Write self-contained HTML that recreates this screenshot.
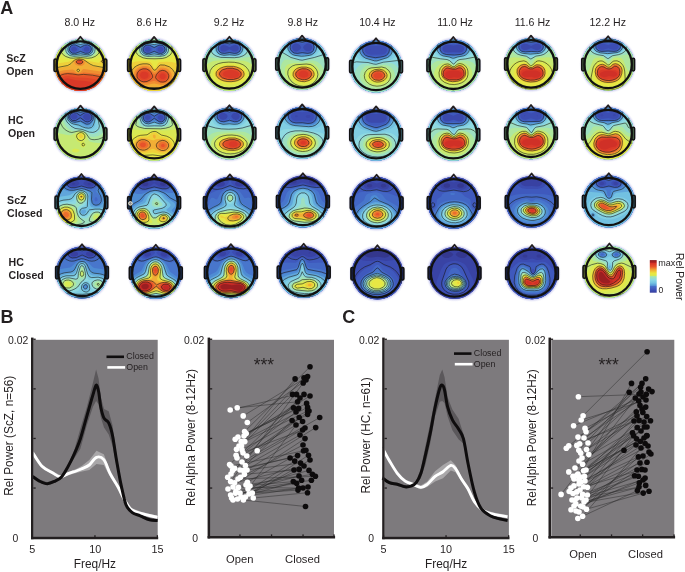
<!DOCTYPE html>
<html><head><meta charset="utf-8"><style>
html,body{margin:0;padding:0;background:#fff;width:685px;height:572px;overflow:hidden}
svg{display:block;will-change:transform}
text{font-family:"Liberation Sans",sans-serif;fill:#231f20}
</style></head><body>
<svg width="685" height="572" viewBox="0 0 685 572">
<text x="0.3" y="13.9" font-size="18" text-anchor="start" font-weight="bold">A</text>
<text x="0.5" y="323" font-size="18" text-anchor="start" font-weight="bold">B</text>
<text x="342.3" y="323" font-size="18" text-anchor="start" font-weight="bold">C</text>
<text x="79.8" y="26.3" font-size="10.6" text-anchor="middle" font-weight="normal">8.0 Hz</text>
<text x="151.9" y="26.3" font-size="10.6" text-anchor="middle" font-weight="normal">8.6 Hz</text>
<text x="229.1" y="26.3" font-size="10.6" text-anchor="middle" font-weight="normal">9.2 Hz</text>
<text x="302.7" y="26.3" font-size="10.6" text-anchor="middle" font-weight="normal">9.8 Hz</text>
<text x="377.4" y="26.3" font-size="10.6" text-anchor="middle" font-weight="normal">10.4 Hz</text>
<text x="455" y="26.3" font-size="10.6" text-anchor="middle" font-weight="normal">11.0 Hz</text>
<text x="532.5" y="26.3" font-size="10.6" text-anchor="middle" font-weight="normal">11.6 Hz</text>
<text x="607.7" y="26.3" font-size="10.6" text-anchor="middle" font-weight="normal">12.2 Hz</text>
<text x="6.3" y="61.9" font-size="10.6" text-anchor="start" font-weight="bold">ScZ</text>
<text x="6.3" y="74.8" font-size="10.6" text-anchor="start" font-weight="bold">Open</text>
<text x="8" y="124" font-size="10.6" text-anchor="start" font-weight="bold">HC</text>
<text x="8" y="136.9" font-size="10.6" text-anchor="start" font-weight="bold">Open</text>
<text x="7.1" y="204.1" font-size="10.6" text-anchor="start" font-weight="bold">ScZ</text>
<text x="7.1" y="217" font-size="10.6" text-anchor="start" font-weight="bold">Closed</text>
<text x="8.5" y="265.9" font-size="10.6" text-anchor="start" font-weight="bold">HC</text>
<text x="8.5" y="278.8" font-size="10.6" text-anchor="start" font-weight="bold">Closed</text>
<defs><radialGradient id="glow"><stop offset="0.86" stop-color="#b0b2e6" stop-opacity="1"/><stop offset="0.93" stop-color="#d4d4f2" stop-opacity="0.6"/><stop offset="1" stop-color="#fff" stop-opacity="0"/></radialGradient></defs>
<clipPath id="c0"><circle cx="80.4" cy="65.1" r="25.9"/></clipPath>
<circle cx="80.4" cy="65.1" r="29.2" fill="url(#glow)"/>
<g clip-path="url(#c0)">
<rect x="54.5" y="39.2" width="51.8" height="51.8" fill="#3b4bae"/>
<path d="M107.7 92.7 52.5 92.7 52.2 92.4 52.5 37 107.9 37.2 108 92.4 107.7 92.7ZM75.1 51.6 76.4 50.8 76.9 50 76.8 48.4 74.9 46.7 72.5 47 71.3 48.4 71.2 49.2 71.7 50.7 73.3 51.7 75.1 51.6ZM87.8 51.6 89.3 50.4 89.5 48.4 88 46.8 85.7 46.8 84 48.4 83.9 50 84.4 50.8 85.7 51.6 87.8 51.6Z" fill="#3f59bd" fill-rule="evenodd"/>
<path d="M107.7 92.7 52.5 92.7 52.2 92.4 52.5 37 107.9 37.2 108 92.4 107.7 92.7ZM76 52.4 78.3 50.8 78.8 50 78.6 48.4 77.2 46.8 75.7 45.9 73.3 45.6 71.7 46.2 70.2 48.4 70.2 50 70.9 51.4 73.3 52.7 76 52.4ZM88.5 52.4 90.1 51.1 90.7 49.2 90.3 47.6 89.3 46.4 87.7 45.7 86.1 45.6 84.5 46.2 82.7 47.6 81.9 49.2 82 50 83.3 51.6 86.1 52.7 88.5 52.4Z" fill="#4367c5" fill-rule="evenodd"/>
<path d="M107.7 92.7 52.5 92.7 52.2 92.4 52.5 37 107.9 37.2 108 92.4 107.7 92.7ZM88 53.2 90.5 51.6 91.3 49.2 90.6 46.8 88.5 45.2 85.3 45.1 80.5 47.6 75.9 45.2 73.3 44.9 70.9 46 69.5 48.4 69.5 50 70.1 51.4 71.1 52.4 72.8 53.2 75.7 53.2 80.5 51.2 85.2 53.2 88 53.2Z" fill="#4876cc" fill-rule="evenodd"/>
<path d="M107.7 92.6 52.3 92.4 52.5 37 107.9 37.2 107.7 92.6ZM89.4 53.2 90.5 52.4 91.6 50.8 91.8 48.4 90.7 46 89.3 44.9 87.7 44.4 85.3 44.5 80.5 46.4 75.7 44.5 73.2 44.4 71.7 44.8 70.1 46 69 48.4 69 50 69.6 51.6 70.9 52.9 72.5 53.6 75.7 53.7 80.5 52.3 86.1 53.8 89.4 53.2Z" fill="#4e8cd4" fill-rule="evenodd"/>
<path d="M107.7 92.6 52.3 92.4 52.5 37 107.9 37.2 107.7 92.6ZM88.7 54 91.3 52.4 92.2 50.8 92.5 49.2 92.2 47.6 91.4 46 90.1 44.8 88.5 44 85.3 43.9 80.5 45.5 75.7 43.9 73.3 43.8 71.7 44.3 70.2 45.2 68.6 47.6 68.4 50 69 51.6 70.4 53.2 72.1 54 74.9 54.3 80.5 53.2 85.3 54.2 88.7 54Z" fill="#60a6db" fill-rule="evenodd"/>
<path d="M107.7 92.6 52.3 92.4 52.5 37.1 107.8 37.2 107.7 92.6ZM74.2 54.8 80.5 53.9 86.1 54.8 89.3 54.3 91.2 53.2 92.5 51.6 93 49.2 92.5 46.8 90.5 44.4 87.7 43.3 85.3 43.3 80.5 44.5 74.9 43.2 71.7 43.6 69.4 45.2 68.3 46.8 67.8 48.4 68 50.8 68.8 52.4 70.1 53.6 71.7 54.4 74.2 54.8Z" fill="#72c1e1" fill-rule="evenodd"/>
<path d="M107.7 92.6 52.3 92.4 52.5 37.1 107.8 37.2 107.7 92.6ZM89.5 54.8 91.1 54 92.7 52.4 93.6 49.2 93.4 47.6 92.5 45.6 90.9 43.9 89.3 43.1 86.1 42.5 80.5 43.6 75.7 42.6 73.3 42.6 70.1 43.8 68.6 45.2 67.7 46.8 67.2 49.2 67.7 51.6 68.7 53.2 70.9 54.6 74.1 55.3 80.5 54.6 86.1 55.3 89.5 54.8Z" fill="#80cee3" fill-rule="evenodd"/>
<path d="M107.7 92.6 52.3 92.4 52.5 37.1 107.8 37.2 107.7 92.6ZM88.6 55.6 90.9 54.8 92.5 53.6 93.9 51.6 94.3 50 94.2 48.4 93.5 46 92.4 44.4 90.1 42.6 86.9 41.8 80.5 42.6 75.7 41.8 73.3 41.9 70.1 43 68.5 44.3 67.3 46 66.5 48.4 66.7 50.8 67.9 53.2 70.1 54.9 74.1 55.8 80.5 55.2 86.1 55.8 88.6 55.6Z" fill="#8ed9e1" fill-rule="evenodd"/>
<path d="M107.7 92.6 52.3 92.4 52.5 37.1 107.8 37.2 107.7 92.6ZM90.6 55.6 92.5 54.6 93.9 53.2 94.7 51.6 95.1 49.2 94.7 46.8 93.5 44.4 91.9 42.8 90.1 41.7 86.1 40.9 80.5 41.4 73.3 41 69.3 42.5 67.7 44 66.4 46 65.7 49.2 66.1 51.6 67.6 54 70.1 55.6 73.3 56.3 80.5 55.9 86.1 56.4 90.6 55.6Z" fill="#9de0c1" fill-rule="evenodd"/>
<path d="M107.7 92.5 52.4 92.4 52.5 37.1 107.8 37.2 107.7 92.5ZM90.4 56.4 92.5 55.5 94.4 54 95.8 51.6 96.1 49.2 95.7 46.8 94.7 44.4 92.5 42 90.1 40.6 86.1 39.7 73.3 39.9 70.9 40.5 68.5 41.8 66.9 43.3 65.7 45.2 64.8 48.4 65 51.6 66.4 54 69.3 56 73.3 56.9 80.5 56.5 86.9 57 90.4 56.4Z" fill="#aee79e" fill-rule="evenodd"/>
<path d="M107.7 92.5 52.4 92.4 52.5 37.2 107.7 37.2 107.7 92.5ZM90.5 57.2 93.3 56.2 95.3 54.8 97 52.4 97.5 50 97.2 46.8 95.9 43.6 93.9 41.2 90.9 39.3 87.7 38.2 84.5 37.8 77.3 37.8 73.3 38.2 70.1 39.2 67.7 40.6 66.1 42 64.5 44.4 63.4 48.4 63.6 51.6 64.8 54 67.7 56.3 72.5 57.5 79.7 57 86.9 57.6 90.5 57.2Z" fill="#c6e972" fill-rule="evenodd"/>
<path d="M107.7 92.5 52.4 92.4 52.5 37.2 67.8 37.2 65.3 38.8 63 41.2 61.7 43.6 61 46 60.6 50 61.1 52.4 62.1 54 64.5 56.1 67.7 57.6 70.9 58.3 79.7 57.5 87.7 58.4 91.7 57.9 95.7 56.4 98.7 54 100 51.6 100.1 47.6 98.8 42.8 96.4 39.6 93.1 37.2 107.7 37.2 107.7 92.5Z" fill="#d9e953" fill-rule="evenodd"/>
<path d="M107.7 92.5 52.5 92.5 52.5 53.6 55.6 55.6 59.7 57.3 65.3 58.8 70.1 59.4 79.7 58 87.7 59.4 93.3 59.2 98.1 58.2 103.4 56.4 107.7 54.1 107.7 92.5Z" fill="#e7e744" fill-rule="evenodd"/>
<path d="M107.7 92.5 52.5 92.5 52.5 64.1 68.5 61.7 75.7 59.1 78.9 58.5 82.1 58.7 88.5 60.9 98.1 62.8 98.9 62.7 99.6 62 100.3 60.4 101.3 59.5 102.9 59.2 103.7 59.5 105 61.2 105.3 63.2 107.7 64 107.7 92.5Z" fill="#eed03a" fill-rule="evenodd"/>
<path d="M107.7 92.5 52.5 92.5 52.5 69.3 68.8 66 71.4 64.4 72.8 62 74.4 60.4 76.5 59.3 79.7 58.8 82.1 59.2 84.8 60.4 89.3 64.6 92.5 66.3 107.7 69.2 107.7 92.5ZM102.1 62 101.7 61.2 102.1 60.7 102.9 60.8 103.2 61.2 102.9 61.9 102.1 62ZM79.2 71.6 79.8 70.8 79.7 69.6 78.9 68.8 77.3 68.9 76.6 70 77.2 71.6 78.1 71.9 79.2 71.6Z" fill="#f1ae35" fill-rule="evenodd"/>
<path d="M80.5 66 77.3 65.6 75.4 64.4 74.7 63.6 74.4 62 75.6 60.4 78.1 59.4 80.5 59.3 82.9 60 84.3 61.2 84.8 62.8 84.1 64.4 82.1 65.8 80.5 66ZM107.7 92.4 52.5 92.4 52.5 73.1 63.7 70.3 72.5 69.5 74.1 69.9 76.5 72.4 78.9 72.9 80.5 72.1 82.9 69.3 83.7 69.1 98.9 71.2 107.7 73 107.7 92.4Z" fill="#ef8e31" fill-rule="evenodd"/>
<path d="M80.5 64.4 78.1 64.3 76.5 63.6 75.7 62.6 75.8 61.2 76.6 60.4 78.9 59.6 80.5 59.7 82.5 60.4 83.3 61.2 83.4 62.8 82.1 64 80.5 64.4ZM107.7 92.4 52.5 92.4 52.5 76.7 62.1 73.1 67.7 72.2 73.3 72.5 78.1 74 83.7 72.6 89.3 72.9 97.3 73.9 104.8 75.6 107.7 76.5 107.7 92.4Z" fill="#eb6e2d" fill-rule="evenodd"/>
<path d="M79.7 63.7 78.1 63.5 76.9 62.8 76.5 62 76.7 61.2 77.7 60.4 79.7 60 81.4 60.4 82.4 61.2 82.6 62 82.1 62.8 79.7 63.7ZM106.9 92.4 53.3 92.4 52.5 91.9 52.5 80.9 61.3 75.6 66.1 74.2 70.1 74.3 78.1 75.4 86.9 75.3 96.5 76.6 102.9 78.4 107.7 80.6 107.7 92.3 106.9 92.4Z" fill="#e7522a" fill-rule="evenodd"/>
<path d="M80.5 62.8 78.1 62.6 77.5 62 77.7 61.2 79.7 60.5 81.3 61.2 81.5 62 80.5 62.8ZM98.1 92.4 62.1 92.4 58.8 90.8 56.8 89.2 55.8 87.6 55.6 85.2 56.8 82.8 59.6 79.6 62.8 77.2 65.3 76.3 68.5 76.1 75.7 77.4 85.3 77.8 90.9 78.5 95.9 79.6 100.2 81.2 102.9 82.8 104.8 85.2 104.8 87.6 103.8 89.2 101.3 91.1 98.1 92.4Z" fill="#e04629" fill-rule="evenodd"/>
<path d="M86.9 91.7 81.3 92.2 76.5 92 71.7 91.4 66.5 90 63.5 88.4 61.9 86.8 61.3 85.2 61.5 82.8 62.2 81.2 63.7 79.5 65.3 78.7 67.7 78.3 75.7 80.3 85.3 81 90.1 81.8 94.5 83.6 96.2 85.2 96.5 86 96.2 87.6 94.6 89.2 90.9 90.8 86.9 91.7Z" fill="#da3928" fill-rule="evenodd"/>
<path d="M88.3 53.2 90.6 51.6 91.4 49.2 91.1 47.6 90.1 46.1 87.7 44.9 84.6 45.2 80.5 47.4 75.7 45 73.3 44.8 70.8 46 69.4 48.4 69.4 50 70.1 51.5 72.5 53.2 75.7 53.3 80.5 51.4 85.3 53.3 88.3 53.2M87.2 54.8 89.3 54.4 91.3 53.2 92.5 51.6 93 50 92.8 47.6 92.1 46 90.9 44.7 89.3 43.7 86.1 43.1 80.5 44.5 75.7 43.3 73.3 43.2 70.1 44.5 68.3 46.8 67.8 48.4 68 50.8 68.8 52.4 70.9 54.1 74.1 54.8 80.5 53.9 87.2 54.8M90.6 55.6 92.5 54.6 93.9 53.2 94.7 51.6 95.1 49.2 94.7 46.8 93.4 44.4 91.8 42.8 90.1 41.8 86.1 40.9 80.5 41.4 73.3 41 69.3 42.5 67.7 44 66.4 46 65.7 49.2 66.1 51.6 67.6 54 70.1 55.6 74.1 56.3 80.5 55.8 86.9 56.3 90.6 55.6M68.7 37.2 66.1 38.7 64.2 40.4 61.9 44.4 61 50 61.5 52.4 62.4 54 65.5 56.4 70.1 58 73.3 58.2 80.5 57.5 87.7 58.3 91.7 57.8 95.3 56.4 98.3 54 99.6 51.6 99.5 46.8 98.3 42.8 95.8 39.6 92.1 37.2M52.5 68.4 67.7 65.5 70.9 63.7 73.1 61.2 74.9 59.9 77.3 59 79.7 58.8 83.6 59.6 90.1 64.1 93.3 65.6 107.7 68.3M102.9 62.4 102.1 62.4 101.6 62 101.3 61.2 102.1 60.3 102.9 60.3 103.5 61.2 102.9 62.4M78.7 71.6 79.5 70.8 79.5 70 78.9 69.3 78.1 69.1 77.3 69.5 77 70.8 77.8 71.6 78.7 71.6M80.5 63.8 78.9 63.9 77.3 63.3 76.2 62 76.4 61.2 77.3 60.4 78.9 60 81.7 60.4 82.6 61.2 82.8 62 82.1 63.1 80.5 63.8M52.5 79.5 61.7 74.8 64.5 74 67.7 73.6 72.5 74 78.1 74.9 83.7 74.4 92.5 75.2 101.3 76.9 107.7 79.3" fill="none" stroke="#1a1a1a" stroke-width="0.7" stroke-opacity="0.85"/>
</g>
<rect x="54" y="58.9" width="2.8" height="12.6" rx="1.3" fill="#6a611b" stroke="#111" stroke-width="1.5"/>
<rect x="104" y="58.9" width="2.8" height="12.6" rx="1.3" fill="#6a611b" stroke="#111" stroke-width="1.5"/>
<path d="M76.2 42 L80.4 36.8 L84.6 42" fill="none" stroke="#231f20" stroke-width="1.8" stroke-linejoin="round"/>
<circle cx="80.4" cy="65.1" r="23.7" fill="none" stroke="#111" stroke-width="2.3"/>
<clipPath id="c1"><circle cx="154.1" cy="65.2" r="25.9"/></clipPath>
<circle cx="154.1" cy="65.2" r="29.2" fill="url(#glow)"/>
<g clip-path="url(#c1)">
<rect x="128.2" y="39.3" width="51.8" height="51.8" fill="#3b4aae"/>
<path d="M181.4 92.7 126 92.5 126.2 37.1 181.6 37.3 181.4 92.7ZM148.8 51.7 150.1 50.9 150.6 50.1 150.6 48.5 150 47.7 148.6 46.8 146.2 47 145 48.5 144.9 49.3 145.4 50.8 147 51.8 148.8 51.7ZM161.5 51.7 163.2 50.1 163 48 161.4 46.8 159 47.1 157.6 48.5 157.6 50.1 158.1 50.9 159.4 51.7 161.5 51.7Z" fill="#3f59bd" fill-rule="evenodd"/>
<path d="M181.4 92.7 126 92.5 126.2 37.1 181.6 37.3 181.4 92.7ZM149.6 52.5 151.9 50.9 152.4 50.1 152.3 48.5 150.9 46.9 149.4 46 147 45.7 145.4 46.3 143.9 48.5 143.9 50.1 144.6 51.4 147 52.7 149.6 52.5ZM162.1 52.5 163.3 51.7 164.3 50.1 164.3 48.5 163 46.5 161.4 45.8 159.8 45.7 158.2 46.3 156.5 47.7 155.7 49.3 155.8 50.1 157.1 51.7 159.8 52.8 162.1 52.5Z" fill="#4367c5" fill-rule="evenodd"/>
<path d="M181.4 92.7 126 92.5 126.2 37.1 181.6 37.3 181.4 92.7ZM161.5 53.3 163 52.7 164.2 51.7 165 49.3 164.2 46.9 162.2 45.3 159 45.2 154.2 47.9 149.5 45.3 147 45.1 144.6 46.2 143.3 48.5 143.3 50.1 144 51.7 145.4 52.8 146.8 53.3 149.4 53.2 154.2 51.1 159 53.3 161.5 53.3Z" fill="#4876cc" fill-rule="evenodd"/>
<path d="M181.4 92.7 126 92.5 126.2 37.1 181.6 37.3 181.4 92.7ZM162.9 53.3 164.8 51.7 165.5 50.1 165.5 48.5 164.3 46.1 163 45.1 161.4 44.6 159 44.7 154.2 46.7 149.4 44.7 147 44.5 145.4 45 143.9 46.1 142.7 48.5 142.7 50.1 143.4 51.7 144.6 52.9 146.2 53.7 149.4 53.7 154.2 52.2 159 53.8 161.4 53.8 162.9 53.3Z" fill="#4e8cd4" fill-rule="evenodd"/>
<path d="M181.4 92.7 126 92.5 126.2 37.1 181.6 37.3 181.4 92.7ZM162.1 54.1 164.8 52.5 165.8 50.9 166.1 49.3 165.8 47.7 164.9 46.1 163.8 45 162.2 44.2 159 44.1 154.2 45.7 149.4 44.1 147 44 144 45.3 142.4 47.7 142.2 50.1 142.8 51.7 144.3 53.3 146.1 54.1 149.4 54.2 154.2 53.1 159 54.3 162.1 54.1Z" fill="#60a6db" fill-rule="evenodd"/>
<path d="M181.4 92.6 126.1 92.5 126.2 37.2 181.5 37.3 181.4 92.6ZM163.5 54.1 164.7 53.3 166 51.7 166.5 50.1 166.5 48.5 166.1 46.9 165 45.3 162.2 43.7 159 43.5 154.2 44.8 149.4 43.5 146.2 43.6 143.2 45.3 141.8 47.7 141.7 50.1 142.2 51.7 143.5 53.3 145.4 54.4 148.6 54.8 154.2 53.8 160.6 54.8 163.5 54.1Z" fill="#72c1e1" fill-rule="evenodd"/>
<path d="M181.4 92.6 126.1 92.5 126.2 37.2 181.5 37.3 181.4 92.6ZM162.8 54.9 164.6 54.1 166.2 52.5 167 50.9 167.2 49.3 166.2 46 164.9 44.5 163 43.3 159.8 42.8 154.2 43.9 149.4 42.9 147 42.9 143.8 44.1 142.5 45.3 141.5 46.9 141 49.3 141.5 51.7 142.7 53.3 144.6 54.6 147.8 55.3 154.2 54.5 159.8 55.3 162.8 54.9Z" fill="#80cee3" fill-rule="evenodd"/>
<path d="M181.4 92.6 126.1 92.5 126.2 37.2 181.5 37.3 181.4 92.6ZM161.6 55.7 163.8 55.1 165.5 54.1 166.9 52.5 167.6 50.9 167.7 48.5 167 46.1 165.9 44.5 163.8 43 160.6 42.1 154.2 43 149.4 42.2 147 42.2 143.8 43.3 142.3 44.5 141.2 46.1 140.4 49.3 140.8 51.7 141.8 53.3 144 54.9 147.8 55.8 154.2 55.2 159 55.8 161.6 55.7Z" fill="#8ed9e1" fill-rule="evenodd"/>
<path d="M181.4 92.6 126.1 92.5 126.2 37.2 181.5 37.3 181.4 92.6ZM163.9 55.7 166.2 54.4 167.8 52.5 168.4 50.9 168.5 48.5 167.8 46.1 166.8 44.5 165.4 43.1 163 41.8 159.8 41.3 154.2 41.9 149.4 41.3 146.2 41.5 143.8 42.5 142.2 43.6 140.1 46.9 139.7 50.1 140.4 52.5 142.2 54.5 144.6 55.8 147.8 56.4 154.2 56 159.8 56.4 163.9 55.7Z" fill="#9de0c1" fill-rule="evenodd"/>
<path d="M181.4 92.6 126.1 92.5 126.2 37.2 181.5 37.3 181.4 92.6ZM163.5 56.5 166.2 55.3 167.8 53.9 169.1 51.7 169.4 49.3 169 46.9 167.9 44.5 166.2 42.6 163.8 41.2 159.8 40.3 154.2 40.6 148.6 40.3 146.2 40.6 142.2 42.4 140.6 44.1 139.5 46.1 138.8 49.3 139.5 52.5 141.4 54.9 143.8 56.2 148.6 57 154.2 56.7 160.6 57 163.5 56.5Z" fill="#aee79e" fill-rule="evenodd"/>
<path d="M181.4 92.6 126.1 92.5 126.2 37.3 181.4 37.3 181.4 92.6ZM163.4 57.3 166.2 56.3 168.6 54.5 170 52.5 170.5 50.1 170.4 47.7 169.3 44.5 167.4 42.1 164.6 40.1 162.2 39.3 159 38.8 147 39.1 142.2 40.9 140 42.9 138.9 44.5 137.8 47.7 137.9 51.7 139.2 54.1 142.2 56.4 144.6 57.3 147.8 57.7 159.8 57.8 163.4 57.3Z" fill="#c6e972" fill-rule="evenodd"/>
<path d="M181.4 92.5 126.2 92.5 126.2 37.3 145.5 37.3 140.6 39.7 137.6 42.9 136 47.7 135.8 50.1 136.2 52.5 137.2 54.1 138.8 55.7 143 57.8 147 58.6 155 58.8 162.2 58.5 166.2 57.5 170.2 55 171.9 52.5 172.4 50.1 172.2 47.7 170.6 42.9 169.4 41.3 167 39.2 162.7 37.3 181.4 37.3 181.4 92.5Z" fill="#d9e953" fill-rule="evenodd"/>
<path d="M181.4 92.5 126.2 92.5 126.2 37.3 136.1 37.3 133.1 40.5 131.9 42.9 131.3 45.3 131.3 51.7 131.9 53.3 133.3 54.9 136.6 57 140.6 58.6 144.6 59.5 151 60 155 61 158.2 60.1 163.8 59.5 167.8 58.6 171.8 56.9 174.9 54.9 176.3 53.3 176.9 51.7 177.2 49.3 176.9 45.3 175.6 41.3 173.8 38.9 172.1 37.3 181.4 37.3 181.4 92.5Z" fill="#e7e744" fill-rule="evenodd"/>
<path d="M167.8 92.5 139.7 92.5 135.8 91.2 131 88.9 126.2 85.1 126.2 66.5 128.6 64.5 131.8 62.7 135 61.7 139 61.3 147 61.5 150.2 62 151.8 63.5 153.4 67.3 154.2 68.1 155 68.2 156.2 66.9 158.1 62.9 159.8 62 167 61.7 171.8 62 175.6 62.9 179 64.5 181.4 66.3 181.4 85.5 178.7 87.7 175 89.9 167.8 92.5Z" fill="#eed03a" fill-rule="evenodd"/>
<path d="M165.4 87 161.4 87.6 154.2 87.2 145.4 87.5 142.2 87.1 138.2 85.8 134.2 83.1 131.7 79.7 130.7 75.7 131.5 71.7 133.4 68.6 135.8 66.5 139 64.8 142.2 64 146.2 63.9 149.4 64.5 151 66.1 153 69.3 154.2 70.3 155.8 69.9 159 65.9 160.6 65.1 163.8 65.1 167.8 66.2 171 68.2 173.4 70.9 174.8 74.1 174.9 77.3 173.9 80.5 171.8 83.4 168.6 85.8 165.4 87Z" fill="#f1ae35" fill-rule="evenodd"/>
<path d="M165.4 84.5 161.4 85 154.2 83.6 146.2 84.9 143 84.7 140.6 84.1 137.4 82.5 134.9 79.7 133.7 76.5 134.1 72.5 135.4 70.1 137.4 68.2 139.8 66.9 143 66 146.2 66 148.6 66.5 150.2 67.6 152.6 70.8 154.2 72 155.8 71.6 159 68.4 160.6 67.6 163 67.5 166.2 68.2 168.6 69.6 170.5 71.7 171.6 74.1 171.9 76.5 171.4 78.9 170.1 81.3 167.8 83.4 165.4 84.5Z" fill="#ef8e31" fill-rule="evenodd"/>
<path d="M164.6 83.1 160.6 83.2 154.2 80.7 146.2 83 143.8 83.1 141.4 82.6 138.7 81.3 136.5 78.9 135.6 76.5 135.8 73.3 136.6 71.5 138.2 69.7 140.6 68.2 143 67.6 146.2 67.6 148.6 68.4 150.2 69.6 153.4 73.6 154.2 74 155.8 73.4 159 70.2 160.6 69.4 163 69.2 165.4 69.7 167.5 70.9 168.9 72.5 169.7 74.1 170.1 76.5 169.5 78.9 168.6 80.5 167 82 164.6 83.1Z" fill="#eb6e2d" fill-rule="evenodd"/>
<path d="M147 81.3 143.8 81.7 141.4 81.1 139.1 79.7 137.8 78.1 137.1 76.5 137.1 74.1 138.2 71.7 140 70.1 143 69 146.2 69.1 148.7 70.1 150.8 72.5 152.3 75.7 152.3 77.3 150.3 79.7 147 81.3ZM165.4 81.3 163 82 160.6 81.7 158.2 80.5 156 78.1 155.9 76.5 156.6 74.9 158.2 72.6 159.8 71.3 161.4 70.7 163.8 70.7 166.2 71.7 167.8 73.4 168.6 75.7 168.3 78.1 167 80.2 165.4 81.3Z" fill="#e7522a" fill-rule="evenodd"/>
<path d="M147 79.8 145.4 80.3 143 80.2 141.4 79.7 139.4 78.1 138.6 76.5 138.4 74.9 138.9 73.3 140.1 71.7 142.2 70.5 144.6 70.2 147 70.7 149.2 72.5 150.3 74.9 150.3 76.5 149.4 78.1 147 79.8ZM163.8 80.6 161.4 80.5 159.8 79.8 158.7 78.9 157.9 77.3 157.9 75.7 158.6 74.1 159.8 72.8 161.4 72 163 71.9 164.6 72.3 166.1 73.3 167.1 74.9 167.3 76.5 166.9 78.1 165.6 79.7 163.8 80.6Z" fill="#e04629" fill-rule="evenodd"/>
<path d="M144.6 79 143 78.8 141.5 78.1 140.6 77.2 140 75.7 140.5 73.3 141.4 72.4 143 71.7 145.4 71.7 147 72.4 147.9 73.3 148.6 74.9 148.3 76.5 147.8 77.4 146.2 78.5 144.6 79ZM163.8 79.1 161.4 79 159.7 77.3 159.8 75.1 161.4 73.6 163.8 73.5 165.5 74.9 165.6 77.3 165.2 78.1 163.8 79.1Z" fill="#da3928" fill-rule="evenodd"/>
<path d="M161.8 53.3 164.3 51.7 165.1 49.3 164.3 46.9 162.2 45.2 159 45.1 154.2 47.6 149.7 45.3 147 45 144.5 46.1 143.2 48.5 143.2 50.1 143.8 51.5 144.7 52.5 146.4 53.3 149.4 53.3 154.2 51.3 158.8 53.3 161.8 53.3M163.6 54.1 164.8 53.3 166.1 51.7 166.6 50.1 166.6 48.5 166.1 46.9 165 45.3 162.2 43.6 159 43.4 154.2 44.7 149.4 43.5 146.2 43.5 144.6 44.2 143.2 45.3 141.8 47.7 141.6 50.1 142.1 51.7 143.4 53.3 145.4 54.4 148.6 54.9 154.2 53.9 160.6 54.9 163.6 54.1M164 55.7 165.5 54.9 167.3 53.3 168.4 50.9 168.5 48.5 167.8 46.1 166.9 44.5 165.4 43.1 163 41.8 159.8 41.3 154.2 41.8 149.4 41.3 146.2 41.5 143.8 42.4 142.2 43.6 140.8 45.3 140 46.9 139.7 50.1 140.4 52.5 142.2 54.6 144.6 55.8 147.8 56.4 154.2 56 159.8 56.4 164 55.7M145.5 37.3 140.6 39.7 137.6 42.9 136 47.7 135.8 50.1 136.2 52.5 137.2 54.1 138.8 55.7 143 57.8 147 58.6 155 58.8 162.2 58.5 166.2 57.5 170.2 55 171.9 52.5 172.4 50.1 172.2 47.7 170.6 42.9 169.4 41.3 167 39.2 162.7 37.3M162.2 87.7 144.6 87.6 139.8 86.6 136.6 85.1 133 82.1 130.9 78.1 130.6 74.1 132.1 70.1 134 67.7 136.6 65.8 139.8 64.4 143 63.8 147 63.8 149.4 64.4 151 65.9 153.1 69.3 154.2 70.2 155.8 69.8 159 65.8 160.6 64.9 164.6 65.1 169.4 66.8 172.5 69.3 174.5 72.5 175.3 75.7 174.8 78.9 173.2 82.1 170.2 85 167 86.7 162.2 87.7M147 81.5 143.8 81.8 141.4 81.3 139 79.8 137.6 78.1 137 76.5 137 74.1 138.1 71.7 139.8 70.1 143 68.8 146.2 68.9 148.9 70.1 151 72.5 152.6 75.7 152.7 77.3 150.6 79.7 147 81.5M163 82.1 160.6 81.9 158.2 80.7 156.2 78.9 155.5 77.3 156.3 74.9 158.2 72.4 159.8 71.1 162.2 70.4 164.6 70.7 166.5 71.7 167.9 73.3 168.8 75.7 168.5 78.1 167 80.4 165.4 81.5 163 82.1" fill="none" stroke="#1a1a1a" stroke-width="0.7" stroke-opacity="0.85"/>
</g>
<rect x="127.6" y="59" width="2.8" height="12.6" rx="1.3" fill="#6a631b" stroke="#111" stroke-width="1.5"/>
<rect x="177.8" y="59" width="2.8" height="12.6" rx="1.3" fill="#6a641b" stroke="#111" stroke-width="1.5"/>
<path d="M149.9 42.1 L154.1 36.9 L158.3 42.1" fill="none" stroke="#231f20" stroke-width="1.8" stroke-linejoin="round"/>
<circle cx="154.1" cy="65.2" r="23.7" fill="none" stroke="#111" stroke-width="2.3"/>
<clipPath id="c2"><circle cx="229.4" cy="65" r="25.9"/></clipPath>
<circle cx="229.4" cy="65" r="29.2" fill="url(#glow)"/>
<g clip-path="url(#c2)">
<rect x="203.5" y="39.1" width="51.8" height="51.8" fill="#3a49ac"/>
<path d="M256.7 92.5 201.3 92.3 201.5 36.9 256.9 37.1 256.7 92.5ZM236.1 51.5 237.5 50.8 238.3 49.9 238.7 48.3 238.3 46.7 237.6 45.9 235.9 45 233.5 45.2 229.5 47.3 225.5 45.3 223.1 45 221.2 45.9 220.2 47.5 220.5 49.9 221.5 50.9 222.7 51.5 224.9 51.5 229.5 49.3 233.5 51.4 236.1 51.5Z" fill="#3f59bd" fill-rule="evenodd"/>
<path d="M256.7 92.5 201.3 92.3 201.5 36.9 256.9 37.1 256.7 92.5ZM237.1 52.3 239.1 50.7 239.9 48.3 239.1 45.8 236.7 44.1 234.3 43.9 229.5 45 225.5 44 223.1 43.9 220.7 44.8 219.1 47.2 219 49.1 219.7 50.7 220.7 51.7 222.3 52.5 224.7 52.6 229.5 51.5 234.3 52.6 237.1 52.3Z" fill="#4367c5" fill-rule="evenodd"/>
<path d="M256.7 92.5 201.3 92.3 201.5 37 256.8 37.1 256.7 92.5ZM236.9 53.1 239.4 51.5 240.3 49.9 240.6 48.3 240.4 46.7 239.5 45.1 238.3 44 236.7 43.3 234.3 43.1 229.5 43.9 224.7 43.1 222.3 43.2 219.9 44.5 218.4 46.7 218.2 49.1 218.8 50.7 220.3 52.3 221.9 53.1 224.7 53.3 229.5 52.5 234.3 53.4 236.9 53.1Z" fill="#4876cc" fill-rule="evenodd"/>
<path d="M256.7 92.4 201.4 92.3 201.5 37 256.8 37.1 256.7 92.4ZM236.1 53.9 238.3 53.2 239.5 52.3 240.7 50.7 241.2 49.1 241.1 46.7 240.3 45.1 239.1 43.8 237.5 42.8 235.1 42.3 229.5 43 223.1 42.4 219.9 43.6 218 45.9 217.6 47.5 217.8 49.9 219.1 52.1 220.7 53.3 223.9 54 229.5 53.3 236.1 53.9Z" fill="#4e8cd4" fill-rule="evenodd"/>
<path d="M256.7 92.4 201.4 92.3 201.5 37 256.8 37.1 256.7 92.4ZM238.3 53.9 239.9 52.9 241.1 51.5 241.8 49.9 242 47.5 240.7 44.3 239.1 42.9 237.5 42 234.3 41.5 229.5 42.1 224.7 41.5 222.3 41.8 219.1 43.3 217.2 45.9 216.8 48.3 217.3 50.7 218.3 52.3 220.7 54 223.9 54.6 229.5 54 235.1 54.6 238.3 53.9Z" fill="#60a6db" fill-rule="evenodd"/>
<path d="M256.7 92.4 201.4 92.3 201.5 37 256.8 37.1 256.7 92.4ZM238.1 54.7 239.9 53.8 241.5 52.3 242.3 50.7 242.8 48.3 242.5 45.9 241.7 44.3 240.3 42.7 238.3 41.4 235.1 40.6 229.5 40.9 223.1 40.7 220.7 41.3 219.1 42.2 216.7 45.1 216 47.5 216.4 50.7 218 53.1 219.9 54.4 223.9 55.2 229.5 54.8 235.1 55.2 238.1 54.7Z" fill="#72c1e1" fill-rule="evenodd"/>
<path d="M256.7 92.4 201.4 92.3 201.5 37 256.8 37.1 256.7 92.4ZM238 55.5 240 54.7 242 53.1 243.4 50.7 243.8 48.3 243.6 45.9 242.5 43.5 241.1 41.9 239.1 40.6 236.7 39.7 234.3 39.4 223.1 39.5 219.1 40.9 216.9 42.7 215.9 44.3 215 47.5 215.4 50.7 216.8 53.1 219.1 54.9 221.5 55.7 223.9 56 229.5 55.6 235.1 55.9 238 55.5Z" fill="#80cee3" fill-rule="evenodd"/>
<path d="M256.7 92.3 201.5 92.3 201.5 37.1 256.7 37.1 256.7 92.3ZM238.4 56.3 240.7 55.5 242.9 53.9 244.5 51.5 245.2 49.1 245.1 45.9 244.3 43.5 242.6 41.1 239.9 39.1 237.5 38.2 233.5 37.5 227.1 37.4 223.1 37.8 220.7 38.4 217.5 40 215.5 41.9 214.5 43.5 213.6 46.7 214 50.7 215.2 53.1 217.5 55.1 219.9 56.2 223.1 56.7 235.1 56.7 238.4 56.3Z" fill="#8ed9e1" fill-rule="evenodd"/>
<path d="M256.7 92.3 201.5 92.3 201.5 37.1 216.1 37.1 213.1 39.5 211.2 42.7 210.7 46.7 211.5 51.5 213 53.9 215.9 55.9 219.9 57.2 223.9 57.7 236.7 57.6 240.7 56.8 243.6 55.5 245.8 53.9 247.3 51.5 248 48.3 248.1 45.1 246.9 41.1 244.9 38.7 242.7 37.1 256.7 37.1 256.7 92.3Z" fill="#9de0c1" fill-rule="evenodd"/>
<path d="M256.7 92.3 201.5 92.3 201.5 55.7 218.3 58.4 223.9 58.8 238.3 58.6 256.7 55.8 256.7 92.3Z" fill="#aee79e" fill-rule="evenodd"/>
<path d="M235.9 92.3 222.2 92.3 220.7 92 213.5 89.3 207.9 85.5 204.4 81.1 203.4 78.7 202.7 75.5 202.9 72.3 203.5 69.9 204.7 67.5 206.5 65.1 209.4 62.7 213.5 61.1 217.5 60.5 227.9 60.1 243.9 60.8 247.9 61.9 251.5 64.3 254.6 68.3 255.9 72.3 255.9 77.1 254.3 81.1 251.3 85.1 247.1 88.3 241.5 91 235.9 92.3Z" fill="#c6e972" fill-rule="evenodd"/>
<path d="M235.1 87.6 228.7 88.2 223.1 87.5 217.5 85.5 213.5 82.7 210.5 78.7 209.4 74.7 210.2 70.7 212.3 67.5 215.1 65.1 218.5 63.5 223.1 62.5 228.7 62.1 234.3 62.3 239.1 63.1 243.1 64.7 245.8 66.7 248 69.1 249.4 72.3 249.6 75.5 248.5 78.7 246.3 81.7 243.3 84.3 239.1 86.5 235.1 87.6Z" fill="#d9e953" fill-rule="evenodd"/>
<path d="M231.9 84.4 227.9 84.5 223.9 83.8 219.9 82.4 215.9 79.7 213.7 77.1 212.9 74.7 213.1 72.3 214.4 69.9 216.7 67.8 220.7 65.7 224.7 64.6 228.7 64.2 233.5 64.4 237.5 65.2 240.7 66.5 243.9 68.5 245.9 70.7 246.8 73.1 246.6 75.5 245.4 77.9 243.1 80.2 239.9 82.2 235.9 83.6 231.9 84.4Z" fill="#e7e744" fill-rule="evenodd"/>
<path d="M235.9 81.9 231.9 82.5 227.1 82.5 223.1 81.7 219.9 80.4 217.3 78.7 215.3 76.3 214.7 73.9 215.3 71.5 216.7 69.7 219.1 67.9 222.3 66.5 226.3 65.6 233.5 65.6 237.5 66.5 240.7 67.8 243.1 69.6 244.6 71.5 245.2 73.1 245 75.5 243.6 77.9 241.5 79.7 239.1 80.9 235.9 81.9Z" fill="#eed03a" fill-rule="evenodd"/>
<path d="M235.1 81.2 231.1 81.7 227.1 81.5 223.9 80.9 220.7 79.7 218 77.9 216.3 75.5 216.1 73.1 216.7 71.5 218.3 69.7 220.7 68.1 223.9 66.9 227.1 66.3 233.5 66.4 236.7 67.1 239.9 68.4 242 69.9 243.4 71.5 244.1 73.9 243.8 75.5 242.9 77.1 240.7 79.1 237.5 80.6 235.1 81.2Z" fill="#f1ae35" fill-rule="evenodd"/>
<path d="M235.1 80.5 231.9 80.9 227.9 80.8 224.7 80.3 221.5 79.1 219.5 77.9 218 76.3 217.3 74.7 217.5 72.3 218.6 70.7 220.6 69.1 225.5 67.3 231.9 66.9 235.1 67.4 238.3 68.5 240.7 69.9 242.2 71.5 243 73.1 243 74.7 242.4 76.3 240.7 78.1 238.3 79.5 235.1 80.5Z" fill="#ef8e31" fill-rule="evenodd"/>
<path d="M230.3 80.3 224.7 79.6 220.7 77.7 219.2 76.3 218.4 74.7 218.4 73.1 219.1 71.5 220.8 69.9 223.9 68.4 227.1 67.7 230.3 67.5 233.5 67.8 236.7 68.6 239.4 69.9 241.2 71.5 242 73.1 242 74.7 241.4 76.3 239.9 77.9 235.9 79.7 230.3 80.3Z" fill="#eb6e2d" fill-rule="evenodd"/>
<path d="M232.7 79.6 227.1 79.4 222.5 77.9 220 75.5 219.5 73.9 219.9 72.3 222.4 69.9 227.5 68.3 232.7 68.3 238 69.9 240.7 72.3 241.2 73.9 240.9 75.5 239.7 77.1 238.3 78.1 235.9 79 232.7 79.6Z" fill="#e7522a" fill-rule="evenodd"/>
<path d="M234.3 78.7 228.7 78.8 223.9 77.5 221.4 75.5 221 73.9 221.4 72.3 223.9 70.2 227.9 69 233 69.1 237.5 70.5 239.1 71.8 240 73.1 239.9 75.5 239.1 76.6 237.5 77.7 234.3 78.7Z" fill="#e04629" fill-rule="evenodd"/>
<path d="M234.3 77.9 229.5 78 225.9 77.1 223.6 75.5 223.1 74.5 223.2 73.1 224.7 71.4 228.7 70.1 231.9 70 235.9 70.9 238.3 72.4 239.1 73.9 239.1 74.7 238.3 76.2 237.5 76.8 234.3 77.9Z" fill="#da3928" fill-rule="evenodd"/>
<path d="M237 53.1 239.5 51.5 240.4 49.9 240.7 48.3 240.4 46.7 239.5 45.1 238.3 44 236.7 43.3 234.3 43 229.5 43.9 224.7 43 222.3 43.2 219.9 44.4 218.4 46.7 218.2 49.1 218.8 50.7 220.2 52.3 221.8 53.1 224.7 53.4 229.5 52.5 234.3 53.4 237 53.1M238.2 54.7 239.9 53.8 241.5 52.3 242.4 50.7 242.9 48.3 242.5 45.9 241.8 44.3 240.4 42.7 238.3 41.4 235.1 40.6 229.5 40.9 223.1 40.7 219.1 42.2 217.6 43.5 216.6 45.1 216 47.5 216.4 50.7 218 53.1 219.9 54.4 223.9 55.3 229.5 54.8 235.1 55.3 238.2 54.7M215.9 37.1 212.3 40.3 211.4 41.9 210.6 44.3 211 49.9 211.8 52.3 212.9 53.9 215.9 55.9 220.7 57.4 234.3 57.7 239.1 57.2 243.1 55.8 245.9 53.9 247.4 51.5 248.3 46.7 247.8 42.7 245.8 39.5 242.9 37.1M235.1 87.6 228.7 88.2 223.1 87.5 217.5 85.4 213.6 82.7 210.5 78.7 209.5 74.7 210.2 70.7 212.3 67.5 215.2 65.1 218.6 63.5 223.1 62.5 228.7 62.1 234.3 62.3 239.1 63.2 243.1 64.8 245.8 66.7 248.4 69.9 249.4 72.3 249.5 75.5 248.4 78.7 246.1 81.9 243.2 84.3 239.1 86.4 235.1 87.6M235.1 81.2 231.1 81.7 227.1 81.5 223.9 80.9 220.7 79.7 218 77.9 216.3 75.5 216.1 73.1 216.7 71.5 218.3 69.6 220.7 68.1 223.9 66.9 227.1 66.3 233.5 66.4 236.7 67.1 239.9 68.4 242 69.9 243.4 71.5 244.1 73.9 243.8 75.5 242.9 77.1 240.7 79.1 237.5 80.6 235.1 81.2M233.5 79.5 227.7 79.5 222.5 77.9 219.9 75.5 219.5 73.9 219.9 72.3 222.4 69.9 227.4 68.3 232.8 68.3 238 69.9 240.7 72.3 241.2 73.9 240.9 75.5 239.7 77.1 238.3 78.1 233.5 79.5" fill="none" stroke="#1a1a1a" stroke-width="0.7" stroke-opacity="0.85"/>
</g>
<rect x="202.9" y="58.8" width="2.8" height="12.6" rx="1.3" fill="#516740" stroke="#111" stroke-width="1.5"/>
<rect x="253.1" y="58.8" width="2.8" height="12.6" rx="1.3" fill="#516740" stroke="#111" stroke-width="1.5"/>
<path d="M225.2 41.9 L229.4 36.7 L233.6 41.9" fill="none" stroke="#231f20" stroke-width="1.8" stroke-linejoin="round"/>
<circle cx="229.4" cy="65" r="23.7" fill="none" stroke="#111" stroke-width="2.3"/>
<clipPath id="c3"><circle cx="302.1" cy="63.9" r="25.9"/></clipPath>
<circle cx="302.1" cy="63.9" r="29.2" fill="url(#glow)"/>
<g clip-path="url(#c3)">
<rect x="276.2" y="38" width="51.8" height="51.8" fill="#3a49ab"/>
<path d="M329.4 91.4 274 91.2 274.2 35.8 329.6 36 329.4 91.4ZM297.4 51.2 299.9 49.6 301.1 48 301.1 47.2 300.2 45.6 298.2 44 296.6 43.4 295 43.5 293.4 44.4 292.5 45.6 292.1 47.2 292.4 48.8 293.4 50.4 294.2 50.9 295.8 51.4 297.4 51.2ZM309.4 51.2 310.8 50.4 311.8 49 312.1 47.2 311.8 45.7 310.2 43.9 308.6 43.4 307 43.6 304 45.6 303.1 47.2 303.2 48 304.3 49.6 306.2 50.9 307.8 51.3 309.4 51.2Z" fill="#3f59bd" fill-rule="evenodd"/>
<path d="M329.4 91.4 274 91.2 274.2 35.9 329.5 36 329.4 91.4ZM310.5 52 312.6 50 313.3 47.2 312.6 44.6 310.2 42.4 307 42.1 302.2 43.9 297.4 42.2 295 42.1 292.6 43.3 291.2 45.6 291 48 291.5 49.6 292.6 51.2 294.2 52.2 297.4 52.5 302.2 51.1 307 52.5 308.6 52.5 310.5 52Z" fill="#4367c5" fill-rule="evenodd"/>
<path d="M329.4 91.3 274.1 91.2 274.2 35.9 329.5 36 329.4 91.3ZM310.6 52.8 311.9 52 313.3 50.4 314.2 47.2 313.3 44 311.9 42.4 310.2 41.4 307 41.1 302.2 42.4 297.4 41.2 295 41.1 292.3 42.4 290.6 44.8 290.1 47.2 290.6 49.6 291.8 51.5 294.2 53 297.4 53.4 302.2 52.7 307.8 53.4 310.6 52.8Z" fill="#4876cc" fill-rule="evenodd"/>
<path d="M329.4 91.3 274.1 91.2 274.2 35.9 329.5 36 329.4 91.3ZM310.5 53.6 312 52.8 313.6 51.2 314.5 49.6 314.9 47.2 314.5 44.8 313.7 43.2 311 40.8 307.8 40.2 302.2 41.2 297.4 40.2 295 40.3 292 41.6 290.1 44 289.4 46.4 289.8 49.6 291.4 52 293.4 53.4 297.4 54.2 302.2 53.9 307.8 54.1 310.5 53.6Z" fill="#4e8cd4" fill-rule="evenodd"/>
<path d="M329.4 91.3 274.1 91.2 274.2 35.9 329.5 36 329.4 91.3ZM310.3 54.4 312.6 53.3 313.9 52 315 50.4 315.7 48 315.6 45.6 314.8 43.2 313.4 41.4 311.8 40.2 310.2 39.5 307.8 39.2 302.2 39.9 297.4 39.2 295 39.3 291.8 40.6 289.5 43.2 288.7 45.6 288.8 48.8 290.2 51.7 292.6 53.8 295 54.7 298.2 55 307 54.9 310.3 54.4Z" fill="#60a6db" fill-rule="evenodd"/>
<path d="M329.4 91.3 274.1 91.2 274.2 35.9 329.5 36 329.4 91.3ZM305.4 56 309.4 55.4 311.8 54.7 314.2 53 315.6 51.2 316.5 48.8 316.7 45.6 316 43.2 314.2 40.6 311 38.6 307.8 37.9 302.2 38.4 295 38.1 292.6 38.8 290.2 40.4 288.3 43.2 287.6 46.4 288.1 49.6 290.2 52.9 292.6 54.7 295 55.5 301.4 56.4 305.4 56Z" fill="#72c1e1" fill-rule="evenodd"/>
<path d="M329.4 91.2 274.2 91.2 274.2 36 329.4 36 329.4 91.2ZM303.2 57.6 311.8 55.7 314.1 54.4 315.8 52.8 317.3 50.4 318.1 47.2 317.9 44 317 41.6 315 39.2 313.4 38 311 36.9 308.6 36.3 295.8 36.3 293.4 36.8 291 37.9 287.8 40.8 286.4 44 286.4 48 288.2 52 290.2 54.2 292.6 55.7 300.6 57.6 303.2 57.6Z" fill="#80cee3" fill-rule="evenodd"/>
<path d="M329.4 91.2 274.2 91.2 274.2 36 288.7 36 285.2 39.2 284.3 40.8 283.6 43.2 283.9 47.2 285.9 51.2 288.6 54.4 291.8 56.5 299.8 58.7 302.2 59 313.4 56.3 316.4 54.4 319.2 51.2 320.9 47.2 321 43.2 320.1 40.8 319.1 39.2 315.6 36 329.4 36 329.4 91.2Z" fill="#8ed9e1" fill-rule="evenodd"/>
<path d="M329.4 91.2 276.2 91.2 274.2 88.7 274.2 59 275.9 56.8 278.2 54.7 280.6 53.6 282.2 53.5 284.6 54.2 291.8 58 301.4 60.4 303.8 60.2 307.8 59 320.6 56.5 324.8 56.8 329.2 58.4 329.4 91.2Z" fill="#9de0c1" fill-rule="evenodd"/>
<path d="M310.2 91.2 295.8 91.2 292.6 90 289.4 88.2 284.7 84 283 81.6 281.5 78.4 280.6 75.2 280.3 72 280.6 68 281.3 64.8 282.3 62.4 283.8 60.4 285.4 59.5 287 59.4 301.4 61.8 309.4 60.4 313.4 60.4 317.4 61.7 321 64.8 323.1 68 324.4 72 324.5 76 323.6 80 321.3 84 318.3 87.2 314.2 89.8 310.2 91.2Z" fill="#aee79e" fill-rule="evenodd"/>
<path d="M307.8 88.1 302.2 88.6 297.4 87.7 292.7 85.6 288.9 82.4 286.1 78.4 284.7 73.6 284.9 68.8 285.9 66.4 287 65.1 289.4 63.9 294.2 63 302.2 63.2 309.4 62.4 313.4 63.6 317 66.4 319.1 69.6 320 72.8 320.1 76 319.2 79.2 317.3 82.4 314.8 84.8 311.8 86.7 307.8 88.1Z" fill="#c6e972" fill-rule="evenodd"/>
<path d="M305.4 85.7 300.6 85.6 296.6 84.4 293.4 82.4 290.4 79.2 288.9 76 288.5 72.8 289.5 69.6 291.8 67.2 294.2 65.9 296.6 65.1 307 64.4 309.4 64.7 311.8 65.8 315.4 68.8 316.8 71.2 317.4 73.6 317 76.8 315.9 79.2 314.2 81.4 311.8 83.3 308.6 84.9 305.4 85.7Z" fill="#d9e953" fill-rule="evenodd"/>
<path d="M306.2 83.3 303 83.6 299 82.9 295.8 81.5 293.1 79.2 291.5 76.8 290.9 73.6 291.6 71.2 293.5 68.8 295.8 67.2 298.2 66.3 305.4 65.6 307.8 65.9 310.2 66.7 312.6 68.2 314.1 69.6 315.1 71.2 315.8 73.6 315.6 76 315 77.6 313.8 79.2 311.8 81 308.6 82.7 306.2 83.3Z" fill="#e7e744" fill-rule="evenodd"/>
<path d="M307.8 81.7 304.6 82.3 300.6 82 297.4 80.9 295 79.4 293.4 77.6 292.3 75.2 292.4 72.8 293.6 70.4 295.3 68.8 297.4 67.6 302.2 66.5 307.8 66.9 311.8 68.8 313.4 70.4 314.4 72 314.8 73.6 314.5 76 313.7 77.6 311.8 79.6 307.8 81.7Z" fill="#eed03a" fill-rule="evenodd"/>
<path d="M307.8 80.8 305.4 81.4 302.2 81.4 299 80.7 296.6 79.5 294.5 77.6 293.6 76 293.3 73.6 294.2 71.2 295.6 69.6 297.4 68.4 302.2 67.1 307 67.4 311 69.2 313.4 72 313.9 73.6 313.8 75.2 313.2 76.8 311.8 78.6 310.2 79.8 307.8 80.8Z" fill="#f1ae35" fill-rule="evenodd"/>
<path d="M303.8 80.8 300.6 80.5 298.2 79.6 295.8 77.9 294.5 76 294.2 73.6 294.7 72 295.9 70.4 298.2 68.8 302.2 67.7 306.8 68 310.2 69.5 312.5 72 313 73.6 312.9 75.2 311.7 77.6 308.6 79.8 303.8 80.8Z" fill="#ef8e31" fill-rule="evenodd"/>
<path d="M305.4 80.1 300.6 79.8 298.2 78.8 296.6 77.6 295.4 76 295.1 73.6 295.6 72 297 70.4 300.6 68.6 304.6 68.3 308.6 69.3 311.1 71.2 312.1 73.6 312.1 75.2 311.3 76.8 308.6 79.1 305.4 80.1Z" fill="#eb6e2d" fill-rule="evenodd"/>
<path d="M306.2 79.3 303.8 79.6 301.4 79.3 297.7 77.6 296.4 76 296 74.4 296.2 72.8 297.3 71.2 299.8 69.6 303.8 68.9 307.5 69.6 309.9 71.2 311.2 73.6 310.8 76 309.4 77.7 306.2 79.3Z" fill="#e7522a" fill-rule="evenodd"/>
<path d="M306.2 78.4 302.2 78.7 299 77.5 297.2 75.2 297.1 73.6 297.9 72 299.9 70.4 303 69.6 306.2 70 308.5 71.2 309.8 72.8 309.9 75.2 308.6 77.1 306.2 78.4Z" fill="#e04629" fill-rule="evenodd"/>
<path d="M304.6 77.7 302 77.6 299.3 76 298.8 75.2 298.8 73.6 299.8 72 301.4 71.1 303.8 70.8 306 71.2 307.8 72.6 308.4 74.4 307.8 76 307 76.8 304.6 77.7Z" fill="#da3928" fill-rule="evenodd"/>
<path d="M310.6 52.8 311.9 52 313.3 50.4 314.1 47.2 313.3 44 311.9 42.4 310.2 41.4 307 41.1 302.2 42.4 297.4 41.2 295 41.2 292.3 42.4 290.6 44.8 290.1 47.2 290.6 49.6 291.8 51.4 294.2 53 297.4 53.4 302.2 52.6 307.8 53.4 310.6 52.8M304.7 56 309.4 55.4 311.8 54.6 314.2 52.9 315.5 51.2 316.4 48.8 316.6 45.6 315.9 43.2 314.2 40.8 311 38.7 307.8 38 302.2 38.5 295 38.2 292.6 38.9 290.2 40.6 288.4 43.2 287.7 46.4 288.2 49.6 290.2 52.8 292.6 54.6 295 55.4 301.4 56.2 304.7 56M274.2 51.9 282.2 52.3 291 57.5 299.8 59.9 302.2 60.2 314.2 57.5 329.4 52.8M307.8 85.8 303.8 86.4 299 85.8 295 84.2 291.8 81.8 289.2 78.4 287.8 74.4 287.9 71.2 288.5 69.6 289.6 68 292.6 65.9 295.7 64.8 306.2 64 310.2 64.5 312.6 65.7 314.5 67.2 316.5 69.6 317.5 72 317.9 74.4 317.3 77.6 315.8 80.3 313.4 82.9 311 84.5 307.8 85.8M304.6 81.7 301.4 81.5 298.2 80.6 295.8 79.2 293.7 76.8 293.1 75.2 293.2 72.8 294.5 70.4 296.6 68.6 299 67.6 301.4 67.1 306.2 67.1 310.2 68.4 311.9 69.6 313.2 71.2 313.9 72.8 314.1 74.4 313.8 76 312.6 78 309.4 80.4 304.6 81.7M307 79.3 304.6 79.7 302.2 79.7 298.2 78.3 296.6 76.8 295.8 75.2 295.7 73.6 296.3 72 299 69.7 302.2 68.7 306.2 68.9 309.4 70.3 311.3 72.8 311.4 75.2 309.9 77.6 307 79.3" fill="none" stroke="#1a1a1a" stroke-width="0.7" stroke-opacity="0.85"/>
</g>
<rect x="275.7" y="57.7" width="2.8" height="12.6" rx="1.3" fill="#456459" stroke="#111" stroke-width="1.5"/>
<rect x="325.8" y="57.7" width="2.8" height="12.6" rx="1.3" fill="#456459" stroke="#111" stroke-width="1.5"/>
<path d="M297.9 40.8 L302.1 35.6 L306.3 40.8" fill="none" stroke="#231f20" stroke-width="1.8" stroke-linejoin="round"/>
<circle cx="302.1" cy="63.9" r="23.7" fill="none" stroke="#111" stroke-width="2.3"/>
<clipPath id="c4"><circle cx="376" cy="66.5" r="25.9"/></clipPath>
<circle cx="376" cy="66.5" r="29.2" fill="url(#glow)"/>
<g clip-path="url(#c4)">
<rect x="350.1" y="40.6" width="51.8" height="51.8" fill="#3a48ab"/>
<path d="M403.3 94 347.9 93.8 348.1 38.4 403.5 38.6 403.3 94ZM370.8 49.8 369.6 49.8 370.5 50.6 370.8 49.8ZM382.2 49.8 381.3 49.8 381.7 50.6 382.2 49.8Z" fill="#3c4db2" fill-rule="evenodd"/>
<path d="M403.3 94 347.9 93.8 348.1 38.4 403.5 38.6 403.3 94ZM382.3 54.6 384.1 54.1 385.7 53 387 50.6 386.5 47.9 385.4 46.6 384.1 45.8 381.7 45.3 376.1 46.1 369.7 45.4 367.3 46.1 365.4 48.2 365 49.8 365.2 51.4 366.3 53 368.1 54.2 371.3 54.8 382.3 54.6Z" fill="#3f59bd" fill-rule="evenodd"/>
<path d="M403.3 93.9 348 93.8 348.1 38.5 403.4 38.6 403.3 93.9ZM380.6 56.2 384.1 55.5 385.7 54.8 388 52.2 388.4 50.6 388.3 48.2 387.3 46.4 385.7 44.9 382.5 43.9 376.1 44.3 369.7 43.9 366.5 44.8 364.1 47.3 363.6 49 363.7 51.4 364.9 53.6 366.5 54.9 368.9 55.8 374.5 56.6 380.6 56.2Z" fill="#4367c5" fill-rule="evenodd"/>
<path d="M403.3 93.9 348 93.8 348.1 38.5 403.4 38.6 403.3 93.9ZM377.6 57.8 384.9 56.2 386.5 55.4 388.2 53.8 389.3 51.4 389.5 49 388.9 47 387.5 45 385 43.4 382.5 42.8 376.1 43.1 370.5 42.7 367.3 43.3 364.5 45 362.9 47.4 362.4 49.8 362.9 52.2 364.5 54.6 366.5 56 368.9 56.8 374.5 57.8 377.6 57.8Z" fill="#4876cc" fill-rule="evenodd"/>
<path d="M403.3 93.9 348 93.8 348.1 38.5 403.4 38.6 403.3 93.9ZM378.6 58.6 385.7 56.7 387.8 55.4 389.3 53.8 390.3 51.4 390.5 49 389.8 46.6 388 44.2 385.7 42.7 383.3 41.9 370.5 41.8 366.5 42.6 363.3 44.9 361.9 47.4 361.5 50.6 362.2 53 364.1 55.4 367.3 57.2 374.5 58.9 376.1 59.1 378.6 58.6Z" fill="#4e8cd4" fill-rule="evenodd"/>
<path d="M403.3 93.9 348 93.8 348.1 38.5 403.4 38.6 403.3 93.9ZM379.3 59.4 386.5 57.3 388.9 55.7 390.4 53.8 391.4 51.4 391.4 48.2 390.6 45.8 388.8 43.4 386.5 41.8 383.3 40.8 370.5 40.6 365.7 41.7 362.5 44.1 361 46.6 360.4 49.8 361.1 53 363.3 55.9 366.5 57.8 374.5 60 376.9 60.1 379.3 59.4Z" fill="#60a6db" fill-rule="evenodd"/>
<path d="M403.3 93.9 348 93.8 348.1 38.5 403.4 38.6 403.3 93.9ZM377.9 61 387.3 58 389.7 56.4 391.3 54.6 392.5 52.2 392.9 49 392.2 45.8 390.7 43.4 388.9 41.7 386.5 40.3 381.7 39.2 368.9 39.4 365.7 40.2 363 41.8 360.2 45 359.2 48.2 359.5 52.2 361.2 55.4 363.3 57.3 365.7 58.5 374.5 61.2 376.1 61.3 377.9 61Z" fill="#72c1e1" fill-rule="evenodd"/>
<path d="M403.3 93.8 348.1 93.8 348.1 38.6 364.6 38.6 360.8 41 359.3 42.6 357.9 45 357.1 49 357.4 51.4 358.3 53.8 360.6 57 363.3 58.9 374.5 62.4 376.1 62.5 388.9 58.6 392 56.2 394.1 53 394.9 49 394.1 45 392.7 42.6 391.3 41.1 387.4 38.6 403.3 38.6 403.3 93.8Z" fill="#80cee3" fill-rule="evenodd"/>
<path d="M403.3 93.8 348.1 93.8 348.1 38.6 356.3 38.6 353.2 42.6 352.3 45 352.1 47.4 352.5 50.6 353.5 53 355 55.4 357.2 57.8 359.5 59.4 362.5 60.7 368.9 61.8 373.7 63.4 376.1 63.7 382.5 61.7 390.5 59.9 393.2 58.6 395.3 57 397.4 54.6 398.8 52.2 399.7 49.8 399.9 47.4 399.7 45 398.8 42.6 395.7 38.6 403.3 38.6 403.3 93.8Z" fill="#8ed9e1" fill-rule="evenodd"/>
<path d="M380.1 93.8 372.9 93.6 366.5 91.8 361.5 89 357.5 85 355 80.2 354.4 77 354.4 74.6 355.8 69.8 357.3 67.4 359.3 65.5 361.7 64.2 365.7 63.4 368.9 63.5 376.1 64.9 383.3 63 388.1 62.8 391.3 63.2 393.7 64 396.1 65.7 397.6 67.4 399.7 71.4 400.5 75.4 399.9 80.2 398 84.2 394.5 88.1 390.5 90.8 385.7 92.8 380.1 93.8Z" fill="#9de0c1" fill-rule="evenodd"/>
<path d="M382.5 89.1 376.9 89.7 372.1 89 367.3 87.2 363.3 84.1 360.7 80.2 359.8 76.2 360.5 72.2 361.8 69.8 363.3 68 365.7 66.3 368.1 65.5 376.1 66 384.1 64.7 388.5 65.8 391.8 68.2 393.6 70.6 394.8 73.8 395 77 394.2 80.2 392.2 83.4 389.7 85.8 386.5 87.7 382.5 89.1Z" fill="#aee79e" fill-rule="evenodd"/>
<path d="M380.9 86.6 376.1 86.9 372.1 86.1 368.1 84.2 365.5 81.8 363.7 78.6 363.3 75.4 364.2 72.2 366.7 69 368.9 67.8 370.5 67.4 382.5 66.6 386.5 67.7 389.7 70.5 391.1 73 391.6 75.4 391.4 77.8 390.5 80.2 388.7 82.6 386.5 84.4 384.1 85.7 380.9 86.6Z" fill="#c6e972" fill-rule="evenodd"/>
<path d="M380.9 84.3 376.9 84.7 373.7 84.2 370.5 82.9 368.2 81 366.7 78.6 366.1 75.4 366.7 73 368.4 70.6 372.1 68.7 380.1 67.7 384.1 68.5 387.3 70.7 388.4 72.2 389.3 74.6 389.2 77 388.7 78.6 387.3 80.6 385.7 82.1 383.3 83.5 380.9 84.3Z" fill="#d9e953" fill-rule="evenodd"/>
<path d="M380.9 82.8 378.5 83.1 375.3 82.9 372.9 82.2 369.9 80.2 368.3 77.8 367.8 75.4 368.5 73 369.6 71.4 372.9 69.4 379.3 68.5 383.3 69.2 386.4 71.4 387.5 73 388 74.6 387.6 77.8 386.6 79.4 384.9 81 380.9 82.8Z" fill="#e7e744" fill-rule="evenodd"/>
<path d="M380.9 81.9 378.5 82.2 375.3 81.9 372.9 81 370.6 79.4 369.5 77.8 369 75.4 369.6 73 370.9 71.4 374.5 69.6 378.5 69.1 382.5 69.7 385.3 71.4 386.6 73 387.1 74.6 387.1 76.2 386.6 77.8 384.1 80.5 380.9 81.9Z" fill="#eed03a" fill-rule="evenodd"/>
<path d="M380.9 81.2 378.5 81.5 376.1 81.4 373.7 80.6 371.8 79.4 370.5 77.8 369.9 76.2 370.2 73.8 371.2 72.2 373.7 70.5 377.7 69.6 381.7 70 384.3 71.4 386.1 73.8 386.4 75.4 386.1 77 384.1 79.6 380.9 81.2Z" fill="#f1ae35" fill-rule="evenodd"/>
<path d="M381.7 80.3 379.3 80.9 376.9 80.9 374.5 80.2 372.9 79.4 371.4 77.8 370.7 76.2 370.7 74.6 371.5 73 373.7 71.2 376.9 70.2 380.1 70.3 383.3 71.5 385.3 73.8 385.5 76.2 384.2 78.6 381.7 80.3Z" fill="#ef8e31" fill-rule="evenodd"/>
<path d="M379.3 80.2 375.3 79.8 373.7 79.1 372.3 77.8 371.6 76.2 371.6 74.6 373.3 72.2 376.1 71 379.3 70.8 381.8 71.4 383.9 73 384.8 75.4 384.1 77.5 382 79.4 379.3 80.2Z" fill="#eb6e2d" fill-rule="evenodd"/>
<path d="M379.3 79.5 376.1 79.4 373.4 77.8 372.5 75.4 372.9 73.9 373.6 73 375.3 72 378.5 71.5 380.9 71.9 382.6 73 383.6 74.6 383.4 77 381.8 78.6 379.3 79.5Z" fill="#e7522a" fill-rule="evenodd"/>
<path d="M378.5 78.6 376.9 78.6 375.3 77.9 373.9 76.2 374 74.6 375.9 73 377.7 72.6 380.1 72.9 382 74.6 382.1 76.2 381.7 77 380.9 77.8 378.5 78.6Z" fill="#e04629" fill-rule="evenodd"/>
<path d="M380.8 57 384.1 56.3 386.2 55.4 388 53.8 388.9 52.2 389.4 49.8 388.9 47.4 388 45.8 386.2 44.2 382.5 43 376.1 43.3 369.7 43 367.5 43.4 365.8 44.2 363.5 46.6 362.7 49 362.8 51.4 364 53.8 365.7 55.4 368.1 56.4 375.3 57.7 380.8 57M379 60.2 387.3 57.6 389.4 56.2 390.8 54.6 392 52.2 392.4 49 391.6 45.8 390 43.4 388.1 41.8 385.7 40.6 380.9 39.7 368.9 39.9 365.7 40.8 362.5 42.9 360.4 45.8 359.6 49.8 360.3 53 362.5 56.2 365.7 58.2 374.5 60.8 376.9 60.9 379 60.2M348.1 68 350.1 65 351.9 63.4 353.7 62.4 356.6 61.8 368.1 62.5 373.7 64 376.1 64.3 383.3 62.2 396.9 60.6 400.1 61.3 403.3 63.2M356.3 93.8 351.8 89.8 348.1 84.2M403.3 89.5 398.6 93.8M380.9 85.8 376.9 86.2 372.9 85.6 369.6 84.2 366.5 81.7 364.7 78.6 364.3 75.4 365.2 72.2 367.3 69.6 368.9 68.6 371.3 67.9 381.7 67 385.7 68.1 388.8 70.6 390.2 73 390.6 74.6 390.6 77 389.9 79.4 388.3 81.8 386.5 83.4 384.1 84.8 380.9 85.8M380.1 81.9 376.9 82.1 374.5 81.6 372.1 80.4 370.5 79 369.3 77 369.1 75.4 369.8 73 371.1 71.4 374.5 69.7 379.3 69.1 383.3 70.1 385.9 72.2 387 74.6 387 76.2 386.5 77.8 384.1 80.4 380.1 81.9M379.3 80.3 375.3 79.9 373.7 79.1 372.3 77.8 371.5 76.2 371.6 74.6 373.3 72.2 376.1 71 379.3 70.8 381.8 71.4 383.9 73 384.8 75.4 384.1 77.6 382 79.4 379.3 80.3" fill="none" stroke="#1a1a1a" stroke-width="0.7" stroke-opacity="0.85"/>
</g>
<rect x="349.6" y="60.3" width="2.8" height="12.6" rx="1.3" fill="#3f6164" stroke="#111" stroke-width="1.5"/>
<rect x="399.7" y="60.3" width="2.8" height="12.6" rx="1.3" fill="#406262" stroke="#111" stroke-width="1.5"/>
<path d="M371.8 43.4 L376 38.2 L380.2 43.4" fill="none" stroke="#231f20" stroke-width="1.8" stroke-linejoin="round"/>
<circle cx="376" cy="66.5" r="23.7" fill="none" stroke="#111" stroke-width="2.3"/>
<clipPath id="c5"><circle cx="453.3" cy="65.3" r="25.9"/></clipPath>
<circle cx="453.3" cy="65.3" r="29.2" fill="url(#glow)"/>
<g clip-path="url(#c5)">
<rect x="427.4" y="39.4" width="51.8" height="51.8" fill="#3a48ab"/>
<path d="M480.6 92.8 425.2 92.6 425.4 37.2 480.8 37.4 480.6 92.8ZM459.7 52.6 462.3 51.8 463.2 51 464 49.4 464 47.8 463.1 46.2 460.6 44.9 458.2 44.7 453.4 45.4 448.6 44.7 446.2 44.8 443.8 46 442.6 47.8 442.6 49.4 443 50.5 444.3 51.8 445.4 52.3 447.8 52.6 453.4 52.3 459.7 52.6Z" fill="#3f59bd" fill-rule="evenodd"/>
<path d="M480.6 92.8 425.2 92.6 425.4 37.3 480.7 37.4 480.6 92.8ZM461.6 53.4 463.3 52.6 464.6 51.4 465.5 48.6 465.2 47 464.2 45.4 461.4 43.7 459 43.3 453.4 43.8 446.2 43.5 443.3 44.6 441.4 47 441.1 49.4 441.7 51 443.3 52.6 445 53.4 453.4 53.9 461.6 53.4Z" fill="#4367c5" fill-rule="evenodd"/>
<path d="M480.6 92.7 425.3 92.6 425.4 37.3 480.7 37.4 480.6 92.7ZM454.1 55 461.4 54.2 464.7 52.6 465.9 51 466.5 48.6 466.2 46.7 464.8 44.6 462.3 43 459.8 42.4 453.4 42.7 447.8 42.4 443.8 43.2 441.1 45.4 440.3 47 440.1 49.4 440.7 51 442.2 52.8 445.4 54.3 454.1 55Z" fill="#4876cc" fill-rule="evenodd"/>
<path d="M480.6 92.7 425.3 92.6 425.4 37.3 480.7 37.4 480.6 92.7ZM454.8 55.8 462.2 54.7 463.8 54.1 465.7 52.6 467.1 50.2 467.4 47.8 466.5 45.4 465.2 43.8 463 42.4 460.6 41.7 447.8 41.5 443.8 42.3 440.6 44.6 439.4 47 439.3 49.4 440.2 51.8 441.7 53.4 445.4 54.9 452.6 55.9 454.8 55.8Z" fill="#4e8cd4" fill-rule="evenodd"/>
<path d="M480.6 92.7 425.3 92.6 425.4 37.3 480.7 37.4 480.6 92.7ZM455.3 56.6 463 55.2 465 54.2 466.8 52.6 468.1 50.2 468.3 47.8 467.6 45.4 465.8 43 463.8 41.7 460.6 40.7 447.8 40.5 443 41.6 440 43.8 438.6 46.2 438.2 48.6 438.8 51 440.6 53.5 442.2 54.6 444.6 55.5 452.6 56.9 455.3 56.6Z" fill="#60a6db" fill-rule="evenodd"/>
<path d="M480.6 92.7 425.3 92.6 425.4 37.3 480.7 37.4 480.6 92.7ZM455.8 57.4 463.8 55.7 466.2 54.4 468 52.6 469.2 50.2 469.4 47 468.6 44.6 466.6 42.2 463.8 40.4 460.6 39.5 448.6 39.2 445.4 39.6 443 40.3 440.6 41.7 439.2 43 437.7 45.4 437.1 48.6 438.1 51.8 439.8 53.9 443 55.8 449.4 56.9 452.6 58.1 454.2 58 455.8 57.4Z" fill="#72c1e1" fill-rule="evenodd"/>
<path d="M480.6 92.6 425.4 92.6 425.4 37.4 480.6 37.4 480.6 92.6ZM454.8 59 458.2 57.5 464.6 56.3 467 55.1 468.9 53.4 470.4 51 471 47.8 470.3 44.6 468.9 42.2 467 40.5 463.8 38.7 460.6 37.8 457.4 37.5 446.2 37.8 442.2 39 439 40.9 436.6 43.8 435.6 47 435.9 50.2 437.7 53.4 439.8 55.2 442.2 56.4 448.6 57.6 452.6 59.4 454.8 59Z" fill="#80cee3" fill-rule="evenodd"/>
<path d="M480.6 92.6 425.4 92.6 425.4 37.4 439.3 37.4 435.8 40.1 433.5 43.8 433 47.8 434.3 51.8 436.2 54.2 439.8 56.6 443 57.7 448.6 58.6 453.4 61.1 458.2 58.5 463.8 57.6 467 56.5 470.4 54.2 472.3 51.8 473.6 47.8 473.1 43.8 471 40.3 467.3 37.4 480.6 37.4 480.6 92.6Z" fill="#8ed9e1" fill-rule="evenodd"/>
<path d="M480.6 92.6 425.4 92.6 425.4 55.3 430.2 55.4 440.6 58.5 447.8 59.5 449.9 60.6 453.4 63.7 454.2 63.3 456.7 60.6 459 59.5 466.2 58.5 475.8 55.5 480.6 55.2 480.6 92.6Z" fill="#9de0c1" fill-rule="evenodd"/>
<path d="M459 92.6 446.9 92.6 444.6 92.1 438.1 89.4 435 87.3 432.6 85.1 430.4 82.2 429.2 79.8 428.3 76.6 428.1 74.2 428.5 71 429.3 68.6 430.6 66.2 432.6 63.8 435 62 437.4 61.1 446.2 60.6 448.8 61.4 453.4 65.3 454.7 64.6 458.2 61.2 459.8 60.7 463 60.6 467.8 60.8 470.2 61.4 472.6 62.6 474.8 64.6 477.3 68.6 478.4 72.6 478.2 77.4 476.7 81.4 473.7 85.4 469.4 88.9 463.8 91.5 459 92.6Z" fill="#aee79e" fill-rule="evenodd"/>
<path d="M455.8 88.6 449.4 88.4 444.1 87 439.8 84.6 436 80.6 434.3 76.6 434 74.2 434.3 71.8 436.2 67.8 439.5 64.6 443 63 447 62.4 449.4 63.2 452 65.4 453.4 66.1 455 65.4 458.2 62.7 461.4 62.3 466.2 64 468.3 65.4 470.4 67.8 472 71 472.5 74.2 472.1 77.4 470.2 81.2 467.8 83.8 464.2 86.2 460.6 87.7 455.8 88.6Z" fill="#c6e972" fill-rule="evenodd"/>
<path d="M458.2 84.6 452.6 85.2 447.8 84.5 443.8 82.7 440.4 79.8 438.8 76.6 438.4 72.6 439.7 68.6 442.2 65.6 444.6 64.2 447.8 63.7 449.4 64.2 452.2 66.2 453.4 66.7 454.8 66.2 457.4 64 459.8 63.3 463 64.1 465.9 66.2 467.5 68.6 468.4 71.8 468.3 75.8 467.5 78.2 465.7 80.6 463.8 82.1 461.4 83.5 458.2 84.6Z" fill="#d9e953" fill-rule="evenodd"/>
<path d="M456.6 83 452.6 83.3 448.6 82.7 444.6 81 442.1 79 440.3 75.8 440 71.8 441 68.6 443 66.2 445.4 64.8 447.8 64.5 449.4 64.9 452.6 67 454.2 67.1 457.4 64.7 459.8 64.1 463 65 465.3 67 466.7 69.4 467.2 71.8 466.9 75 466.1 77.4 464.6 79.4 462.2 81.2 459 82.5 456.6 83Z" fill="#e7e744" fill-rule="evenodd"/>
<path d="M455.8 82.3 452.6 82.4 448.6 81.8 444.6 80.1 442.5 78.2 441 75 440.8 71.8 441.9 68.6 443.8 66.4 445.4 65.6 447.8 65.1 449.4 65.5 452.6 67.5 454.2 67.6 457.4 65.4 459.8 64.7 463 65.8 465.1 67.8 466.1 70.2 466.4 72.6 465.9 75.8 465.2 77.4 463.8 79 461.4 80.7 459 81.7 455.8 82.3Z" fill="#eed03a" fill-rule="evenodd"/>
<path d="M457.4 81.4 454.2 81.8 450.2 81.5 446.2 80.3 443.8 78.7 441.8 75.8 441.4 73.4 441.8 70.2 443.2 67.8 445.4 66.2 447.8 65.7 449.4 66.1 451.8 67.6 453.4 68 455 67.8 457.4 66 459 65.4 461.4 65.7 463.6 67 464.8 68.6 465.7 71 465.8 73.4 465.3 75.8 463.8 78.2 462.2 79.6 457.4 81.4Z" fill="#f1ae35" fill-rule="evenodd"/>
<path d="M458.2 80.7 455 81.3 451 81.1 447 80.1 444.6 78.8 442.7 76.6 442 74.2 442.2 71 443.4 68.6 445.2 67 447 66.3 448.6 66.4 451.8 68.1 453.4 68.4 455 68.2 459 66 461.1 66.2 463 67.3 464.1 68.6 465.1 71 465.3 73.4 464.8 75.8 463.8 77.4 462.2 78.9 458.2 80.7Z" fill="#ef8e31" fill-rule="evenodd"/>
<path d="M455.8 80.7 452.6 80.8 448.6 80.2 446.2 79.3 443.8 77.4 442.6 75 442.5 72.6 443.1 70.2 444.6 68.2 446.2 67.2 447.8 66.9 451.8 68.6 454.2 68.8 455.8 68.4 458.2 66.9 459.8 66.6 461.4 67 463 68.2 464.2 70.2 464.7 72.6 464.6 75 463.9 76.6 462.4 78.2 460.6 79.4 455.8 80.7Z" fill="#eb6e2d" fill-rule="evenodd"/>
<path d="M457.4 79.9 450.2 80 447.8 79.5 445.2 78.2 443.7 76.6 442.9 74.2 443.2 71.8 444.5 69.4 446.2 68.1 447.8 67.7 452.6 69.1 455.8 68.9 458.2 67.8 459.8 67.5 462.2 68.6 464 71.8 464.2 74.2 463.8 75.8 462.7 77.4 461.4 78.5 457.4 79.9Z" fill="#e7522a" fill-rule="evenodd"/>
<path d="M459 79.1 451 79.6 447 78.8 444.9 77.4 443.8 75.8 443.4 74.2 443.9 71.8 445.4 69.8 447.8 68.7 453.4 69.5 459 68.6 460.6 68.9 463 71.1 463.6 72.6 463.8 74.2 463.3 75.8 462.2 77.3 459 79.1Z" fill="#e04629" fill-rule="evenodd"/>
<path d="M451.8 79 449.4 79 447 78.3 444.8 76.6 444.1 75 444.1 73.4 444.6 72 445.5 71 447 70.1 448.6 69.7 459 69.7 461.4 70.7 463 72.6 463.1 75 461.4 77.5 458.2 78.7 451.8 79Z" fill="#da3928" fill-rule="evenodd"/>
<path d="M459 77.6 457.4 77.7 454.2 77.2 450.2 78.1 448.6 78 446.9 77.4 445.4 75.9 445.3 73.4 446.9 71.8 448.8 71 453.4 70.5 458.6 71 461.4 72.5 462.2 74.2 461.4 76.2 459.8 77.4 459 77.6Z" fill="#d03027" fill-rule="evenodd"/>
<path d="M454.7 55 461.4 54.3 464.8 52.6 466 51 466.6 48.6 466.2 46.6 464.9 44.6 462.5 43 459.8 42.4 453.4 42.6 447.8 42.3 443.8 43.1 441 45.4 440.2 47 440.1 49.4 441.1 51.8 442.9 53.4 446.2 54.5 454.7 55M453.9 58.2 457.4 57 463.8 55.8 465.5 55 467.5 53.4 469.1 51 469.6 48.6 469.1 45.4 467.7 43 466.2 41.6 463.8 40.2 461.4 39.5 458.2 39.1 446.2 39.3 443 40.1 439.8 42.1 437.8 44.6 436.9 47.8 437.5 51 439.1 53.4 440.6 54.7 443 55.9 449.4 57 452.6 58.2 453.9 58.2M425.4 59.4 428.6 57.7 431.8 57.2 440.6 58.8 447 59.5 449.6 60.6 453.4 64.1 454.2 63.8 457.1 60.6 459.8 59.5 465.4 58.9 474.2 57.2 477.4 57.5 480.6 59M428.4 92.6 425.4 90M480.6 90.6 478.2 92.6M458.2 84 454.2 84.6 449.4 84.2 444.6 82.4 441.2 79.8 439.4 76.6 439 72.6 440.1 68.6 441.9 66.2 444.6 64.4 447.8 63.9 449.4 64.4 452.6 66.6 454.2 66.7 457.4 64.2 459.8 63.5 463 64.3 465.6 66.2 467.2 68.6 467.9 71 468 74.2 467.3 77.4 465.8 79.8 463.8 81.5 461.4 82.9 458.2 84M456.6 81.4 452.6 81.7 448.6 81 445.4 79.7 443.5 78.2 442 75.8 441.5 72.6 442.2 69.7 443.8 67.5 445.9 66.2 447.8 65.9 449.4 66.3 451.9 67.8 454.2 68.1 458.2 65.8 459.8 65.5 462.2 66.2 463.8 67.5 465 69.4 465.6 71.8 465.6 74.2 464.8 76.6 462.2 79.4 459 80.9 456.6 81.4M456.6 79.8 449.4 79.8 447 79.1 445.4 78.2 443.9 76.6 443.1 74.2 443.4 71.8 444.6 69.7 446.2 68.4 447.8 68 452.6 69.2 455.8 69.1 459 67.8 460.6 68 461.7 68.6 463 70 463.8 71.8 464.1 74.2 463.6 75.8 461.4 78.3 459 79.4 456.6 79.8" fill="none" stroke="#1a1a1a" stroke-width="0.7" stroke-opacity="0.85"/>
</g>
<rect x="426.9" y="59.1" width="2.8" height="12.6" rx="1.3" fill="#486553" stroke="#111" stroke-width="1.5"/>
<rect x="477" y="59.1" width="2.8" height="12.6" rx="1.3" fill="#486553" stroke="#111" stroke-width="1.5"/>
<path d="M449.1 42.2 L453.3 37 L457.5 42.2" fill="none" stroke="#231f20" stroke-width="1.8" stroke-linejoin="round"/>
<circle cx="453.3" cy="65.3" r="23.7" fill="none" stroke="#111" stroke-width="2.3"/>
<clipPath id="c6"><circle cx="531" cy="63.9" r="25.9"/></clipPath>
<circle cx="531" cy="63.9" r="29.2" fill="url(#glow)"/>
<g clip-path="url(#c6)">
<rect x="505.1" y="38" width="51.8" height="51.8" fill="#3b49ac"/>
<path d="M558.3 91.4 502.9 91.2 503.1 35.8 558.5 36 558.3 91.4ZM539.5 49.6 541 48 541.1 46.4 540.3 44.8 538.3 43.8 535.1 44 531.1 46 526.9 44 523.9 43.7 521.7 44.8 520.9 46.4 521.5 48.8 523.9 50 527.1 49.7 531.1 48 535.9 50 537.5 50.1 539.5 49.6Z" fill="#3f59bd" fill-rule="evenodd"/>
<path d="M558.3 91.4 502.9 91.2 503.1 35.8 558.5 36 558.3 91.4ZM540.2 50.4 541.9 48.8 542.4 47.2 542.3 46 541.1 44 538.3 42.6 535.9 42.6 531.1 43.7 526.3 42.6 523.9 42.5 522.3 43 520.8 44 519.6 46.4 519.8 48 520.7 49.6 521.8 50.4 523.9 51.1 531.1 50.2 537.5 51.1 540.2 50.4Z" fill="#4367c5" fill-rule="evenodd"/>
<path d="M558.3 91.4 502.9 91.2 503.1 35.9 558.4 36 558.3 91.4ZM540.1 51.2 542.3 49.5 543.1 48 543.2 46.4 542.2 44 540.7 42.7 539.1 42 536.7 41.7 531.1 42.6 526.3 41.8 523.9 41.7 520.7 43.1 519 45.6 518.9 48 519.8 49.6 521.5 51 523.1 51.6 525.5 51.8 531.1 51.3 537.5 51.8 540.1 51.2Z" fill="#4876cc" fill-rule="evenodd"/>
<path d="M558.3 91.3 503 91.2 503.1 35.9 558.4 36 558.3 91.3ZM539.5 52 541.5 51.1 543 49.6 543.7 48 543.9 46.4 543.5 44.8 542.5 43.2 540.7 41.9 539.1 41.2 535.9 41 531.1 41.7 525.5 41 523.1 41.2 519.9 42.8 518.2 45.6 518.3 48 519 49.6 520.7 51.2 522.3 51.9 525.5 52.3 537.5 52.3 539.5 52Z" fill="#4e8cd4" fill-rule="evenodd"/>
<path d="M558.3 91.3 503 91.2 503.1 35.9 558.4 36 558.3 91.3ZM538.1 52.8 540.7 52.2 542.3 51.2 543.8 49.6 544.6 47.2 544.3 44.8 543.4 43.2 541.7 41.6 539.9 40.7 536.7 40.2 531.1 40.7 525.5 40.2 523.1 40.4 519.9 41.9 518.6 43.2 517.7 44.8 517.4 47.2 517.8 48.8 519.1 50.7 521.5 52.3 524.7 52.9 538.1 52.8Z" fill="#60a6db" fill-rule="evenodd"/>
<path d="M558.3 91.3 503 91.2 503.1 35.9 558.4 36 558.3 91.3ZM534.3 53.6 538.3 53.4 540.7 52.8 543.1 51.4 544.6 49.6 545.4 47.2 545.2 44.8 543.9 42.4 542.3 41 539.9 39.8 537.5 39.3 531.1 39.6 524.7 39.3 520.7 40.4 518.9 41.6 517.5 43.2 516.6 45.6 516.7 48 517.9 50.4 519.9 52.1 523.9 53.4 531.1 54 534.3 53.6Z" fill="#72c1e1" fill-rule="evenodd"/>
<path d="M558.3 91.3 503 91.2 503.1 35.9 558.4 36 558.3 91.3ZM534.3 54.4 539.1 53.9 541.5 53.2 543.6 52 545.1 50.4 546.2 48 546.2 44.8 545.2 42.4 543.1 40.3 540.7 39 537.5 38.3 524.7 38.2 522.3 38.7 519.9 39.7 516.9 42.4 515.8 44.8 515.8 48 516.9 50.4 519.1 52.5 522.3 53.8 527.1 54.3 530.3 55.1 534.3 54.4Z" fill="#80cee3" fill-rule="evenodd"/>
<path d="M558.3 91.3 503 91.2 503.1 36 558.3 36 558.3 91.3ZM532.9 56 535.1 55.1 541.5 54 543.9 52.8 545.7 51.2 547.1 48.8 547.7 45.6 546.8 42.4 544.9 40 542.3 38.2 539.1 37 535.1 36.5 527.9 36.5 521.5 37.4 519.1 38.5 516.7 40.4 514.9 43.2 514.3 46.4 515.2 49.6 517.1 52 520.7 54.1 527.1 55.2 530.3 56.5 531.1 56.7 532.9 56Z" fill="#8ed9e1" fill-rule="evenodd"/>
<path d="M558.3 91.2 503.1 91.2 503.1 36 518.8 36 515.3 38.4 513 41.6 512.3 45.6 513.5 49.6 515.3 52 518.3 54.1 520.7 55 526.5 56 530.3 58.4 531.1 58.5 535.5 56 540.7 55.1 543.9 54 546.7 52 548.5 49.6 549.7 45.6 549 41.6 546.7 38.4 543.2 36 558.3 36 558.3 91.2Z" fill="#9de0c1" fill-rule="evenodd"/>
<path d="M558.3 91.2 503.1 91.2 503.1 36 506.9 36 504.9 39.2 504.4 41.6 504.4 43.2 505.7 46.4 508.8 49.6 515.6 54.4 519.1 55.8 526.3 57.2 530.3 60.6 531.1 60.8 535.9 57.1 542.3 55.9 546.4 54.4 550.2 52 554.1 48.8 556.8 45.6 557.6 42.4 557.1 39.2 555.1 36 558.3 36 558.3 91.2Z" fill="#aee79e" fill-rule="evenodd"/>
<path d="M550.3 91.2 511.1 91.2 506.6 88 503.1 84.2 503.1 63.6 505.5 61 507.9 59.2 510.3 58 513.5 57.3 523.1 57.9 525.5 58.4 527.1 59.6 530.3 64 531.1 64.4 531.9 64 535.1 59.4 537.5 58.1 548.7 57.3 551.1 57.8 554.1 59.2 558.3 62.9 558.3 84.9 554.3 88.9 550.9 91.2 550.3 91.2Z" fill="#c6e972" fill-rule="evenodd"/>
<path d="M537.5 89.7 530.3 90.3 523.9 89.5 517.5 87.2 512.7 83.9 510.6 81.6 509.2 79.2 508.3 76.8 507.9 74.4 508.1 72 508.7 69.6 509.9 67.2 511.8 64.8 514.3 62.7 516.7 61.4 519.9 60.5 523.1 60.1 524.7 60.3 526.3 61.2 529.7 64.8 531.1 65.7 532.7 64.8 535.9 61.1 538.3 60.2 541.5 60.4 544.7 61.2 547.9 62.9 550.2 64.8 552.6 68 553.9 72 553.9 76 552.8 79.2 550.7 82.4 547.1 85.7 542.3 88.2 537.5 89.7Z" fill="#d9e953" fill-rule="evenodd"/>
<path d="M534.3 85.7 528.7 85.8 523.9 84.8 519.1 82.5 515.9 79.4 514.8 77.6 514 75.2 514 71.2 515.5 67.2 518.3 64.3 521.5 62.7 524.7 62.3 527.1 63.3 529.5 65.6 531.1 66.4 532.7 65.7 535.9 63 538.3 62.6 542.3 63.7 545.7 66.4 547.6 69.6 548.2 72 548.1 75.2 546.9 78.4 545 80.8 542.3 82.9 538.3 84.8 534.3 85.7Z" fill="#e7e744" fill-rule="evenodd"/>
<path d="M536.7 82.5 531.9 83.1 527.1 82.8 523.9 81.9 519.9 79.7 517.3 76.8 516 73.6 516.1 69.6 517.8 66.4 520.7 64.2 523.9 63.4 526.3 63.7 529.6 66.4 531.1 67 532.7 66.4 535.1 64.4 537.5 63.7 540.7 64.3 543.1 65.7 545.1 68 546.1 70.4 546.2 73.6 545.5 76 544.1 78.4 542.3 80 539.9 81.4 536.7 82.5Z" fill="#eed03a" fill-rule="evenodd"/>
<path d="M535.9 81.7 531.9 82.2 527.9 81.9 524.7 81.1 520.7 79 518.5 76.8 517 73.6 516.8 70.4 518.2 67.2 520.7 65.1 523.9 64.1 526.3 64.5 529.5 67 531.1 67.5 532.7 67 535.9 64.8 537.5 64.5 539.9 64.9 542.6 66.4 544.1 68 545.1 70.4 545.2 73.6 544.5 76 543.6 77.6 541.5 79.5 538.3 81.1 535.9 81.7Z" fill="#f1ae35" fill-rule="evenodd"/>
<path d="M536.7 80.9 532.7 81.5 528.7 81.4 524.7 80.4 521.5 78.8 519.4 76.8 517.8 73.6 517.6 70.4 518.6 68 520.7 65.9 523.9 64.8 526.3 65.2 529.5 67.6 531.1 68 532.7 67.6 535.1 65.9 536.7 65.3 539.1 65.4 541.5 66.4 543.2 68 544.3 70.4 544.6 72.8 544.1 75.2 543.3 76.8 541.5 78.7 539.9 79.7 536.7 80.9Z" fill="#ef8e31" fill-rule="evenodd"/>
<path d="M533.5 80.8 530.3 80.9 526.3 80.2 523.1 79.1 520.7 77.4 519 75.2 518.3 72 518.6 69.6 520.2 67.2 522.3 65.9 524.7 65.5 526.3 65.9 529.2 68 531.1 68.4 532.7 68.1 535.9 66.2 537.5 65.9 539.9 66.3 542.2 68 543.3 69.6 543.9 72.3 543.7 74.4 542.6 76.8 541 78.4 539.1 79.5 533.5 80.8Z" fill="#eb6e2d" fill-rule="evenodd"/>
<path d="M535.1 80.1 531.1 80.3 527.9 80 523.9 78.9 521.7 77.6 520.1 76 519.1 73.6 519.1 71.2 519.9 68.8 521.5 67.1 523.9 66.3 525.6 66.4 528.7 68.3 530.3 68.8 532.7 68.6 535.9 67 537.5 66.6 539.1 66.9 540.7 67.7 542.3 69.4 543 71.2 543.3 73.6 542.9 75.2 542 76.8 539.9 78.5 535.1 80.1Z" fill="#e7522a" fill-rule="evenodd"/>
<path d="M536.7 79.3 533.5 79.6 528.7 79.5 525.5 78.9 522.5 77.6 520.7 76 519.9 74.4 519.8 72 520.7 69.5 522.3 67.9 524.7 67.3 528.3 68.8 530.3 69.1 532.7 69 537.5 67.6 539.9 68.4 541.5 69.9 542.3 71.4 542.7 73.6 542.4 75.2 540.5 77.6 536.7 79.3Z" fill="#e04629" fill-rule="evenodd"/>
<path d="M537.5 78.6 534.3 78.9 527.9 78.6 523.9 77.8 522.2 76.8 520.9 75.2 520.5 73.6 520.7 72.1 522.3 70 524.7 69 530.3 69.5 536.7 68.9 538.3 69.2 539.9 70 541.5 71.7 542 74.4 540.7 76.8 537.5 78.6Z" fill="#da3928" fill-rule="evenodd"/>
<path d="M537.5 77.6 534.3 77.7 531.1 76.8 527.1 77.3 524.7 77 522.3 75.3 522 73.6 523.1 72 526.3 70.6 535.9 70.4 539.1 71.7 540.7 73.6 540.7 74.8 540.1 76 537.5 77.6Z" fill="#d03027" fill-rule="evenodd"/>
<path d="M540.3 51.2 542.3 49.6 543.1 48 543.3 46.4 542.3 43.9 540.7 42.6 539.1 41.9 536.3 41.6 531.1 42.4 526.3 41.7 523.9 41.7 520.7 43 519.7 44 518.9 45.6 518.9 48 519.7 49.6 521.5 51.1 523.1 51.6 525.5 51.8 531.1 51.4 537.5 51.8 540.3 51.2M536.2 53.6 539.1 53.4 541.5 52.6 543.5 51.2 545.2 48.8 545.6 46.4 545.1 44 543.9 42.2 541.5 40.3 539.1 39.4 536.7 39.1 523.9 39.3 519.9 40.7 517.9 42.4 516.9 44 516.4 46.4 516.8 48.8 518.5 51.2 520.7 52.7 523.1 53.4 530.3 54.1 536.2 53.6M517.2 36 514.2 38.4 512.2 41.6 511.6 45.6 513 49.6 514.8 52 517.5 54 520.7 55.2 526.3 56.2 530.3 58.8 531.1 58.9 535.9 56.1 540.7 55.4 543.9 54.3 547.1 52 549 49.6 550.2 46.4 550.1 42.4 548.5 39.2 544.8 36M535.1 88.9 528.7 89.1 522.3 87.9 516.7 85.3 512.5 81.6 510.2 77.6 509.6 75.2 509.6 72.8 510.1 70.4 511.2 68 514.3 64.3 516.7 62.7 519.1 61.6 523.9 60.8 526.3 61.7 530.3 65.6 531.1 65.8 532.7 65 535.9 61.7 537.5 61 539.1 60.8 542.3 61.4 544.7 62.4 547.3 64 549.7 66.4 551.6 69.6 552.4 72.8 552.1 76.8 550.7 80 548 83.2 544.7 85.7 539.9 87.8 535.1 88.9M535.1 81.7 530.3 82 526.3 81.4 523.1 80.2 520.3 78.4 518.3 76 517.1 72.8 517.2 69.6 518.5 67.2 520.7 65.3 523.9 64.3 526.3 64.7 529.5 67.2 531.1 67.6 532.7 67.2 535.1 65.4 536.7 64.8 539.9 65.1 542.3 66.4 543.8 68 544.9 70.4 545 73.6 544.3 76 543.1 77.8 540.7 79.7 537.5 81.1 535.1 81.7M534.3 80 530.3 80.1 527.1 79.6 523.9 78.7 521.5 77.3 519.8 75.2 519.2 72.8 519.5 70.4 520.7 68.3 522.3 67 524.7 66.5 526.3 67 528.7 68.5 530.3 68.9 532.7 68.8 535.9 67.2 537.5 66.9 539.1 67.2 540.7 68 542.3 70 543 72 543 74.4 542.4 76 541 77.6 539.1 78.8 534.3 80" fill="none" stroke="#1a1a1a" stroke-width="0.7" stroke-opacity="0.85"/>
</g>
<rect x="504.6" y="57.7" width="2.8" height="12.6" rx="1.3" fill="#566836" stroke="#111" stroke-width="1.5"/>
<rect x="554.6" y="57.7" width="2.8" height="12.6" rx="1.3" fill="#566837" stroke="#111" stroke-width="1.5"/>
<path d="M526.8 40.8 L531 35.6 L535.2 40.8" fill="none" stroke="#231f20" stroke-width="1.8" stroke-linejoin="round"/>
<circle cx="531" cy="63.9" r="23.7" fill="none" stroke="#111" stroke-width="2.3"/>
<clipPath id="c7"><circle cx="608.1" cy="64.5" r="25.9"/></clipPath>
<circle cx="608.1" cy="64.5" r="29.2" fill="url(#glow)"/>
<g clip-path="url(#c7)">
<rect x="582.2" y="38.6" width="51.8" height="51.8" fill="#3a48ab"/>
<path d="M635.4 92 580 91.8 580.2 36.4 635.6 36.6 635.4 92Z" fill="#3c4db2" fill-rule="evenodd"/>
<path d="M635.4 92 580 91.8 580.2 36.4 635.6 36.6 635.4 92ZM616.6 49.4 618.2 47.8 618.5 46.2 617.6 44.6 615.4 43.4 612.2 43.6 608.2 45.2 603.4 43.5 601 43.4 598.6 44.5 597.7 46.2 597.8 47.4 598.5 48.6 601 49.8 603.4 49.7 608.2 48.2 613 49.7 614.6 49.8 616.6 49.4Z" fill="#3f59bd" fill-rule="evenodd"/>
<path d="M635.4 92 580 91.8 580.2 36.4 635.6 36.6 635.4 92ZM617.1 50.2 618.3 49.4 619.4 47.9 619.5 45.4 617.8 43.3 615.4 42.4 613 42.4 608.2 43.4 603.4 42.4 601 42.3 599.4 42.8 597.8 43.8 596.6 46.2 597.2 48.6 598.6 49.9 600.2 50.5 602.6 50.7 608.2 50 614.6 50.7 617.1 50.2Z" fill="#4367c5" fill-rule="evenodd"/>
<path d="M635.4 92 580 91.8 580.2 36.4 635.6 36.6 635.4 92ZM616.7 51 619.4 49.3 620.3 47.8 620.4 46.2 619.4 43.8 617.8 42.5 616.2 41.8 613 41.6 608.2 42.4 603.4 41.6 601 41.6 597.8 42.9 596.8 43.8 595.9 45.4 595.8 47 596.3 48.6 597.8 50.2 599.4 51 601.8 51.4 608.2 50.9 613.8 51.4 616.7 51Z" fill="#4876cc" fill-rule="evenodd"/>
<path d="M635.4 91.9 580.1 91.8 580.2 36.5 635.5 36.6 635.4 91.9ZM615.4 51.8 617.8 51.2 619.3 50.2 620.6 48.6 621.1 47 621 45.4 620.2 43.8 618.6 42.2 617 41.4 613.8 40.9 608.2 41.5 602.6 40.9 600.2 41.1 597 42.7 596 43.8 595.2 45.4 595.3 47.8 596.1 49.4 597.8 50.8 599.4 51.5 601.8 51.9 615.4 51.8Z" fill="#4e8cd4" fill-rule="evenodd"/>
<path d="M635.4 91.9 580.1 91.8 580.2 36.5 635.5 36.6 635.4 91.9ZM617.6 51.8 619.4 50.9 620.9 49.4 621.6 47.8 621.8 46.2 621.5 44.6 620.2 42.7 618.6 41.4 616.2 40.5 613.8 40.2 608.2 40.7 602.6 40.2 600.2 40.4 596.5 42.2 595.1 43.8 594.5 45.4 594.6 47.8 595.3 49.4 597 51 599.4 52.1 608.2 52.6 614.6 52.4 617.6 51.8Z" fill="#60a6db" fill-rule="evenodd"/>
<path d="M635.4 91.9 580.1 91.8 580.2 36.5 635.5 36.6 635.4 91.9ZM609.4 53.4 617 52.6 619.4 51.6 621 50.3 622.2 48.6 622.6 46.2 622 43.8 620.8 42.2 618.6 40.5 615.4 39.5 602.6 39.3 600.2 39.6 597.8 40.4 594.7 43 593.9 44.6 593.6 47 594.5 49.4 596.2 51.2 597.8 52.1 600.2 52.8 609.4 53.4Z" fill="#72c1e1" fill-rule="evenodd"/>
<path d="M635.4 91.9 580.1 91.8 580.2 36.5 635.5 36.6 635.4 91.9ZM610.3 54.2 617.8 53 620.2 51.9 622.2 50.2 623.4 47.8 623.5 45.4 622.6 43 620.2 40.4 617.8 39.1 614.6 38.4 602.6 38.3 597.8 39.4 595.7 40.6 594.1 42.2 592.9 44.6 592.7 47 593.5 49.4 595.4 51.5 599.4 53.3 604.2 53.8 607.4 54.6 610.3 54.2Z" fill="#80cee3" fill-rule="evenodd"/>
<path d="M635.4 91.9 580.1 91.8 580.2 36.6 635.4 36.6 635.4 91.9ZM609.5 55.8 612.2 54.6 619.4 53.2 622.8 51 624.3 48.6 624.8 46.2 624.1 43 622.4 40.6 619.4 38.4 616.2 37.3 613 36.8 607.4 36.7 602.6 36.8 599.4 37.5 596.2 38.8 593.8 40.6 592.1 43 591.4 46.2 591.9 48.6 593.4 51 595.4 52.6 597.8 53.6 604.2 54.7 607.4 56.2 608.2 56.3 609.5 55.8Z" fill="#8ed9e1" fill-rule="evenodd"/>
<path d="M635.4 91.8 580.2 91.8 580.2 36.6 595.9 36.6 592.5 39 590.3 42.2 589.5 46.2 590.4 49.4 592.2 51.8 594.6 53.4 597.8 54.5 603.4 55.4 607.4 58.1 608.2 58.3 612.2 55.7 621 53.7 623.4 52.3 625.4 50.2 626.6 47 626.2 43 624.2 39.6 620.3 36.6 635.4 36.6 635.4 91.8Z" fill="#9de0c1" fill-rule="evenodd"/>
<path d="M635.4 91.8 580.2 91.8 580.2 36.6 587.5 36.6 585.3 39.8 584.3 43.8 584.5 46.2 585.3 49.4 587.4 53.7 589 54.5 602.6 56.4 604.2 57.3 606.6 59.8 608.2 60.6 609 60.4 613.1 56.6 627.4 54.5 629 53.5 631.2 48.6 631.9 43.8 630.9 39.8 628.7 36.6 635.4 36.6 635.4 91.8Z" fill="#aee79e" fill-rule="evenodd"/>
<path d="M630.6 91.8 585.5 91.8 580.2 87.3 580.2 69.2 583.8 72.6 585 73 586.6 72.5 589 69.7 593.2 59.8 594.6 58.4 596.2 57.8 600.2 57.6 602.6 58.1 608.2 63.5 609 63.4 612.2 59.3 613.8 58.1 617 57.5 621 58.1 622.4 59 623.4 60.4 626.6 68.4 629 72.1 630.6 72.9 632.2 72.7 635.4 69.8 635.4 87.9 630.6 91.8Z" fill="#c6e972" fill-rule="evenodd"/>
<path d="M612.2 91 605 91.1 598.6 89.8 593.8 87.3 592.2 85.8 590.9 83.8 590.2 81.4 590.1 78.2 592.4 68.6 594.6 64.1 596.2 62.1 597.8 61 600.2 60.3 601.8 60.4 604.2 61.7 607.6 64.6 609 64.9 613 61 614.6 60.3 617 60.3 618.6 60.8 621 62.5 623.6 66.2 624.7 69.4 626.1 78.2 626 81.4 625.3 83.8 623.4 86.4 620.4 88.6 617 90 612.2 91Z" fill="#d9e953" fill-rule="evenodd"/>
<path d="M609.8 86.3 605 86.1 600.2 84.9 597 83 594.6 79.9 594 78.2 593.3 74.2 593.6 69.4 595.4 65.7 597 64.1 598.6 63.2 601 62.5 603.4 62.7 605 63.5 607.4 65.4 609 65.8 613 62.5 614.6 62 616.2 62 618.6 62.7 620.2 63.7 622.9 67 623.7 69.4 623.7 72.6 623 77.4 621.6 80.6 619.4 82.9 617 84.4 613.8 85.6 609.8 86.3Z" fill="#e7e744" fill-rule="evenodd"/>
<path d="M613 83.2 608.2 83.6 604.2 83.2 600.2 81.9 597 79.6 595.2 76.6 594.2 71.8 594.8 68.6 597 65.4 599.4 63.9 602.6 63.4 605 64.3 607.4 66.1 609 66.5 609.8 66.2 613 63.4 615.4 62.8 618.6 63.7 620.9 65.4 622.4 67.8 623 70.2 622.7 73.4 621.5 77.4 620.2 79.5 618.6 80.9 615.4 82.5 613 83.2Z" fill="#eed03a" fill-rule="evenodd"/>
<path d="M613 82.2 609 82.7 605 82.4 601 81.1 597.8 78.9 595.8 75.8 595 71.8 595.6 68.6 597.2 66.2 599.4 64.7 602.6 64.2 605 65 607.4 66.8 609 67.1 610.6 66.4 613 64.1 615.4 63.6 617.8 64.1 620.2 65.7 621.7 67.8 622.3 70.2 622.1 72.6 621.2 75.8 619.9 78.2 618.4 79.8 616.2 81.2 613 82.2Z" fill="#f1ae35" fill-rule="evenodd"/>
<path d="M613 81.5 609 82 605 81.7 601 80.3 598.6 78.7 596.5 75.8 595.7 72.6 596 69.4 597.4 67 599.4 65.5 601.8 64.8 604.2 65.2 607.4 67.4 609 67.7 610.6 67.1 613 64.9 614.6 64.3 617 64.5 619.4 65.8 620.9 67.8 621.6 70.2 621.4 72.6 620.5 75.8 619.4 77.7 617.8 79.3 615.4 80.7 613 81.5Z" fill="#ef8e31" fill-rule="evenodd"/>
<path d="M609.8 81.4 605.8 81.2 602.6 80.3 599.4 78.5 597.8 76.9 596.6 74.2 596.4 71 597.1 68.6 598.6 66.8 600.2 65.9 602.6 65.5 604.2 66 607.4 68 609 68.3 610.8 67.8 613.8 65.2 615.4 65 617.8 65.6 619.5 67 620.5 68.6 620.9 71 620.5 74.2 619.4 76.6 617.8 78.4 615.4 80 613 80.9 609.8 81.4Z" fill="#eb6e2d" fill-rule="evenodd"/>
<path d="M610.6 80.7 607.4 80.8 604.2 80.2 601 78.9 598.9 77.4 597.4 75 597.1 72.6 597.7 69.4 598.7 67.8 600.2 66.8 602.6 66.3 604.2 66.8 606.6 68.4 609.8 68.8 611.4 68.3 613.8 66.2 615.4 65.9 617 66.2 618.6 67.3 619.5 68.6 620.1 71 620 73.4 619.2 75.8 617.8 77.6 616.2 78.8 613.8 79.9 610.6 80.7Z" fill="#e7522a" fill-rule="evenodd"/>
<path d="M610.6 79.9 607.4 80 604.2 79.5 601.8 78.7 599.4 77.1 598.4 75.8 597.8 73.4 598.2 71 599.4 68.9 601 67.8 602.6 67.5 606.6 69.1 610.6 69.3 615.4 67.3 616.9 67.8 617.8 68.6 618.6 70 619.4 72.6 619.3 74.2 618.6 75.8 617 77.5 615.4 78.4 610.6 79.9Z" fill="#e04629" fill-rule="evenodd"/>
<path d="M613.8 78.2 605.8 78.9 602.1 78.2 600.6 77.4 599.1 75.8 598.5 74.2 598.7 72.6 600.2 70.6 602.6 69.6 615.4 69.9 617.8 71.4 618.5 72.6 618.6 74.2 617.9 75.8 617 76.7 613.8 78.2Z" fill="#da3928" fill-rule="evenodd"/>
<path d="M613.8 76.7 609 75.9 605 77.3 603.4 77.3 601 76.3 600.2 75.4 599.9 74.2 600.2 73.3 601 72.5 604.2 71.2 608.2 70.8 612.2 71 615.2 71.8 617 73.4 617 74.9 616.3 75.8 613.8 76.7Z" fill="#d03027" fill-rule="evenodd"/>
<path d="M616.8 51 619.4 49.4 620.3 47.8 620.5 46.2 619.4 43.7 617.8 42.4 616.2 41.8 613 41.6 608.2 42.3 601 41.6 597.8 42.8 596.8 43.8 595.9 45.4 595.8 47 596.3 48.6 597.7 50.2 599.4 51 601.8 51.4 608.2 51 613.8 51.4 616.8 51M610 53.4 617 52.6 619.4 51.7 621.2 50.2 622.5 47.8 622.6 45.4 621.6 43 620.2 41.5 617.8 40.1 614.6 39.3 601.8 39.3 597.8 40.3 596.1 41.4 594.6 43 593.6 45.4 593.7 47.8 594.4 49.4 596.2 51.3 600.2 52.8 607.4 53.6 610 53.4M595 36.6 591.4 39.6 589.5 43 589.2 47 590.4 50.2 592.2 52.2 594.6 53.6 597.8 54.7 603.4 55.6 607.4 58.4 608.2 58.6 612.3 55.8 618.6 54.6 621.8 53.5 624.4 51.8 625.8 50.2 627 47 626.7 43 625 39.8 621.2 36.6M609 90.2 602.6 89.7 597 88 593.4 85.4 591.5 82.2 591 79.8 591.1 77.4 593.1 67.8 594.3 65.4 596.2 63 597.8 61.7 599.4 61.1 601 60.9 602.6 61.2 605 62.6 607.4 64.7 609 65.1 612.2 62 613.8 61 617 60.8 619.4 61.8 621 63 622.9 65.4 624 67.8 624.7 71 625.2 79 624.7 82.2 623.5 84.6 621 86.9 617.8 88.6 613.8 89.7 609 90.2M612.2 82.2 608.2 82.5 604.2 82 601 80.9 597.8 78.6 596 75.8 595.2 71.8 595.7 68.6 597.4 66.2 600.2 64.6 602.6 64.3 605 65.2 607.4 66.9 609 67.3 610.6 66.5 613 64.3 615.4 63.7 617.8 64.3 620.2 65.9 621.5 67.8 622.1 70.2 621.8 73.4 620.7 76.6 619.4 78.6 617.8 80 615.4 81.3 612.2 82.2M609 80.6 605.8 80.3 602.6 79.5 600.2 78.3 598.6 76.8 597.6 75 597.3 73.4 597.7 70.2 598.5 68.6 600.2 67.1 601.8 66.6 603.9 67 606.6 68.6 609 69 611.4 68.5 614.6 66.2 616.2 66.3 617.7 67 619.1 68.6 619.8 71 619.8 73.4 619.1 75.8 617.8 77.4 615.4 79 612.2 80.2 609 80.6" fill="none" stroke="#1a1a1a" stroke-width="0.7" stroke-opacity="0.85"/>
</g>
<rect x="581.7" y="58.3" width="2.8" height="12.6" rx="1.3" fill="#4e6747" stroke="#111" stroke-width="1.5"/>
<rect x="631.8" y="58.3" width="2.8" height="12.6" rx="1.3" fill="#4e6746" stroke="#111" stroke-width="1.5"/>
<path d="M603.9 41.4 L608.1 36.2 L612.3 41.4" fill="none" stroke="#231f20" stroke-width="1.8" stroke-linejoin="round"/>
<circle cx="608.1" cy="64.5" r="23.7" fill="none" stroke="#111" stroke-width="2.3"/>
<clipPath id="c8"><circle cx="80.5" cy="133.9" r="25.9"/></clipPath>
<circle cx="80.5" cy="133.9" r="29.2" fill="url(#glow)"/>
<g clip-path="url(#c8)">
<rect x="54.6" y="108" width="51.8" height="51.8" fill="#3a48ab"/>
<path d="M107.8 161.4 52.4 161.2 52.6 105.8 108 106 107.8 161.4ZM76.2 118.8 77.5 117.2 77.4 116 76.7 114.8 74.2 113.8 72.8 114 71.6 114.8 71 115.9 71 117.2 72 118.8 74.2 119.5 76.2 118.8ZM88.1 120.4 89.4 119.8 90.3 118.8 90.8 117.2 90.5 115.6 88.6 113.8 87 113.5 85.1 114 83.4 115.6 83.1 116.4 83.4 118 85.4 120 87 120.5 88.1 120.4Z" fill="#3f59bd" fill-rule="evenodd"/>
<path d="M107.8 161.4 52.4 161.2 52.6 105.8 108 106 107.8 161.4ZM89.5 121.2 91 119.9 91.6 118.8 91.8 116.4 90.6 114 88.6 112.8 87 112.5 84.6 113 80.6 116 76.5 113.2 73.4 112.7 71 113.9 69.9 115.6 70.2 118.3 71.2 119.6 72.6 120.4 75.8 120.4 77.4 119.6 79.8 117.5 80.6 117.3 83.8 120.4 85.4 121.4 87.8 121.7 89.5 121.2Z" fill="#4367c5" fill-rule="evenodd"/>
<path d="M107.8 161.4 52.4 161.2 52.6 105.8 108 106 107.8 161.4ZM90 122 91.8 120.2 92.6 117.2 91.8 114.4 89.4 112.3 87.8 111.9 85.4 112 80.6 113.8 75.8 112.1 73.4 112 71 112.9 69.4 114.9 69.1 117.2 69.7 118.8 71 120.3 72.6 121.2 75.8 121.2 79 119.8 80.6 119.5 86.2 122.7 87.8 122.8 90 122Z" fill="#4876cc" fill-rule="evenodd"/>
<path d="M107.8 161.3 52.5 161.2 52.6 105.9 107.9 106 107.8 161.3ZM88.9 123.6 90.2 123 91.8 121.5 92.9 119.6 93.3 118 93 115.6 92.3 114 91 112.6 89.4 111.7 86.2 111.2 80.6 112.8 75.8 111.4 73.4 111.3 70.7 112.4 68.8 114.8 68.4 116.4 69 118.8 70.2 120.4 71.8 121.5 75 122.1 80.6 120.8 85.4 123.5 87 123.9 88.9 123.6Z" fill="#4e8cd4" fill-rule="evenodd"/>
<path d="M107.8 161.3 52.5 161.2 52.6 105.9 107.9 106 107.8 161.3ZM88.9 125.2 90.2 124.6 92.1 122.8 93.4 120.4 94 118 93.7 115.6 93.1 114 91.8 112.5 90.2 111.3 88.6 110.7 86.2 110.5 80.6 111.7 75.8 110.7 73.4 110.7 70.2 111.9 68.4 114 67.9 115.6 68 118 69.4 120.4 71 121.8 72.6 122.5 75 122.9 80.6 122.2 85.4 125.2 87 125.5 88.9 125.2Z" fill="#60a6db" fill-rule="evenodd"/>
<path d="M107.8 161.3 52.5 161.2 52.6 105.9 107.9 106 107.8 161.3ZM90.8 126.8 92.4 125.2 93.4 123.3 94.5 120.4 94.8 118 94.5 115.6 93.9 114 92.8 112.4 91 111 89.4 110.2 87 109.8 80.6 110.7 75.8 109.9 73.4 109.9 70.2 111.1 68.1 113.2 67.2 115.6 67.3 118 68.6 120.5 71 122.6 74.2 123.9 79.8 124.3 83 126.3 86.2 127.4 88.6 127.5 90.8 126.8Z" fill="#72c1e1" fill-rule="evenodd"/>
<path d="M107.8 161.3 52.5 161.2 52.6 105.9 107.9 106 107.8 161.3ZM91.5 129.2 93.4 128.3 94.6 126.8 95.1 125.2 95.8 118.8 95.6 116.4 94.9 114 93.4 111.9 91.8 110.5 89.4 109.3 87 108.9 80.6 109.4 74.2 109 70.2 110.1 67.6 112.4 66.5 114.8 66.5 118 67.8 120.7 70.2 123.1 73.4 124.9 81.4 127.6 87.8 129.3 91.5 129.2Z" fill="#80cee3" fill-rule="evenodd"/>
<path d="M107.8 161.3 52.5 161.2 52.6 105.9 107.9 106 107.8 161.3ZM94.3 130.8 95.8 130 97.2 128.4 97.9 126.8 97.9 124.4 96.4 114.8 94.6 111.6 92.6 109.7 90.2 108.5 87 107.7 74.2 107.8 70.2 108.9 66.9 111.6 65.5 114.8 65.8 118.8 67.8 122.2 71.8 125.7 75.8 127.8 82.2 129 89.4 131.3 91.8 131.4 94.3 130.8Z" fill="#8ed9e1" fill-rule="evenodd"/>
<path d="M107.8 161.2 52.6 161.2 52.6 106 74.5 106 71.8 106.6 68.6 108 66.2 110 65.1 111.6 64.2 114 64 116.4 64.8 119.6 66.1 122 69.4 126.1 72.6 128.6 75 129.4 80.6 129.6 83 130.1 90.2 133.5 92.6 133.9 96.6 132.9 99.4 130.8 101.1 127.6 101 123.6 98.3 114.8 96 110.8 94.2 109 91.8 107.5 87 106 107.8 106 107.8 161.2Z" fill="#9de0c1" fill-rule="evenodd"/>
<path d="M107.8 161.2 52.6 161.2 52.6 106 66.2 106 64.2 107.6 62.4 110 61.5 112.4 61.3 115.6 62.1 118.8 64 122.8 66.3 126.8 68.6 129.1 71 130.5 73.4 131.1 79.8 130.4 83 130.9 85.9 132.4 90.2 136.4 93.4 137.1 98.2 136.1 101.7 134 104.2 130.8 105.4 126.8 104.9 122 101.8 114 98.8 109.2 95.2 106 107.8 106 107.8 161.2Z" fill="#aee79e" fill-rule="evenodd"/>
<path d="M107.8 161.2 52.6 161.2 52.6 132 67 135 70.2 135.3 71.8 134.8 77.4 131.7 81.4 131.3 83.8 132.1 86 134 87.3 136.4 88.5 140.4 90.2 141.8 93.4 142.6 98.2 143.1 107.8 142.7 107.8 161.2Z" fill="#c6e972" fill-rule="evenodd"/>
<path d="M84.6 147 83 147.5 81.4 147 80.7 146 80.2 142.8 77.4 141.2 75.8 138.8 75.3 136.4 75.7 134.8 77 133.2 78.2 132.5 79.8 132.1 82.2 132.3 84 133.2 85.3 134.8 85.8 136.4 85.7 138 84.2 141.2 84.2 142 85.3 143.6 85.6 145.2 84.6 147ZM76.6 152.4 74.8 152.4 72.6 151.7 71.9 150.8 71.9 150 72.8 149.2 75 148.6 78.5 149.2 79.4 150 79.5 150.8 78.9 151.6 76.6 152.4Z" fill="#d9e953" fill-rule="evenodd"/>
<path d="M82.2 139.7 79.8 139.8 77.6 138 77.1 135.6 78 134 79 133.2 80.6 132.9 82.2 133.1 84.1 134.8 84.5 136.4 84.1 138 82.2 139.7ZM83.8 145.2 82.8 145.2 82.5 144.4 83 143.8 84 144.4 83.8 145.2Z" fill="#e7e744" fill-rule="evenodd"/>
<path d="M81.4 138.2 79.8 137.9 78.7 136.4 79 134.8 80.3 134 82.2 134.4 83.1 135.6 82.9 137.2 81.4 138.2Z" fill="#eed03a" fill-rule="evenodd"/>
<path d="M89.8 121.2 91 120.1 91.7 118.8 91.9 116.4 90.7 114 88.6 112.7 87 112.4 85.4 112.6 83.9 113.2 80.6 115.4 79.8 115.3 76.6 113.1 73.4 112.6 71 113.7 69.8 115.6 69.7 117.2 70.2 118.5 71.1 119.6 72.6 120.5 75.8 120.5 79.8 118 80.6 117.9 85.4 121.5 87.8 121.9 89.8 121.2M89.7 123.6 92.3 121.2 93.1 119.6 93.4 117.2 92.5 114 91 112.4 89.4 111.5 86.2 111 80.6 112.5 75.8 111.3 73.4 111.2 70.4 112.4 68.6 114.8 68.3 116.4 68.8 118.8 70 120.4 71.8 121.7 75 122.3 80.6 121.1 86.2 124.1 87.8 124.2 89.7 123.6M91.2 127.6 92.6 126.4 93.4 125 94.7 121.2 95.1 118 94.2 114 93.1 112.4 91 110.7 87 109.5 80.6 110.3 73.4 109.6 70.2 110.8 67.7 113.2 66.9 115.6 67.3 118.8 68.8 121.2 71 123 73.4 124 79 125.1 82.4 126.8 85.4 127.8 88.6 128.2 91.2 127.6M92.8 132.4 95 131.8 97.4 130.3 98.8 128.4 99.4 126 97.1 114.8 95.4 111.6 93.4 109.6 91 108.1 87.8 107.2 75.8 107 71 107.9 68.6 109.1 66.7 110.8 65.1 114 65 118 67 122 71 126.1 75 128.4 82.2 129.4 89.4 132.1 92.8 132.4M60.1 106 58.2 108.4 57.1 110.8 56.7 113.2 57 115.6 57.9 118 62.5 126.8 64.5 129.2 67 130.9 69.4 132 71.8 132.5 79 130.9 83 131.4 85.9 133.2 89.4 138.3 90.2 138.9 91.8 139.5 94.2 139.7 98.2 139.3 102.2 137.7 105.4 135.2 107.8 131.8M107.8 118 105 110.8 103.5 108.4 101.3 106M81.4 140.6 79.8 140.4 78.2 139.6 76.7 137.2 76.6 135.6 77.4 134 79.8 132.7 81.4 132.6 83 133.2 83.9 134 84.8 135.6 84.9 137.2 84.2 138.8 83 140 81.4 140.6M83.8 145.9 83 146 82 145.2 82.2 143.6 83 143.1 83.8 143.3 84.6 144.4 84.5 145.2 83.8 145.9" fill="none" stroke="#1a1a1a" stroke-width="0.7" stroke-opacity="0.85"/>
</g>
<rect x="54.1" y="127.7" width="2.8" height="12.6" rx="1.3" fill="#53683c" stroke="#111" stroke-width="1.5"/>
<rect x="104.1" y="127.7" width="2.8" height="12.6" rx="1.3" fill="#4d6748" stroke="#111" stroke-width="1.5"/>
<path d="M76.3 110.8 L80.5 105.6 L84.7 110.8" fill="none" stroke="#231f20" stroke-width="1.8" stroke-linejoin="round"/>
<circle cx="80.5" cy="133.9" r="23.7" fill="none" stroke="#111" stroke-width="2.3"/>
<clipPath id="c9"><circle cx="154.2" cy="134.7" r="25.9"/></clipPath>
<circle cx="154.2" cy="134.7" r="29.2" fill="url(#glow)"/>
<g clip-path="url(#c9)">
<rect x="128.3" y="108.8" width="51.8" height="51.8" fill="#3b4baf"/>
<path d="M181.5 162.2 126.1 162 126.3 106.6 181.7 106.8 181.5 162.2ZM149.2 119.6 150.5 118 150.3 116.3 149.5 115.5 147.9 114.9 145.8 115.6 145 117.2 145.5 119 147.1 120 149.2 119.6ZM162.3 119.6 163.4 118 163.2 116.4 162.6 115.6 160.7 114.9 158.8 115.6 157.8 117.2 158.3 118.8 159.9 119.9 162.3 119.6Z" fill="#3f59bd" fill-rule="evenodd"/>
<path d="M181.5 162.2 126.1 162 126.3 106.6 181.7 106.8 181.5 162.2ZM148.2 121.2 149.5 120.8 151.1 119.6 152.3 117.2 151.5 115.6 150.6 114.8 149 114 147.1 113.9 144.7 115.2 144 116.4 143.9 118 144.6 119.6 145.5 120.5 147.1 121.2 148.2 121.2ZM161.2 121.2 163.1 120.4 163.9 119.5 164.5 118 164.4 116.4 163.3 114.8 162.3 114.2 159.4 114 156.9 115.6 156.3 116.4 156.3 118 158.3 120.5 159.9 121.2 161.2 121.2Z" fill="#4367c5" fill-rule="evenodd"/>
<path d="M181.5 162.2 126.1 162 126.3 106.6 181.7 106.8 181.5 162.2ZM161.1 122 162.3 121.7 163.9 120.6 165.2 118 164.7 115.4 163.9 114.4 162.3 113.5 160.7 113.1 159.1 113.4 154.3 116.1 150.3 113.7 147.1 113.2 144.7 114.2 143.3 116.4 143.2 118 143.7 119.6 144.7 120.8 146.3 121.8 147.9 122 149.5 121.7 154.3 118.4 158.3 121.4 161.1 122Z" fill="#4876cc" fill-rule="evenodd"/>
<path d="M181.5 162.2 126.1 162 126.3 106.6 181.7 106.8 181.5 162.2ZM163.2 122 165.3 119.6 165.8 117.2 164.7 114.4 162.3 112.8 159.1 112.7 154.3 114.6 149.5 112.8 147.1 112.6 145.5 113.1 144.1 114 142.7 116.4 142.8 118.8 143.6 120.4 144.7 121.6 146.3 122.5 149.5 122.5 154.3 120 159.1 122.5 161.5 122.6 163.2 122Z" fill="#4e8cd4" fill-rule="evenodd"/>
<path d="M181.5 162.1 126.2 162 126.3 106.7 181.6 106.8 181.5 162.1ZM163.1 122.8 165.5 120.4 166.4 117.2 166.1 115.6 165.1 114 162.3 112.2 159.1 112.1 154.3 113.5 149.5 112.1 147.1 112 144.2 113.2 142.3 115.6 142.1 118 142.9 120.4 144.7 122.5 146.3 123.2 149.5 123.3 154.3 121.3 159.1 123.3 161.5 123.4 163.1 122.8Z" fill="#60a6db" fill-rule="evenodd"/>
<path d="M181.5 162.1 126.2 162 126.3 106.7 181.6 106.8 181.5 162.1ZM163.2 123.6 164.7 122.6 165.8 121.2 166.6 119.6 167 117.2 166.7 115.6 165.9 114 163.1 111.9 159.9 111.3 154.3 112.5 149.5 111.5 147.1 111.4 143.9 112.6 142.5 114 141.7 115.6 141.5 118 142.2 120.4 143.9 122.7 145.5 123.8 148.7 124.3 154.3 122.7 159.1 124.2 161.5 124.2 163.2 123.6Z" fill="#72c1e1" fill-rule="evenodd"/>
<path d="M181.5 162.1 126.2 162 126.3 106.7 181.6 106.8 181.5 162.1ZM163.5 124.4 164.8 123.6 166.3 121.7 167.3 119.6 167.6 117.2 167.4 115.6 166.3 113.5 164.7 112 163.1 111.1 159.9 110.6 154.3 111.5 149.5 110.7 147.1 110.7 143.9 111.8 142.3 113.2 141.3 114.8 140.8 117.2 141.4 120.4 143.1 123.1 144.9 124.4 148.7 125.1 154.3 124.3 159.9 125.1 163.5 124.4Z" fill="#80cee3" fill-rule="evenodd"/>
<path d="M181.5 162.1 126.2 162 126.3 106.7 181.6 106.8 181.5 162.1ZM160.3 126 163.1 125.6 165.4 124.4 166.7 122.8 168 119.6 168.4 117.2 167.9 114.8 166.4 112.4 164.7 111 160.7 109.8 154.3 110.3 147.9 109.8 143.9 110.9 141.3 113.2 140.2 115.6 140.2 118.8 141.5 122.5 143.1 124.5 144.7 125.4 147.1 125.9 154.3 125.6 160.3 126Z" fill="#8ed9e1" fill-rule="evenodd"/>
<path d="M181.5 162.1 126.2 162 126.3 106.7 181.6 106.8 181.5 162.1ZM161.7 126.8 164.9 126 167.1 124.5 168.1 122.8 169 119.6 169.3 117.2 168.9 114.8 167.7 112.4 165.5 110.4 163.1 109.2 160.7 108.7 147.9 108.7 145.5 109.2 143.1 110.2 140.2 113.2 139.3 115.6 139.3 118.8 140.7 123.6 142.3 125.4 144.7 126.4 147.9 126.9 161.7 126.8Z" fill="#9de0c1" fill-rule="evenodd"/>
<path d="M181.5 162 126.3 162 126.3 106.8 181.5 106.8 181.5 162ZM163.2 127.6 168 126 169 125.2 169.7 123.6 170.5 117.2 170.3 114.8 168.8 111.6 166.3 109.3 163.9 108 159.9 107.1 148.7 107.1 145.5 107.7 143.1 108.7 139.6 111.6 138.4 114 137.9 117.2 138.9 124.4 140.4 126 143.1 127.1 147.1 127.8 163.2 127.6Z" fill="#aee79e" fill-rule="evenodd"/>
<path d="M181.5 162 126.3 162 126.3 106.8 141.5 106.8 137.8 110 136.1 113.2 135.8 115.6 136.1 120.4 134.7 124.4 135.5 126 139.1 127.6 144.7 128.8 154.3 128.6 160.7 129 164.7 128.7 168.7 127.8 171.5 126.8 173.6 125.2 173.7 124.4 172.3 120.4 172.6 115.6 172 112.4 169.9 109.2 166.9 106.8 181.5 106.8 181.5 162Z" fill="#c6e972" fill-rule="evenodd"/>
<path d="M126.3 121.8 126.3 106.8 130.9 106.8 129.2 109.2 128.1 112.4 128.2 119.6 126.3 121.8ZM181.5 121.2 180 118.8 180.5 114 180.2 111.6 179.2 109.2 177.5 106.8 181.5 106.8 181.5 121.2ZM181.5 162 126.3 162 126.3 127.3 133.5 129.4 145.5 130.6 154.3 129.7 161.5 130.6 166.3 130.5 175.1 129.4 181.5 127.6 181.5 162Z" fill="#d9e953" fill-rule="evenodd"/>
<path d="M165.5 157.4 160.7 157.9 144.7 157.4 140.7 156.9 136.7 155.6 132.6 153.2 129.7 150 128.5 146 129.1 142 130.5 139.6 131.9 138 135.9 135.3 139.9 134.1 146.3 133.6 152.7 131 156.7 131.2 161.5 133.6 169.5 135.7 172.7 137.6 175.4 140.4 177 143.6 177.3 147.6 176 150.8 173.5 153.6 169.5 156.1 165.5 157.4Z" fill="#e7e744" fill-rule="evenodd"/>
<path d="M164.7 154 160.7 154.2 152.7 152.4 144.7 153.7 141.5 153.6 139.1 153 135.9 151.3 133.5 148.7 132.5 146 132.8 142.8 134.8 139.6 137.5 137.7 141.5 136.5 147.9 136.4 149.3 135.6 151.4 133.2 152.7 132.5 154.3 132.2 155.9 132.6 157 133.2 159.9 136.3 165.5 137.4 168.7 138.8 170.7 140.4 172.2 142.8 172.8 145.2 172.7 146.8 171.3 150 168.7 152.5 164.7 154Z" fill="#eed03a" fill-rule="evenodd"/>
<path d="M155.1 138.4 154.3 138.5 153 137.2 152.9 135.6 153.5 134.8 154.9 134.8 155.5 135.6 155.7 137.2 155.1 138.4ZM165.5 151.8 163.1 152.3 159.9 151.9 153.5 148.8 151.9 149 146.3 151.4 143.1 151.8 140.7 151.5 138.3 150.5 135.8 148.4 134.7 146 134.7 143.6 135.4 142 136.7 140.4 139.1 138.8 141.5 138.2 146.3 138.4 153.5 140.6 155.9 139.2 161.5 138.8 164.7 139 167.1 140 168.7 141.2 169.9 142.8 170.5 145.2 170.2 147.6 169.3 149.2 167.6 150.8 165.5 151.8Z" fill="#f1ae35" fill-rule="evenodd"/>
<path d="M144.7 150.1 142.3 150.2 139.9 149.6 138 148.4 136.8 146.8 136.4 145.2 136.5 143.6 137.3 142 139.1 140.5 141.5 139.6 144.7 139.6 147.9 140.9 149.8 142.8 150.6 145.2 150 146.8 147.9 148.9 144.7 150.1ZM165.5 150.1 163.9 150.6 161.5 150.6 159.1 149.7 157.5 148.4 156.4 146.8 156.1 145.2 156.6 143.6 157.9 142 159.9 140.8 162.3 140.3 164.7 140.6 167.2 142 168.6 144.4 168.6 146.8 167.7 148.4 165.5 150.1Z" fill="#ef8e31" fill-rule="evenodd"/>
<path d="M144.7 148.6 141.5 148.7 139.9 148 138.7 146.8 138 144.4 139.4 142 141.5 141 143.9 140.9 145.5 141.3 147.4 142.8 148.2 144.4 148 146 146.8 147.6 144.7 148.6ZM164.7 148.8 163.1 149.1 161.5 148.9 159.3 147.6 158.5 145.2 159.1 143.6 159.9 142.8 161.5 142 163.1 141.8 164.7 142.2 166.3 143.4 166.9 144.4 167 146 166.3 147.6 164.7 148.8Z" fill="#eb6e2d" fill-rule="evenodd"/>
<path d="M144.7 146.8 143.1 147.2 141.2 146.8 139.9 145.2 140.3 143.6 142.3 142.4 144.7 142.8 145.6 143.6 146 145.2 144.7 146.8ZM163.9 146.9 162.3 147.1 161.5 146.7 161 145.2 161.4 144.4 163.1 143.8 164.4 144.4 164.8 146 163.9 146.9Z" fill="#e7522a" fill-rule="evenodd"/>
<path d="M163.2 121.2 165 118.8 165 116.4 163.9 114.5 161.5 113.3 158.3 113.7 154.3 116.3 150.3 113.8 147.1 113.3 144.7 114.3 143.4 116.4 143.3 118 143.9 119.8 145.5 121.4 147.1 121.9 148.7 121.9 150.3 121.2 154.3 118.2 159.1 121.7 161.5 121.9 163.2 121.2M162.3 123.6 163.9 122.8 165.4 121.2 166.7 118 166.6 116.4 166 114.8 164.7 113.2 163.1 112.2 159.9 111.7 154.3 113 149.5 111.8 147.1 111.7 143.9 113 142 115.6 141.7 118 142.3 120 143.6 122 145.5 123.4 148.7 123.9 154.3 122.1 159.1 123.8 162.3 123.6M161.8 126 164.5 125.2 166.3 123.7 167.3 122 168.4 118.8 168.5 116.4 167.7 114 166.6 112.4 164.7 110.9 160.7 109.6 154.3 110.1 147.9 109.6 143.9 110.8 141.1 113.2 140.1 115.6 140 118.8 141.5 122.8 143.1 124.7 145.5 125.8 147.9 126.1 154.3 125.8 161.8 126M142.9 106.8 139.4 109.2 137.1 112.4 136.4 115.6 136.7 120.4 135.8 124.4 136.1 125.2 136.8 126 139.1 127.1 144.7 128.5 160.7 128.8 165.5 128.2 169.5 127.1 171.6 126 172.6 124.4 171.7 121.2 172 115.6 171.3 112.4 169 109.2 165.5 106.8M164.7 155.7 160.7 155.9 152.7 154.9 143.9 155.4 138.3 154.3 134.3 152.1 131.7 149.2 130.6 146 130.7 143.6 131.2 142 133.5 138.7 137.5 136.2 140.7 135.3 147.1 134.8 150.7 132.4 152.7 131.6 155.1 131.4 156.7 131.9 161.5 135.1 166.3 136.1 169.5 137.5 172.2 139.6 174.2 142.8 174.7 146.8 174 149.2 173.1 150.8 169.5 153.9 164.7 155.7M144.7 150.1 142.3 150.1 139.9 149.5 138.1 148.4 136.9 146.8 136.4 145.2 136.6 143.6 137.4 142 139.1 140.6 141.5 139.7 144.7 139.7 147.9 141 149.7 142.8 150.4 145.2 149.9 146.8 147.9 148.8 144.7 150.1M165.5 150 163.9 150.5 161.5 150.5 158.3 149 157 147.6 156.3 146 156.4 144.4 157.3 142.8 159.3 141.2 162.3 140.4 164.7 140.7 167.1 142 168.3 143.6 168.7 146 167.6 148.4 165.5 150" fill="none" stroke="#1a1a1a" stroke-width="0.7" stroke-opacity="0.85"/>
</g>
<rect x="127.7" y="128.5" width="2.8" height="12.6" rx="1.3" fill="#616825" stroke="#111" stroke-width="1.5"/>
<rect x="177.8" y="128.5" width="2.8" height="12.6" rx="1.3" fill="#616825" stroke="#111" stroke-width="1.5"/>
<path d="M150 111.6 L154.2 106.4 L158.4 111.6" fill="none" stroke="#231f20" stroke-width="1.8" stroke-linejoin="round"/>
<circle cx="154.2" cy="134.7" r="23.7" fill="none" stroke="#111" stroke-width="2.3"/>
<clipPath id="c10"><circle cx="229.4" cy="133.5" r="25.9"/></clipPath>
<circle cx="229.4" cy="133.5" r="29.2" fill="url(#glow)"/>
<g clip-path="url(#c10)">
<rect x="203.5" y="107.6" width="51.8" height="51.8" fill="#3a48ab"/>
<path d="M256.7 161 201.3 160.8 201.5 105.4 256.9 105.6 256.7 161ZM225.4 119.2 226.4 118.4 227.5 116.8 227.6 116 226.8 114.4 223.9 112.8 221.9 112.8 220.3 113.6 219.6 114.4 219 116 219.9 118.5 222.3 119.8 223.9 119.8 225.4 119.2ZM238.1 119.2 239.5 117.6 239.7 116 239.2 114.4 238.3 113.5 236.7 112.7 234.7 112.8 233 113.6 231.5 115.2 231.3 116.8 233.4 119.2 235.9 119.9 238.1 119.2Z" fill="#3f59bd" fill-rule="evenodd"/>
<path d="M256.7 161 201.3 160.8 201.5 105.5 256.8 105.6 256.7 161ZM237.3 120.8 239.9 119.1 240.7 117.6 240.9 116 239.9 113.4 237.5 111.8 234.3 111.6 229.5 113.5 224.7 111.7 222.3 111.5 219.5 112.8 218 115.2 217.9 116.8 218.4 118.4 219.8 120 221.5 120.8 224.7 120.8 229.5 118.8 234.3 120.9 237.3 120.8Z" fill="#4367c5" fill-rule="evenodd"/>
<path d="M256.7 160.9 201.4 160.8 201.5 105.5 256.8 105.6 256.7 160.9ZM237.4 121.6 240.2 120 241.3 118.4 241.7 116.8 241.7 115.2 241.1 113.6 239.9 112.2 238.3 111.2 235.1 110.6 229.5 112 224.7 110.8 222.3 110.7 219.1 112 217.4 114.4 217.1 116.8 217.5 118.4 218.6 120 220.7 121.4 223.9 121.8 229.5 120.2 234.3 121.7 237.4 121.6Z" fill="#4876cc" fill-rule="evenodd"/>
<path d="M256.7 160.9 201.4 160.8 201.5 105.5 256.8 105.6 256.7 160.9ZM237.1 122.4 239.1 121.7 240.7 120.4 242.1 118.4 242.5 116.8 242.2 114.4 241.5 112.8 239.9 111.2 238.3 110.3 235.1 109.8 229.5 110.8 224.7 109.9 222.3 109.9 219.1 111.1 216.9 113.6 216.3 116 216.7 118.4 218.3 120.7 220.7 122.1 223.9 122.6 229.5 121.4 234.3 122.5 237.1 122.4Z" fill="#4e8cd4" fill-rule="evenodd"/>
<path d="M256.7 160.9 201.4 160.8 201.5 105.5 256.8 105.6 256.7 160.9ZM237.1 123.2 239.1 122.5 241.4 120.8 242.6 119.2 243.3 116.8 243.3 115.2 242.5 112.8 241.2 111.2 239.1 109.7 235.9 108.9 229.5 109.6 222.3 109 219.1 110 217.5 111.3 216.3 112.8 215.5 115.2 215.9 118.4 217.4 120.8 219.9 122.7 223.1 123.4 229.5 122.6 234.3 123.4 237.1 123.2Z" fill="#60a6db" fill-rule="evenodd"/>
<path d="M256.7 160.9 201.4 160.8 201.5 105.5 256.8 105.6 256.7 160.9ZM237.8 124 240.7 122.7 242.3 121.2 243.6 119.2 244.3 116.8 244.2 114.4 243.2 112 242 110.4 239.9 108.9 237.5 108 235.1 107.6 229.5 107.9 223.1 107.7 220.7 108.2 218.3 109.2 215.6 112 214.5 115.2 214.9 118.4 216.7 121.5 219.1 123.3 221.5 124.2 223.9 124.4 229.5 124 235.1 124.4 237.8 124Z" fill="#72c1e1" fill-rule="evenodd"/>
<path d="M256.7 160.8 201.5 160.8 201.5 105.6 256.7 105.6 256.7 160.8ZM235.9 125.6 239.1 124.8 241.5 123.6 243.6 121.6 245.3 118.4 245.7 115.2 245.3 112.8 243.9 110.2 241.5 108 239.1 106.8 235.1 105.8 223.9 105.8 220.7 106.4 218.3 107.4 216.3 108.8 214.8 110.4 213.3 113.6 213.3 117.6 214.6 120.8 217.5 123.8 219.9 125 223.1 125.7 235.9 125.6Z" fill="#80cee3" fill-rule="evenodd"/>
<path d="M256.7 160.8 201.5 160.8 201.5 105.6 215.2 105.6 211.9 108.8 210.4 112 210.2 114.4 210.5 116.8 212 120.8 214.6 124 218.3 126.2 222.3 127.2 227.9 127.5 235.1 127.3 239.9 126.3 243.9 124.1 246.2 121.6 247.6 119.2 248.3 116.8 248.5 112.8 246.9 108.8 243.6 105.6 256.7 105.6 256.7 160.8Z" fill="#8ed9e1" fill-rule="evenodd"/>
<path d="M256.7 160.8 201.5 160.8 201.5 127.4 206.3 127.1 220.7 129.1 230.3 129.4 239.1 128.9 251.9 126.7 256.7 126.6 256.7 160.8Z" fill="#9de0c1" fill-rule="evenodd"/>
<path d="M232.7 160.1 225.5 159.9 219.1 158.5 213.5 156.2 208.9 152.8 206 148.8 205.1 146.4 204.9 144 205.8 140 208.6 136 211.9 133.6 216.7 132.1 222.3 131.5 233.5 131.3 239.9 131.4 244.7 132.1 248.5 133.6 251.7 136 254.1 139.2 255.3 143.2 254.9 147.2 252.7 151.2 249.5 154.4 244.7 157.2 239.1 159.1 232.7 160.1Z" fill="#aee79e" fill-rule="evenodd"/>
<path d="M234.3 156.1 228.7 156.3 223.1 155.5 218.3 153.8 214.4 151.2 211.8 148 210.9 144.8 211.3 141.6 213.2 138.4 215.9 136.2 219.1 134.7 223.1 133.8 227.9 133.3 233.5 133.3 238.3 133.8 242.3 135 245.5 136.9 247.9 139.4 249.4 142.4 249.6 144.8 248.5 148 246.3 150.8 243.1 153.2 239.1 155 234.3 156.1Z" fill="#c6e972" fill-rule="evenodd"/>
<path d="M235.9 153 231.9 153.5 227.1 153.3 223.1 152.3 219.9 150.9 217.1 148.8 215.4 146.4 215 144 215.6 141.6 216.7 140 219.1 138 222.3 136.5 226.3 135.6 231.1 135.2 235.1 135.5 239.1 136.4 242.3 137.9 245 140 246.6 142.4 246.9 144.8 246.4 146.4 245.3 148 243.1 149.9 239.9 151.7 235.9 153Z" fill="#d9e953" fill-rule="evenodd"/>
<path d="M236.7 151.3 233.5 151.8 228.7 151.7 222.3 150.1 219.9 148.7 217.7 146.4 217.1 144 217.5 142.4 218.6 140.8 220.7 139.1 223.1 137.9 226.3 137 233.5 136.6 236.7 137 239.9 138.1 243.9 140.8 245 142.4 245.3 144.8 244.2 147.2 242.5 148.8 239.9 150.3 236.7 151.3Z" fill="#e7e744" fill-rule="evenodd"/>
<path d="M236.7 150.5 233.5 151 229.5 150.9 225.5 150.2 223.1 149.4 220.8 148 219.2 146.4 218.6 144.8 219 142.4 220.2 140.8 222.3 139.4 227.1 137.8 231.1 137.3 234.3 137.4 237.5 138 239.9 139 243.3 141.6 244.1 143.2 244.2 144.8 243.5 146.4 242.1 148 239.9 149.4 236.7 150.5Z" fill="#eed03a" fill-rule="evenodd"/>
<path d="M232.7 150.4 227.1 149.9 222.3 148 220 145.6 219.7 144 220.2 142.4 221.6 140.8 223.9 139.5 227.1 138.5 230.3 138 233.5 138 236.7 138.5 239.1 139.3 241.4 140.8 242.7 142.4 243.2 144 242.9 145.6 241.8 147.2 238.3 149.4 235.9 150.1 232.7 150.4Z" fill="#f1ae35" fill-rule="evenodd"/>
<path d="M235.1 149.6 229.5 149.7 226.3 149 223.9 148.1 222.3 147 221.2 145.6 220.8 144 221.3 142.4 223 140.8 224.4 140 229.5 138.7 235.1 138.7 239.1 140 241.8 142.4 242.2 144 241.9 145.6 239.6 148 235.1 149.6Z" fill="#ef8e31" fill-rule="evenodd"/>
<path d="M235.9 148.9 231.1 149.3 225.5 148.1 223.9 147.2 222.3 145.6 222.1 143.2 223.1 141.8 224.4 140.8 227.9 139.5 233.5 139.1 237.5 139.9 239.2 140.8 240.7 142.3 241.2 144.8 239.6 147.2 235.9 148.9Z" fill="#eb6e2d" fill-rule="evenodd"/>
<path d="M236.7 148.1 231.9 148.7 227.1 147.8 225.5 147.1 223.7 145.6 223.2 144 223.5 143.2 224.8 141.6 228.8 140 233.5 139.6 236.7 140.3 239 141.6 240.3 144 239.3 146.4 236.7 148.1Z" fill="#e7522a" fill-rule="evenodd"/>
<path d="M233.5 148.1 229.5 147.6 226.5 146.4 225.1 144.8 225.3 143.2 227.1 141.6 231.1 140.4 234.3 140.4 237.5 141.5 239 143.2 239.1 144.8 238.7 145.6 236.7 147.3 233.5 148.1Z" fill="#e04629" fill-rule="evenodd"/>
<path d="M235.9 146.6 233.5 147.1 230.2 146.4 228.6 144.8 228.7 143.2 231.1 141.6 233.5 141.3 235.6 141.6 236.9 142.4 237.8 144 237.2 145.6 235.9 146.6Z" fill="#da3928" fill-rule="evenodd"/>
<path d="M237.3 121.6 240.1 120 241.2 118.4 241.7 116.8 241.6 115.2 241 113.6 239.9 112.2 238.3 111.2 235.1 110.7 229.5 112.1 224.7 110.8 222.3 110.7 219.1 112 217.4 114.4 217.1 116.8 217.5 118.4 218.7 120 220.7 121.3 223.9 121.8 229.5 120.2 234.3 121.7 237.3 121.6M237.5 124 239.9 123.1 241.9 121.6 243.5 119.2 244.2 116.8 244.1 114.4 243.6 112.8 242.3 110.9 239.9 109 237.5 108.1 235.1 107.8 229.5 108.1 222.3 107.9 218.3 109.4 216.7 110.7 215.2 112.8 214.6 115.2 215 118.4 216.7 121.4 219.1 123.2 223.1 124.3 229.5 123.8 234.3 124.3 237.5 124M201.5 123.2 207.2 125.6 215.6 128 221.5 128.9 228.7 129.2 235.9 128.9 242.2 128 250.4 125.6 256.7 123.1M234.3 153.6 230.3 153.9 226.3 153.6 222.3 152.5 219.1 151 216.5 148.8 214.9 146.4 214.5 143.2 215.5 140.8 217.5 138.6 219.9 137.1 223.1 135.9 227.1 135.2 231.9 135 236.7 135.5 239.9 136.4 243.1 138.1 245.4 140 246.9 142.4 247.2 144 246.7 146.4 244.9 148.8 242.3 150.8 238.3 152.7 234.3 153.6M234.3 150.4 227.9 150.2 223.1 148.7 221 147.2 219.8 145.6 219.5 144 220 142.4 221.3 140.8 223.1 139.7 228.7 138 235.1 138 239.9 139.6 241.7 140.8 243 142.4 243.4 144 243.1 145.6 242 147.2 239.8 148.8 237.5 149.8 234.3 150.4M233.5 148.9 228.7 148.5 225.1 147.2 223.3 145.6 223 144.8 223.1 143.2 223.9 142.1 225.5 140.9 229.5 139.7 234.3 139.6 238.2 140.8 239.3 141.6 240.4 143.2 240.2 145.6 239.1 146.9 237.5 147.9 233.5 148.9" fill="none" stroke="#1a1a1a" stroke-width="0.7" stroke-opacity="0.85"/>
</g>
<rect x="202.9" y="127.3" width="2.8" height="12.6" rx="1.3" fill="#466457" stroke="#111" stroke-width="1.5"/>
<rect x="253.1" y="127.3" width="2.8" height="12.6" rx="1.3" fill="#466556" stroke="#111" stroke-width="1.5"/>
<path d="M225.2 110.4 L229.4 105.2 L233.6 110.4" fill="none" stroke="#231f20" stroke-width="1.8" stroke-linejoin="round"/>
<circle cx="229.4" cy="133.5" r="23.7" fill="none" stroke="#111" stroke-width="2.3"/>
<clipPath id="c11"><circle cx="302.2" cy="132.7" r="25.9"/></clipPath>
<circle cx="302.2" cy="132.7" r="29.2" fill="url(#glow)"/>
<g clip-path="url(#c11)">
<rect x="276.3" y="106.8" width="51.8" height="51.8" fill="#3a47aa"/>
<path d="M329.5 160.2 274.1 160 274.3 104.6 329.7 104.8 329.5 160.2ZM309.7 117.6 310.3 116.8 310.2 116 309.5 115.1 307.1 115 305.8 116 305.8 116.8 307.1 117.9 308.7 118 309.7 117.6ZM297.8 116.8 297.9 116 296.7 115.2 295.9 115.3 295 116 295.1 116.8 295.9 117.3 297.8 116.8Z" fill="#3c4db2" fill-rule="evenodd"/>
<path d="M329.5 160.1 274.2 160 274.3 104.7 329.6 104.8 329.5 160.1ZM310.8 120.8 312.2 120 313.5 118.4 313.9 116 312.8 113.6 310.3 111.9 307.1 111.6 302.3 112.3 297.5 111.7 295.1 111.8 292.7 112.8 291 115.2 290.9 116.8 291.5 118.4 292.7 119.7 294.3 120.4 296.7 120.8 302.3 120.2 307.9 121.2 310.8 120.8Z" fill="#3f59bd" fill-rule="evenodd"/>
<path d="M329.5 160.1 274.2 160 274.3 104.7 329.6 104.8 329.5 160.1ZM310.5 122.4 312.7 121.4 314.3 120 315.1 118.4 315.4 116.8 315.1 114.5 314.3 113.1 312.7 111.5 311.1 110.7 307.9 110.1 302.3 110.5 295.1 110.3 291.9 111.5 290.5 112.8 289.6 114.4 289.3 116.8 289.8 118.4 291.1 120.2 293.5 121.6 295.9 122.1 301.5 121.8 307.9 122.6 310.5 122.4Z" fill="#4367c5" fill-rule="evenodd"/>
<path d="M329.5 160.1 274.2 160 274.3 104.7 329.6 104.8 329.5 160.1ZM311.5 123.2 313.5 122.2 315.1 120.8 316 119.2 316.6 116.8 316.3 114.4 315.5 112.8 314.1 111.2 311.9 109.9 307.9 109 295.1 109.2 291.1 110.7 288.7 113.6 288.2 116 288.6 118.4 290.3 120.8 292.7 122.3 295.9 123 302.3 122.9 307.9 123.6 311.5 123.2Z" fill="#4876cc" fill-rule="evenodd"/>
<path d="M329.5 160.1 274.2 160 274.3 104.7 329.6 104.8 329.5 160.1ZM312.2 124 314.3 122.9 315.9 121.4 317.2 119.2 317.7 116.8 317.4 114.4 316.2 112 314.7 110.4 312.7 109.1 310.3 108.3 307.9 107.9 294.3 108.3 290.3 110 288.7 111.6 287.5 113.6 287.1 116.8 287.9 119.2 289.5 121.3 291.9 122.9 295.1 123.8 302.3 123.9 307.9 124.6 312.2 124Z" fill="#4e8cd4" fill-rule="evenodd"/>
<path d="M329.5 160.1 274.2 160 274.3 104.7 329.6 104.8 329.5 160.1ZM310.3 125.6 313.5 124.8 315.9 123.3 317.9 120.8 318.8 118.4 318.9 115.2 318.2 112.8 316.6 110.4 314.3 108.5 311.9 107.4 308.7 106.7 295.9 106.7 292.7 107.4 290.3 108.5 288 110.4 286.8 112 285.9 115.2 286.3 118.4 287.6 120.8 290.3 123.2 292.7 124.2 295.1 124.7 310.3 125.6Z" fill="#60a6db" fill-rule="evenodd"/>
<path d="M329.5 160 274.3 160 274.3 104.8 296.3 104.8 292.7 105.5 289.5 106.9 287.1 108.7 285.7 110.4 284.5 112.8 284.1 115.2 284.3 117.6 285.3 120 288 123.2 291.9 125.2 295.1 125.8 309.5 127 314.3 126.2 317.8 124 319.1 122.4 320.3 120 320.9 116 319.9 112 317.5 108.7 313.5 106.1 308.3 104.8 329.5 104.8 329.5 160Z" fill="#72c1e1" fill-rule="evenodd"/>
<path d="M329.5 160 274.3 160 274.3 104.8 286 104.8 283.9 106.6 282.1 108.8 281 111.2 280.5 114.4 281 117.6 282 120 283.8 122.4 286.3 124.5 289.5 126.1 292.7 126.9 311.1 128.8 315.9 128.3 319.9 126.6 322.6 124 324.1 120.8 324.8 116 324.1 112 322 108 318.5 104.8 329.5 104.8 329.5 160Z" fill="#80cee3" fill-rule="evenodd"/>
<path d="M314.3 160 289.5 160 283.1 156.9 279.9 154.5 277.5 152 275.5 148.8 274.6 146.4 274.3 140.2 275 137.6 276.3 135.2 278.3 132.6 281.2 130.4 283.9 129.3 287.1 129 299.1 129.3 304.7 129.9 319.9 132.4 325.5 134.4 327.9 136.4 329.5 139 329.3 148 326.9 152 323.7 155.2 319.1 158.2 314.3 160Z" fill="#8ed9e1" fill-rule="evenodd"/>
<path d="M306.3 156.1 300.7 156.3 295.1 155.3 290.3 153.3 286.4 150.4 283.6 146.4 282.9 142.4 283.9 138.4 286.3 135.2 288.7 133.4 292.4 132 296.7 131.3 301.5 131.2 307.1 131.8 312.7 133.2 316.7 135 319.2 136.8 321.1 139.2 322 142.4 321.7 145.6 320.1 148.8 317.5 151.5 314.3 153.6 311.1 155 306.3 156.1Z" fill="#9de0c1" fill-rule="evenodd"/>
<path d="M305.5 153.7 300.7 153.7 295.9 152.7 291.9 150.8 288.8 148 287.2 144.8 287 141.6 288.2 138.4 290.3 136 292.7 134.4 295.9 133.2 299.1 132.7 303.1 132.6 307.1 133.1 311.1 134.3 314.3 135.9 316.4 137.6 318 140 318.6 142.4 318.4 144.8 317.4 147.2 315.3 149.6 312.7 151.4 308.7 153.1 305.5 153.7Z" fill="#aee79e" fill-rule="evenodd"/>
<path d="M306.3 152 302.3 152.3 298.3 151.7 294.9 150.4 291.9 148.3 290 145.6 289.3 143.2 289.9 140 291.5 137.6 293.4 136 295.9 134.8 299.1 133.9 302.3 133.7 308.7 134.7 311.8 136 314.1 137.6 315.4 139.2 316.4 141.6 316.5 144 315.6 146.4 314.3 148 311.9 150 309.5 151.1 306.3 152Z" fill="#c6e972" fill-rule="evenodd"/>
<path d="M307.9 150.4 304.7 151.1 300.7 151 297.5 150.2 294.3 148.4 292.3 146.4 291.2 144 291.2 141.6 292.2 139.2 293.6 137.6 295.9 136.1 300.7 134.7 306.3 135 309.5 136 311.9 137.4 313.8 139.2 314.6 140.8 315 142.4 314.7 144.8 313.8 146.4 312.4 148 310.3 149.4 307.9 150.4Z" fill="#d9e953" fill-rule="evenodd"/>
<path d="M307.1 149.6 303.9 150.2 300.7 150 297.5 149.1 295.1 147.6 293.3 145.6 292.5 143.2 292.8 140.8 293.7 139.2 296.8 136.8 301.5 135.5 304.7 135.6 307.1 136.1 311.1 138 313.3 140.8 313.7 142.4 313.3 144.8 311.1 147.6 307.1 149.6Z" fill="#e7e744" fill-rule="evenodd"/>
<path d="M306.3 149 303.9 149.3 300.7 149.1 298.3 148.4 295.9 146.9 294.3 145 293.7 143.2 294.1 140.8 295.1 139.2 298.3 137.1 302.3 136.2 306.3 136.6 310.3 138.5 311.7 140 312.4 141.6 312.5 143.2 312.1 144.8 310.1 147.2 306.3 149Z" fill="#eed03a" fill-rule="evenodd"/>
<path d="M306.3 148.2 303.9 148.6 300.7 148.3 298.3 147.5 296.7 146.4 295.4 144.8 294.9 143.2 295 141.6 295.8 140 298.3 138 302.3 136.9 306.3 137.4 309.5 139 311.3 141.6 311.3 144 309.7 146.4 306.3 148.2Z" fill="#f1ae35" fill-rule="evenodd"/>
<path d="M306.3 147.4 302.3 147.8 299.9 147.3 298.1 146.4 296.5 144.8 295.9 143.2 296 141.6 297 140 299.2 138.4 302.3 137.6 305.5 137.9 308.7 139.4 310.3 141.6 310.3 144 308.7 146.1 306.3 147.4Z" fill="#ef8e31" fill-rule="evenodd"/>
<path d="M306.3 146.6 302.3 147.1 299.1 146.1 297.2 144 296.9 142.4 297.5 140.8 299.1 139.4 301.5 138.5 304.7 138.4 307.1 139.3 308.9 140.8 309.5 143.2 308.7 144.9 306.3 146.6Z" fill="#eb6e2d" fill-rule="evenodd"/>
<path d="M303.1 146.4 300.7 145.9 299.1 145 298.3 144 298 142.4 298.7 140.8 299.9 139.8 302.3 139.1 304.7 139.2 306.3 139.7 307.7 140.8 308.2 141.6 308.4 143.2 307.6 144.8 306.5 145.6 303.1 146.4Z" fill="#e7522a" fill-rule="evenodd"/>
<path d="M305.5 145.1 303.1 145.6 300.7 145 299.2 143.2 299.5 141.6 300.7 140.5 302.3 139.9 305.5 140.3 307 141.6 307.3 142.4 306.9 144 305.5 145.1Z" fill="#e04629" fill-rule="evenodd"/>
<path d="M304.7 144.2 303.1 144.5 301.5 144.1 300.7 143.2 300.7 142.3 302.3 141 304.7 141.2 305.8 142.4 305.8 143.2 304.7 144.2Z" fill="#da3928" fill-rule="evenodd"/>
<path d="M311 123.2 312.9 122.4 314.9 120.8 315.9 119.1 316.4 116.8 316.1 114.4 315.3 112.8 313.8 111.2 311.9 110 307.9 109.2 295.1 109.3 292.7 110 291.1 110.9 288.9 113.6 288.3 116 288.8 118.4 290.3 120.6 292.7 122.2 295.9 122.9 302.3 122.7 307.9 123.5 311 123.2M312.4 126.4 315.1 125.4 317.9 123.2 319.5 120.8 320.4 117.6 320.2 114.4 319.4 112 317.8 109.6 315.1 107.4 311.9 106 307.9 105.2 295.9 105.3 292.7 105.9 289.5 107.4 287.1 109.3 285.7 111.2 284.6 114.4 284.9 118.4 286.8 121.6 289.5 123.8 291.9 124.9 295.1 125.6 308.7 126.7 312.4 126.4M307.1 156.9 300.7 157.2 295.1 156.3 289.5 154.1 285.4 151.2 282.5 147.2 281.4 143.2 282 139.2 284.6 135.2 287.1 133.2 290.3 131.8 295.1 130.9 300.7 130.8 307.1 131.5 313.5 133 317.5 134.6 320.6 136.8 322.4 139.2 323.3 142.4 323 145.6 321.5 148.8 319.1 151.5 315.9 153.9 311.9 155.7 307.1 156.9M305.5 151.3 302.3 151.5 298.3 150.8 295.1 149.4 292.4 147.2 291 144.8 290.6 142.4 291.2 140 293 137.6 295.1 136.1 297.5 135.1 303.1 134.4 306.3 134.7 309.5 135.7 311.6 136.8 313.6 138.4 314.7 140 315.4 142.4 315.3 144 314.3 146.4 312.9 148 310.7 149.6 307.9 150.8 305.5 151.3M303.9 148.8 300.7 148.6 298.3 147.8 296.2 146.4 295 144.8 294.5 143.2 294.9 140.8 296 139.2 297.5 138.1 301.5 136.8 305.5 136.9 309.2 138.4 311.4 140.8 311.9 142.4 311.7 144 310.3 146.2 307.6 148 303.9 148.8M304.7 146.6 301.1 146.4 298.4 144.8 297.6 142.4 298.2 140.8 299 140 301.5 138.9 303.9 138.8 306.3 139.4 308.2 140.8 308.9 142.4 308.6 144 307.1 145.6 304.7 146.6" fill="none" stroke="#1a1a1a" stroke-width="0.7" stroke-opacity="0.85"/>
</g>
<rect x="275.8" y="126.5" width="2.8" height="12.6" rx="1.3" fill="#3c5e66" stroke="#111" stroke-width="1.5"/>
<rect x="325.9" y="126.5" width="2.8" height="12.6" rx="1.3" fill="#3b5e66" stroke="#111" stroke-width="1.5"/>
<path d="M298 109.6 L302.2 104.4 L306.4 109.6" fill="none" stroke="#231f20" stroke-width="1.8" stroke-linejoin="round"/>
<circle cx="302.2" cy="132.7" r="23.7" fill="none" stroke="#111" stroke-width="2.3"/>
<clipPath id="c12"><circle cx="376.1" cy="134.7" r="25.9"/></clipPath>
<circle cx="376.1" cy="134.7" r="29.2" fill="url(#glow)"/>
<g clip-path="url(#c12)">
<rect x="350.2" y="108.8" width="51.8" height="51.8" fill="#3b4aad"/>
<path d="M403.4 162.1 348.1 162 348.2 106.7 403.5 106.8 403.4 162.1ZM380.9 122.8 384.2 121.9 385.8 120.5 386.6 118.9 386.7 117.2 386.3 115.6 384.2 113.5 381 113.1 376.2 114 369.8 113 367.4 113.9 365.9 115.6 365.5 117.2 365.8 119.5 366.6 120.8 368.2 122 371.4 122.8 380.9 122.8Z" fill="#3f59bd" fill-rule="evenodd"/>
<path d="M403.4 162.1 348.1 162 348.2 106.7 403.5 106.8 403.4 162.1ZM379.4 125.2 385 123.5 386.9 122 387.9 120.4 388.5 118 388.3 115.6 387.4 113.9 386 112.4 382.6 111.1 376.2 111.7 369.8 111.1 367.4 111.7 365 113.6 363.7 116.4 363.8 118.8 364.7 121.2 366.2 122.8 369 124.2 373.8 125.4 376.2 125.7 379.4 125.2Z" fill="#4367c5" fill-rule="evenodd"/>
<path d="M403.4 162.1 348.1 162 348.2 106.7 403.5 106.8 403.4 162.1ZM379.4 126.8 385.8 124.4 387.8 122.8 388.9 121.2 389.7 118.8 389.8 116.4 389 114 387.4 111.9 385 110.4 382.6 109.8 376.2 110.1 370.6 109.7 367.4 110.3 364.3 112.4 362.9 114.8 362.4 118 363.3 121.2 365 123.4 368.2 125.3 374.6 127.3 377 127.4 379.4 126.8Z" fill="#4876cc" fill-rule="evenodd"/>
<path d="M403.4 162.1 348.1 162 348.2 106.7 403.5 106.8 403.4 162.1ZM378.6 128.4 386.5 125.2 388.2 123.9 389.7 122 390.7 119.6 390.9 116.4 390.3 114 389 111.8 385.8 109.4 381.8 108.5 369 108.6 366.6 109.3 364.2 110.8 362.2 113.2 361.3 116.4 361.7 120.4 363.4 123.3 366.6 125.7 373.8 128.5 376.2 128.9 378.6 128.4Z" fill="#4e8cd4" fill-rule="evenodd"/>
<path d="M403.4 162.1 348.1 162 348.2 106.7 403.5 106.8 403.4 162.1ZM377.6 130 386.6 126.5 388.6 125.2 390.2 123.6 391.9 120.4 392.4 117.2 391.9 114 390.7 111.6 389.3 110 387.4 108.5 385 107.5 382.6 107 369.8 107 366.6 107.7 364.2 108.9 361.5 111.6 359.9 115.6 360.1 119.6 361.4 122.8 363.5 125.2 366.6 127.1 373.8 129.8 377.6 130Z" fill="#60a6db" fill-rule="evenodd"/>
<path d="M403.4 162 348.2 162 348.2 106.8 363.7 106.8 360.7 109.2 358.3 113.2 357.8 115.6 357.9 118 359 122 361.1 125.2 364.2 127.6 373 130.9 376.2 131.4 379.4 130.8 388.2 127.4 391.1 125.2 393.2 122 394.4 117.2 393.8 113.2 391.5 109.2 388.5 106.8 403.4 106.8 403.4 162Z" fill="#72c1e1" fill-rule="evenodd"/>
<path d="M403.4 162 348.2 162 348.2 106.8 356.2 106.8 354.2 109.2 353.1 111.6 352.5 114 352.5 116.4 353.3 119.6 354.4 122 355.9 124.4 358 126.8 360.2 128.4 363.4 129.8 373 132.3 376.2 132.6 379.4 132.1 389 129.5 392.2 128 394.8 126 398.2 121.2 399.1 118.8 399.7 115.6 399.5 113.2 398.8 110.8 396.1 106.8 403.4 106.8 403.4 162Z" fill="#80cee3" fill-rule="evenodd"/>
<path d="M381 159.6 374.6 159.7 368.2 158.6 362.6 156.3 358.5 153.2 355.6 149.2 354.7 146.8 354.5 144.4 355.4 140.4 358.3 136.4 361 134.5 365 133.2 368.2 133 376.2 133.8 385.8 132.5 391.4 133.3 393.8 134.4 396.3 136.4 398.8 139.6 400 143.6 399.6 147.6 398.1 150.8 395.2 154 391.4 156.6 386.6 158.5 381 159.6Z" fill="#8ed9e1" fill-rule="evenodd"/>
<path d="M382.6 155.8 377.8 156.3 373 156 368.2 154.6 364.2 152.4 361.2 149.2 359.9 146 360 142.8 361.5 139.6 362.9 138 365.2 136.4 367.4 135.5 369.8 135 384.2 134.6 387.4 135.3 390.8 137.2 393.2 139.6 394.5 142 395 144.4 394.4 147.6 392.3 150.8 389.8 152.9 386.6 154.6 382.6 155.8Z" fill="#9de0c1" fill-rule="evenodd"/>
<path d="M379.4 154.1 375.4 154.1 371.4 153.3 368.2 152 365.4 150 363.6 147.6 362.9 145.2 363.4 142 365 139.6 367.4 137.7 370.6 136.5 380.2 135.9 383.4 136.2 385.8 136.9 388.2 138.1 390 139.6 391.2 141.2 392.1 143.6 392.1 146 391 148.4 389 150.6 386.6 152.1 383.4 153.4 379.4 154.1Z" fill="#aee79e" fill-rule="evenodd"/>
<path d="M380.2 152.5 377 152.6 373 152.1 369.8 150.9 367.3 149.2 365.9 147.6 365 145.2 365.3 142.8 366.7 140.4 368.7 138.8 371.4 137.7 377.8 137 383.4 137.5 385.8 138.5 388.2 140.1 389.7 142 390.3 143.6 390.2 146 389.5 147.6 388.1 149.2 385.8 150.8 383.4 151.8 380.2 152.5Z" fill="#c6e972" fill-rule="evenodd"/>
<path d="M382.6 150.8 379.4 151.4 376.2 151.4 373 150.8 370.6 149.8 368.2 148.1 366.9 146 366.7 143.6 367.3 142 369.8 139.6 372.2 138.5 374.6 138 381 138.1 385.5 139.6 387.5 141.2 388.5 142.8 388.9 144.4 388.7 146 387.9 147.6 386.6 148.9 382.6 150.8Z" fill="#d9e953" fill-rule="evenodd"/>
<path d="M381.8 150.1 378.6 150.6 375.4 150.4 373 149.8 370.6 148.6 368.7 146.8 368 145.2 368 143.6 368.7 142 371.4 139.8 375.4 138.7 381 138.9 384.9 140.4 387.3 142.8 387.7 144.4 387.5 146 385.6 148.4 381.8 150.1Z" fill="#e7e744" fill-rule="evenodd"/>
<path d="M381.8 149.3 377 149.7 372.2 148.5 370.6 147.4 369.5 146 369.1 144.4 369.5 142.8 371.4 140.8 375.4 139.4 379.4 139.4 383.4 140.5 385 141.5 386.2 142.8 386.6 145.2 385.2 147.6 381.8 149.3Z" fill="#eed03a" fill-rule="evenodd"/>
<path d="M381.8 148.6 377 149 373 148 370.6 145.9 370.2 144.4 370.6 142.8 373 140.8 376.2 140 380.2 140.2 383.2 141.2 385.1 142.8 385.6 145.2 384.2 147.3 381.8 148.6Z" fill="#f1ae35" fill-rule="evenodd"/>
<path d="M378.6 148.4 375.4 148.1 372.6 146.8 371.3 145.2 371.3 143.6 371.7 142.8 373.8 141.3 377 140.6 381 141 383.4 142.2 384.7 144.4 384.3 146 381.8 147.8 378.6 148.4Z" fill="#ef8e31" fill-rule="evenodd"/>
<path d="M379.4 147.7 376.2 147.6 373.8 146.7 372.4 145.2 372.4 143.6 372.9 142.8 374.6 141.7 377.8 141.2 380.2 141.5 382.6 142.6 383.7 144.4 383.2 146 381.8 147 379.4 147.7Z" fill="#eb6e2d" fill-rule="evenodd"/>
<path d="M380.2 146.9 377.8 147.1 375.4 146.6 373.5 145.2 373.5 143.6 374.6 142.5 376.2 141.9 378.6 141.8 381 142.5 382.4 143.6 382.6 145.2 381.8 146.1 380.2 146.9Z" fill="#e7522a" fill-rule="evenodd"/>
<path d="M380.2 146 378.6 146.4 376.2 146.1 374.9 145.2 374.5 144.4 374.8 143.6 376.1 142.8 379.4 142.7 381 143.6 381.4 144.4 381.2 145.2 380.2 146Z" fill="#e04629" fill-rule="evenodd"/>
<path d="M378.6 145.3 377.3 145.2 376.5 144.4 377.7 143.6 378.6 143.7 379.5 144.4 378.6 145.3Z" fill="#da3928" fill-rule="evenodd"/>
<path d="M379.5 126.8 385.8 124.4 387.8 122.8 388.9 121.2 389.8 118.8 389.8 116.4 389.1 114 387.4 111.8 385 110.3 382.6 109.7 376.2 110.1 370.6 109.7 366.6 110.6 364.2 112.4 362.8 114.8 362.3 118 363.3 121.2 365 123.4 368.2 125.3 374.6 127.4 377 127.5 379.5 126.8M364.2 106.8 361 109.3 358.6 113.2 358 117.2 359.2 122 361.4 125.2 364.2 127.4 373 130.8 376.2 131.3 379.4 130.6 388.2 127.2 390.8 125.2 393 122 394.2 117.2 393.6 113.2 391.4 109.5 388 106.8M382.6 156.4 377.8 156.9 372.2 156.5 367.4 155 363 152.4 360.1 149.2 358.9 146 359.3 142 361.1 138.8 362.7 137.2 365 135.7 367.4 134.9 369.8 134.6 385 134.2 389 135.3 392 137.2 394.2 139.6 395.7 142.8 395.8 146 395 148.4 393 151.2 389.8 153.7 386.6 155.3 382.6 156.4M380.2 151.7 377 151.9 373.8 151.4 370.6 150.3 368.7 149.2 367.2 147.6 366.1 145.2 366.3 142.8 367.2 141.2 369 139.6 371.4 138.4 377 137.5 380.2 137.6 383.4 138.3 387.3 140.4 388.7 142 389.3 143.6 389.2 146 388.4 147.6 386.9 149.2 385 150.4 380.2 151.7M380.2 149.3 376.2 149.3 372.2 148 370.1 146 369.6 144.4 370.1 142.8 372.2 140.8 376.2 139.7 380.2 139.8 383.9 141.2 385 142.1 386 143.6 385.9 146 385 147.2 383.4 148.3 380.2 149.3M381 147.1 377.8 147.6 374.6 146.8 372.8 145.2 372.8 143.6 373.8 142.4 376.2 141.5 378.6 141.4 381.1 142 382.6 143 383.4 144.4 382.8 146 381 147.1" fill="none" stroke="#1a1a1a" stroke-width="0.7" stroke-opacity="0.85"/>
</g>
<rect x="349.7" y="128.5" width="2.8" height="12.6" rx="1.3" fill="#395c66" stroke="#111" stroke-width="1.5"/>
<rect x="399.8" y="128.5" width="2.8" height="12.6" rx="1.3" fill="#395c66" stroke="#111" stroke-width="1.5"/>
<path d="M371.9 111.6 L376.1 106.4 L380.3 111.6" fill="none" stroke="#231f20" stroke-width="1.8" stroke-linejoin="round"/>
<circle cx="376.1" cy="134.7" r="23.7" fill="none" stroke="#111" stroke-width="2.3"/>
<clipPath id="c13"><circle cx="453.3" cy="134.7" r="25.9"/></clipPath>
<circle cx="453.3" cy="134.7" r="29.2" fill="url(#glow)"/>
<g clip-path="url(#c13)">
<rect x="427.4" y="108.8" width="51.8" height="51.8" fill="#3b49ac"/>
<path d="M480.6 162.2 425.2 162 425.4 106.6 480.8 106.8 480.6 162.2ZM461.2 121.2 463.2 119.6 463.8 117.2 462.5 114.8 460.6 113.8 457.5 114 453.4 115.7 448.6 113.9 446.2 113.8 444.1 114.8 443 116.4 443 118.9 444.1 120.4 445.4 121.2 448.6 121.3 453.4 119.8 458.2 121.3 461.2 121.2Z" fill="#3f59bd" fill-rule="evenodd"/>
<path d="M480.6 162.1 425.3 162 425.4 106.7 480.7 106.8 480.6 162.1ZM462.5 122 463.8 121 464.8 119.6 465.2 118 465.1 116.4 463.8 114 460.9 112.4 458.2 112.3 453.4 113.3 448.6 112.3 445.7 112.4 443 113.8 441.5 116.4 441.4 118 442.2 120.3 443.8 121.8 445.4 122.5 447.8 122.7 453.4 122.1 459.8 122.7 462.5 122Z" fill="#4367c5" fill-rule="evenodd"/>
<path d="M480.6 162.1 425.3 162 425.4 106.7 480.7 106.8 480.6 162.1ZM462.7 122.8 464 122 465.4 120.4 466.2 117.2 465.5 114.8 464.6 113.4 463 112.2 461.4 111.5 458.2 111.2 453.4 112 447.8 111.2 445.4 111.4 442.2 113.2 440.7 115.6 440.4 118 441.2 120.4 442.6 122 444.6 123.1 447 123.5 459 123.5 462.7 122.8Z" fill="#4876cc" fill-rule="evenodd"/>
<path d="M480.6 162.1 425.3 162 425.4 106.7 480.7 106.8 480.6 162.1ZM455.7 124.4 462.2 123.8 464.2 122.8 465.8 121.2 466.9 118.8 467 116.4 466.1 114 464.6 112.2 462.2 110.8 459.8 110.3 453.4 110.8 447 110.2 443.8 111 441 113.2 439.8 115.6 439.6 118 440.3 120.4 442.2 122.6 443.8 123.5 446.2 124.1 453.4 124.7 455.7 124.4Z" fill="#4e8cd4" fill-rule="evenodd"/>
<path d="M480.6 162.1 425.3 162 425.4 106.7 480.7 106.8 480.6 162.1ZM456.7 125.2 461.4 124.7 463.8 123.9 465.5 122.8 467.3 120.4 468 118 467.6 114.8 466.3 112.4 464.6 110.9 462.2 109.7 459.8 109.2 453.4 109.5 447 109.2 443 110.2 440.3 112.4 439 114.8 438.6 118 439.3 120.4 441.4 123 444.6 124.6 452.6 125.9 456.7 125.2Z" fill="#60a6db" fill-rule="evenodd"/>
<path d="M480.6 162.1 425.3 162 425.4 106.7 480.7 106.8 480.6 162.1ZM455.3 126.8 457.4 126 463.8 124.8 465.9 123.6 467.5 122 468.8 119.6 469.3 116.4 468.7 114 467 111.2 465.4 109.8 463 108.5 458.2 107.7 446.2 107.8 443 108.8 440 110.8 438.2 113.2 437.4 116.4 437.8 119.6 439.8 122.8 442.2 124.6 444.6 125.4 449.4 126.1 452.6 127.4 454.2 127.3 455.3 126.8Z" fill="#72c1e1" fill-rule="evenodd"/>
<path d="M480.6 162 425.4 162 425.4 106.8 442.5 106.8 438.7 109.2 436.3 112.4 435.5 116.4 436.4 120.4 438.2 123 441.2 125.2 443.8 126.1 448.6 126.9 453.4 129.3 457.4 127.1 463 126.1 465.4 125.2 468.6 122.8 470.2 120.4 471.1 116.4 470.3 112.4 467.8 109.1 464.1 106.8 480.6 106.8 480.6 162Z" fill="#80cee3" fill-rule="evenodd"/>
<path d="M480.6 162 425.4 162 425.4 106.8 433.6 106.8 431.1 110 430.1 113.2 430.4 116.4 432.7 120.4 434.9 122.8 438.1 125.2 442.2 126.9 448.6 128.1 450.4 129.2 453.4 132.4 454.2 132.1 455.6 130 457.4 128.4 466.2 126.4 469.4 124.6 471.7 122.8 475 118.8 476.5 114.8 476.4 112.4 475.8 110.8 473 106.8 480.6 106.8 480.6 162Z" fill="#8ed9e1" fill-rule="evenodd"/>
<path d="M469.4 162 436.6 162 433.9 160.4 429.1 156.4 427.1 154 425.4 151 425.4 136.4 426.8 134 428.8 131.6 431 129.8 433.4 128.6 435.8 128.1 447.8 129.2 449.4 130.1 453.4 134.3 454.2 134.3 455 133.7 457.4 130.1 459.8 129 471 128.1 473.4 128.7 475.8 129.9 478.6 132.4 480.6 135.3 480.6 152.2 478.2 155.6 475.8 158.1 471.8 161 469.4 162Z" fill="#9de0c1" fill-rule="evenodd"/>
<path d="M458.2 159.7 451.8 160 445.4 159 439.5 156.4 435 152.6 433.1 150 432.1 147.6 431.5 142.8 432.8 138 435.9 134 439.8 131.6 443 130.8 446.2 130.6 448.6 131.2 452.6 134.8 454.2 135.2 455 134.8 458.2 131.3 459.8 130.7 461.4 130.6 467 131.7 469.7 133.2 471.8 135.1 473.8 138 475 142 474.9 146 473.5 150 471 153.3 467.1 156.4 463 158.4 458.2 159.7Z" fill="#aee79e" fill-rule="evenodd"/>
<path d="M458.2 155.7 452.6 156.3 447 155.3 442.2 153.1 438.8 150 436.8 146 436.6 142 437.8 138 440.6 134.4 443.8 132.5 447 132 449.4 132.7 452.6 135.4 454.2 135.8 458.2 132.6 460.6 132 464.6 133 467.8 135.6 469 137.2 470.1 140.4 470.2 144.4 469.4 147.6 467.2 150.8 464.6 153 461.4 154.7 458.2 155.7Z" fill="#c6e972" fill-rule="evenodd"/>
<path d="M455.8 153.2 450.2 153.1 446.2 152.1 443 150.4 440.3 147.6 438.8 143.6 438.7 140.4 439.8 137.2 442.2 134.5 445.4 133.1 447.8 133 449.4 133.5 452.6 136 454.2 136.4 458.2 133.4 460.6 132.9 463.8 133.7 465.5 134.8 467.1 136.4 468.3 138.8 468.7 141.2 468.3 144.4 466.9 147.6 465.4 149.4 462.2 151.5 459 152.6 455.8 153.2Z" fill="#d9e953" fill-rule="evenodd"/>
<path d="M458.2 151.7 454.2 152.2 449.4 151.8 445.4 150.5 442.4 148.4 440.2 145.2 439.6 142 439.9 138.8 441.4 136.3 443.8 134.4 447 133.5 449.4 134.1 453.4 136.8 455 136.6 458.2 134.1 459.8 133.6 463 134.1 465.4 135.6 467.2 138 467.8 140.4 467.6 143.6 466.8 146 465.8 147.6 463.8 149.4 461.4 150.7 458.2 151.7Z" fill="#e7e744" fill-rule="evenodd"/>
<path d="M459 150.8 455 151.5 450.2 151.3 446.2 150.1 443 148.1 440.9 145.2 440.2 142 440.6 138.8 442.1 136.4 444.6 134.7 447 134.1 449.4 134.7 451.8 136.5 453.4 137.3 455 137.1 458.2 134.7 459.8 134.2 462.2 134.5 464.6 135.7 466 137.2 467 139.6 467.2 142 466.5 145.2 465.4 147 463.8 148.5 459 150.8Z" fill="#eed03a" fill-rule="evenodd"/>
<path d="M455.8 150.9 452.6 151 448.6 150.3 445.4 149.1 442.5 146.8 441.2 144.4 440.8 141.2 441.3 138.8 443 136.4 445.4 135 447.8 134.7 449.4 135.3 452.6 137.5 454.2 137.7 455.8 137.1 458.2 135.3 460.6 134.7 463 135.4 465.2 137.2 466.1 138.8 466.6 141.2 466.4 143.6 465.5 146 464.1 147.6 462.2 149 459 150.3 455.8 150.9Z" fill="#f1ae35" fill-rule="evenodd"/>
<path d="M457.4 150.1 454.2 150.5 450.2 150.2 446.2 148.9 443.8 147.4 442.1 145.2 441.4 142.8 441.7 139.6 443 137.2 444.6 136 447 135.3 448.8 135.6 451.8 137.6 453.4 138.1 455.8 137.6 458.2 135.9 459.8 135.4 461.9 135.6 463.8 136.7 465.4 138.7 465.9 140.4 466 142.8 465.4 145.2 464.3 146.8 462.2 148.4 457.4 150.1Z" fill="#ef8e31" fill-rule="evenodd"/>
<path d="M459 149.2 455 149.9 451.8 149.9 447.8 149.1 444.7 147.6 443.1 146 442 143.6 442.2 140.4 443 138.4 444.6 136.8 447 136 448.6 136.2 451.6 138 453.4 138.4 455.8 138.1 459.8 136.1 461.4 136.2 463 137 464.6 138.7 465.2 140.4 465.5 142.8 465.2 144.4 464.4 146 463 147.4 459 149.2Z" fill="#eb6e2d" fill-rule="evenodd"/>
<path d="M455.8 149.3 451.8 149.3 448.6 148.8 446.2 148 443.8 146.2 442.7 144.4 442.5 142 443 140.2 444.5 138 446.2 137.1 447.8 136.9 451.8 138.5 454.2 138.8 455.8 138.6 459.8 137 461.4 137.2 463 138.2 464.4 140.4 464.9 142 464.9 143.6 464.4 145.2 463.1 146.8 461.4 147.9 459 148.7 455.8 149.3Z" fill="#e7522a" fill-rule="evenodd"/>
<path d="M457.4 148.5 449.4 148.5 445.4 147.1 444.2 146 443.2 144.4 443 142.8 443.8 140.5 445.4 139 447.8 138.1 454.2 139.1 459.8 138.3 462.2 139.2 463.8 140.9 464.3 142 464.4 143.6 463.9 145.2 461.4 147.4 457.4 148.5Z" fill="#e04629" fill-rule="evenodd"/>
<path d="M459 147.7 453.4 147.5 450.2 147.9 447.6 147.6 445.8 146.8 444.2 145.2 443.6 143.6 443.8 142.2 445.4 140.3 447.8 139.3 458.2 139.2 460.4 139.6 463 141.2 463.9 143.6 462.6 146 461.4 146.9 459 147.7Z" fill="#da3928" fill-rule="evenodd"/>
<path d="M458.2 146.8 454.2 145.6 450.2 146.8 448.3 146.8 446.2 146 445.3 145.2 444.8 143.6 445.6 142 448.8 140.4 458.5 140.4 461.8 142 462.6 143.6 462.2 145.1 461.2 146 458.2 146.8Z" fill="#d03027" fill-rule="evenodd"/>
<path d="M459.6 123.6 462.2 123.1 463.8 122.3 465.4 120.6 466.1 118.8 466.2 116.4 465.7 114.8 464.5 113.2 462.2 111.6 459.8 111.1 453.4 111.8 446.2 111.2 443 112.4 440.9 114.8 440.3 117.2 440.7 119.6 441.7 121.2 443.8 122.9 447 123.6 459.6 123.6M454 127.6 457.4 126.2 463.8 125 467.1 122.8 468.7 120.4 469.5 117.2 469 114 467.7 111.6 466.1 110 463.8 108.6 459 107.4 447 107.5 443.8 108.1 440.6 109.9 438.3 112.4 437.2 115.6 437.3 118.8 438.8 122 440.6 123.8 443 125.1 449.4 126.2 452.6 127.6 454 127.6M440.7 162 435 159.1 430.9 155.6 427.9 151.6 426.1 146.8 425.9 142 427.2 137.2 429.8 133.2 433.7 130 435.8 129.2 438.2 128.9 447 129.3 449.4 130.4 452.6 134 454.2 134.6 455 134 457.4 130.5 459 129.5 467 128.9 470.8 129.2 474.2 130.8 477.4 134 479.4 137.2 480.6 141.5M480.6 146 479.1 150.8 475.8 155.5 471 159.5 465.9 162M458.2 152.5 454.2 153 449.4 152.6 445.4 151.3 441.4 148.5 439.5 145.2 438.9 141.2 439.6 138 441.2 135.6 443.8 133.8 447 133.1 449.4 133.6 453.4 136.5 455 136.2 458.2 133.6 459.8 133.1 463 133.6 466.1 135.6 467.8 138 468.4 140.4 468.3 143.6 467.5 146 466 148.4 463.8 150.2 461.4 151.5 458.2 152.5M455 150.8 451 150.7 447.8 149.9 444.6 148.4 442.7 146.8 441.4 144.4 441 141.2 441.5 138.8 443.2 136.4 445.4 135.2 447.8 134.9 449.4 135.4 452.6 137.6 454.2 137.8 455.8 137.3 458.2 135.4 460.6 134.9 463 135.6 465 137.2 465.9 138.8 466.4 141.2 466.3 143.6 465.3 146 463.8 147.7 461.4 149.2 458.2 150.3 455 150.8M459 148.6 455 149.1 451.8 149.1 447.8 148.4 445.4 147.4 443.8 146 442.7 143.6 442.9 141.2 443.8 139.4 445.4 137.8 447 137.3 453.4 138.9 455.8 138.7 459.8 137.4 462.2 138.1 463.8 139.8 464.5 141.2 464.8 142.8 464.6 144.4 462.9 146.8 459 148.6" fill="none" stroke="#1a1a1a" stroke-width="0.7" stroke-opacity="0.85"/>
</g>
<rect x="426.9" y="128.5" width="2.8" height="12.6" rx="1.3" fill="#44635a" stroke="#111" stroke-width="1.5"/>
<rect x="477" y="128.5" width="2.8" height="12.6" rx="1.3" fill="#44635b" stroke="#111" stroke-width="1.5"/>
<path d="M449.1 111.6 L453.3 106.4 L457.5 111.6" fill="none" stroke="#231f20" stroke-width="1.8" stroke-linejoin="round"/>
<circle cx="453.3" cy="134.7" r="23.7" fill="none" stroke="#111" stroke-width="2.3"/>
<clipPath id="c14"><circle cx="531" cy="133.3" r="25.9"/></clipPath>
<circle cx="531" cy="133.3" r="29.2" fill="url(#glow)"/>
<g clip-path="url(#c14)">
<rect x="505.1" y="107.4" width="51.8" height="51.8" fill="#3a48ab"/>
<path d="M558.3 160.8 502.9 160.6 503.1 105.2 558.5 105.4 558.3 160.8ZM525.5 115.8 524.7 115.2 523.9 115.8 524.7 116.5 525.5 115.8ZM538 115.8 537.5 115.3 536.6 115.8 537.5 116.4 538 115.8Z" fill="#3c4db2" fill-rule="evenodd"/>
<path d="M558.3 160.8 502.9 160.6 503.1 105.2 558.5 105.4 558.3 160.8ZM537.6 119.8 540 119 540.8 118.2 541.6 116.6 541.6 115 540.9 113.4 538.4 111.8 535.8 111.8 531.1 113.5 526.3 111.8 523.9 111.7 521.9 112.6 520.6 114.2 520.3 115.8 520.7 117.4 521.5 118.5 523.1 119.5 525.5 119.8 531.1 118.2 535.9 119.7 537.6 119.8Z" fill="#3f59bd" fill-rule="evenodd"/>
<path d="M558.3 160.8 502.9 160.6 503.1 105.2 558.5 105.4 558.3 160.8ZM539.2 120.6 541.7 119 542.6 117.4 542.9 115.8 542.7 114.2 541.8 112.6 540.7 111.5 539.1 110.7 535.9 110.5 531.1 111.5 526.3 110.5 523.9 110.5 520.9 111.8 519.3 114.2 519.1 116.2 519.7 118.2 521.2 119.8 522.8 120.6 525.5 120.9 531.1 120.2 536.7 120.9 539.2 120.6Z" fill="#4367c5" fill-rule="evenodd"/>
<path d="M558.3 160.7 503 160.6 503.1 105.3 558.4 105.4 558.3 160.7ZM539.2 121.4 541 120.6 542.3 119.5 543.2 118.2 543.8 115.8 542.9 112.6 541.5 111 539.9 110 536.7 109.4 531.1 110.3 526.3 109.5 523.9 109.5 520.7 110.8 518.7 113.4 518.2 115.8 518.8 118.2 520 119.8 522.3 121.2 524.7 121.7 539.2 121.4Z" fill="#4876cc" fill-rule="evenodd"/>
<path d="M558.3 160.7 503 160.6 503.1 105.3 558.4 105.4 558.3 160.7ZM538.4 122.2 540.7 121.5 542.3 120.5 543.6 119 544.5 116.6 544.4 114.2 543.8 112.6 542.7 111 540.7 109.5 537.5 108.6 531.1 109.2 523.9 108.7 520.7 109.8 519.3 111 518.2 112.6 517.5 115 518 118.2 519.1 119.9 521.5 121.6 524.7 122.3 538.4 122.2Z" fill="#4e8cd4" fill-rule="evenodd"/>
<path d="M558.3 160.7 503 160.6 503.1 105.3 558.4 105.4 558.3 160.7ZM536.5 123 539.9 122.5 542.3 121.4 543.9 119.8 545.1 117.4 545.4 115 544.8 112.6 543.2 110.2 541.5 108.9 537.5 107.7 531.1 108.1 523.9 107.8 521.5 108.4 519.9 109.3 517.6 111.8 516.7 114.2 516.9 117.4 518.1 119.8 519.9 121.5 523.1 122.8 530.3 123.6 536.5 123Z" fill="#60a6db" fill-rule="evenodd"/>
<path d="M558.3 160.7 503 160.6 503.1 105.3 558.4 105.4 558.3 160.7ZM532.6 124.6 540.7 123 543.1 121.8 545 119.8 546.1 117.4 546.3 114.2 545.6 111.8 543.9 109.4 540.7 107.3 535.9 106.5 523.9 106.6 520.7 107.6 518.3 109.2 516.4 111.8 515.6 115 516.2 118.2 517.6 120.6 519.9 122.4 522.3 123.3 527.1 123.9 530.3 124.9 532.6 124.6Z" fill="#72c1e1" fill-rule="evenodd"/>
<path d="M558.3 160.7 503 160.6 503.1 105.4 522.8 105.4 518.3 107.4 515.6 110.2 514.8 111.8 514.3 114.2 514.9 118.2 516.3 120.6 519.1 123 522.3 124.2 527.1 124.9 531.1 126.7 535.1 124.9 539.9 124.1 542.3 123.3 545 121.4 547.1 118.2 547.7 114.2 546.3 110.2 545.1 108.6 543.1 107 539.2 105.4 558.3 105.4 558.3 160.7Z" fill="#80cee3" fill-rule="evenodd"/>
<path d="M558.3 160.6 503.1 160.6 503.1 105.4 517.1 105.4 513.8 108.6 512.4 111.8 512.3 115.8 513.9 119.8 516 122.2 518.3 123.8 520.7 124.8 527.1 126.1 531.1 129 535.1 126 540.7 124.9 543.9 123.7 546 122.2 548.1 119.8 549.7 115.8 549.6 111.8 548.2 108.6 544.9 105.4 558.3 105.4 558.3 160.6Z" fill="#8ed9e1" fill-rule="evenodd"/>
<path d="M503.1 111.2 503.1 105.4 505.5 105.4 503.7 108.6 503.1 111.2ZM558.3 108.5 556.5 105.4 558.3 105.4 558.3 108.5ZM558.3 160.6 503.1 160.6 503.1 112.3 504.2 115.8 505.5 117.4 508.4 119.8 516.7 124.8 519.9 125.9 526.3 127.1 528.1 128.6 530.3 131.8 531.1 132.4 532.2 131.8 534 128.6 535.1 127.5 536.7 126.7 543.1 125.6 547.4 123.8 555.7 118.2 557.2 116.6 558.3 114.8 558.3 160.6Z" fill="#9de0c1" fill-rule="evenodd"/>
<path d="M546.3 160.6 515.2 160.6 511.9 158.9 506.7 155 503.1 150.1 503.1 136.4 503.4 135.8 505.8 132.6 508.5 130.2 511.3 128.6 514.3 127.8 523.1 127.9 525.5 128.4 527.1 129.5 529.8 132.6 531.1 133.6 531.9 133.5 532.7 132.8 535.9 128.8 537.5 128.1 547.1 127.7 549.5 128.2 552.3 129.4 555.4 131.8 558.3 135.3 558.3 151.2 556 154.2 553.5 156.6 549.5 159.3 546.3 160.6Z" fill="#aee79e" fill-rule="evenodd"/>
<path d="M535.9 158.3 529.5 158.7 523.1 157.7 516.7 155.1 512.4 151.8 509.7 147.8 508.9 145.4 508.7 143 509 140.6 509.9 138.2 513 134.2 515.1 132.5 518 131 521.5 130 523.9 129.8 526.3 130.4 530.3 133.9 531.9 134.2 535.9 130.5 537.5 129.9 539.1 129.8 542.3 130.3 544.7 131.2 547.1 132.6 549.8 135 552.1 138.2 553.3 142.2 552.9 146.2 551.5 149.4 548.8 152.6 545.5 155 540.7 157.2 535.9 158.3Z" fill="#c6e972" fill-rule="evenodd"/>
<path d="M531.9 155 526.3 154.6 521.5 153.1 517.5 150.5 514.7 147 513.8 143 514.5 138.2 516.3 135 517.8 133.4 519.9 132.1 522.3 131.2 525.5 131.2 527.1 131.9 529.8 134.2 531.1 134.8 532.7 134.4 535.1 132.1 536.7 131.2 539.9 131.2 543.9 132.8 545.6 134.2 547.3 136.6 548.3 139.8 548.4 143.8 547.6 147 546.3 148.9 543.9 151.1 539.9 153.4 535.9 154.6 531.9 155Z" fill="#d9e953" fill-rule="evenodd"/>
<path d="M532.7 152.6 527.9 152.4 523.9 151.5 520.7 149.9 517.7 147 516.3 143.8 515.8 139.8 516.6 136.6 519.1 133.6 522.3 132.1 525.5 131.9 527.1 132.6 530.3 135.1 531.9 135.3 535.9 132.3 539.1 131.9 543.1 133.3 545.6 135.8 546.6 138.2 546.8 141.4 546 145.4 544.7 147.6 542.3 149.8 539.1 151.4 535.9 152.3 532.7 152.6Z" fill="#e7e744" fill-rule="evenodd"/>
<path d="M536.7 151.1 531.9 151.7 527.1 151.3 523.1 150 519.9 147.8 517.7 144.6 516.7 140.6 517.1 137.4 518.6 135 520.7 133.4 523.9 132.5 526.3 132.8 529.5 135.1 531.1 135.8 532.7 135.5 535.9 133 537.5 132.5 540.7 132.9 543.1 134.2 544.7 135.8 545.8 138.2 545.9 141.4 545.2 144.6 543.9 146.9 542.3 148.5 539.9 150 536.7 151.1Z" fill="#eed03a" fill-rule="evenodd"/>
<path d="M531.9 151 527.9 150.7 523.9 149.5 521.1 147.8 519 145.4 517.6 142.2 517.4 139 518.3 136.5 520.6 134.2 523.1 133.2 525.5 133.1 527.1 133.8 529.8 135.8 531.9 136.2 533.5 135.5 535.9 133.6 538.3 133 541.5 133.9 543.9 135.9 545 138.2 545.3 140.6 544.7 143.8 543.5 146.2 541.5 148.2 539.1 149.5 535.9 150.6 531.9 151Z" fill="#f1ae35" fill-rule="evenodd"/>
<path d="M534.3 150.3 530.3 150.4 526.3 149.7 523.1 148.4 520.7 146.6 518.8 143.8 518 140.6 518.3 138.1 519.9 135.5 522.3 134 524.7 133.6 526.7 134.2 529.5 136.2 531.9 136.6 533.5 136.1 535.9 134.2 538.3 133.7 540.7 134.2 543 135.8 544.3 138.2 544.7 140.6 544.4 143 543.3 145.4 541.9 147 539.9 148.4 537.5 149.5 534.3 150.3Z" fill="#ef8e31" fill-rule="evenodd"/>
<path d="M535.1 149.6 531.1 149.9 527.9 149.5 524.7 148.5 521.5 146.6 519.8 144.6 518.8 142.2 518.8 139 519.9 136.6 521.8 135 524.7 134.3 526.3 134.7 529.5 136.7 531.1 137 533.5 136.6 535.9 134.9 537.5 134.4 539.9 134.6 542 135.8 543.2 137.4 544 139.8 544 142.2 543.2 144.6 541.9 146.2 539.9 147.8 535.1 149.6Z" fill="#eb6e2d" fill-rule="evenodd"/>
<path d="M535.9 148.7 531.9 149.3 528.7 149 525.5 148.2 522.3 146.5 520.4 144.6 519.4 142.2 519.6 139 520.7 137 522.3 135.7 524.7 135.1 526.3 135.5 529.5 137.2 531.1 137.4 533.5 137.1 537.5 135.2 539.9 135.5 541.5 136.6 542.3 137.5 543.3 139.8 543.4 142.2 543 143.8 540.7 146.6 535.9 148.7Z" fill="#e7522a" fill-rule="evenodd"/>
<path d="M536.7 147.8 533.5 148.4 530.3 148.5 526.3 147.8 523.1 146.5 521 144.6 520.2 143 520 141.4 520.7 139 522.3 137.2 524.7 136.3 531.1 137.8 533.5 137.6 537.5 136.4 539.9 137 542.3 139.5 542.9 141.4 542.8 143 542 144.6 540.7 146 536.7 147.8Z" fill="#e04629" fill-rule="evenodd"/>
<path d="M536.7 147.1 527.9 147.3 523.9 146.3 521.5 144.5 520.8 143 520.7 141.3 522.3 139 525.5 137.8 531.1 138.2 536.7 137.7 538.3 138 539.9 138.6 541.5 139.9 542.3 142.4 541.5 144.5 540.6 145.4 539.1 146.4 536.7 147.1Z" fill="#da3928" fill-rule="evenodd"/>
<path d="M538.3 145.5 535.1 145.7 531.1 144.6 527.9 145.7 525.5 145.7 523 144.6 522.3 143.8 522.1 142.2 523.1 140.6 526.3 139.2 536 139 538.6 139.8 540.7 141.4 540.7 143.8 538.3 145.5Z" fill="#d03027" fill-rule="evenodd"/>
<path d="M539.3 121.4 541.1 120.6 542.3 119.5 543.2 118.2 543.8 115.8 543 112.6 541.6 111 539.9 110 536.7 109.4 531.1 110.2 526.3 109.5 523.9 109.5 520.7 110.8 518.6 113.4 518.2 115.8 518.8 118.2 519.9 119.8 522.3 121.3 524.7 121.7 539.3 121.4M532.9 124.6 541 123 543.1 121.9 545.1 119.8 546.2 117.4 546.4 114.2 545.7 111.8 544 109.4 540.7 107.2 535.9 106.4 523.9 106.5 520.7 107.5 518 109.4 516.3 111.8 515.5 115 516.1 118.2 517.5 120.6 519.9 122.5 522.3 123.4 527.1 124 530.3 125 532.9 124.6M503.1 119.5 517.5 125.5 526.3 127.3 527.9 128.6 531.1 132.7 531.9 132.5 534.2 128.6 535.9 127.2 543.9 125.7 558.3 119.8M533.5 154.3 527.9 154.2 523.1 153 519.1 150.9 516 147.8 514.6 143.8 514.7 139 516 135.8 519.1 132.7 522.3 131.4 525.5 131.3 527.1 132 530.3 134.6 531.9 134.9 535.9 131.8 537.5 131.2 539.1 131.2 543.1 132.5 545.3 134.2 546.5 135.8 547.6 138.2 547.9 141.4 547.6 145.4 546.5 147.8 543.9 150.4 540.7 152.3 536.7 153.7 533.5 154.3M536.7 150.2 532.7 150.9 528.7 150.7 524.7 149.6 521.4 147.8 519.2 145.4 517.8 142.2 517.6 139 519 135.8 520.9 134.2 523.9 133.2 526.3 133.5 529.5 135.8 531.1 136.3 532.7 136.1 535.9 133.8 537.5 133.2 539.9 133.4 542.9 135 544.2 136.6 545 139 545 142.2 544.3 144.6 543.1 146.4 541.5 147.9 539.1 149.4 536.7 150.2M535.1 148.7 531.9 149.1 528.7 148.8 524.7 147.7 522.3 146.4 520.5 144.6 519.6 142.2 519.7 139.8 520.7 137.5 522.8 135.8 524.7 135.4 526.3 135.8 529.5 137.3 531.1 137.6 533.5 137.3 537.5 135.5 539.1 135.6 541 136.6 542.3 138.1 543.1 140 543.3 142.2 542.9 143.8 541.8 145.4 539.9 146.9 535.1 148.7" fill="none" stroke="#1a1a1a" stroke-width="0.7" stroke-opacity="0.85"/>
</g>
<rect x="504.6" y="127.1" width="2.8" height="12.6" rx="1.3" fill="#4a674d" stroke="#111" stroke-width="1.5"/>
<rect x="554.6" y="127.1" width="2.8" height="12.6" rx="1.3" fill="#4a674e" stroke="#111" stroke-width="1.5"/>
<path d="M526.8 110.2 L531 105 L535.2 110.2" fill="none" stroke="#231f20" stroke-width="1.8" stroke-linejoin="round"/>
<circle cx="531" cy="133.3" r="23.7" fill="none" stroke="#111" stroke-width="2.3"/>
<clipPath id="c15"><circle cx="608.1" cy="133.5" r="25.9"/></clipPath>
<circle cx="608.1" cy="133.5" r="29.2" fill="url(#glow)"/>
<g clip-path="url(#c15)">
<rect x="582.2" y="107.6" width="51.8" height="51.8" fill="#3a47aa"/>
<path d="M635.4 161 580 160.8 580.2 105.4 635.6 105.6 635.4 161ZM603.1 116 603.5 115.2 602.6 114.2 601 114.2 600.3 115.2 601 116.2 601.8 116.4 603.1 116ZM615.6 116 615.9 115.2 615.5 114.4 614.6 114 613.1 114.4 612.7 115.2 613 116 613.8 116.3 615.6 116Z" fill="#3c4db2" fill-rule="evenodd"/>
<path d="M635.4 161 580 160.8 580.2 105.4 635.6 105.6 635.4 161ZM616.6 118.4 618.4 116.8 618.7 114.4 617.8 112.8 615.4 111.5 613 111.5 608.2 112.9 603.4 111.6 601 111.5 598.6 112.6 597.5 114.4 597.8 116.8 599.4 118.3 601 118.8 603.4 118.8 608.2 117.9 613.8 118.9 616.6 118.4Z" fill="#3f59bd" fill-rule="evenodd"/>
<path d="M635.4 161 580 160.8 580.2 105.4 635.6 105.6 635.4 161ZM617.2 119.2 619.4 117.2 619.8 114.4 618.6 112 615.4 110.4 613 110.4 608.2 111.3 603.4 110.4 600.9 110.4 597.8 111.9 596.3 114.4 596.4 116 597.1 117.6 598.6 119 600.2 119.6 613.8 119.9 617.2 119.2Z" fill="#4367c5" fill-rule="evenodd"/>
<path d="M635.4 161 580 160.8 580.2 105.5 635.5 105.6 635.4 161ZM617 120 618.6 119.1 620 117.6 620.6 116 620.7 114.4 619.4 111.8 617.8 110.5 616.2 109.9 613 109.6 608.2 110.3 601 109.6 597.8 110.9 596.6 112 595.7 113.6 595.5 115.2 596.2 117.6 597.7 119.2 599.4 120.1 601.8 120.5 608.2 120.6 614.6 120.5 617 120Z" fill="#4876cc" fill-rule="evenodd"/>
<path d="M635.4 160.9 580.1 160.8 580.2 105.5 635.5 105.6 635.4 160.9ZM608.5 121.6 616.2 120.8 619.5 119.2 620.8 117.6 621.4 115.2 620.9 112.8 619.8 111.2 617.8 109.7 615.4 109 608.2 109.5 602.6 108.9 599.4 109.3 597.8 110.1 596.2 111.4 595 113.6 594.9 116 595.4 117.6 597 119.4 600.2 120.9 608.5 121.6Z" fill="#4e8cd4" fill-rule="evenodd"/>
<path d="M635.4 160.9 580.1 160.8 580.2 105.5 635.5 105.6 635.4 160.9ZM609.9 122.4 617.8 120.9 619.5 120 621.1 118.4 622.1 116 622 113.6 621 111.5 619.4 109.9 617 108.6 614.6 108.2 608.2 108.5 601.8 108.1 597.8 109.2 595.4 111.2 594.2 113.6 594.1 116 595.1 118.4 596.7 120 600.2 121.5 604.2 121.9 607.4 122.7 609.9 122.4Z" fill="#60a6db" fill-rule="evenodd"/>
<path d="M635.4 160.9 580.1 160.8 580.2 105.5 635.5 105.6 635.4 160.9ZM609.1 124 612.2 122.6 617.8 121.6 619.6 120.8 621.4 119.2 622.7 116.8 623 114.4 622.3 112 621 110.2 617.8 108.1 615.4 107.4 613 107.2 601 107.4 597.8 108.3 595.4 110 593.6 112.8 593.2 115.2 593.8 117.6 595.4 119.8 598.6 121.7 604.2 122.7 607.4 124.2 609.1 124Z" fill="#72c1e1" fill-rule="evenodd"/>
<path d="M635.4 160.9 580.1 160.8 580.2 105.5 635.5 105.6 635.4 160.9ZM608.2 126.4 612.2 123.6 618.6 122.1 621.9 120 623.5 117.6 624 115.2 623.7 112.8 622.6 110.6 619.4 107.7 617 106.7 613.8 106.1 601.8 106.2 598.6 106.9 596.2 108.1 593.8 110.3 592.5 112.8 592.3 116 593.6 119.2 595.2 120.8 597 121.9 604.2 123.7 607.4 126.2 608.2 126.4Z" fill="#80cee3" fill-rule="evenodd"/>
<path d="M635.4 160.9 580.1 160.8 580.2 105.6 598 105.6 594 108 591.6 111.2 590.8 115.2 591.6 118.4 592.7 120 594.6 121.6 597.8 123.1 603.4 124.5 604.9 125.6 606.6 127.8 608.2 128.7 609.4 128 612.2 124.8 613.8 124.1 618.6 123.1 621 122.1 622.9 120.8 624.7 118.4 625.4 115.2 624.6 111.2 621.8 107.6 618.2 105.6 635.4 105.6 635.4 160.9Z" fill="#8ed9e1" fill-rule="evenodd"/>
<path d="M635.4 160.8 580.2 160.8 580.2 105.6 593.1 105.6 590 108.8 588.6 112 588.3 116.8 589.5 120 591.1 121.6 594.1 123.2 602.9 125.6 606.6 130 608.2 130.6 609.8 129.8 612.2 126.6 613.3 125.6 625.2 122.4 626.6 121.9 627.4 121 628.1 116.8 627.5 112 626.1 108.8 623.1 105.6 635.4 105.6 635.4 160.8Z" fill="#9de0c1" fill-rule="evenodd"/>
<path d="M580.2 109.3 580.2 105.6 582.1 105.6 580.2 109.3ZM635.4 108.2 633.9 105.6 635.4 105.6 635.4 108.2ZM635.4 160.8 580.2 160.8 580.2 127.1 581.1 130.4 582.3 132.8 584.2 134.8 585.8 135.3 587.4 134.7 589 133.2 592.7 127.2 593.8 126.5 595.4 126.2 599.4 126.4 601.8 127 605.8 131.1 608.2 132 610.2 131.2 614.1 127.2 617.8 126.3 621.8 126.7 623.4 127.9 626.6 131.7 628.2 132.8 629.8 133.3 631.4 133.3 633 132.6 635.4 130.1 635.4 160.8Z" fill="#aee79e" fill-rule="evenodd"/>
<path d="M635.4 160.8 580.2 160.8 580.2 139 584.2 140.3 585.8 140.2 587.4 139.5 589.8 137.4 594.6 131.7 597.8 129.8 601 129.7 606.6 132.7 608.2 133 609.8 132.6 614.6 129.6 617 129.4 619.4 129.9 621.8 131.4 625.8 135 628.2 136.4 631.4 137.3 635.4 137.1 635.4 160.8Z" fill="#c6e972" fill-rule="evenodd"/>
<path d="M621 160.8 594.6 160.7 589.2 158.4 584.9 155.2 582.6 152 582.1 150.4 582.3 148.8 583.4 147.2 589 142.6 593.6 136 597 133.1 599.4 132.2 601.8 132 608.2 133.8 609.8 133.4 613.8 131.3 615.4 131.1 617.8 131.4 621 133 625.8 138.4 633 142.7 634.5 144 635.4 145.4 635.4 150.9 633.1 154.4 628.2 158 624.2 159.9 621 160.8Z" fill="#d9e953" fill-rule="evenodd"/>
<path d="M612.2 158.4 605.8 158.6 599.4 157.6 594.6 155.8 592.5 154.4 591 152.8 590.2 151.2 590 148.8 591.9 141.6 593.8 137.6 597 134.5 599.4 133.4 601.8 133 607.4 134.4 609 134.3 613.8 132.3 616.2 132.1 617.8 132.4 620.2 133.7 623 136.8 625.8 143 628 146.4 628.4 148 627.9 150.4 626.3 152.8 622.6 155.4 617.8 157.3 612.2 158.4Z" fill="#e7e744" fill-rule="evenodd"/>
<path d="M609.8 156 605 155.8 600.2 154.6 596.2 152.3 593.9 149.6 592.7 145.6 593 141.6 594.9 137.6 597.8 135 601.8 133.8 607.4 135 609 134.9 613.8 133 616.2 132.9 619.4 134.1 622 136.8 623.1 139.2 623.6 143.2 623.5 148 622.5 150.4 620.2 152.7 617.8 154.2 613.8 155.5 609.8 156Z" fill="#eed03a" fill-rule="evenodd"/>
<path d="M612.2 154.6 607.4 154.8 602.6 154 598.6 152.2 595.6 149.6 594 146.4 593.6 143.2 594.8 139.2 597 136.5 598.6 135.4 601 134.6 603.4 134.6 608.2 135.5 615.4 133.6 618.4 134.4 620.4 136 621.9 138.4 622.6 141.6 622.3 145.6 621.3 148.8 619.5 151.2 617.8 152.5 615.4 153.7 612.2 154.6Z" fill="#f1ae35" fill-rule="evenodd"/>
<path d="M612.2 153.6 608.2 154 603.4 153.3 599.4 151.7 596.7 149.6 594.8 146.4 594.4 143.2 595.2 140 597 137.5 598.6 136.3 601 135.3 603.4 135.3 608.2 136.1 615.4 134.4 617.8 135 620.1 136.8 621.4 139.2 621.8 141.6 621.6 144.8 620.8 147.2 619.4 149.6 617.8 151.2 615.4 152.6 612.2 153.6Z" fill="#ef8e31" fill-rule="evenodd"/>
<path d="M612.2 152.8 608.2 153.2 604.2 152.8 600.2 151.4 597.7 149.6 595.9 147.2 595.1 144 595.6 140.8 597.1 138.4 599.4 136.7 601.8 136 607.4 136.6 615.4 135.5 617 135.8 618.7 136.8 620.2 138.6 621 141 621 144 620.3 146.4 618.8 148.8 617 150.6 614.7 152 612.2 152.8Z" fill="#eb6e2d" fill-rule="evenodd"/>
<path d="M611.4 152.1 607.4 152.4 603.4 151.9 600.2 150.7 597.8 148.9 596.2 146.4 595.7 144 596.2 141.4 597.8 138.9 600.2 137.3 602.6 136.7 606.6 137.1 614.6 136.9 617 137.5 618.6 138.5 619.7 140 620.4 142.4 620.2 144.8 619.5 146.4 617.8 148.7 616.2 150 613.8 151.4 611.4 152.1Z" fill="#e7522a" fill-rule="evenodd"/>
<path d="M610.6 151.3 607.4 151.6 604.2 151.5 601 150.5 598.6 149 597.2 147.2 596.4 144.8 596.6 142.4 597.8 140.2 599.4 138.8 601.8 137.8 609.8 137.4 613.8 138 618.3 140 619.4 141.5 619.7 143.2 619.5 144.8 618.6 146.7 615.4 149.4 610.6 151.3Z" fill="#e04629" fill-rule="evenodd"/>
<path d="M609 150.5 605.8 150.9 603.4 150.7 601 149.9 599.2 148.8 597.8 147.1 597.1 144.8 597.5 142.4 598.6 140.7 601.8 138.9 609.8 138 612.4 138.4 617.8 141.1 618.8 142.4 618.9 144 617.8 146.6 615.4 148.3 609 150.5Z" fill="#da3928" fill-rule="evenodd"/>
<path d="M605.8 149.6 603.4 149.6 601.1 148.8 599.3 147.2 598.5 145.6 598.6 144 599.4 142.4 600.3 141.6 604.1 140 609.8 138.9 611.4 139.2 612.9 140 615.5 141.6 617 143.1 617.1 144.8 615.6 146.4 610.6 147.5 605.8 149.6Z" fill="#d03027" fill-rule="evenodd"/>
<path d="M617 120 618.6 119.1 620 117.6 620.6 116 620.6 114.4 619.4 111.8 617.8 110.5 616.2 109.9 613.1 109.6 608.2 110.3 601 109.7 597.8 110.9 596.6 112 595.8 113.6 595.5 115.2 596.2 117.6 597.7 119.2 599.4 120.1 601.8 120.5 608.2 120.6 614.6 120.5 617 120M609.3 124 612.2 122.7 618.6 121.4 621.5 119.2 622.8 116.8 623 114.4 622.3 112 621 110.2 619.4 108.8 617 107.7 613 107.2 601 107.3 597.8 108.3 595.4 109.9 593.5 112.8 593.2 115.2 593.7 117.6 595.4 119.9 598.6 121.7 604.2 122.7 607.4 124.2 609.3 124M592.4 105.6 589.5 108.8 588.1 112 587.7 116 588.8 120 590.3 121.6 593.5 123.2 602.6 125.6 603.6 126.4 606.6 130.2 608.2 130.8 609.8 130 612.2 126.8 613.8 125.5 624.2 123.2 625.8 123.3 626.6 123.9 628.2 127.2 629 128 630.2 128 631 127.2 631.2 124.8 628.9 120 628.5 114.4 627.8 111.2 626.1 108 623.8 105.6M598.3 160.8 591.4 158.5 586.6 155.2 584.8 152.8 584.2 151.2 584.2 149.6 584.8 148 589.8 142.4 593.9 136 597 133.4 599.4 132.4 601.8 132.2 608.2 133.9 609.8 133.6 613.8 131.5 615.4 131.3 618.6 131.9 621.3 133.6 625.8 139.1 632.8 144 633.9 145.6 634.5 148 634.4 149.6 633.4 152 629.8 155.8 624.2 158.9 617.9 160.8M611.4 154.4 607.4 154.6 602.6 153.7 598.6 151.9 595.9 149.6 594.2 146.4 593.8 143.2 595 139.2 597 136.7 598.6 135.6 601 134.8 603.4 134.7 608.2 135.7 615.4 133.8 617.8 134.3 620.2 136 621.7 138.4 622.4 140.8 622.2 144.8 621.3 148 619.9 150.4 617.8 152.2 614.6 153.7 611.4 154.4M609.8 152.1 605.8 152.1 602.6 151.5 599.4 150 597.2 148 596.1 145.6 596 143.2 597 140.3 598.6 138.5 601.8 137.1 606.6 137.3 611.4 137 616.2 137.7 618.7 139.2 619.8 140.8 620.2 143.2 619.7 145.6 618.8 147.2 617 149.1 614.6 150.6 609.8 152.1" fill="none" stroke="#1a1a1a" stroke-width="0.7" stroke-opacity="0.85"/>
</g>
<rect x="581.7" y="127.3" width="2.8" height="12.6" rx="1.3" fill="#496650" stroke="#111" stroke-width="1.5"/>
<rect x="631.8" y="127.3" width="2.8" height="12.6" rx="1.3" fill="#4b674c" stroke="#111" stroke-width="1.5"/>
<path d="M603.9 110.4 L608.1 105.2 L612.3 110.4" fill="none" stroke="#231f20" stroke-width="1.8" stroke-linejoin="round"/>
<circle cx="608.1" cy="133.5" r="23.7" fill="none" stroke="#111" stroke-width="2.3"/>
<clipPath id="c16"><circle cx="81.4" cy="202.3" r="25.9"/></clipPath>
<circle cx="81.4" cy="202.3" r="29.2" fill="url(#glow)"/>
<g clip-path="url(#c16)">
<rect x="55.5" y="176.4" width="51.8" height="51.8" fill="#363c98"/>
<path d="M108.7 229.8 53.3 229.6 53.5 174.2 108.9 174.4 108.7 229.8ZM74 184.8 75.2 184 74.9 183.2 73.5 182.9 72.4 183.2 71.9 184 72.7 184.8 74 184.8ZM90.4 184.8 91 184 90.5 183.2 89.5 182.9 87.8 183.2 87.6 184 88.5 184.8 90.4 184.8Z" fill="#3943a4" fill-rule="evenodd"/>
<path d="M108.7 229.7 53.4 229.6 53.5 174.3 108.8 174.4 108.7 229.7ZM75.3 186.4 77.2 185.6 79.1 184 79.4 183.2 78.1 181.6 75.9 180.8 73.5 180.7 71.1 181.4 69.5 182.7 69.1 184 69.3 184.8 70.3 185.8 72.7 186.6 75.3 186.4ZM91.8 186.4 93.1 185.6 93.8 184 93.1 182.4 91.9 181.5 89.5 180.7 87.1 180.7 84.7 181.6 83.7 182.4 83.4 183.2 83.7 184 85.5 185.6 88.7 186.7 91.8 186.4Z" fill="#3c4db2" fill-rule="evenodd"/>
<path d="M108.7 229.7 53.4 229.6 53.5 174.3 108.8 174.4 108.7 229.7ZM92.4 187.2 94.6 185.6 95 184.8 95 183.2 94.3 181.9 93 180.8 89.5 179.5 86.3 179.4 81.5 180 76.7 179.4 73.5 179.5 69.9 180.8 68.7 181.7 67.8 183.2 67.9 184.8 68.4 185.6 69.5 186.5 71.9 187.4 75.1 187.3 81.5 185.3 87.9 187.4 90.3 187.6 92.4 187.2Z" fill="#3f59bd" fill-rule="evenodd"/>
<path d="M108.7 229.7 53.4 229.6 53.5 174.3 108.8 174.4 108.7 229.7ZM93 188 94.5 187.2 96 185.6 96.4 184 96 182.4 95.1 181.1 93.5 179.8 91.1 178.7 87.9 177.8 80.7 177.3 73.5 178.1 71.1 178.9 68.7 180.2 67.3 181.6 66.6 183.2 66.7 184.8 67.7 186.4 71.1 188 74.3 188.2 81.5 186.5 88.7 188.3 91.1 188.4 93 188Z" fill="#4367c5" fill-rule="evenodd"/>
<path d="M108.7 229.7 53.4 229.6 53.5 174.3 108.8 174.4 108.7 229.7ZM94.3 188.8 95.9 187.7 97.5 185.6 97.8 184 97.2 181.6 95.9 179.9 93.5 178 89.5 176.1 85.5 174.9 82.3 174.4 79.1 174.6 72.7 176.3 69.5 177.9 67.1 179.7 65.6 181.6 65.1 183.2 65.2 184.8 66.3 186.6 68.7 188.2 71.1 188.9 74.3 189 81.5 187.5 89.5 189.3 91.9 189.4 94.3 188.8ZM95.9 201.6 97.3 200.8 97.6 199.2 96.8 197.6 95.9 197.3 95.1 197.6 94.5 199.2 94.8 200.8 95.9 201.6Z" fill="#4876cc" fill-rule="evenodd"/>
<path d="M108.7 229.6 53.5 229.6 53.5 174.4 70.1 174.4 66.3 177.3 63.7 180.8 63.2 184 63.7 185.6 64.8 187.2 67.1 188.9 70.3 189.9 73.5 190 79.9 188.5 82.3 188.4 92.7 191.6 93.4 192 93.5 192.8 92.2 197.6 92.4 201.6 93.5 203.6 95.9 204.6 97.5 204.4 99.1 203.4 100.5 200.8 100.5 198.4 99.8 196 98.3 193.8 96.4 192 96.2 191.2 99.1 186.4 99.7 183.2 99.1 180.8 97.5 178.4 95.1 176.1 92.7 174.4 108.7 174.4 108.7 229.6Z" fill="#4e8cd4" fill-rule="evenodd"/>
<path d="M108.7 229.6 53.5 229.6 53.5 174.4 62.6 174.4 60 178.4 59.4 180.8 59.5 183.2 60.2 185.6 61.2 187.2 64.7 190.1 67.9 191.3 71.1 191.6 74.3 191 79.1 189.4 82.3 189.2 85.5 190 89.1 192 89.8 192.8 90.4 194.4 90.6 200.8 91.4 204 92.7 205.6 95.9 206.4 99.1 205.9 101.3 204.8 102.7 203.2 103.4 200.8 103.3 196.8 101.6 190.4 103.3 184 103.4 180.8 102.4 177.6 100.2 174.4 108.7 174.4 108.7 229.6Z" fill="#60a6db" fill-rule="evenodd"/>
<path d="M103.9 229.6 53.5 229.6 53.5 199.2 58.3 197 69.5 195.3 76.6 191.2 79.1 190.2 82.3 189.9 86 191.2 87.8 192.8 88.7 194.4 89.5 204 90 205.6 91.1 207 94.3 207.8 104.7 207.5 107.1 208.3 108.7 209.8 108.7 226.8 105.5 229.1 103.9 229.6ZM84.9 213.6 86 212 86.1 211.2 85.5 210.1 84.7 209.6 83.1 209.5 81.5 210.2 80.8 212 81.5 213.4 83.1 214.1 84.9 213.6Z" fill="#72c1e1" fill-rule="evenodd"/>
<path d="M83.1 229.6 63.9 229.5 58.3 227.5 55.5 225.6 53.5 223.5 53.7 205.6 56.7 202.8 59.9 201.1 63.1 200.2 68.7 199.6 71.1 198.9 72.7 197.5 75.9 192.8 78.3 191.2 80.7 190.5 83.9 191 86.3 192.6 87.5 194.4 88 197.6 87.5 205.6 87.1 207.1 86.3 207.6 82.3 208.3 80.7 209.3 80 210.4 79.7 212 80.7 214.2 82.3 215.2 84.7 215.2 87 213.6 88.7 210.6 89.5 209.8 94.3 209.2 99.1 209 102.3 209.6 104.6 211.2 106.1 213.6 106.6 216 106.4 219.2 105.4 221.6 103.9 223.6 101.5 225.5 98.3 226.9 95.1 227.8 83.1 229.6Z" fill="#80cee3" fill-rule="evenodd"/>
<path d="M73.5 228 67.9 228 63.9 227.5 59.9 226.1 56.9 224 54.8 221.6 53.5 219 53.5 210.1 55.9 206.2 59.9 203.3 63.9 202.1 71.1 201.7 73.5 200.9 74.3 199.6 75.5 195.2 77.2 192.8 79.9 191.3 83.1 191.4 85.4 192.8 86.5 194.4 87.1 196.8 87 199.2 85.3 204.8 83.9 206.1 80.7 207.6 79.1 209.6 78.7 212 79.9 214.8 82.3 216.4 85.5 216.5 87.1 215.7 90.3 212.1 91.9 211.1 95.1 210.3 99.1 210.2 101.5 211 103.5 212.8 104.5 215.2 104.4 218.4 103.3 220.8 102 222.4 99.9 223.8 97.5 224.8 84.7 227.2 73.5 228Z" fill="#8ed9e1" fill-rule="evenodd"/>
<path d="M73.5 226.5 68.7 226.7 64.7 226.2 61.5 225.2 59.1 223.8 56.7 221.5 54.9 218.4 54.2 215.2 54.5 212 55.4 209.6 57.1 207.2 59.1 205.5 61.5 204.2 65.5 203.4 74.3 204 75.9 203.4 76.2 202.4 76 196.8 76.8 194.4 79.1 192.2 80.7 191.7 82.3 191.8 84.5 192.8 85.8 194.4 86.3 196 86.2 198.4 85.5 200.8 83.9 203.3 82.3 204.6 79.1 206.2 78.3 207.3 77.7 209.6 77.7 212 79.1 215.6 80.7 217.2 82.3 218 84.7 218.5 86.3 218.4 87.9 217.5 91 213.6 92.7 212.3 95.1 211.4 97.5 211.2 99.9 211.7 101.5 212.8 102.9 215.2 103 217.6 102.4 219.2 101.3 220.8 99.9 221.9 97.5 223.1 73.5 226.5Z" fill="#9de0c1" fill-rule="evenodd"/>
<path d="M82.3 202.5 80.7 202.8 79.1 202.3 77.7 200.8 76.9 198.4 76.9 196 77.6 194.4 79.1 192.9 80.7 192.3 82.3 192.3 83.9 193.1 85.1 194.4 85.6 196 85.7 197.6 84.9 200 83.9 201.4 82.3 202.5ZM74.3 224.9 68.7 225.5 64.7 225 61.5 223.9 58.3 221.5 56.3 218.4 55.5 214.4 56.4 210.4 58.8 207.2 62.3 205.2 66.3 204.5 71.1 205.3 73.5 206.2 75.1 207.3 76 208.8 77 213.6 77.9 216 82.1 221.6 81.8 222.4 80.7 223.2 74.3 224.9ZM96.7 221.7 94.3 221.9 91.9 221.4 91 220.8 90.3 219.2 91.2 216 92.7 214 95.1 212.6 97.5 212.3 99.1 212.7 100.4 213.6 101.4 215.2 101.6 216.8 101.2 218.4 100 220 98.3 221.2 96.7 221.7Z" fill="#aee79e" fill-rule="evenodd"/>
<path d="M83.1 200.8 81.5 201.5 79.9 201.2 78 199.2 77.5 197.6 77.6 196 78.3 194.4 79.9 193.1 81.5 192.8 83.1 193.2 84.8 195.2 85.1 196.8 84.8 198.4 83.1 200.8ZM71.1 224.1 67.1 224.3 63.1 223.4 60 221.6 57.9 219.2 56.7 216 56.8 212.8 58.1 209.6 60.7 207.1 64.7 205.7 68.7 205.9 72.2 207.2 74.6 209.6 77.2 218.4 77.5 220.8 77.2 221.6 75.9 222.6 71.1 224.1ZM96.7 220.1 95.1 220.1 93.5 219.4 92.9 218.4 92.8 216.8 94.4 214.4 95.9 213.7 97.5 213.6 99.2 214.4 99.9 215.5 100.1 216.8 99.1 218.8 96.7 220.1Z" fill="#c6e972" fill-rule="evenodd"/>
<path d="M82.3 200.3 80.7 200.4 79.9 200.1 78.9 199.2 78.2 197.6 78.5 195.2 79.1 194.4 80.7 193.4 83.1 193.9 84.4 196 84.1 198.4 82.3 200.3ZM69.5 223.2 65.5 223.1 62.3 221.9 59.8 220 58.3 217.6 57.6 214.4 58 212 59.9 209 62.3 207.4 65.5 206.6 69.5 207.2 72.3 208.8 74 211.2 75.3 216.8 75.2 220 73.5 221.9 69.5 223.2ZM96.7 217.7 95.9 217.6 95.5 216.8 95.8 216 96.7 215.7 97.5 216 97.7 216.8 96.7 217.7Z" fill="#d9e953" fill-rule="evenodd"/>
<path d="M82.3 199.4 81.5 199.6 80 199.2 78.9 197.6 79.2 195.2 80.7 194 82.8 194.4 83.8 196 83.8 197.6 82.3 199.4ZM70.3 221.9 67.9 222.3 64.7 221.9 62.3 220.8 59.8 218.4 58.8 216 58.8 212.8 60 210.4 61.7 208.8 64.7 207.6 67.9 207.7 70.5 208.8 72.7 211.1 73.8 214.4 73.9 218.4 72.7 220.5 70.3 221.9Z" fill="#e7e744" fill-rule="evenodd"/>
<path d="M82.3 198.5 80.7 198.6 79.7 197.6 79.6 196 80.7 194.8 82.3 194.9 83.1 195.9 83.1 197.3 82.3 198.5ZM69.5 220.9 67.1 221.2 64.5 220.8 62.3 219.7 60.5 217.6 59.7 215.2 59.8 212.8 60.7 211.1 62.3 209.5 64.7 208.6 67.1 208.6 69.5 209.4 71.5 211.2 72.7 214.4 72.6 217.6 71.1 220 69.5 220.9Z" fill="#eed03a" fill-rule="evenodd"/>
<path d="M81.5 197.6 80.5 196.8 80.7 195.9 81.5 195.7 82.3 196.8 81.5 197.6ZM67.9 220.1 65.5 220 63.4 219.2 61.7 217.6 60.9 216 60.7 213.6 61.3 212 62.3 210.8 63.9 209.8 65.5 209.5 67.9 209.8 70.1 211.2 71.1 212.8 71.6 215.2 71.2 217.6 70 219.2 67.9 220.1Z" fill="#f1ae35" fill-rule="evenodd"/>
<path d="M68.7 218.4 67.1 218.9 65.5 218.9 63.1 217.6 62.1 216 61.8 214.4 62.2 212.8 63.1 211.6 64.7 210.7 66.3 210.6 67.9 211 69.2 212 70.2 213.6 70.4 215.2 70.1 216.8 68.7 218.4Z" fill="#ef8e31" fill-rule="evenodd"/>
<path d="M67.9 217 67.1 217.4 65.5 217.4 63.9 216.4 63.2 214.4 63.9 212.7 65.1 212 66.3 211.9 68.1 212.8 68.7 213.8 68.9 215.2 67.9 217Z" fill="#eb6e2d" fill-rule="evenodd"/>
<path d="M91.2 188 93.5 187.3 94.8 186.4 95.8 184.8 95.8 183.2 94.9 181.6 93.5 180.4 89.5 178.8 84.7 178.4 73.5 178.7 69.5 180.3 67.9 181.6 67.1 183.2 67.2 184.8 67.9 185.9 69.5 187.1 71.1 187.7 75.1 187.7 81.5 186 87.9 187.9 91.2 188M68 174.4 64.7 177.5 62.8 180.8 62.4 184 62.9 185.6 64 187.2 66.3 189 69.5 190.2 73.5 190.3 81.5 188.6 84.7 189.2 90.2 191.2 91.5 192 92 192.8 91.5 199.2 92.1 202.4 93.5 204.5 95.9 205.2 98.2 204.8 99.9 203.7 101.1 201.6 101.4 199.2 100.7 196 98.5 192 98.1 190.4 100.4 184.8 100.3 181.6 98.3 177.7 94.8 174.4M53.5 205.9 56.7 202.8 59.9 201.1 63.1 200.2 68.7 199.6 71.1 198.9 72.7 197.6 75.2 193.6 78.4 191.2 80.7 190.5 82.3 190.6 85.6 192 87 193.6 87.9 196 87.3 206.4 86.3 207.6 82.3 208.3 80.4 209.6 79.7 212 80.7 214.2 82.3 215.2 84.7 215.2 87 213.6 88.7 210.7 89.5 209.9 95.1 209.1 99.9 209.1 103.1 210.1 105.2 212 106.3 214.4 106.6 217.6 106.1 220 104.9 222.4 103.1 224.3 100.7 225.9 97.5 227.1 92.7 228.3 82.5 229.6M65 229.6 61.5 228.8 58.3 227.5 55.6 225.6 53.5 223.4M81.5 203.2 79.9 203.3 78.3 202.3 77 200 76.6 197.6 77 195.2 78 193.6 79.9 192.3 81.5 192.1 83.1 192.4 84.7 193.6 85.6 195.2 85.9 196.8 85.5 199.2 84.7 200.8 83.1 202.5 81.5 203.2M71.9 225.6 67.1 225.7 63.1 224.9 59.1 222.7 56.8 220 55.3 216 55.5 212 56.9 208.8 59.9 206 63.1 204.6 67.1 204.2 71.9 205.1 75.1 206.4 76.3 208 77.1 212.8 78.3 216 79.9 218.1 84.5 221.6 84.2 222.4 83 223.2 80.9 224 71.9 225.6M97.5 221.9 95.1 222.3 92.7 222.3 90.2 221.6 89.2 220.8 89.6 218.4 91.8 214.4 93.5 212.9 95.9 212.1 98.3 212.1 100 212.8 101.5 214.4 102 216 101.6 218.4 100.7 219.8 99.1 221.2 97.5 221.9M81.5 200.1 79.3 199.2 78.4 196.8 78.8 195.2 79.4 194.4 81.5 193.6 83.3 194.4 83.9 195.2 84.2 196.8 83.3 199.2 81.5 200.1M70.3 222.5 67.1 222.8 63.9 222.2 61.3 220.8 59.2 218.4 58.2 216 58.3 212.8 59.3 210.4 61.5 208.3 64.7 207.1 67.9 207.2 71.1 208.5 73 210.4 74.4 214.4 74.6 219.2 73.5 221 70.3 222.5M81.5 197.2 80.7 196.8 81.5 195.9 81.9 196.8 81.5 197.2M69.5 219.3 67.9 219.9 65.5 219.9 63.9 219.3 62.3 218.1 61 216 60.8 214.4 61.1 212.8 62.3 211 63.9 210 66.3 209.6 67.9 210 69.8 211.2 70.9 212.8 71.4 215.2 71 217.6 69.5 219.3" fill="none" stroke="#1a1a1a" stroke-width="0.7" stroke-opacity="0.85"/>
</g>
<rect x="55" y="196.1" width="2.8" height="12.6" rx="1.3" fill="#355965" stroke="#111" stroke-width="1.5"/>
<rect x="105" y="196.1" width="2.8" height="12.6" rx="1.3" fill="#2b4c62" stroke="#111" stroke-width="1.5"/>
<path d="M77.2 179.2 L81.4 174 L85.6 179.2" fill="none" stroke="#231f20" stroke-width="1.8" stroke-linejoin="round"/>
<circle cx="81.4" cy="202.3" r="23.7" fill="none" stroke="#111" stroke-width="2.3"/>
<clipPath id="c17"><circle cx="154.1" cy="202.7" r="25.9"/></clipPath>
<circle cx="154.1" cy="202.7" r="29.2" fill="url(#glow)"/>
<g clip-path="url(#c17)">
<rect x="128.2" y="176.8" width="51.8" height="51.8" fill="#353992"/>
<path d="M181.4 230.1 126.1 230 126.2 174.7 181.5 174.8 181.4 230.1ZM146.3 186 147.9 185.2 148.4 184.4 148.4 183.6 147.8 182.8 146.2 182.3 144.6 182.4 142.5 183.6 142.3 184.4 143 185.5 144.6 186.1 146.3 186ZM165.4 185.2 165.8 184.4 165.6 183.6 163.8 182.5 161.4 182.5 160 183.6 160.1 184.4 160.7 185.2 162.2 185.8 163.8 185.9 165.4 185.2Z" fill="#3943a4" fill-rule="evenodd"/>
<path d="M181.4 230.1 126.1 230 126.2 174.7 181.5 174.8 181.4 230.1ZM146.7 187.6 150.4 186 154.2 183.3 159.7 186.8 162.2 187.5 164.6 187.5 166.8 186.8 167.8 186 168.2 185.2 168.3 183.6 167.8 182.6 166.2 181.2 163.8 180.3 161.4 180 158 180.4 154.2 181.9 150.2 180.3 146.2 180 143 180.7 140.6 182.3 139.7 184.4 140.6 186.2 143.2 187.6 146.7 187.6Z" fill="#3c4db2" fill-rule="evenodd"/>
<path d="M181.4 230.1 126.1 230 126.2 174.7 181.5 174.8 181.4 230.1ZM164.9 188.4 167 187.9 168.7 186.8 169.8 185.2 169.6 182.8 168.4 181.2 166.2 179.7 159.8 177.8 153.4 177.2 145.4 178.4 140.6 180.5 139 182 138.3 183.6 138.4 185.2 139.4 186.8 140.6 187.7 143 188.6 147 188.4 154.2 186.1 161.4 188.2 164.9 188.4Z" fill="#3f59bd" fill-rule="evenodd"/>
<path d="M181.4 230.1 126.1 230 126.2 174.7 148.2 174.8 144.6 176.2 140.6 178.4 138.2 180.5 136.8 182.8 136.7 185.2 138.3 187.6 141.4 189.2 144.6 189.7 147 189.4 154.2 187.4 162.2 189.2 165.4 189.3 167.8 188.7 170.2 187.2 171.1 186 171.6 184.4 171.4 182.8 170.2 180.7 166.2 177.6 159.9 174.8 181.5 174.8 181.4 230.1Z" fill="#4367c5" fill-rule="evenodd"/>
<path d="M181.4 230 126.2 230 126.2 174.8 139.9 174.8 137.2 177.2 135 180.4 134.2 182.8 134.4 185.2 135.7 187.6 137.4 189.1 139.8 190.3 143 190.9 146.2 190.6 154.2 188.5 164.6 190.5 167 190.4 169.4 189.8 171.7 188.4 173.1 186.8 173.8 185.2 174 182.8 172.2 178.8 168.3 174.8 181.4 174.8 181.4 230Z" fill="#4876cc" fill-rule="evenodd"/>
<path d="M181.4 230 126.2 230 126.2 174.8 128.4 174.8 127.1 177.2 126.3 180.4 126.5 183.6 127.8 186.8 129.5 189.2 131.8 191.3 134.2 192.9 137.4 194.1 141.4 193.9 151 190.4 154.2 189.7 157.5 190 168.6 193.1 172.6 193.1 175 192.2 177.9 190 179.9 187.6 181.4 184.5 181.4 230ZM181.4 178 179.8 174.8 181.4 174.8 181.4 178Z" fill="#4e8cd4" fill-rule="evenodd"/>
<path d="M179 230 129.1 230 126.2 228.7 126.2 216.4 127.8 214.6 132.3 207.6 135.8 204.7 142.5 201.2 145.7 195.6 147.2 194 149.6 192.4 152.6 191.2 155 190.9 158.2 191.3 163 193.5 167.8 198.6 173.1 202 174.8 203.6 175.3 205.2 175.1 206 174.1 207.6 171.7 210 171.6 210.8 174.2 213.2 181.4 216.7 181.4 229 179 230Z" fill="#60a6db" fill-rule="evenodd"/>
<path d="M168.6 230 138.6 230 133.4 228.3 129.7 226 128 223.6 128 221.2 131.5 212.4 134.2 208.4 137.4 206 143.8 203.6 144.9 202.8 146 201.2 148 196.4 150.2 193.9 153.4 192.4 157.4 192.5 159.3 193.2 161.4 194.7 164.6 198.9 169.3 202.8 170.5 204.4 170.6 205.2 169.8 206.8 166.8 209.2 166.4 210 166.8 210.8 171 213.5 178.3 219.6 179.9 222 179.7 224.4 177.3 226.8 173.4 228.7 168.6 230Z" fill="#72c1e1" fill-rule="evenodd"/>
<path d="M157.4 230 147 229.8 139 228.3 135.8 227.1 133.4 225.6 131.7 223.6 131.1 222 131.2 219.6 132.1 214.8 132.9 212.4 134.3 210 135.9 208.4 138.2 206.9 146.5 204.4 147.6 202.8 150.3 196.4 152.6 194.1 154.2 193.5 157.4 194.2 159.7 195.6 162.8 199.6 167 203.6 167.4 205.2 166.4 206.8 163 208.8 160.6 209.8 155.4 210.8 154.7 211.6 155 212.2 156.6 212.6 162.2 211.4 165.4 211.8 167.8 212.8 170.2 214.3 172.2 216.4 174.9 220.4 175.7 222.8 174.5 225.2 170.4 227.6 164.6 229.2 157.4 230Z" fill="#80cee3" fill-rule="evenodd"/>
<path d="M160.6 228.4 151 228.8 141.4 227.5 138.2 226.5 135.8 225.1 134.2 223.6 133.1 221.2 132.8 218.8 133 215.6 133.6 213.2 135 210.7 137.4 208.4 139.8 207.2 148.6 206.1 150.5 200.4 152.6 195.6 153.3 194.8 154.2 194.5 155.4 194.8 159 197.6 164.5 203.6 164.8 205.2 163.3 206.8 160.6 208 151.8 209 151.6 210.8 152.7 213.2 153.4 214.1 155 214.8 161.4 212.7 163.8 212.5 166.2 213 168.6 214.1 170.3 215.6 171.4 217.2 172.5 220.4 172.5 222.8 170.7 225.2 167 227 160.6 228.4Z" fill="#8ed9e1" fill-rule="evenodd"/>
<path d="M154.2 196.6 154.2 196.2 154.2 196.6ZM159 206.9 156.6 207.2 154.2 206.9 152.6 206.1 151.9 205.2 151.6 203.6 151.9 202 152.6 200.4 154.2 198.5 155.8 198.2 157.4 199 162.2 203.6 162.2 205.2 161.4 206 159 206.9ZM155.8 227.6 149.4 227.5 143.8 226.9 139.8 225.8 136.6 223.9 134.6 221.2 133.9 218 134.3 214 135.9 210.8 137.6 209.2 139.8 208 142.2 207.5 144.6 207.5 147 208 148.6 209 152.2 214.8 154.2 216.2 155.8 216.1 160.6 213.7 163 213.2 166.2 213.6 169.3 215.6 170.4 217.2 171 219.6 170.6 222 169.4 223.8 167.4 225.2 164.6 226.3 160.6 227.2 155.8 227.6Z" fill="#9de0c1" fill-rule="evenodd"/>
<path d="M158.2 205.4 155.8 205.4 154.3 204.4 154.2 202.8 154.7 202 156.6 201.5 158.9 202.8 159.5 204.4 158.2 205.4ZM159.8 226 154.2 226.5 147 226.2 142.2 225.4 139 224.1 136.6 222.2 135.2 219.6 134.7 215.6 135.7 212.4 136.8 210.8 139 209.1 141.4 208.3 143.8 208.2 146.2 208.8 148 210 151.8 216.2 153.4 217.4 155.8 217.4 159.7 214.8 162.2 213.9 165.4 214 167.8 215.1 169.1 216.4 169.8 218 169.8 220.4 169 222 167.8 223.3 165.4 224.6 159.8 226Z" fill="#aee79e" fill-rule="evenodd"/>
<path d="M160.6 224.5 154.2 225 147.8 225 143.8 224.7 140.6 223.8 137.8 222 136.1 219.6 135.4 216.4 136 213.2 137.4 211.1 139 209.8 140.6 209.1 143 208.8 145.4 209.3 147.6 210.8 148.8 212.4 151.2 217.2 153.4 219.1 155.8 219 159.6 215.6 162.2 214.4 165.4 214.5 167.6 215.6 169 218 169 219.6 168.3 221.2 165.4 223.4 160.6 224.5Z" fill="#c6e972" fill-rule="evenodd"/>
<path d="M148.6 223.6 145.4 223.8 142.2 223.3 139.8 222.3 137.6 220.4 136.4 218 136.1 215.6 136.7 213.2 138.6 210.8 140.6 209.8 143 209.5 145.4 210.1 147.4 211.6 148.8 214 151 219.6 152.5 222 151.9 222.8 148.6 223.6ZM163 222.9 158.9 222.8 157.1 222 156.9 221.2 158.3 218 160.6 215.7 163 214.8 165.4 215 167 215.9 168.1 217.2 168.2 219.6 166.2 221.9 163 222.9Z" fill="#d9e953" fill-rule="evenodd"/>
<path d="M147.8 222 145.4 222.6 142.2 222.3 139.8 221.3 138.2 219.9 137.1 218 136.8 215.6 137.3 213.2 138.5 211.6 140.6 210.4 143 210.1 145.4 210.8 147 212.2 148.4 214.8 149.2 218.8 148.8 221.2 147.8 222ZM165.4 221.4 162.2 222 159.9 221.2 159 219.6 159.8 217.2 161.4 215.9 163 215.3 164.6 215.3 166.2 216 167.3 217.2 167.6 218.8 166.8 220.4 165.4 221.4Z" fill="#e7e744" fill-rule="evenodd"/>
<path d="M145.4 221.4 143.8 221.6 141.4 221.2 139.8 220.3 138.2 218.6 137.4 216.4 137.5 214.8 138.2 212.9 139.8 211.4 141.4 210.7 143.8 210.8 145.5 211.6 147 213.3 147.9 215.6 148 218.8 147.3 220.4 145.4 221.4ZM165.4 220.5 163 221.1 160.9 220.4 160.1 218.8 160.7 217.2 163 215.9 164.6 215.9 165.8 216.4 166.6 217.2 166.8 218.8 165.4 220.5Z" fill="#eed03a" fill-rule="evenodd"/>
<path d="M144.6 220.5 142.2 220.5 140.6 219.9 139.3 218.8 138.3 217.2 138 215.6 138.3 214 139.4 212.4 140.6 211.6 142.2 211.2 143.8 211.4 145.5 212.4 146.7 214 147.2 215.6 147.1 218 146.2 219.7 144.6 220.5ZM164.6 220 163 220.2 161.7 219.6 161.2 218.8 161.8 217.2 163.8 216.4 165.6 217.2 165.9 218.8 164.6 220Z" fill="#f1ae35" fill-rule="evenodd"/>
<path d="M143.8 219.7 142.2 219.7 140.6 219 139.6 218 138.8 216.4 139 214 139.8 212.9 141.4 212 143 211.9 144.4 212.4 145.4 213.3 146.2 214.8 146.5 216.4 146.1 218 145.4 218.9 143.8 219.7ZM163.8 219.1 162.8 218.8 162.6 218 163.8 217.4 164.8 218 164.5 218.8 163.8 219.1Z" fill="#ef8e31" fill-rule="evenodd"/>
<path d="M143 218.8 140.6 217.9 139.8 216.9 139.5 215.6 139.8 214.1 140.5 213.2 142.2 212.6 143.8 212.9 144.6 213.5 145.6 215.6 145.4 217.2 144.9 218 143 218.8Z" fill="#eb6e2d" fill-rule="evenodd"/>
<path d="M143.8 217.4 142.2 217.7 140.6 216.4 140.5 214.8 141.4 213.7 143 213.5 144.5 214.8 144.6 216.4 143.8 217.4Z" fill="#e7522a" fill-rule="evenodd"/>
<path d="M145.5 189.2 154.2 186.9 162.2 188.8 166.2 188.8 168.6 187.8 169.8 186.8 170.8 185.2 170.9 183.6 170.3 182 168.6 180.1 163.8 177.5 156.6 175.4 153.4 175.2 150.2 175.6 146.2 176.8 141.4 178.9 139 180.6 137.5 182.8 137.4 185.2 139.2 187.6 142.2 189 145.5 189.2M126.2 212 131.8 205.2 134.2 203.4 139.8 200.2 145.3 194 150.2 191.3 155 190.3 159 190.9 163.8 192.8 165.8 194 170.2 197.9 177.9 202 179.3 203.6 179.7 205.2 179.4 206.8 177.5 210 177.5 210.8 178.3 211.6 181.4 213M160.6 229.2 150.2 229.5 140.6 228.1 137.4 227.1 135 225.8 133.4 224.4 132.1 222 131.9 219.6 132.4 215.6 133.4 212.4 134.8 210 136.6 208.3 139 207 147 205.2 148.2 203.6 149.9 198.8 151.2 196.4 152.4 194.8 154.2 193.9 156.6 194.6 159 196 165.9 203.6 166.3 205.2 165.1 206.8 162.2 208.3 153.9 210 153.2 210.8 153.5 212.4 154.2 213.3 155.8 213.7 162.2 212 164.6 212.1 167 212.8 169.4 214.1 171.6 216.4 173 218.8 174.2 222 173.6 224.4 171 226.4 166.2 228.2 160.6 229.2M157.4 204.6 155.8 204.3 155.4 203.6 155.8 202.8 157.1 202.8 158 203.6 157.4 204.6M155.8 226 150.2 226 144.6 225.5 140.6 224.5 138.2 223.2 136.3 221.2 135.1 218 135.1 214.8 136.4 211.6 137.9 210 139.8 209 143.8 208.4 146.2 209.1 147.8 210.2 149 211.6 151.8 216.7 153.4 217.9 155.8 217.8 160.1 214.8 163 214 166.2 214.4 168.8 216.4 169.6 218 169.5 220.4 168.6 222 167 223.4 163 225 155.8 226M146.2 222.2 143.8 222.4 141.4 221.9 139 220.5 137.7 218.8 136.9 216.4 137.2 214 138.2 212.1 139.8 210.8 141.4 210.3 143.8 210.3 146.2 211.5 147.6 213.2 148.7 216.4 148.9 219.6 148.3 221.2 146.2 222.2M165.4 221.2 163 221.8 160.4 221.2 159.3 219.6 160 217.2 161.4 216 163 215.4 164.6 215.4 166.2 216.1 167.2 217.2 167.4 218.8 166.5 220.4 165.4 221.2M143 219.7 141.4 219.3 139.8 218.2 138.8 215.6 139.6 213.2 140.6 212.4 142.2 211.9 143.8 212.2 145.2 213.2 146.3 215.6 146.3 217.2 145.4 218.8 143 219.7M163.8 218.9 163 218.7 163 217.8 163.8 217.6 164.6 218 163.8 218.9" fill="none" stroke="#1a1a1a" stroke-width="0.7" stroke-opacity="0.85"/>
</g>
<rect x="127.6" y="196.5" width="2.8" height="12.6" rx="1.3" fill="#223c5e" stroke="#111" stroke-width="1.5"/>
<rect x="177.8" y="196.5" width="2.8" height="12.6" rx="1.3" fill="#233f5f" stroke="#111" stroke-width="1.5"/>
<path d="M149.9 179.6 L154.1 174.4 L158.3 179.6" fill="none" stroke="#231f20" stroke-width="1.8" stroke-linejoin="round"/>
<circle cx="154.1" cy="202.7" r="23.7" fill="none" stroke="#111" stroke-width="2.3"/>
<clipPath id="c18"><circle cx="229.9" cy="202.7" r="25.9"/></clipPath>
<circle cx="229.9" cy="202.7" r="29.2" fill="url(#glow)"/>
<g clip-path="url(#c18)">
<rect x="204" y="176.8" width="51.8" height="51.8" fill="#373f9f"/>
<path d="M257.2 230.1 201.9 230 202 174.8 257.2 174.8 257.2 230.1ZM220.4 186.8 222.8 186.2 224.4 185.2 225 183.6 224.6 182.8 222.8 181.7 220.4 181.5 218 181.9 216.6 182.8 215.9 184.4 216.4 185.5 218 186.5 220.4 186.8ZM242.5 186 243.5 185.2 243.7 183.6 242.8 182.6 241.2 181.8 238.8 181.5 237.2 181.8 235.6 182.6 235 183.6 235.6 185.2 237.2 186.1 239.6 186.6 242.5 186Z" fill="#3c4db2" fill-rule="evenodd"/>
<path d="M257.2 230 202 230 202 174.8 257.2 174.8 257.2 230ZM222.5 187.6 225.9 186 228.3 183.6 228.9 182 228.7 181.2 227.6 180.1 224.4 179.1 219.6 179.3 215.6 180.8 213.6 182.8 213.4 185.2 215.6 187.3 218.8 188.1 222.5 187.6ZM242.4 187.6 244.7 186.8 246.3 185.2 246.5 184.4 246.2 182.8 244.4 181 242 179.9 237.2 179.1 233.2 179.8 231.4 181.2 231.1 182 231.7 183.6 234.2 186 238 187.5 242.4 187.6Z" fill="#3f59bd" fill-rule="evenodd"/>
<path d="M257.2 230 202 230 202 200.1 205.2 198.4 208.4 194.9 210.8 193.3 216.2 190.8 222.8 188.8 229.2 186.3 231.6 186.5 238 188.7 245.2 190 247.3 190.8 252.4 194.3 255.6 198.2 257.2 199.6 257.2 230Z" fill="#4367c5" fill-rule="evenodd"/>
<path d="M254.8 230 204.2 230 202 228.4 202 209.8 208.8 205.2 209.5 203.6 209.7 200.4 210.8 198.4 211.6 197.8 213.2 197.7 216.4 199.5 217.2 199.2 220.4 193.2 221.8 191.6 224 190 227.6 188.4 230 188 232.4 188.3 235.2 189.2 238.6 190.8 240.6 192.4 244.4 198.1 245.2 198.2 248.4 197.4 250 198 251.3 200.4 251.3 203.6 251.7 205.2 257.2 209.3 257.2 228.9 255.6 230 254.8 230Z" fill="#4876cc" fill-rule="evenodd"/>
<path d="M249.2 230 210.2 230 206.3 227.6 203.6 224.4 202.3 220.4 202.5 216.4 204 213.2 206.8 210.4 213.2 206.4 217.7 204.4 219.6 202.8 220.5 201.2 222.1 194.8 224.4 191.6 226 190.5 228.4 189.6 232.4 189.6 235.6 191 238 193.2 239.4 195.6 241.2 201.7 242.6 203.6 253.2 210.5 255.2 212.4 256.7 214.8 257.2 216 257.2 221.9 256.6 223.6 255.1 226 253.5 227.6 251.2 229.2 249.2 230Z" fill="#4e8cd4" fill-rule="evenodd"/>
<path d="M244.4 230 214.8 230 211.6 228.6 209 226.8 207.5 225.2 206.2 222.8 205.5 220.4 205.4 218 206 215.6 206.9 214 208.4 212.2 210.8 210.3 219.3 206 221.6 204.4 222.4 202.8 222.9 197.2 223.7 194.8 225.4 192.4 227.6 191 229.2 190.6 231.6 190.7 235.1 192.4 237.4 195.6 238.5 202 239.6 204.4 241.6 206 250 210.9 252.4 213.2 253.8 215.6 254.4 219.6 253.9 222 252.8 224.4 251.6 226 249.2 228 246 229.6 244.4 230Z" fill="#60a6db" fill-rule="evenodd"/>
<path d="M240.4 230 219.4 230 215.6 228.8 212 226.8 209.7 224.4 208.5 222 208 219.6 208.2 217.2 209.1 214.8 210.4 213.2 214 210.4 221.6 206.8 223.8 205.2 224.4 203.6 224 198.8 224.5 195.6 226.1 193.2 228.4 191.8 231.6 191.7 233.2 192.4 234.8 193.7 236 195.6 236.5 197.2 236.4 203.6 237.2 205.2 239.4 206.8 248.1 211.6 250.5 214 251.6 216.4 251.9 218.8 251.6 221.2 250.6 223.6 249.5 225.2 246 227.9 240.4 230Z" fill="#72c1e1" fill-rule="evenodd"/>
<path d="M234 230 225.2 230 221.2 229.3 217.2 228 214.8 226.8 212.8 225.2 211.1 222.8 210.4 220.4 210.3 218 210.7 216.4 212.9 213.2 216.4 210.7 223.6 207.6 226.1 206 226.5 204.4 225.1 199.6 225.3 196.4 226.8 193.9 229.2 192.6 230.8 192.6 232.4 193.1 233.7 194 234.8 195.6 235.4 198.8 234.1 204.4 234.7 206 246 211.7 248.5 214 249.8 217.2 249.8 219.6 249.1 222 247.7 224.4 246.1 226 241.2 228.6 234 230Z" fill="#80cee3" fill-rule="evenodd"/>
<path d="M230.8 204 229.2 203.8 227.6 202.6 226.3 200.4 226 198.8 226 197.2 226.8 195.3 228.4 193.8 230 193.4 231.6 193.7 233.1 194.8 234.1 196.4 234.4 198 234 200.4 233.2 202 230.8 204ZM232.4 229.2 226.8 229.2 222 228.4 218 227 215.2 225.2 213.3 222.8 212.3 219.6 212.8 216.4 214.3 214 216.4 212.1 218.8 210.7 230 207.1 232.4 207.4 241.2 210.3 246 213.1 247.9 215.6 248.3 218 247.5 221.2 245.4 224.4 243.6 226 240.4 227.6 236.4 228.7 232.4 229.2Z" fill="#8ed9e1" fill-rule="evenodd"/>
<path d="M230 202.1 228.4 201.4 227.6 200.5 226.9 198 227.7 195.6 228.7 194.8 230 194.4 231.6 194.8 232.4 195.5 233.4 198 233.1 199.6 232.4 200.9 231.6 201.6 230 202.1ZM236.4 227.7 231.6 228.4 226.8 228.2 222.8 227.5 218.8 226 215.9 223.6 214.6 221.2 214.2 218 215.3 214.8 217.2 212.8 219.6 211.4 229.2 209.1 232.4 209.1 236.4 209.8 240.4 210.9 243.5 212.4 245.5 214 246.6 215.6 246.9 218 246.2 220.4 244.4 223.2 242.3 225.2 239.6 226.7 236.4 227.7Z" fill="#9de0c1" fill-rule="evenodd"/>
<path d="M230 200.5 228.5 199.6 228 198 228.5 196.4 230 195.6 231.6 196.3 232.2 198 231.6 199.8 230 200.5ZM235.6 226.8 231.6 227.4 227.6 227.4 223.6 226.7 220.1 225.2 217.4 222.8 216.2 220.4 215.8 217.2 216.6 214.8 218 213.2 220.4 212 230 210.3 237.2 210.9 240.4 211.7 242.8 212.8 244.3 214 245.4 215.6 245.8 217.2 245.1 219.6 243.5 222 241 224.4 238.2 226 235.6 226.8Z" fill="#aee79e" fill-rule="evenodd"/>
<path d="M234 226.1 230.8 226.4 226.8 226.2 223.6 225.4 221.2 224.2 218.9 222 217.5 219.6 217 217.2 217.6 214.8 218.8 213.6 220.4 212.8 231.6 211.3 238 211.7 240.4 212.4 242.8 213.7 243.9 214.8 244.7 216.4 244.6 218 243.6 220 241.2 222.5 238.8 224.2 234 226.1Z" fill="#c6e972" fill-rule="evenodd"/>
<path d="M231.6 225.2 226 224.8 222 222.8 219.6 220.4 218.2 218 217.9 216.4 218.6 214.8 219.6 213.9 221.2 213.4 225.2 213.4 234 212 239.6 212.8 242.9 214.8 243.8 217.2 243.2 218.8 242 220.3 237.2 223.6 234.8 224.6 231.6 225.2Z" fill="#d9e953" fill-rule="evenodd"/>
<path d="M232.4 223.7 228.4 223.8 225.2 222.8 219.6 218.4 219 217.2 219.1 215.6 219.7 214.8 221.2 214.2 225.2 214.7 231 213.2 234.8 212.7 238.8 213.2 241.9 214.8 242.5 215.6 242.8 217.2 241.3 219.6 237.2 222.1 232.4 223.7Z" fill="#e7e744" fill-rule="evenodd"/>
<path d="M232.4 222.1 229.2 222 226.9 221.2 224.4 218.3 222 218.1 220.4 217.3 220.1 216.4 220.4 215.6 222 215.4 224.4 217.2 225.2 217.1 230.8 214.3 235.6 213.4 239.3 214 241.6 215.6 241.9 217.2 240.4 219.2 237.2 220.9 232.4 222.1Z" fill="#eed03a" fill-rule="evenodd"/>
<path d="M237.2 219.9 234 220.3 230.8 219.9 229.2 218.8 229.2 217.2 230.7 215.6 233.2 214.5 236.4 214.1 238.8 214.5 240.5 215.6 240.8 217.2 239.6 218.8 237.2 219.9Z" fill="#f1ae35" fill-rule="evenodd"/>
<path d="M237.2 218.8 234.8 219.1 233.2 218.7 232.2 218 231.9 217.2 232.2 216.4 233.2 215.6 235.6 214.8 237.2 214.8 238.8 215.4 239.7 216.4 239.7 217.2 238.8 218.1 237.2 218.8Z" fill="#ef8e31" fill-rule="evenodd"/>
<path d="M237.2 217.5 235.6 217.6 234.8 217.2 234.9 216.4 237.2 216.1 237.8 216.4 237.7 217.2 237.2 217.5Z" fill="#eb6e2d" fill-rule="evenodd"/>
<path d="M211.6 174.8 209.9 177.2 208.7 180.4 208.3 182.8 208.8 185.2 209.8 186.8 212 188.4 214 189.1 217.2 189.4 222 188.7 230 185.6 236.4 187.9 239.6 188.6 243.6 188.8 247.6 187.9 250.3 186 251.1 184.4 251.3 182.8 250.3 178 248.2 174.8M211.6 230 206.8 227 204.3 223.6 203.5 221.2 203.2 218.8 204.1 214.8 205.8 212.4 208.6 210 213.2 207.3 218 205 220 203.6 221 202 222 196.4 223.5 193.2 226.3 190.8 230 189.7 233.2 190.3 236.6 192.4 238.7 195.6 240.1 201.2 241.4 203.6 243.3 205.2 252.4 210.8 254.1 212.4 255.7 214.8 256.6 218.8 256.3 221.2 255.5 223.6 254 226 252.4 227.5 248.2 230M224.4 230 218 228.5 213.4 226 211.8 224.4 210.5 222 210 218 211.2 214.8 213.5 212.4 216.4 210.5 223.1 207.6 225.7 206 226.2 204.4 225 199.6 225.2 196.4 226.8 193.7 228.4 192.7 230 192.4 231.6 192.6 233.2 193.4 234.5 194.8 235.3 196.4 235.5 199.6 234.4 204.4 235.1 206 237.8 207.6 244.4 210.6 246.8 212.1 249.2 214.8 250.1 217.2 250 219.6 249.4 222 248 224.4 246.4 226 242 228.4 235.4 230M230.8 201.2 229.2 201.2 228.4 200.6 227.4 198.8 227.8 196.4 228.4 195.6 230 194.9 231.8 195.6 232.5 196.4 232.9 198 232.4 199.8 230.8 201.2M234 227.7 229.2 228 225.2 227.6 221.2 226.5 218 224.7 216.3 222.8 215.1 219.6 215.3 216.4 216.5 214 218 212.7 220.4 211.6 227.6 209.9 230.8 209.6 238 210.6 242 212 244 213.2 245.6 214.8 246.4 217.2 245.8 219.6 244.4 222 242.8 223.9 240.4 225.6 237.8 226.8 234 227.7M230.8 225.2 226 224.7 222 222.7 219.6 220.2 218.2 218 218 216.4 218.6 214.8 219.6 213.9 221.2 213.4 225.2 213.5 234 212.1 239.6 212.8 242.9 214.8 243.7 216.4 243.5 218 241.2 220.9 235.6 224.2 230.8 225.2M236.4 220.4 233.2 220.9 230 220.6 228.2 219.6 227.7 218 228.1 217.2 229.8 215.6 233.2 214.2 237.2 213.9 240 214.8 241.3 216.4 240.8 218 238.8 219.6 236.4 220.4" fill="none" stroke="#1a1a1a" stroke-width="0.7" stroke-opacity="0.85"/>
</g>
<rect x="203.4" y="196.5" width="2.8" height="12.6" rx="1.3" fill="#1d2c57" stroke="#111" stroke-width="1.5"/>
<rect x="253.6" y="196.5" width="2.8" height="12.6" rx="1.3" fill="#1e2d57" stroke="#111" stroke-width="1.5"/>
<path d="M225.7 179.6 L229.9 174.4 L234.1 179.6" fill="none" stroke="#231f20" stroke-width="1.8" stroke-linejoin="round"/>
<circle cx="229.9" cy="202.7" r="23.7" fill="none" stroke="#111" stroke-width="2.3"/>
<clipPath id="c19"><circle cx="302.9" cy="201.5" r="25.9"/></clipPath>
<circle cx="302.9" cy="201.5" r="29.2" fill="url(#glow)"/>
<g clip-path="url(#c19)">
<rect x="277" y="175.6" width="51.8" height="51.8" fill="#353b96"/>
<path d="M330.2 228.9 274.9 228.8 275 173.5 330.3 173.6 330.2 228.9ZM295 183.2 296.3 182.4 296.8 181.6 296.6 180.8 295.8 180.2 294.2 179.9 292.6 180.1 291.2 180.8 290.6 181.6 290.7 182.4 291.6 183.2 293.4 183.5 295 183.2ZM314.3 183.2 315.1 182.4 315.2 181.6 314.2 180.6 311.8 179.9 310.2 180.2 309.2 180.8 309 181.6 309.4 182.4 310.8 183.2 312.6 183.5 314.3 183.2Z" fill="#3943a4" fill-rule="evenodd"/>
<path d="M330.2 228.9 274.9 228.8 275 173.5 330.3 173.6 330.2 228.9ZM317 184.8 318.3 184 319.3 182.4 319.1 180.8 317.9 179.2 314.2 177.1 307 175.5 299.8 175.4 292.6 176.7 288.6 178.6 287.1 180 286.5 181.6 286.9 183.2 287.5 184 288.8 184.8 291 185.4 295.8 185 301.4 182.6 303 182.4 311 185.2 314.2 185.4 317 184.8Z" fill="#3c4db2" fill-rule="evenodd"/>
<path d="M330.2 228.9 274.9 228.8 275 173.6 289.9 173.6 285.3 177.6 284.1 179.2 283.5 181.6 283.8 183.2 285.4 185 287.8 186.1 291 186.6 295 186.1 300.6 184.4 303 184.1 312.6 186.4 315.8 186.5 318.2 186.1 319.8 185.4 321.5 184 322.2 182.4 322.3 180.8 320.5 177.6 315.9 173.6 330.2 173.6 330.2 228.9Z" fill="#3f59bd" fill-rule="evenodd"/>
<path d="M275 175.5 275 173.6 275.8 173.6 275 175.5ZM330.2 174.1 330 173.6 330.2 174.1ZM330.2 228.8 275 228.8 275 182.5 276.3 184.8 278.2 186.6 280.6 187.6 284.6 188.1 291.8 187.7 303 185.2 314.2 187.7 319 188.1 323 188 327 186.9 328.8 185.6 330.2 183.8 330.2 228.8Z" fill="#4367c5" fill-rule="evenodd"/>
<path d="M330.2 228.8 275 228.8 275 205.9 279.8 203.9 283 201.6 284.5 199.2 286.9 192.8 288.2 191.2 290.6 189.6 299 186.9 303 186.3 307.8 187.2 315.2 189.6 317.6 191.2 318.9 192.8 321.4 199.4 322.8 201.6 325.4 203.6 330.2 205.7 330.2 228.8Z" fill="#4876cc" fill-rule="evenodd"/>
<path d="M319 228.8 286.1 228.8 277.4 226.2 275 225 275 210.1 283 206.4 286.3 204 287.8 201.6 290.2 193.6 291.3 192 293.4 190.2 298.2 188.3 302.2 187.5 306.2 187.9 311 189.5 313.8 191.2 315.1 192.8 316.3 195.2 318 201.6 319.6 204 323 206.4 330.2 209.8 330.2 225.3 324.6 227.5 319 228.8Z" fill="#4e8cd4" fill-rule="evenodd"/>
<path d="M312.6 228 301.4 228.6 290.2 227.5 284.6 226.2 280.7 224.8 277.7 223.2 275 220.9 275 214.3 277.6 212 286.2 207.3 288.6 205.4 290.4 202.4 291.6 196.8 292.9 193.6 295 191.2 298 189.6 301.4 188.8 304.6 188.8 307.8 189.6 310.8 191.2 312.4 192.8 313.3 194.4 315.4 202.4 316.8 204.8 319 206.6 327 211.2 330.2 213.6 330.2 221.6 329.3 222.4 326.2 224.3 322.2 225.9 312.6 228Z" fill="#60a6db" fill-rule="evenodd"/>
<path d="M312.6 226.5 307 227.1 301.4 227.2 291 226 286.3 224.8 282.4 223.2 279.8 221.5 277.9 219.2 277.6 216.8 279 214.4 282 212 288.7 208 291.4 205.6 292.6 203.2 293.8 196.8 294.8 194.4 296.6 192.2 299 190.8 301.4 190.2 304.6 190.2 307 190.9 309.4 192.4 311 194.4 311.7 196 313 202.4 314.1 204.8 315.8 206.4 325.4 212.8 328 216 328.3 217.6 327.9 219.2 326.8 220.8 324.9 222.4 319.7 224.8 312.6 226.5Z" fill="#72c1e1" fill-rule="evenodd"/>
<path d="M309.4 225.6 299.8 225.8 291 224.5 286.8 223.2 283.8 221.6 282 220 281.1 218.4 281.1 216.8 282.5 214.4 291.4 208 293.9 205.6 294.9 203.2 295.7 197.6 296.6 195.3 298.2 193.4 300.8 192 304.6 191.9 307.9 193.6 309.8 196.8 310.8 202.4 311.7 204.8 313.4 206.4 321.7 212 324 214.4 324.8 216 325.1 217.6 324.6 219.2 323.3 220.8 321.4 222.2 315.8 224.4 309.4 225.6Z" fill="#80cee3" fill-rule="evenodd"/>
<path d="M311.8 224.1 303 224.8 294.2 223.9 290.2 222.8 287.5 221.6 285.4 220 284.3 218.4 284.5 216 286.2 213.6 289.4 210.9 295 207.2 296.5 205.6 297.2 204 297.7 199.2 298.4 196.8 299.5 195.2 301.4 194 303.8 193.9 306.3 195.2 307.7 197.6 308.5 203.2 309.2 204.8 311 206.4 319 211.2 320.7 212.8 322.3 215.2 322.6 216.8 322.3 218.4 320.4 220.8 316.6 222.8 311.8 224.1Z" fill="#8ed9e1" fill-rule="evenodd"/>
<path d="M311 223.2 303.8 223.7 295 222.8 289.5 220.8 287.1 218.4 286.9 216 288.8 212.8 291 210.9 298 207.2 299.8 205.6 301 203.2 301.2 199.2 302.2 197.8 303 197.6 303.8 198 304.6 199.1 304.9 203.2 305.8 204.8 308 206.4 316.6 210.5 319.3 212.8 320.6 215.2 320.6 217.6 319 220 315.8 221.9 311 223.2Z" fill="#9de0c1" fill-rule="evenodd"/>
<path d="M310.2 222.4 302.2 222.5 296.6 221.9 293.4 221.2 290.9 220 289.2 218.4 288.6 216.8 288.7 215.2 290.1 212.8 292.6 210.8 302.2 207.6 306.2 207.4 311 208.6 314.2 209.9 317.3 212 318.7 213.6 319.4 216 318.7 218.4 317.1 220 314.2 221.5 310.2 222.4Z" fill="#aee79e" fill-rule="evenodd"/>
<path d="M310.2 221.6 304.6 221.7 294.2 220.3 291.8 219.2 290.3 217.6 289.8 216 290.1 214.4 291.2 212.8 292.6 211.6 296.6 210.2 306.2 208.6 309.4 209 312.6 209.9 315.2 211.2 317 212.8 318 214.4 318.2 216.8 317.3 218.4 315.4 220 312.6 221.1 310.2 221.6Z" fill="#c6e972" fill-rule="evenodd"/>
<path d="M310.2 220.9 305.4 220.9 294.2 219.4 291.5 217.6 290.8 216 291 214.4 292.6 212.4 295.8 211 300.6 210.6 307 209.5 311.8 210.2 314.2 211.3 316.1 212.8 317.1 214.4 317.3 216 316.8 217.6 315.1 219.2 312.6 220.4 310.2 220.9Z" fill="#d9e953" fill-rule="evenodd"/>
<path d="M311 220.1 307 220.3 301.4 219.3 295 218.8 293.4 218.1 292.1 216.8 291.8 216 291.9 214.4 293.4 212.6 295.8 211.7 301.4 211.5 307 210.2 311.8 210.8 315.2 212.8 316.2 214.4 316.4 216 314.9 218.4 311 220.1Z" fill="#e7e744" fill-rule="evenodd"/>
<path d="M311.8 219.2 307.8 219.7 301.4 218.2 295.8 218.2 293.4 217.1 292.5 215.2 293.4 213.5 295.8 212.3 301.4 212.5 306.2 211 310.2 211 312.6 211.7 314.2 212.8 315 213.6 315.6 215.2 315.3 216.8 314.7 217.6 311.8 219.2Z" fill="#eed03a" fill-rule="evenodd"/>
<path d="M311.8 218.6 309.4 219 307 218.9 301.4 216.9 295.8 217.4 294.2 216.7 293.4 215.2 294.2 213.7 295.8 213 297.4 212.9 301.4 213.7 306.2 211.7 310.2 211.5 313.3 212.8 314.2 213.7 314.8 215.2 314.2 217 311.8 218.6Z" fill="#f1ae35" fill-rule="evenodd"/>
<path d="M309.4 218.4 307 218.2 304.6 217.2 303.2 216 303 215.2 303.3 214.4 305.3 212.8 307.8 212 310.2 212.1 312.1 212.8 313.7 214.4 313.8 216 312.3 217.6 309.4 218.4ZM298.2 216.2 296.6 216.5 295 216 294.6 215.2 294.9 214.4 296.6 213.8 298.2 214.2 299.1 215.2 298.2 216.2Z" fill="#ef8e31" fill-rule="evenodd"/>
<path d="M310.2 217.7 307.8 217.7 305.7 216.8 304.9 216 304.9 214.4 306.2 213.3 307.8 212.7 310.2 212.7 311.8 213.4 312.8 214.4 312.8 216 311.8 217 310.2 217.7Z" fill="#eb6e2d" fill-rule="evenodd"/>
<path d="M310.2 216.9 308.6 217 307 216.4 306.1 215.2 306.4 214.4 308.6 213.4 311 213.8 311.9 215.2 311.6 216 310.2 216.9Z" fill="#e7522a" fill-rule="evenodd"/>
<path d="M309.4 215.7 308.2 215.2 309.4 214.6 310.2 215.2 309.4 215.7Z" fill="#e04629" fill-rule="evenodd"/>
<path d="M282 173.6 279.9 177.6 279.5 181.6 280 183.2 281.1 184.8 283.8 186.6 287 187.4 291 187.4 303 184.9 311.8 187 316.6 187.5 319.8 187.2 322.5 186.4 324.7 184.8 325.8 183.2 326.4 180.8 326.1 178.4 325.2 176 323.8 173.6M275 212.5 278.3 210.4 284.7 207.2 287.9 204.8 289.4 202.3 291.5 194.4 293.9 191.2 298.2 189 303 188.2 307.8 189.1 311.9 191.2 314.3 194.4 316.2 201.6 317.4 204 320.1 206.4 330.2 212M294 228.8 287.8 227.8 283 226.6 278.5 224.8 275 222.7M330.2 223.2 327 225 322.2 226.7 311.8 228.8M310.2 224.9 301.4 225.3 292.6 224.2 288.6 223 285.7 221.6 283.8 220 282.8 218.4 282.8 216.8 284.2 214.4 288 211.2 293.8 207.2 295.2 205.6 296.2 203.2 296.7 198.4 297.5 196 299 194.1 301.4 192.9 304.6 192.9 307.1 194.4 308.6 196.8 309.7 203.2 310.5 204.8 312.2 206.4 318.2 210 320.7 212 322.8 214.4 323.5 216 323.7 217.6 323.1 219.2 320.6 221.6 315.8 223.7 310.2 224.9M311.8 221.8 304.6 222.3 294.2 220.9 291.8 219.9 290 218.4 289.2 216.8 289.3 215.2 290 213.6 291.4 212 293.4 210.7 295.8 209.9 304.6 208 307.8 208.2 311 208.9 314.2 210.2 316.8 212 318.6 214.4 318.9 216 318.6 217.6 317.4 219.2 315 220.7 311.8 221.8M309.4 220.1 306.2 220 301.4 219 295 218.5 293.4 217.8 292.4 216.8 292.1 216 292.2 214.4 293.5 212.8 295.8 211.9 301.4 211.8 307 210.4 309.4 210.5 311.8 211 315 213 316 214.4 316.1 216 315.4 217.6 314.2 218.6 311.8 219.7 309.4 220.1M311.8 217.7 309.4 218.3 307 218 304.4 216.8 303.5 215.2 304.5 213.6 306.2 212.6 308.6 212.1 311 212.5 313 213.6 313.7 215.2 313.1 216.8 311.8 217.7M297.4 216.1 295.5 216 294.9 215.2 295.3 214.4 296.6 214.1 297.9 214.4 298.4 215.2 297.4 216.1" fill="none" stroke="#1a1a1a" stroke-width="0.7" stroke-opacity="0.85"/>
</g>
<rect x="276.4" y="195.3" width="2.8" height="12.6" rx="1.3" fill="#1e2e58" stroke="#111" stroke-width="1.5"/>
<rect x="326.6" y="195.3" width="2.8" height="12.6" rx="1.3" fill="#1e2e58" stroke="#111" stroke-width="1.5"/>
<path d="M298.7 178.4 L302.9 173.2 L307.1 178.4" fill="none" stroke="#231f20" stroke-width="1.8" stroke-linejoin="round"/>
<circle cx="302.9" cy="201.5" r="23.7" fill="none" stroke="#111" stroke-width="2.3"/>
<clipPath id="c20"><circle cx="376.6" cy="203" r="25.9"/></clipPath>
<circle cx="376.6" cy="203" r="29.2" fill="url(#glow)"/>
<g clip-path="url(#c20)">
<rect x="350.7" y="177.1" width="51.8" height="51.8" fill="#353a93"/>
<path d="M403.9 230.4 348.6 230.3 348.7 175 404 175.1 403.9 230.4ZM371.2 187.1 372.1 186.3 372.3 185.5 372 184.7 371.1 184.2 368.7 184 367.4 184.7 366.9 185.5 367.1 186.3 367.9 187.1 369.5 187.4 371.2 187.1ZM385.6 187.1 386.3 186.3 386.4 185.5 385.9 184.7 384.7 184 382.3 184 381.1 184.7 380.7 185.5 380.9 186.3 382.3 187.4 383.9 187.6 385.6 187.1Z" fill="#3943a4" fill-rule="evenodd"/>
<path d="M403.9 230.4 348.6 230.3 348.7 175 403.9 175.1 403.9 230.4ZM387.3 188.7 388.9 187.1 389.1 184.7 387.9 183.1 384.7 181.7 381.5 181.8 376.7 183.6 371.9 181.8 368.7 181.7 365.3 183.1 364.6 183.9 364 185.5 364.4 187.1 365.2 187.9 367.9 189 371.9 188.8 376.7 186.9 380.4 188.7 383.1 189.4 385.5 189.3 387.3 188.7Z" fill="#3c4db2" fill-rule="evenodd"/>
<path d="M403.9 230.3 348.7 230.3 348.7 175.1 403.9 175.1 403.9 230.3ZM387.5 190.3 389.5 189.4 391 187.9 391.7 186.3 391.6 184.7 390.9 183.1 389.5 181.5 387.1 180.1 384.7 179.4 371.1 179.2 367.9 179.5 365.5 180.4 363.8 181.5 362.3 183.1 361.6 184.7 361.7 186.3 362.5 187.9 363.9 189.1 366.3 190 370.3 190.1 376.7 188.9 383.1 190.6 385.5 190.7 387.5 190.3Z" fill="#3f59bd" fill-rule="evenodd"/>
<path d="M403.9 230.3 348.7 230.3 348.7 199.2 359.9 192.2 375.9 190.4 389.3 193.5 403.9 198.9 403.9 230.3Z" fill="#4367c5" fill-rule="evenodd"/>
<path d="M394.3 230.3 358.6 230.3 353.8 227.1 350.5 223.1 349 219.1 349 216.7 349.5 214.3 351.2 211.1 353.2 208.7 363.1 201.1 364 199.9 365.5 195.9 366.9 194.3 368.7 193.4 372.7 192.4 375.9 192.2 378.3 192.7 380.2 193.5 382.4 195.1 384.9 198.3 386.6 199.9 394.3 204.2 398.5 207.1 401.6 210.3 403.5 213.5 403.9 214.8 403.9 220.4 402.8 223.1 399.4 227.1 396.7 229.1 394.3 230.3Z" fill="#4876cc" fill-rule="evenodd"/>
<path d="M384.7 230.3 368.5 230.3 366.3 229.7 362.3 228.1 359.1 226.2 356.6 223.9 354.7 220.7 354.1 216.7 354.7 214.3 356 211.9 359.7 207.9 368.7 201.5 369.9 199.9 370.9 196.7 372.7 195.4 374.8 195.1 376.7 195.7 380.2 199.9 392.4 206.3 396.6 210.3 398.9 214.3 399.3 216.7 399.2 219.1 398.3 221.5 396.7 223.9 394.3 226.1 391.9 227.7 388.7 229.1 384.7 230.3Z" fill="#4e8cd4" fill-rule="evenodd"/>
<path d="M381.5 228.7 375.9 229.1 370.3 228.4 364.7 226.5 360.8 223.9 358.4 220.7 357.6 217.5 358.1 214.3 360.6 210.3 363.1 207.9 367.1 205.2 371.9 202.9 375.1 202.1 378.3 202.3 383.1 203.5 387.9 205.5 391.4 207.9 394.3 211.1 395.8 214.3 396.1 217.5 395.2 220.7 393.5 223.1 390.3 225.6 386.3 227.5 381.5 228.7Z" fill="#60a6db" fill-rule="evenodd"/>
<path d="M379.9 227.2 373.5 227.2 367.9 225.7 363.4 223.1 360.9 219.9 360.2 216.7 361.3 212.7 364.6 208.7 368.7 205.9 371.9 204.5 375.1 203.8 378.3 203.7 381.5 204.3 384.7 205.3 388.1 207.1 391 209.5 392.7 211.9 393.6 214.3 393.9 216.7 393.3 219.1 391.9 221.5 389.5 223.8 387.1 225.2 383.9 226.4 379.9 227.2Z" fill="#72c1e1" fill-rule="evenodd"/>
<path d="M381.5 225.5 376.7 226 371.9 225.4 367.8 223.9 364.5 221.5 362.8 219.1 362.3 215.9 363.1 212.7 365.5 209.5 367.9 207.6 371.1 206 374.3 205 377.5 204.8 380.7 205.1 383.9 206 387.1 207.7 389.3 209.5 391.1 211.9 391.9 214.3 392 216.7 391.3 219.1 389.6 221.5 387.6 223.1 384.7 224.6 381.5 225.5Z" fill="#80cee3" fill-rule="evenodd"/>
<path d="M378.3 224.7 373.5 224.4 368.7 222.8 365.9 220.7 364.1 217.5 364.1 214.3 365.6 211.1 369.2 207.9 373.5 206.1 379.1 205.7 383.9 207 387.9 209.6 389.2 211.1 390.4 213.5 390.6 215.9 390.3 217.5 389.5 219.3 387.9 221.1 383.9 223.5 378.3 224.7Z" fill="#8ed9e1" fill-rule="evenodd"/>
<path d="M381.5 223.2 378.3 223.7 374.3 223.5 371.1 222.6 367.9 220.7 366 218.3 365.3 215.9 366 212.7 367.6 210.3 369.6 208.7 371.9 207.5 376.7 206.4 379.9 206.5 382.3 207.1 386.5 209.5 388 211.1 389.2 213.5 389.4 215.9 389 217.5 388.1 219.1 386.3 220.9 383.9 222.3 381.5 223.2Z" fill="#9de0c1" fill-rule="evenodd"/>
<path d="M380.7 222.4 377.5 222.8 374.3 222.5 371.1 221.4 368.7 219.8 367 217.5 366.5 215.1 367.1 212.7 368.9 210.3 372.7 207.9 377.5 207 382.3 207.9 386.2 210.3 388.1 213.5 388.2 215.9 387.7 217.5 386.7 219.1 384.8 220.7 380.7 222.4Z" fill="#aee79e" fill-rule="evenodd"/>
<path d="M379.9 221.6 376.7 221.9 373.5 221.3 370.5 219.9 368.8 218.3 367.9 216.7 367.7 214.3 368.7 211.9 370.1 210.3 373.5 208.4 378.3 207.7 382.5 208.7 385.8 211.1 386.8 212.7 387.3 214.3 387.2 215.9 386.6 217.5 383.9 220.1 379.9 221.6Z" fill="#c6e972" fill-rule="evenodd"/>
<path d="M379.9 220.8 376.7 221 374.3 220.7 371.9 219.7 370.1 218.3 369.1 216.7 368.7 215.1 369.2 212.7 370.4 211.1 373.5 209.1 377.5 208.3 381.5 209 384.8 211.1 386.1 213.5 386.3 215.1 385.9 216.7 383.9 219.1 379.9 220.8Z" fill="#d9e953" fill-rule="evenodd"/>
<path d="M379.9 220 377.5 220.3 375.1 220 372.7 219.1 371.1 218 369.9 215.9 369.7 214.3 370.2 212.7 371.5 211.1 374.3 209.5 377.5 208.9 381 209.5 383.9 211.3 384.9 212.7 385.3 214.3 384.8 216.7 383.1 218.6 379.9 220Z" fill="#e7e744" fill-rule="evenodd"/>
<path d="M379.9 219.2 377.5 219.5 375.1 219.2 372 217.5 370.7 215.1 370.9 213.5 371.8 211.9 374 210.3 376.7 209.6 379.9 209.8 382.5 211.1 384.3 213.5 384.1 215.9 382.3 218.1 379.9 219.2Z" fill="#eed03a" fill-rule="evenodd"/>
<path d="M379.9 218.4 376.7 218.7 373.4 217.5 372.5 216.7 371.7 215.1 372.3 212.7 374 211.1 376.7 210.2 379.1 210.3 381.5 211.3 382.9 212.7 383.4 215.1 382.3 217 379.9 218.4Z" fill="#f1ae35" fill-rule="evenodd"/>
<path d="M379.1 217.7 375.9 217.7 373.9 216.7 372.9 215.1 373 213.5 373.4 212.7 375.1 211.5 376.7 211 379.1 211.1 380.9 211.9 382.2 213.5 382.3 215.1 381.2 216.7 379.1 217.7Z" fill="#ef8e31" fill-rule="evenodd"/>
<path d="M378.3 216.9 376.1 216.7 374.7 215.9 374.1 214.3 374.9 212.7 376.5 211.9 378.3 211.8 379.9 212.4 380.7 213.1 381.1 214.3 380.7 215.6 379.9 216.3 378.3 216.9Z" fill="#eb6e2d" fill-rule="evenodd"/>
<path d="M378.3 215.4 376.2 215.1 375.8 214.3 376.3 213.5 377.5 213.1 379 213.5 379.3 214.3 379 215.1 378.3 215.4Z" fill="#e7522a" fill-rule="evenodd"/>
<path d="M368 175.1 363.1 177.9 360 181.5 359.3 183.1 359.1 185.5 359.6 187.1 360.9 188.7 363.1 190 366.3 190.7 370.3 190.7 376.7 189.7 383.1 191.3 387.1 191.5 390.3 190.6 392.9 188.7 394.1 186.3 394.2 183.9 393.3 181.5 391.1 178.8 388.7 176.9 385.2 175.1M373.4 230.3 366.3 228.8 360.7 226.1 358.3 224.1 356.8 222.3 355.7 219.9 355.3 217.5 356.3 213.5 359.2 209.5 363.1 206.3 370.6 201.5 374.3 198.1 375.1 198.2 379.2 200.7 387.9 204.4 391.9 206.8 396.1 211.1 397.4 213.5 398.1 215.9 398.1 218.3 397.4 220.7 396 223.1 393.5 225.5 387.9 228.5 383.9 229.7 380 230.3M379.9 225.6 375.1 225.7 370.3 224.7 366.3 222.8 363.9 220.4 362.6 217.5 362.7 214.3 364.3 211.1 367.7 207.9 370.3 206.4 373.5 205.3 376.7 204.9 379.9 205.1 383.1 205.9 386.3 207.3 388.7 209.1 390.4 211.1 391.6 213.5 391.9 215.9 391.4 218.3 390.3 220.3 388.7 222 386.3 223.7 383.1 224.9 379.9 225.6M380.7 222.4 377.5 222.8 374.3 222.5 371.1 221.5 368.7 219.9 366.9 217.5 366.5 215.1 367.1 212.7 368.8 210.3 372.7 207.9 377.5 207 382.3 207.8 386.3 210.3 388.2 213.5 388.3 215.9 387.8 217.5 386.8 219.1 384.9 220.7 380.7 222.4M380.7 220 378.3 220.5 375.1 220.2 372.7 219.4 371.1 218.3 369.9 216.7 369.4 215.1 369.6 213.5 370.5 211.9 373.5 209.6 376.7 208.8 379.9 209 383.1 210.4 385.2 212.7 385.6 214.3 385.4 215.9 383.8 218.3 380.7 220M380.7 217.5 377.5 218.3 374.3 217.5 373.2 216.7 372.3 215.1 372.9 212.7 374.3 211.5 376.7 210.6 379.1 210.7 380.7 211.3 382.3 212.7 382.9 214.3 382.5 215.9 380.7 217.5" fill="none" stroke="#1a1a1a" stroke-width="0.7" stroke-opacity="0.85"/>
</g>
<rect x="350.2" y="196.8" width="2.8" height="12.6" rx="1.3" fill="#1d2d57" stroke="#111" stroke-width="1.5"/>
<rect x="400.3" y="196.8" width="2.8" height="12.6" rx="1.3" fill="#1d2c57" stroke="#111" stroke-width="1.5"/>
<path d="M372.4 179.9 L376.6 174.7 L380.8 179.9" fill="none" stroke="#231f20" stroke-width="1.8" stroke-linejoin="round"/>
<circle cx="376.6" cy="203" r="23.7" fill="none" stroke="#111" stroke-width="2.3"/>
<clipPath id="c21"><circle cx="453.7" cy="202.8" r="25.9"/></clipPath>
<circle cx="453.7" cy="202.8" r="29.2" fill="url(#glow)"/>
<g clip-path="url(#c21)">
<rect x="427.8" y="176.9" width="51.8" height="51.8" fill="#343890"/>
<path d="M481 230.2 425.7 230.1 425.8 174.8 481.1 174.9 481 230.2ZM448.1 187.7 449.6 186.9 450.2 186.1 449.9 184.5 449 183.8 447.4 183.3 445.8 183.4 443.8 184.5 443.5 186.1 444.2 187.1 445.8 187.8 448.1 187.7ZM462.1 187.7 463.4 187 463.9 186.1 463.6 184.5 462.6 183.7 460.2 183.3 458.6 183.7 457.5 184.5 457.2 186.1 457.8 186.9 459.4 187.8 462.1 187.7Z" fill="#3943a4" fill-rule="evenodd"/>
<path d="M481 230.1 425.8 230.1 425.8 174.9 481 174.9 481 230.1ZM463.7 189.3 466.1 187.7 466.8 186.1 466.7 184.5 465 182.4 461.8 181.1 458.6 181.1 453.8 182.4 448.2 181 445 181.2 441.8 182.8 440.5 185.3 440.8 186.9 441.8 188.1 445 189.5 448.2 189.4 453.8 188 459.4 189.6 461.8 189.7 463.7 189.3Z" fill="#3c4db2" fill-rule="evenodd"/>
<path d="M481 230.1 425.8 230.1 425.8 174.9 481 174.9 481 230.1ZM464.1 190.9 466.6 190.1 468.6 188.5 469.5 186.9 469.7 184.5 468.7 182.1 467.4 180.7 465 179.1 461.8 177.9 454.6 176.8 446.6 177.6 443.4 178.6 441 179.9 438.7 182.1 437.9 183.7 437.6 185.3 438.3 187.7 439.7 189.3 441.8 190.3 445.8 190.8 453.8 189.7 461 191 464.1 190.9Z" fill="#3f59bd" fill-rule="evenodd"/>
<path d="M473.8 230.1 433.3 230.1 429 227.2 425.8 223.9 425.8 207.1 427.4 207 429.8 208.8 431.4 209.5 433.8 209.1 435.2 207.7 436 206.1 437.1 199.7 437.8 198.8 441.2 196.5 442.4 194.1 445.3 192.5 450.6 191.3 453.8 191 457.2 191.7 461.4 193.3 464.8 196.5 469.8 198.9 470.6 200.5 471.5 206.1 472.4 207.7 473.8 209 475.4 209.4 476.4 209.3 480.2 206.9 481 206.9 481 224.7 477.8 227.7 473.8 230.1Z" fill="#4367c5" fill-rule="evenodd"/>
<path d="M453.8 194.9 451.4 195 450 194.1 450.6 193.3 451.4 193.1 454.7 193.3 455.2 194.1 453.8 194.9ZM458.6 229.3 450.6 229.5 443.4 228.1 437.5 225.3 435.3 223.7 433.1 221.3 431.2 217.3 431.1 215.7 431.5 214.1 435.4 210.3 438.6 205.2 440.2 203.4 445 201.2 451.4 199.9 457 199.9 462.6 201 465.8 202.2 468 203.7 472.2 210.1 475.5 213.3 476.4 215.7 476.1 218.1 474.9 220.5 473 222.9 470 225.3 466.6 227.1 462.6 228.5 458.6 229.3Z" fill="#4876cc" fill-rule="evenodd"/>
<path d="M455.4 226.9 449 226.6 443.4 224.9 438.9 222.1 436.3 218.9 435.4 215.7 435.9 213.3 439.4 207.5 442.6 204.8 446.6 203 451.4 201.9 455.4 201.8 460.2 202.4 463.4 203.5 466.6 205.3 468.2 206.9 470.8 210.9 472 213.3 472.5 215.7 471.5 218.9 469.7 221.3 466.6 223.7 463.4 225.3 459.4 226.4 455.4 226.9Z" fill="#4e8cd4" fill-rule="evenodd"/>
<path d="M458.6 224.7 453.8 225.1 449 224.5 444.3 222.9 440.9 220.5 438.7 217.3 438.3 214.1 439.3 210.9 441.6 207.7 444.2 205.8 447.4 204.3 450.6 203.4 453.8 203 457.8 203.3 461 204.1 464.2 205.5 466.6 207.3 468.6 210.1 469.7 212.5 470 214.9 469.5 217.3 468 219.7 465.8 221.7 462.6 223.5 458.6 224.7Z" fill="#60a6db" fill-rule="evenodd"/>
<path d="M459.4 223 455.4 223.6 450.6 223.4 446.6 222.1 443.8 220.5 441.5 218.1 440.3 214.9 440.8 211.7 442.2 209.3 444.2 207.3 446.6 205.8 449.8 204.6 453 204.1 456.2 204.1 459.4 204.7 462.6 205.9 465 207.5 466.6 209.3 467.9 211.7 468.3 214.1 467.8 216.5 466.4 218.9 464.7 220.5 462.6 221.8 459.4 223Z" fill="#72c1e1" fill-rule="evenodd"/>
<path d="M457.8 222.2 453.8 222.5 449.8 221.9 446.6 220.7 444.2 218.9 442.5 216.5 442 214.1 442.7 210.9 444.6 208.5 446.6 207 449 205.8 454.6 204.8 460.2 205.8 462.6 207 464.5 208.5 465.8 210.1 466.7 212.5 466.8 214.9 466.3 216.5 465.3 218.1 463.4 219.8 461 221.2 457.8 222.2Z" fill="#80cee3" fill-rule="evenodd"/>
<path d="M457 221.4 453 221.5 449.8 220.9 447.2 219.7 445 217.9 443.6 215.7 443.3 213.3 444.1 210.9 446 208.5 448.2 207.1 450.6 206.1 455.4 205.6 460.2 206.7 462.1 207.7 463.9 209.3 465.6 212.5 465.5 214.9 464.9 216.5 463.7 218.1 461.8 219.6 457 221.4Z" fill="#8ed9e1" fill-rule="evenodd"/>
<path d="M456.2 220.6 453 220.7 449.8 219.9 447.4 218.7 445.3 216.5 444.6 214.9 444.6 212.5 445.7 210.1 447.4 208.5 451.4 206.6 456.2 206.3 460.2 207.5 461.9 208.5 463.5 210.1 464.3 211.7 464.6 213.3 464.5 214.9 463.7 216.5 461 219.1 458.6 220.1 456.2 220.6Z" fill="#9de0c1" fill-rule="evenodd"/>
<path d="M457 219.7 453.8 219.9 451.4 219.6 449 218.6 447.2 217.3 446 215.7 445.5 213.3 446.3 210.9 447.6 209.3 451.4 207.3 455.4 206.9 459.4 207.8 462.4 210.1 463.6 212.5 463.6 214.1 463.1 215.7 460.9 218.1 457 219.7Z" fill="#aee79e" fill-rule="evenodd"/>
<path d="M457 219 454.6 219.3 452.2 219 449.8 218.1 448.2 217 446.7 214.9 446.5 213.3 446.8 211.7 447.9 210.1 450.6 208.3 454.6 207.5 458.6 208.2 461.4 210.1 462.7 212.5 462.7 214.1 462.1 215.7 460.2 217.7 457 219Z" fill="#c6e972" fill-rule="evenodd"/>
<path d="M457 218.3 454.6 218.6 452.2 218.3 448.8 216.5 447.7 214.9 447.4 213.3 447.8 211.7 449 210.1 451.4 208.6 454.6 208.1 457.8 208.6 460.4 210.1 461.8 212.5 461.6 214.9 459.4 217.3 457 218.3Z" fill="#d9e953" fill-rule="evenodd"/>
<path d="M457.8 217.3 453.8 217.9 451.5 217.3 450.1 216.5 448.4 214.1 448.4 212.5 449.2 210.9 451.4 209.3 453.8 208.7 457 209 459.3 210.1 460.7 211.7 461 214.1 460.1 215.7 457.8 217.3Z" fill="#e7e744" fill-rule="evenodd"/>
<path d="M457.8 216.5 454.6 217.2 451.4 216.4 450.4 215.7 449.3 214.1 449.7 211.7 451.4 210.1 453.8 209.3 456.2 209.4 458.1 210.1 459.7 211.7 460.2 213.3 459.7 214.9 457.8 216.5Z" fill="#eed03a" fill-rule="evenodd"/>
<path d="M454.6 216.5 453 216.3 451.4 215.5 450.3 214.1 450.3 212.5 451.4 211 453 210.2 456.2 210.1 457.8 210.8 458.7 211.7 459.1 212.5 459 214.1 457.6 215.7 454.6 216.5Z" fill="#f1ae35" fill-rule="evenodd"/>
<path d="M457 215 455.4 215.6 453 215.3 451.5 214.1 451.4 212.5 452.2 211.5 453.4 210.9 456.2 210.9 458 212.5 457.9 214.1 457 215Z" fill="#ef8e31" fill-rule="evenodd"/>
<path d="M456.2 214.1 455.4 214.5 453.8 214.4 452.8 213.3 453 212.5 453.8 211.9 455.4 211.8 456.5 212.5 456.7 213.3 456.2 214.1Z" fill="#eb6e2d" fill-rule="evenodd"/>
<path d="M442.4 174.9 438.2 178.1 435.7 182.1 435.4 184.5 435.5 186.1 436.2 187.7 437.5 189.3 439.4 190.5 442.6 191.2 445.8 191.2 453.8 190.1 463.4 191.7 466.6 191.2 469 190.1 471.2 187.7 472 185.3 471.9 182.9 470.4 179.7 468.2 177.1 465 174.9M433.8 206.9 434.6 205.3 434.4 203.7 433.7 202.9 432.2 202.8 431.1 204.5 431.2 206.1 432.2 207.2 433.8 206.9M475.6 206.9 476.4 205.3 476 203.7 475.3 202.9 473.8 202.9 472.9 204.5 473.2 206.1 473.8 206.9 474.6 207.2 475.6 206.9M454.6 226.9 448.2 226.3 442.7 224.5 438.6 221.7 436 218.1 435.5 215.7 435.7 214.1 438.6 208.7 441 205.9 445.8 203.3 449.8 202.2 454.6 201.8 458.6 202.2 462.6 203.2 465.8 204.8 467.5 206.1 469.3 208.5 472 213.3 472.4 215.7 471.8 218.1 470.3 220.5 468.2 222.6 465 224.5 461.8 225.8 458.6 226.5 454.6 226.9M459.4 222.1 455.4 222.8 451.4 222.6 447.4 221.4 444.5 219.7 442.4 217.3 441.6 214.9 442 211.7 443.4 209.3 445.1 207.7 447.4 206.3 450.6 205.1 453 204.7 458.6 205.1 461.8 206.3 464 207.7 465.6 209.3 466.9 211.7 467.2 214.1 467 215.7 465.8 218 464.2 219.6 461.8 221.2 459.4 222.1M458.6 219.8 455.4 220.4 452.2 220.2 449.8 219.5 447.4 218.2 445.8 216.5 444.9 214.1 445.3 211.7 446.2 210.1 449.3 207.7 453.8 206.5 458.6 207.1 461.8 208.9 463.9 211.7 464.2 213.3 464 214.9 463.3 216.5 461.8 218.1 458.6 219.8M457 218.2 453 218.4 450.6 217.6 449 216.5 447.8 214.9 447.5 213.3 447.9 211.7 449.1 210.1 451.4 208.7 454.6 208.1 457.8 208.6 460.3 210.1 461.7 212.5 461.5 214.9 459.4 217.2 457 218.2M455.4 216.6 453 216.4 450.6 214.9 450.2 214.1 450.1 212.5 451.4 210.8 453 210 455.4 209.8 457.8 210.6 458.9 211.7 459.4 213.3 458.8 214.9 457 216.2 455.4 216.6" fill="none" stroke="#1a1a1a" stroke-width="0.7" stroke-opacity="0.85"/>
</g>
<rect x="427.2" y="196.6" width="2.8" height="12.6" rx="1.3" fill="#1c2955" stroke="#111" stroke-width="1.5"/>
<rect x="477.4" y="196.6" width="2.8" height="12.6" rx="1.3" fill="#1c2955" stroke="#111" stroke-width="1.5"/>
<path d="M449.5 179.7 L453.7 174.5 L457.9 179.7" fill="none" stroke="#231f20" stroke-width="1.8" stroke-linejoin="round"/>
<circle cx="453.7" cy="202.8" r="23.7" fill="none" stroke="#111" stroke-width="2.3"/>
<clipPath id="c22"><circle cx="531.6" cy="201.8" r="25.9"/></clipPath>
<circle cx="531.6" cy="201.8" r="29.2" fill="url(#glow)"/>
<g clip-path="url(#c22)">
<rect x="505.7" y="175.9" width="51.8" height="51.8" fill="#3841a2"/>
<path d="M558.9 229.2 503.6 229.1 503.7 173.9 558.9 173.9 558.9 229.2ZM539.7 185.9 541.7 184.3 542.1 182.7 541.4 181.1 540.5 180.4 538.1 179.5 525.3 179.4 522.1 180.9 521.1 182.7 521.3 184 522.1 185.1 525.3 186.3 531.7 186 537.3 186.4 539.7 185.9Z" fill="#3c4db2" fill-rule="evenodd"/>
<path d="M558.9 229.1 503.7 229.1 503.7 173.9 558.9 173.9 558.9 229.1ZM540.8 188.3 542.9 187.4 544.8 185.9 545.7 184.3 546 181.9 545.3 180.1 543.7 178.2 541.3 176.7 538.9 175.8 531.7 174.9 524.5 175.8 522.1 176.6 519.7 178.1 518.3 179.5 517.4 181.1 517.2 183.5 517.9 185.1 519.7 187 522.1 188.2 526.9 188.9 537.3 188.9 540.8 188.3Z" fill="#3f59bd" fill-rule="evenodd"/>
<path d="M552.5 229.1 510.1 229.1 509.3 228.7 503.7 224.6 503.7 200.4 507.7 197.5 511.7 195.7 516.5 194.5 522.1 194 533.3 193.7 544.5 194.2 550.1 195.2 555.7 197.6 558.9 199.9 558.9 225.1 554.9 228.1 552.5 229.1Z" fill="#4367c5" fill-rule="evenodd"/>
<path d="M535.7 226 529.3 226.2 523.7 225.3 518.1 223.2 513.9 220.3 511.3 217.1 510 213.1 510.5 209.1 513 205.1 515.7 202.8 518.9 201 522.1 199.8 526.1 199.1 527.7 199.2 530.6 201.1 531.7 201.3 532.8 201.1 535.7 199.3 539.7 199.6 544.5 201.3 549.1 204.3 551.7 207.5 553 210.7 552.9 214.7 551.4 217.9 548.5 221 545.3 223.1 541.3 224.8 535.7 226Z" fill="#4876cc" fill-rule="evenodd"/>
<path d="M537.3 222.7 532.5 223.3 527.7 223 522.9 221.7 518.7 219.5 515.6 216.3 514.2 213.1 514.3 209.9 515.8 206.7 518.1 204.5 520.5 203 523.7 201.7 526.1 201.3 531.7 202.5 535.7 201.6 538.1 201.7 541.3 202.8 544.5 204.7 547.3 207.5 548.5 209.9 548.9 212.3 548.1 215.5 546.5 217.9 543.7 220.2 540.5 221.8 537.3 222.7Z" fill="#4e8cd4" fill-rule="evenodd"/>
<path d="M534.9 221.1 530.9 221.2 526.9 220.7 522.9 219.3 519.7 217.2 517.5 214.7 516.6 212.3 516.8 209.1 518.1 206.7 519.9 205.1 522.1 203.8 524.5 202.9 526.9 202.5 531.7 203.1 537.3 202.9 540.5 204.1 543.3 205.9 545.4 208.3 546.3 210.7 546.3 213.1 545.4 215.5 543.7 217.5 541.3 219.2 538.1 220.5 534.9 221.1Z" fill="#60a6db" fill-rule="evenodd"/>
<path d="M535.7 219.7 531.7 219.9 527.7 219.3 524.5 218.2 521.3 216.4 519.6 214.7 518.3 212.3 518.1 209.9 519.2 207.5 522.1 204.9 524.5 203.8 526.9 203.3 536.5 203.7 538.9 204.4 541.4 205.9 543.1 207.5 544.5 209.9 544.8 211.5 544.4 213.9 543.5 215.5 541.3 217.6 538.9 218.8 535.7 219.7Z" fill="#72c1e1" fill-rule="evenodd"/>
<path d="M534.9 218.7 531.7 218.8 528.5 218.3 525.3 217.3 522.1 215.4 520.5 213.8 519.4 211.5 519.6 209.1 520.4 207.5 523.7 205 527.7 204 536.5 204.4 540.5 206.3 542.5 208.3 543.3 209.9 543.6 212.3 543.1 213.9 542 215.5 539.7 217.3 537.3 218.3 534.9 218.7Z" fill="#80cee3" fill-rule="evenodd"/>
<path d="M534.9 217.9 531.7 218 528.5 217.5 525.3 216.3 522.9 214.9 521.2 213.1 520.5 211.5 520.6 209.1 521.5 207.5 524.5 205.4 528.5 204.5 535.7 204.8 539.9 206.7 541.5 208.3 542.4 209.9 542.7 211.5 542.4 213.1 541.5 214.7 539.7 216.3 537.3 217.5 534.9 217.9Z" fill="#8ed9e1" fill-rule="evenodd"/>
<path d="M535.7 217.2 533.3 217.4 530.1 217.1 526.9 216.2 524.5 215 522.3 213.1 521.4 211.5 521.3 209.9 521.9 208.3 524.5 206 528.5 204.9 534.9 205.2 538.8 206.7 540.6 208.3 541.6 209.9 541.9 211.5 541.6 213.1 539.6 215.5 535.7 217.2Z" fill="#9de0c1" fill-rule="evenodd"/>
<path d="M536.5 216.4 534.1 216.8 530.9 216.7 527.7 215.9 525.3 214.7 523.2 213.1 522.3 211.5 522.1 209.9 522.7 208.3 525.3 206.2 528.5 205.4 534.1 205.5 538.1 206.9 540.4 209.1 541.1 210.7 541 212.3 539.6 214.7 536.5 216.4Z" fill="#aee79e" fill-rule="evenodd"/>
<path d="M533.3 216.3 528.5 215.5 524.5 213.4 523.5 212.3 522.9 210.7 523.5 208.3 526.1 206.4 529.3 205.7 534.9 206.1 538.1 207.5 540.2 209.9 540.5 211.5 540 213.1 538.9 214.5 537.3 215.5 533.3 216.3Z" fill="#c6e972" fill-rule="evenodd"/>
<path d="M535.7 215.5 531.7 215.8 526.9 214.4 524.3 212.3 523.6 210.7 523.8 209.1 525.3 207.4 528.5 206.2 533.3 206.2 536.5 207.1 539.1 209.1 539.8 211.5 538.7 213.9 535.7 215.5Z" fill="#d9e953" fill-rule="evenodd"/>
<path d="M536.5 214.7 532.5 215.4 527.7 214.2 525.9 213.1 524.5 211.5 524.3 209.9 524.5 209.1 526.1 207.5 529.3 206.5 533.3 206.5 536.4 207.5 538.4 209.1 539.2 211.5 538.6 213.1 536.5 214.7Z" fill="#e7e744" fill-rule="evenodd"/>
<path d="M534.9 214.8 530.9 214.8 526.9 213.2 525.2 211.5 524.9 209.9 525.2 209.1 527.1 207.5 530.1 206.8 534.1 207 536.5 208 538.3 209.9 538.6 211.5 538.1 212.9 537.3 213.7 534.9 214.8Z" fill="#eed03a" fill-rule="evenodd"/>
<path d="M535.7 214.1 532.5 214.5 528.5 213.6 525.9 211.5 525.6 209.9 525.9 209.1 527.7 207.7 530.1 207.1 533.3 207.3 535.7 208.1 537.7 209.9 538 211.5 537.2 213.1 535.7 214.1Z" fill="#f1ae35" fill-rule="evenodd"/>
<path d="M534.1 214 530.9 213.9 527.7 212.6 526.3 210.7 526.7 209.1 528.5 207.9 530.9 207.4 533.3 207.6 535.7 208.6 537.1 209.9 537.4 211.5 536.4 213.1 534.1 214Z" fill="#ef8e31" fill-rule="evenodd"/>
<path d="M534.9 213.3 532.5 213.7 529.7 213.1 527.4 211.5 527 209.9 527.7 208.9 529.3 208.1 531.7 207.8 534.2 208.3 535.7 209.1 536.8 210.7 536.4 212.3 534.9 213.3Z" fill="#eb6e2d" fill-rule="evenodd"/>
<path d="M533.3 213.2 531.3 213.1 529.1 212.3 528.2 211.5 527.8 209.9 528.5 209 530.9 208.2 532.6 208.3 534.9 209.1 535.7 209.9 536.1 211.5 534.9 212.8 533.3 213.2Z" fill="#e7522a" fill-rule="evenodd"/>
<path d="M534.1 212.5 532.5 212.7 530.3 212.3 529.1 211.5 528.6 210.7 528.7 209.9 529.6 209.1 530.9 208.8 533.7 209.1 534.9 209.9 535.4 210.7 535.3 211.5 534.1 212.5Z" fill="#e04629" fill-rule="evenodd"/>
<path d="M534.1 211.6 532.5 212.1 530.9 211.8 529.6 210.7 529.8 209.9 531.7 209.3 533.3 209.6 534.4 210.7 534.1 211.6Z" fill="#da3928" fill-rule="evenodd"/>
<path d="M532.5 210.9 531.4 210.7 532.5 210.6 532.5 210.9Z" fill="#d03027" fill-rule="evenodd"/>
<path d="M537.3 228.4 530.1 228.8 522.9 227.8 516.5 225.6 511.7 222.7 508 218.7 506.8 216.3 506.2 213.9 506.1 211.5 506.6 209.1 508.8 205.1 511.7 202.2 515.7 199.7 521.3 197.7 526.1 196.8 531.7 197.2 536.5 196.8 540.5 197.4 546.1 199.1 551.7 202.4 555 205.9 556.8 209.9 557 213.9 555.7 217.9 552.5 221.8 548.5 224.7 542.9 227.1 537.3 228.4M534.1 220.4 530.9 220.4 526.9 219.7 522.9 218.2 520.2 216.3 518.2 213.9 517.5 211.5 517.7 209.1 519.1 206.7 522.9 204.1 526.9 203 531.7 203.5 537.3 203.5 540.5 204.8 542.9 206.5 544.4 208.3 545.3 210.7 545.3 213.1 544.3 215.5 542.1 217.7 539.7 219.1 534.1 220.4M536.5 217.2 534.1 217.6 530.9 217.5 527.7 216.7 524.5 215.3 522.6 213.9 521.4 212.3 521 209.9 521.6 208.3 524.3 205.9 527.7 204.8 534.9 205 538.9 206.5 541.5 209.1 542 210.7 542 212.3 541.4 213.9 540 215.5 536.5 217.2M535.7 215.6 531.7 215.9 526.9 214.5 524.1 212.3 523.4 210.7 523.6 209.1 525.3 207.3 528.5 206.1 534.1 206.2 537.3 207.4 538.5 208.3 539.7 209.9 539.8 212.3 538.1 214.6 535.7 215.6M535.7 214.1 531.7 214.5 527.7 213.2 525.8 211.5 525.5 209.9 525.9 209.1 527.7 207.7 530.1 207.1 533.3 207.2 535.7 208 537.8 209.9 538.1 211.5 537.3 213.1 535.7 214.1M534.1 213.1 531.7 213.2 529.3 212.4 528.2 211.5 527.8 209.9 528.5 209 530.9 208.2 532.6 208.3 534.9 209.1 535.8 209.9 536.1 211.5 535.6 212.3 534.1 213.1" fill="none" stroke="#1a1a1a" stroke-width="0.7" stroke-opacity="0.85"/>
</g>
<rect x="505.2" y="195.6" width="2.8" height="12.6" rx="1.3" fill="#1d2c57" stroke="#111" stroke-width="1.5"/>
<rect x="555.2" y="195.6" width="2.8" height="12.6" rx="1.3" fill="#1d2c57" stroke="#111" stroke-width="1.5"/>
<path d="M527.4 178.7 L531.6 173.5 L535.8 178.7" fill="none" stroke="#231f20" stroke-width="1.8" stroke-linejoin="round"/>
<circle cx="531.6" cy="201.8" r="23.7" fill="none" stroke="#111" stroke-width="2.3"/>
<clipPath id="c23"><circle cx="608.8" cy="201.5" r="25.9"/></clipPath>
<circle cx="608.8" cy="201.5" r="29.2" fill="url(#glow)"/>
<g clip-path="url(#c23)">
<rect x="582.9" y="175.6" width="51.8" height="51.8" fill="#3943a4"/>
<path d="M636.1 228.9 580.8 228.8 580.9 173.5 636.2 173.6 636.1 228.9ZM603.3 184.8 604.1 184 604.2 183.2 603.8 182.4 601.7 181.7 599.9 182.4 599.5 183.2 599.6 184 600.4 184.8 601.7 185.1 603.3 184.8ZM617.2 184.8 618 184 617.7 182.4 615.3 181.7 613.7 182.5 613.5 184 614.3 184.8 616.1 185.1 617.2 184.8Z" fill="#3c4db2" fill-rule="evenodd"/>
<path d="M636.1 228.9 580.8 228.8 580.9 173.5 636.2 173.6 636.1 228.9ZM604.6 185.6 605.7 184.8 606.4 183.2 605.4 181.6 604.1 180.8 600.9 180.5 599.3 181.2 598.2 182.4 598 184 599.3 185.6 601.7 186.3 604.6 185.6ZM618.3 185.6 619.2 184.8 619.6 183.2 618.8 181.6 617.7 180.8 614.5 180.5 612.9 181.1 611.5 182.4 611.4 184 613 185.6 616.1 186.3 618.3 185.6Z" fill="#3f59bd" fill-rule="evenodd"/>
<path d="M636.1 228.9 580.8 228.8 580.9 173.5 636.2 173.6 636.1 228.9ZM618.9 186.4 620.5 184.8 620.7 182.4 619.3 180.5 616.1 179.3 612.9 179.7 608.9 181.3 604.1 179.5 600.9 179.4 597.9 180.8 596.7 183.2 597.7 185.6 599.3 186.7 600.9 187.1 604.1 186.9 608.9 185.2 614.5 187.1 616.9 187.1 618.9 186.4Z" fill="#4367c5" fill-rule="evenodd"/>
<path d="M636.1 228.9 580.8 228.8 580.9 173.5 636.2 173.6 636.1 228.9ZM616.9 188 619.3 187.3 620.6 186.4 621.8 184.8 622.2 183.2 621.8 181.6 620.6 180 619.3 179 616.9 178.1 613.7 178 608.9 178.9 604.1 178 600.9 178.1 597.7 179.4 596.3 180.8 595.5 182.4 595.5 184 596.2 185.6 597.7 186.9 599.3 187.7 601.7 188.1 608.9 187.6 616.9 188Z" fill="#4876cc" fill-rule="evenodd"/>
<path d="M636.1 228.8 580.9 228.8 580.9 173.6 636.1 173.6 636.1 228.8ZM609.8 196 610.5 194.4 610.7 191.2 611.3 190.1 612.9 189.4 619.3 188.5 622.4 186.4 623.4 184.8 623.8 183.2 623.6 181.6 622.8 180 621.3 178.4 619.3 177.1 616.9 176.2 613.7 175.7 603.3 175.8 600.1 176.4 596.9 177.9 595.3 179.3 594 181.6 593.9 184 594.6 185.6 596.1 187.3 598.5 188.5 605.7 189.7 606.9 191.2 607.4 195.2 608.1 196.2 608.9 196.5 609.8 196Z" fill="#4e8cd4" fill-rule="evenodd"/>
<path d="M636.1 228.8 580.9 228.8 580.9 173.6 596.4 173.6 593.7 175.7 591.8 178.4 590.9 181.6 591.6 184.8 593.3 187.2 596.1 189.1 604.1 191.2 604.9 192.3 606.5 196.5 607.5 197.6 608.9 198.2 610.5 197.7 611.3 196.8 612.9 192 613.6 191.2 621.7 189 624.3 187.2 626 184.8 626.6 182.4 626.2 179.2 624.1 176 621.2 173.6 636.1 173.6 636.1 228.8ZM593.8 215.2 593.5 214.4 592.9 214.2 592.3 215.2 592.9 215.7 593.8 215.2Z" fill="#60a6db" fill-rule="evenodd"/>
<path d="M621.7 228.8 595.3 228.8 587.3 225.9 580.9 222 580.9 193.7 584.1 192.4 588.1 191.7 600.9 192.7 603.3 194 606.9 198.4 608.1 199.2 609.7 199.4 611.7 198.4 614.5 194.1 616.6 192.8 628.9 191.7 632.9 192.2 636.1 193.4 636.1 222.4 628.9 226.6 624.1 228.3 621.7 228.8ZM593.4 217.6 594.5 217.1 595.2 216 595.2 214.4 593.7 212.9 592.1 212.8 590.8 213.6 590.4 214.4 590.5 216 591.3 217.2 593.4 217.6Z" fill="#72c1e1" fill-rule="evenodd"/>
<path d="M612.1 219.2 606.5 219.4 600.1 217.7 598.4 216.8 595.3 212.6 593.7 211.7 590 210.4 588.6 208 588.3 204.8 588.9 202.4 590.5 200 592.3 198.4 594.5 197.1 596.9 196.3 600.1 195.8 602.5 196.2 606.6 199.2 608.9 200.3 611.3 200 615.3 197.3 617.7 196.8 623.3 197.8 625.7 198.8 628.1 200.6 630 203.2 630.5 205.6 629.9 208.8 628.3 211.2 624.9 214 620.9 216.2 616.1 218.3 612.1 219.2Z" fill="#80cee3" fill-rule="evenodd"/>
<path d="M612.9 216.2 608.9 216.8 604.9 216.2 599.3 213.8 594.1 210.4 592.3 208.8 591.2 206.4 591.2 204 592.2 201.6 593.7 200 596.1 198.5 598.5 197.7 600.9 197.5 603.3 198 608.9 201.2 611.3 201 615.3 199.2 618.5 198.8 622.5 199.6 625.7 201.4 627.2 203.2 627.8 204.8 627.7 207.2 626.5 209.2 623.3 211.7 612.9 216.2Z" fill="#8ed9e1" fill-rule="evenodd"/>
<path d="M611.3 215.3 608.1 215.5 604.9 214.9 599.3 212.3 595.3 209.8 593.5 208 592.6 205.6 592.9 203.2 593.9 201.6 596.9 199.4 600.9 198.5 603.3 199 608.1 201.6 609.7 202 611.3 201.9 616.1 200.2 618.5 200 621.7 200.6 624.9 202.4 626 204 626.3 205.6 626 207.2 624.9 208.9 621.7 211 615.3 214 611.3 215.3Z" fill="#9de0c1" fill-rule="evenodd"/>
<path d="M610.5 214.5 608.1 214.6 604.9 213.9 600.1 211.7 596.1 209.3 594.8 208 593.9 206.4 593.8 204 594.5 202.4 596.9 200.3 600.9 199.3 603.3 199.7 608.1 202.3 609.7 202.7 612.1 202.5 616.1 201.1 618.5 200.9 621.7 201.5 624.2 203.2 625.1 204.8 625.1 206.4 623.5 208.8 615.3 213 610.5 214.5Z" fill="#aee79e" fill-rule="evenodd"/>
<path d="M611.3 213.6 608.9 213.9 605.7 213.4 597.7 209.5 595.9 208 594.9 206.4 594.7 204 595.5 202.4 598.5 200.4 601.7 200.1 604.1 200.7 608.1 202.9 609.7 203.4 611.3 203.4 616.1 201.8 618.5 201.6 620.9 202 623.3 203.6 624 204.8 624 206.4 622.5 208.5 615.3 212.2 611.3 213.6Z" fill="#c6e972" fill-rule="evenodd"/>
<path d="M611.3 213 608.1 213.2 605.7 212.8 598.5 209.3 596.9 208 595.7 206.4 595.4 204.8 595.9 203.2 596.9 202.1 598.5 201.1 601.7 200.6 604.1 201.3 609.7 204 611.4 204 616.1 202.5 618.5 202.3 620.9 202.8 622.5 204 623 204.8 623 206.4 621.9 208 615.3 211.5 611.3 213Z" fill="#d9e953" fill-rule="evenodd"/>
<path d="M612.1 212.2 608.9 212.7 606.5 212.4 600.1 209.6 597.8 208 596.5 206.4 596.2 204.8 596.8 203.2 598.9 201.6 601.7 201.2 604.1 201.8 608.1 204.1 609.7 204.6 612.1 204.5 617.7 203 620.1 203.3 621.7 204.4 622.2 205.6 622 206.4 620.7 208 612.1 212.2Z" fill="#e7e744" fill-rule="evenodd"/>
<path d="M609.7 212.1 607.3 212 604.9 211.4 598.7 208 597 205.6 597.1 204 597.6 203.2 599.3 202.1 601.7 201.8 604.1 202.4 609.7 205.2 612.1 205.2 617.7 203.7 619.7 204 620.8 204.8 621 206.4 619.3 208 613.1 211.2 609.7 212.1Z" fill="#eed03a" fill-rule="evenodd"/>
<path d="M610.5 211.4 606.5 211.3 600.9 208.8 598.1 206.4 597.7 204.8 597.9 204 599.3 202.8 601.7 202.3 604.1 203 609.7 205.8 612.1 205.8 617.7 204.5 619.1 204.8 619.8 205.6 619.3 206.9 617.8 208 613.4 210.4 610.5 211.4Z" fill="#f1ae35" fill-rule="evenodd"/>
<path d="M611.3 210.5 607.3 210.8 602.5 209.1 598.9 206.4 598.5 204.8 598.9 204 600.1 203.1 602.5 203 609.7 206.4 612.1 206.6 616.9 205.8 617.7 206.4 614.7 208.8 611.3 210.5Z" fill="#ef8e31" fill-rule="evenodd"/>
<path d="M610.5 209.8 607.3 210.2 604.1 209.2 600.6 207.2 599.4 205.6 599.5 204.8 600.1 204 600.9 203.6 602.5 203.6 608.9 207 612.4 208 612.3 208.8 610.5 209.8Z" fill="#eb6e2d" fill-rule="evenodd"/>
<path d="M608.1 209.1 605.7 209 603.1 208 600.9 206.4 600.6 205.6 600.8 204.8 602.5 204.4 604.1 205 608.5 208 608.8 208.8 608.1 209.1Z" fill="#e7522a" fill-rule="evenodd"/>
<path d="M603.3 206.5 603.6 206.4 603.3 206.5Z" fill="#e04629" fill-rule="evenodd"/>
<path d="M617.7 187.2 620.4 185.6 621.2 183.2 620.1 180.7 618.5 179.6 616.9 179.1 613.7 179 608.9 180.5 604.1 179.1 600.9 179 598.4 180 597.4 180.8 596.5 182.4 596.4 184 597.2 185.6 600.1 187.2 603.3 187.4 608.9 186 614.5 187.4 617.7 187.2M595.2 173.6 592.5 176 590.8 179.2 590.5 182.4 591.6 185.6 593.7 187.9 596.1 189.4 598.5 190.2 602.5 190.8 604.1 191.5 606.6 196.8 607.3 197.6 608.9 198.4 610.5 197.9 611.3 197 612.9 192.4 613.7 191.4 621.7 189.3 624.1 187.7 626 185.6 627.1 182.4 626.8 179.2 625.1 176 622.4 173.6M594 215.2 593.7 214.3 592.9 214 592.2 214.4 592 215.2 592.9 216 594 215.2M610.5 216.9 606.5 216.8 602.5 215.6 598.5 213.5 592.7 209.6 591.5 208 590.8 205.6 591.1 203.2 592.6 200.8 596.1 198.3 600.9 197.3 603.3 197.9 608.9 201.1 611.3 200.9 615.3 199.1 618.5 198.7 622.5 199.4 626.2 201.6 627.5 203.2 628.1 205.6 627.6 208 626.5 209.6 624.1 211.5 616.9 214.9 612.9 216.4 610.5 216.9M612.1 213.7 608.9 214.1 605.7 213.7 602.5 212.4 597.4 209.6 595.5 208 594.6 206.4 594.4 204 595.2 202.4 597.7 200.5 600.9 199.8 604.1 200.5 608.1 202.7 609.7 203.2 611.3 203.1 616.1 201.6 618.5 201.4 620.9 201.8 623.4 203.2 624.5 205.6 624 207.2 623.3 208.1 620.9 209.8 612.1 213.7M611.3 212.1 608.1 212.4 605.7 211.9 599.3 208.8 596.9 206.4 596.5 204.8 597.1 203.2 599.3 201.7 601.7 201.4 604.1 202.1 608.1 204.4 609.7 204.9 612.1 204.8 617.7 203.3 620.1 203.7 621.5 204.8 621.6 206.4 620.1 208 614.5 210.9 611.3 212.1M610.5 210.5 606.5 210.6 602.2 208.8 599.1 206.4 598.7 204.8 599.1 204 600.4 203.2 602.5 203.1 609.7 206.6 612.1 206.9 616.4 206.4 616.3 207.2 614.2 208.8 610.5 210.5" fill="none" stroke="#1a1a1a" stroke-width="0.7" stroke-opacity="0.85"/>
</g>
<rect x="582.4" y="195.3" width="2.8" height="12.6" rx="1.3" fill="#325565" stroke="#111" stroke-width="1.5"/>
<rect x="632.4" y="195.3" width="2.8" height="12.6" rx="1.3" fill="#325565" stroke="#111" stroke-width="1.5"/>
<path d="M604.6 178.4 L608.8 173.2 L613 178.4" fill="none" stroke="#231f20" stroke-width="1.8" stroke-linejoin="round"/>
<circle cx="608.8" cy="201.5" r="23.7" fill="none" stroke="#111" stroke-width="2.3"/>
<clipPath id="c24"><circle cx="82" cy="272.5" r="25.9"/></clipPath>
<circle cx="82" cy="272.5" r="29.2" fill="url(#glow)"/>
<g clip-path="url(#c24)">
<rect x="56.1" y="246.6" width="51.8" height="51.8" fill="#3840a0"/>
<path d="M109.3 299.9 54 299.8 54.1 244.5 109.4 244.6 109.3 299.9ZM74.9 256.6 76.9 255.8 77.8 255 78.1 253.4 77.6 252.6 76.2 251.8 74.1 251.5 72.5 251.8 71.1 252.6 70.3 254.2 70.9 255.6 72.5 256.5 74.9 256.6ZM91.1 256.6 92.9 255.8 93.5 255 93.5 253.4 92.9 252.6 91.4 251.8 89.3 251.5 87.7 251.8 86.4 252.6 85.8 254.2 86.9 255.6 89.1 256.6 91.1 256.6Z" fill="#3c4db2" fill-rule="evenodd"/>
<path d="M109.3 299.9 54 299.8 54.1 244.5 109.4 244.6 109.3 299.9ZM92.8 257.4 95 255.8 95.4 255 95.4 253.4 94.4 251.8 93.3 251 90.1 249.9 86.1 250.2 82.1 251.9 77.3 250.1 74.1 249.9 70.7 251 69.3 252.1 68.6 253.4 68.6 255 69.3 256.1 70.9 257.3 72.5 257.8 76.5 257.4 82.1 254.3 87.7 257.5 90.1 257.9 92.8 257.4Z" fill="#3f59bd" fill-rule="evenodd"/>
<path d="M109.3 299.8 54.1 299.8 54.1 244.6 109.3 244.6 109.3 299.8ZM91.1 259 94.1 258.3 96.5 256.6 97.3 255 97.2 252.6 96.2 251 94.1 249.3 91.7 248.1 86.9 246.7 80.5 246.1 74.1 247.5 69.3 249.7 67.2 251.8 66.6 253.4 66.7 255 67.5 256.6 69.3 258 71.7 258.9 75.7 258.8 82.1 256.8 87.7 258.6 91.1 259Z" fill="#4367c5" fill-rule="evenodd"/>
<path d="M109.3 299.8 54.1 299.8 54.1 244.6 67.8 244.6 65.4 247 63.9 249.4 63 252.6 63.3 255 64.6 257.4 66.9 259.3 69.3 260.4 72.5 260.8 82.1 258.5 90.9 260.8 93.3 260.7 95.7 260 97.6 259 99.4 257.4 100.4 255.8 101 253.4 100.7 251 99.7 248.7 98.1 246.4 96.2 244.6 109.3 244.6 109.3 299.8Z" fill="#4876cc" fill-rule="evenodd"/>
<path d="M103.7 299.8 59 299.8 54.1 298.6 54.1 270.8 60.5 269 70.1 267.5 71.7 266.6 75.4 263 77.5 261.4 79.7 260.4 82.1 260 84.5 260.5 86.5 261.4 88.6 263 92.5 266.9 94.1 267.9 104.5 269.6 109.3 270.9 109.3 298.7 103.7 299.8Z" fill="#4e8cd4" fill-rule="evenodd"/>
<path d="M93.3 297.4 82.9 298 70.9 297.7 63.7 296.8 58.5 295 56 293.4 54.1 291.5 54.1 277.8 57.3 275.4 61.3 273.5 72.5 271.2 74.1 269.9 76.7 264.6 78.9 262.3 81.3 261.4 84.5 261.9 86.7 263.8 89.9 270.2 91.7 272.1 94.1 272.9 99.7 273.6 102.9 274.4 106.1 275.8 109.3 278 109.2 291.8 106.9 293.9 103.7 295.5 98.9 296.8 93.3 297.4ZM86.3 288.6 87.2 287.8 87.4 286.2 86.9 285.3 85.3 284.6 84 285.4 83.5 287 84.5 288.6 86.3 288.6Z" fill="#60a6db" fill-rule="evenodd"/>
<path d="M89.3 295.8 81.3 296.2 71.7 295.9 66.1 295.3 62.6 294.2 58.9 291.8 55.8 287.8 54.8 284.6 55.4 281.4 58.1 277.8 62.1 275.4 66.1 274.3 72.5 273.8 74.1 273.2 75.7 271.2 77.4 266.2 78.9 263.8 81.3 262.5 83.7 262.8 85.1 263.8 86.3 265.4 88.5 272 90.1 274.3 92.5 275.4 98.9 275.7 102.9 276.8 105.3 278.2 106.9 279.8 108.5 283 108.6 285.4 107.8 287.8 106.1 290.3 103.6 292.6 98.9 294.6 89.3 295.8ZM87.5 289.4 88.1 288.6 88.5 287 87.7 284.6 86.1 283.7 84.5 283.9 83.7 284.4 82.6 286.2 82.9 288.7 83.7 289.5 85.3 290.1 87.5 289.4Z" fill="#72c1e1" fill-rule="evenodd"/>
<path d="M83.7 294.3 70.9 294.2 64.5 293 61.3 291.3 59.3 289.4 57.7 287 57.1 284.6 57.4 282.2 58.1 280.6 59.7 278.7 62.1 277 66.1 275.8 73.3 275.6 75 275 76.5 272.8 78.9 265.4 80.5 263.8 82.1 263.5 83.7 263.9 85.1 265.4 87.7 273.9 89.3 276.7 91.7 277.5 98.1 277.2 101.3 277.8 103.5 279 105.1 280.6 106.4 283.8 106.4 285.4 105.4 287.8 103.7 289.9 101.3 291.6 97.3 292.8 83.7 294.3ZM86.9 291.8 88.5 291 89.3 289.9 89.7 288.6 89.5 286.2 88.9 284.6 87.7 283.1 85.3 282.6 83.7 283.3 82.3 284.6 81.6 286.2 81.5 288.6 82.3 290.2 83.7 291.4 85.3 291.9 86.9 291.8Z" fill="#80cee3" fill-rule="evenodd"/>
<path d="M74.9 291.8 68.5 292.3 63.7 290.9 61.3 289.2 59.5 287 58.8 284.6 58.8 283 59.4 281.4 60.5 279.8 63.7 277.6 66.9 276.9 74.1 277.3 76 276.6 77.3 274 79.5 266.2 81.3 264.6 82.9 264.6 84.5 266.2 87.1 277.4 88.5 280.1 90.1 280.1 96.5 278.6 99.7 278.8 102.9 280.4 104.6 283 104.8 284.6 104.4 286.2 102.9 288.5 99.7 290.4 96.5 290.8 94.1 290.3 92.5 289.4 91.3 287.8 90 283.8 88.5 281 86.1 281.1 83.7 282 81.7 283.8 78.9 290.2 77.8 291 74.9 291.8Z" fill="#8ed9e1" fill-rule="evenodd"/>
<path d="M71.7 290.3 69.3 290.7 66.9 290.6 62.9 288.9 61.3 287.3 60.3 285.4 60.2 283.8 60.5 282.2 61.5 280.6 62.9 279.3 66.1 278.1 69.3 278 75.7 279.2 77.3 278.8 78 277.4 78.4 273.4 80.2 267 81.3 265.8 82.9 265.9 84.1 267.8 85.5 273.4 85.6 275.8 85.1 278.2 84 279.8 81 282.2 77.7 287 74.9 288.9 71.7 290.3ZM99.7 288.8 96.5 289 93.9 287.8 92.6 286.2 92 284.6 92 283 92.4 282.2 94.7 280.6 97.3 279.9 99.7 280.1 102 281.4 103.1 283 103.2 285.4 102.1 287.3 99.7 288.8Z" fill="#9de0c1" fill-rule="evenodd"/>
<path d="M82.1 278.2 81.3 278.2 80.1 277.4 79.3 275.8 79.2 274.2 81.2 267.8 82.1 267.3 82.9 268 84.7 274.2 84.2 276.6 82.9 277.9 82.1 278.2ZM70.9 288.9 66.9 289.3 64.5 288.5 62.9 287.3 61.7 285.4 61.5 283.8 61.9 282.2 62.9 280.8 65.3 279.4 68.7 279 72.5 280 75.8 282.2 76.3 283.8 75.7 285.4 73.3 287.6 70.9 288.9ZM99.7 287.2 97.3 287.4 95 286.2 94.5 285.4 94.3 283.8 95.4 282.2 98.1 281.3 100.7 282.2 101.4 283 101.7 284.6 101 286.2 99.7 287.2Z" fill="#aee79e" fill-rule="evenodd"/>
<path d="M82.9 276 81.3 276.2 80.4 275 80.5 272.6 81.3 271.3 82.1 270.9 82.9 271.6 83.7 273.4 83.6 275 82.9 276ZM69.3 287.9 66.1 287.8 63.7 286.2 62.9 283.8 63.4 282.2 64.5 281.1 66.1 280.3 68.5 280.1 70.9 280.8 72.8 282.2 73.5 283.8 73 285.4 71.4 287 69.3 287.9ZM98.9 284.7 98.1 285 97.5 284.6 97.8 283.8 98.7 283.8 98.9 284.7Z" fill="#c6e972" fill-rule="evenodd"/>
<path d="M69.3 286.4 66.9 286.6 65.3 285.8 64.5 283.8 65.3 282.2 67.7 281.4 70.2 282.2 71 283 71.1 284.6 70.7 285.4 69.3 286.4Z" fill="#d9e953" fill-rule="evenodd"/>
<path d="M93.3 257.4 95.3 255.8 95.8 254.2 95.7 253.3 94.9 252 93.8 251 90.1 249.7 86.9 249.6 82.1 250.9 77.3 249.7 73.3 249.8 70.1 251.1 68.3 253.4 68.3 255 69.3 256.5 70.9 257.5 72.5 257.9 76.5 257.6 82.1 255 88.5 257.9 90.9 258 93.3 257.4M66.1 244.6 64 247 62.8 249.4 62.2 252.6 62.5 255 63.9 257.4 66.1 259.4 69.3 260.8 71.7 261.2 74.1 261 81.3 258.7 83.7 258.9 89.3 260.8 91.7 261.2 94.9 260.8 98.1 259.3 100.7 256.6 101.5 255 101.9 252.6 100.9 248.6 99.4 246.2 97.9 244.6M54.1 278.2 57.3 275.7 61.3 273.7 64.5 272.8 70.9 272 73.3 271 74.9 268.9 77.4 263.8 79.7 261.9 82.1 261.4 84.5 262 86.6 263.8 89.7 270.2 91.7 272.4 94.1 273.2 99.7 273.8 102.9 274.6 106.1 276.1 109.3 278.4M86.5 288.6 87.5 287 87.1 285.4 86.1 284.6 84.5 284.9 83.5 286.2 83.6 287.8 84.5 288.7 85.3 288.9 86.5 288.6M109.3 291.1 105.9 294.2 100.5 296.3 90.9 297.5 81.3 297.9 70.1 297.5 62.9 296.4 57.6 294.2 54.1 290.9M82.9 294.3 70.1 294.1 64.5 293 62.1 291.8 59.4 289.4 57.8 287 57.1 284.6 57.4 282.2 58.1 280.6 59.7 278.7 62.1 277 66.1 275.8 73.3 275.7 75.1 275 76.5 272.9 78.9 265.4 80.5 263.9 82.1 263.5 83.7 264 85.1 265.4 87.7 274 89.3 276.8 91.7 277.6 98.1 277.2 102.1 278.2 103.7 279.2 105.3 281 106.2 283 106.4 284.6 105.8 287 104.8 288.6 102.9 290.5 100.5 291.9 97.3 292.7 82.9 294.3M87.3 291.8 88.5 291.2 89.3 290.1 89.7 288.6 89.5 286.2 89 284.6 87.7 283.1 85.3 282.6 83.7 283.2 82.3 284.6 81.6 286.2 81.5 288.6 82.2 290.2 83.7 291.4 86.1 292.1 87.3 291.8M71.7 290.3 69.3 290.8 66.9 290.6 62.9 288.9 61.3 287.3 60.3 285.4 60.1 283.8 60.5 282.2 61.5 280.6 62.9 279.3 66.1 278 69.3 277.9 75.7 279.2 77.3 278.8 78 277.4 78.4 273.4 80.2 267 81.3 265.7 82.9 265.9 84.1 267.8 85.5 273.4 85.6 275.8 85.1 278.2 84 279.8 81.1 282.2 77.7 287 74.9 288.9 71.7 290.3M99.7 288.8 96.5 289 93.9 287.8 92.6 286.2 92 284.6 92 283 92.4 282.2 94.6 280.6 97.3 279.9 99.7 280.1 102 281.4 103.1 283 103.2 285.4 102.1 287.3 99.7 288.8M82.9 276.1 81.3 276.3 80.3 275 80.5 272.5 81.3 271.1 82.1 270.8 82.9 271.4 83.7 273.4 83.7 275 82.9 276.1M69.3 288 66.1 287.9 63.6 286.2 62.8 283.8 63.3 282.2 64.5 281 66.1 280.2 68.5 280 70.9 280.7 72.9 282.2 73.6 283.8 73.2 285.4 71.6 287 69.3 288M98.9 285.1 98.1 285.4 97.3 284.9 97.2 283.8 98.1 283.4 98.9 283.6 99.3 284.6 98.9 285.1" fill="none" stroke="#1a1a1a" stroke-width="0.7" stroke-opacity="0.85"/>
</g>
<rect x="55.6" y="266.3" width="2.8" height="12.6" rx="1.3" fill="#223d5e" stroke="#111" stroke-width="1.5"/>
<rect x="105.6" y="266.3" width="2.8" height="12.6" rx="1.3" fill="#223c5e" stroke="#111" stroke-width="1.5"/>
<path d="M77.8 249.4 L82 244.2 L86.2 249.4" fill="none" stroke="#231f20" stroke-width="1.8" stroke-linejoin="round"/>
<circle cx="82" cy="272.5" r="23.7" fill="none" stroke="#111" stroke-width="2.3"/>
<clipPath id="c25"><circle cx="155.8" cy="273" r="25.9"/></clipPath>
<circle cx="155.8" cy="273" r="29.2" fill="url(#glow)"/>
<g clip-path="url(#c25)">
<rect x="129.9" y="247.1" width="51.8" height="51.8" fill="#3841a2"/>
<path d="M183.1 300.4 127.8 300.3 127.9 245 183.2 245.1 183.1 300.4ZM148.9 256.3 150.9 254.7 151.1 253.9 150.3 252.7 148.7 252.2 147.1 252.2 145.5 252.8 144.4 253.9 144.4 255.5 145.3 256.3 147.1 256.6 148.9 256.3ZM166.4 256.3 167.4 254.7 167.2 253.9 166.3 252.9 164.7 252.2 163.1 252.1 160.7 253.1 160.5 254.7 162.2 256.3 164.7 256.8 166.4 256.3Z" fill="#3c4db2" fill-rule="evenodd"/>
<path d="M183.1 300.4 127.8 300.3 127.9 245 183.2 245.1 183.1 300.4ZM146.6 257.9 148.7 257.5 151.3 256.3 154.2 253.9 155 253.1 155 252.3 152.7 250.7 150.3 250.1 147.1 250.3 143.9 251.6 142.5 253.1 142.2 255.5 143.9 257.4 146.6 257.9ZM166.5 257.9 168.7 256.7 169.6 254.7 169.2 253.1 167.1 251.2 164.7 250.3 161.5 250.1 158.8 250.7 156.4 252.3 156.5 253.1 158 254.7 161.3 257.1 163.9 258 166.5 257.9Z" fill="#3f59bd" fill-rule="evenodd"/>
<path d="M183.1 300.3 127.9 300.3 127.9 245.1 152.1 245.1 146.3 247.2 143.1 249 141.2 250.7 140 252.3 139.5 253.9 139.7 255.5 140.7 257.3 143.1 258.8 145.5 259.1 148.7 258.4 154.3 255.9 155.9 255.7 163.1 258.8 166.3 259.4 168.7 258.9 171.1 257.1 172.1 254.7 171.6 252.3 169.6 249.9 167.1 248.1 163.1 246.2 159.5 245.1 183.1 245.1 183.1 300.3Z" fill="#4367c5" fill-rule="evenodd"/>
<path d="M183.1 300.3 127.9 300.3 127.9 245.1 133.1 245.1 131 249.1 130.7 251.5 131 253.9 132 256.3 133.6 258.7 137.5 261.7 139.1 262.2 141.5 262.1 153.5 257.3 155.9 256.9 158.3 257.5 167.1 261.6 171.1 262.5 173.5 262 176.3 260.3 178.6 257.9 180 255.5 180.9 252.3 180.7 249.9 180 247.5 178.5 245.1 183.1 245.1 183.1 300.3Z" fill="#4876cc" fill-rule="evenodd"/>
<path d="M169.5 300.3 139.6 300.3 135.9 299 131.1 295.7 128 291.5 127.9 281.8 128.2 281.1 129.8 278.7 132.3 276.3 139.3 272.3 141.4 270.7 145.1 263.5 147.5 261.1 151.1 259.1 154.3 258 156.7 257.9 159.1 258.7 162 260.3 165 262.7 166.7 265.1 170.3 272 179.6 278.7 182 281.9 183 284.3 182.9 289.9 181.9 292.3 180.1 294.7 177.5 297 175.1 298.5 169.5 300.3Z" fill="#4e8cd4" fill-rule="evenodd"/>
<path d="M167.1 298.8 155.9 298.4 145.5 299.2 140.7 298.6 137.5 297.6 134.1 295.5 131.7 293.1 129.9 289.9 129.4 287.5 129.5 285.1 130.2 282.7 131.5 280.3 135.1 276.9 140.9 273.9 143 272.3 144 270.7 146 265.1 147.4 262.7 149.5 260.8 152.7 259.2 155.1 258.6 157.5 258.9 160.5 260.3 162.6 261.9 164.9 265.1 167.2 271.5 168.6 273.9 176.9 279.5 179 281.9 180.2 284.3 180.6 286.7 180.4 289.1 179.6 291.5 177.9 293.9 175.9 295.7 172.7 297.5 167.1 298.8Z" fill="#60a6db" fill-rule="evenodd"/>
<path d="M147.9 297.9 144.7 298 140.7 297.4 137.5 296.2 135.1 294.7 132.8 292.3 131.4 289.9 130.8 286.7 131.1 284.3 132.6 281.1 134.8 278.7 137.5 276.9 142.3 274.7 144.3 273.1 145.1 271.5 147.1 265.1 149.4 261.9 152.7 259.9 155.1 259.4 156.7 259.5 159.9 260.8 162.7 263.5 164.4 266.7 166.2 273.1 167.1 274.7 169.1 276.3 174.3 279.2 177.3 281.9 178.9 285.1 179 289.1 178 291.5 176.1 293.9 173.5 295.8 171.1 296.9 165.5 297.7 155.9 296.9 147.9 297.9Z" fill="#72c1e1" fill-rule="evenodd"/>
<path d="M146.3 297.1 140.7 296.5 137.5 295.2 135.1 293.5 133.4 291.5 132.3 289.1 131.9 286.7 132.2 284.3 133.9 281.1 135.9 279 138.3 277.5 143.1 275.4 145.2 273.9 146 272.3 147.7 265.9 149 263.5 150.3 262.1 153.5 260.3 155.9 260 157.5 260.4 160.7 262.3 162.8 265.1 163.7 267.5 165.3 273.9 166.1 275.5 168.2 277.1 173.5 279.8 176.5 282.7 177.9 285.9 178 288.3 177.6 289.9 176.3 292.3 174.8 293.9 172.7 295.3 169.5 296.4 164.7 296.8 155.9 295.8 146.3 297.1Z" fill="#80cee3" fill-rule="evenodd"/>
<path d="M147.1 296.4 143.9 296.4 140.7 295.8 138.3 294.8 135.9 293.2 134.4 291.5 133.2 289.1 132.8 286.7 133.1 284.3 134.3 281.9 136.7 279.4 139.1 278 144.7 275.6 145.8 274.7 146.7 273.1 148.4 265.9 150.6 262.7 153.5 261 156.7 260.8 159.9 262.5 162 265.1 163.2 268.3 164.5 274.7 165.4 276.3 167.1 277.5 172.7 280.2 175.5 282.7 177 285.9 177 289.1 175.9 291.5 174.3 293.3 171.9 294.9 169.5 295.7 164.7 296.1 155.9 294.9 147.1 296.4Z" fill="#8ed9e1" fill-rule="evenodd"/>
<path d="M167.1 295.5 163.9 295.4 155.9 294 147.1 295.7 142.3 295.6 139.1 294.5 136.8 293.1 135.2 291.5 133.9 289.1 133.6 287.5 133.7 285.1 135.1 281.9 138.3 279.1 146.3 275.5 147.3 273.9 148.4 268.3 149.5 265.1 151.1 263.1 153.5 261.6 156.7 261.5 158.3 262.1 160.1 263.5 161.2 265.1 162.3 267.5 163.5 274.7 164.1 276.3 165.9 277.9 172.8 281.1 174.6 282.7 176 285.1 176.4 286.7 176.2 289.1 174.4 292.3 171.1 294.6 167.1 295.5Z" fill="#9de0c1" fill-rule="evenodd"/>
<path d="M168.7 294.7 164.7 295 155.9 293.2 147.9 295.1 143.1 295.1 140.7 294.6 138.3 293.4 136 291.5 135 289.9 134.4 288.3 134.2 285.9 135.4 282.7 136.7 281.1 138.8 279.5 145.5 276.9 147.5 275.5 148.2 273.9 149.4 266.7 150.8 264.3 152.7 262.6 154.3 262 155.9 261.9 157.5 262.4 159.2 263.5 160.6 265.1 161.7 267.5 162.8 275.5 163.5 277.1 165.5 278.6 171.9 281.2 173.8 282.7 175 284.3 175.8 287.5 174.9 290.7 172.6 293.1 168.7 294.7Z" fill="#aee79e" fill-rule="evenodd"/>
<path d="M146.3 294.7 141.5 294.3 137.5 292.2 136.1 290.7 135 288.3 134.8 285.9 135.2 284.3 136.7 281.9 139.1 279.9 146.3 277.3 147.9 276.3 148.8 274.7 149.5 268.3 150.9 265.1 153.5 262.9 155.1 262.5 156.7 262.7 159.1 264.2 160.8 266.7 161.6 269.9 162 276.3 162.9 277.9 164.7 279 170.3 280.9 172.9 282.7 174.3 284.3 175 285.9 174.9 289.1 174.2 290.7 172.7 292.4 171.1 293.4 168.7 294.3 163.9 294.4 155.9 292.5 146.3 294.7Z" fill="#c6e972" fill-rule="evenodd"/>
<path d="M167.9 293.9 163.9 293.9 157.5 291.9 155.9 291.7 147.9 294 143.1 294.2 140.7 293.5 138.4 292.3 136.8 290.7 135.8 289.1 135.4 287.5 135.5 285.1 136.2 283.5 137.5 281.8 140.7 279.6 147.1 277.7 149.1 276.3 149.6 274.7 149.8 269.9 150.3 267.5 151.6 265.1 153.5 263.5 155.1 263.1 156.7 263.3 158.3 264.2 159.8 265.9 161.1 269.9 161.2 277.1 162.3 278.7 170.3 281.5 172.7 283.2 174.1 285.1 174.5 288.3 173.5 290.7 171.1 292.9 167.9 293.9Z" fill="#d9e953" fill-rule="evenodd"/>
<path d="M168.7 293.3 166.3 293.6 163.9 293.4 157.5 291.2 155.9 291 147.9 293.6 144.7 293.9 142.3 293.6 139.9 292.7 137.4 290.7 136.1 288.3 136.1 285.1 137.3 282.7 139.9 280.5 143.1 279.3 147.9 278.2 149.7 277.1 150.3 275.5 150.4 269.9 151.2 266.7 152.3 265.1 153.5 264.2 155.1 263.7 156.7 263.9 159.1 265.9 160.2 268.3 160.6 271.5 160.2 277.1 160.7 278.7 162.3 279.8 167.9 281.1 170.3 282 172.3 283.5 173.8 285.9 174 288.3 172.9 290.7 171.1 292.3 168.7 293.3Z" fill="#e7e744" fill-rule="evenodd"/>
<path d="M167.1 293.2 163.1 292.8 157.5 290.4 155.9 290.2 147.9 293.1 144.7 293.5 142.3 293.1 139.1 291.7 137.4 289.9 136.4 287.5 136.6 285.1 137.9 282.7 140.7 280.6 143.1 279.7 148.6 278.7 150.4 277.9 151.2 276.3 150.8 270.7 151.4 267.5 152.4 265.9 153.5 264.9 155.9 264.4 157.5 265 158.4 265.9 159.9 269.1 160 272.3 159 277.9 159.5 279.5 161.5 280.5 167.1 281.4 169.5 282.1 171.9 283.8 173.3 285.9 173.5 288.3 172.3 290.7 170.2 292.3 167.1 293.2Z" fill="#eed03a" fill-rule="evenodd"/>
<path d="M168.7 292.5 166.3 292.8 163.9 292.5 157.5 289.5 155.9 289.3 147.9 292.7 145.5 293.1 143.1 292.9 140.7 292.1 138.3 290.3 137.1 288.3 136.9 285.9 137.9 283.5 140.7 281.1 143.9 280 150.3 279.1 151.9 278.5 152.5 277.1 151.4 271.5 151.7 268.3 152.5 266.7 153.5 265.6 155.9 265 157.5 265.8 158.3 266.7 159.4 269.9 159.1 273.8 157 278.7 157.3 280.3 159.1 281.2 165.5 281.6 168.7 282.3 171.1 283.7 172.8 285.9 173 288.3 172.3 289.9 170.7 291.5 168.7 292.5Z" fill="#f1ae35" fill-rule="evenodd"/>
<path d="M155.9 276.6 154.3 276.5 153.5 275.7 152.6 273.9 152 271.5 152.1 269.1 152.7 267.5 153.5 266.5 155.1 265.7 156.4 265.9 157.5 266.7 158.5 268.3 158.9 269.9 158.3 273.8 157.5 275.3 155.9 276.6ZM167.1 292.3 163.1 291.8 157.5 288.4 155.9 288.1 148.7 292 145.5 292.7 143.1 292.5 140.7 291.7 138.5 289.9 137.6 288.3 137.4 285.9 138.3 283.7 139.9 282.1 142.3 280.8 145.5 280.2 152.7 280.4 155.9 282.4 157.5 282.9 163.1 282 167.1 282.3 169.5 283.1 171.1 284.3 172.2 285.9 172.5 287.5 172.2 289.1 171 290.7 169.5 291.7 167.1 292.3Z" fill="#ef8e31" fill-rule="evenodd"/>
<path d="M155.9 274.9 155.1 275 153.7 273.9 152.6 270.7 152.8 269.1 153.5 267.5 155.1 266.5 156.3 266.7 157.3 267.5 158.2 269.9 157.7 273.1 156.7 274.5 155.9 274.9ZM148.7 291.6 146.3 292.2 143.9 292.2 141.5 291.6 139.9 290.7 138.5 289.1 137.9 287.5 138.1 285.1 139 283.5 141.5 281.6 145.5 280.6 150.3 280.9 151.9 281.4 153.5 282.5 155.3 285.1 155 286.7 151.7 289.9 148.7 291.6ZM168.7 291.6 165.5 291.9 161.8 290.7 159.7 289.1 158.3 287.5 157.7 285.9 158 285.1 160.2 283.5 163.1 282.6 166.3 282.6 169.5 283.6 171.2 285.1 172 287.5 171.2 289.9 168.7 291.6Z" fill="#eb6e2d" fill-rule="evenodd"/>
<path d="M155.9 273.4 155.1 273.4 154.3 272.9 153.4 270.7 154 268.3 155.1 267.5 156.7 268.1 157.5 269.9 157 272.3 155.9 273.4ZM147.1 291.6 144.7 291.9 142.3 291.5 140.6 290.7 139.1 289.2 138.3 287.5 138.3 285.9 138.9 284.3 140.4 282.7 143.1 281.4 147.1 281 150.3 281.7 152.9 283.5 153.7 285.9 153.1 287.5 150.8 289.9 147.1 291.6ZM167.1 291.5 163.9 291.2 161.5 289.9 159.6 287.5 159.4 285.9 159.9 285.1 162.2 283.5 164.7 283 167.9 283.4 170.3 284.8 171.4 286.7 171.1 289.1 169.5 290.7 167.1 291.5Z" fill="#e7522a" fill-rule="evenodd"/>
<path d="M155.9 271.3 155.1 271.4 154.7 270.7 155.1 269.1 155.9 269.2 156.2 269.9 155.9 271.3ZM145.5 291.5 142.3 291.1 139.9 289.5 138.8 287.5 139.1 285 141.2 282.7 143.9 281.6 147.1 281.5 150.3 282.4 151.7 283.5 152.5 285.1 152.2 287.5 149.5 290.2 145.5 291.5ZM167.9 290.9 164.7 290.9 162.3 289.8 160.5 287.5 160.6 285.9 161.1 285.1 163.1 283.9 165.5 283.5 167.9 283.9 169.5 284.7 170.9 286.7 170.9 288.3 169.8 289.9 167.9 290.9Z" fill="#e04629" fill-rule="evenodd"/>
<path d="M147.1 290.8 144.7 291.1 143.1 290.9 141.5 290.3 140.1 289.1 139.3 287.5 139.3 285.9 140.8 283.5 143.1 282.3 145.5 281.9 148.7 282.4 150.6 283.5 151.6 285.1 151.4 287.5 149.5 289.6 147.1 290.8ZM168.7 290.1 166.3 290.7 163.4 289.9 161.7 288.3 161.3 286.7 161.6 285.9 163.1 284.6 164.7 284.1 167.1 284.1 168.7 284.8 169.9 285.9 170.4 287.5 169.9 289.1 168.7 290.1Z" fill="#da3928" fill-rule="evenodd"/>
<path d="M145.5 290.7 143.1 290.5 140.7 289.1 139.8 287.5 139.8 285.9 140.6 284.3 142.3 283 144.7 282.4 147.1 282.5 148.7 283 150.3 284.2 150.8 285.1 150.9 286.7 149.4 289.1 147.9 290 145.5 290.7ZM167.9 289.9 165.5 290.1 163.3 289.1 162.3 287.5 162.6 285.9 163.9 284.9 165.5 284.5 167.1 284.7 168.7 285.4 169.5 286.4 169.8 287.5 169.1 289.1 167.9 289.9Z" fill="#d03027" fill-rule="evenodd"/>
<path d="M146.3 290.1 143.1 290 140.7 288.3 140.4 285.9 140.7 285 142.3 283.5 144.7 282.9 146.3 282.9 148.3 283.5 149.5 284.5 150.1 285.9 149.8 287.5 148.5 289.1 146.3 290.1ZM167.9 289.2 166.3 289.5 164.5 289.1 163.2 287.5 163.8 285.9 166.3 285.2 168.2 285.9 169 287.5 168.8 288.3 167.9 289.2Z" fill="#c22926" fill-rule="evenodd"/>
<path d="M146.3 289.2 143.9 289.3 142 288.3 141.3 286.7 141.5 285.7 142.3 284.7 143.9 283.9 145.5 283.7 147.5 284.3 148.4 285.1 148.8 285.9 148.5 287.5 147.9 288.3 146.3 289.2Z" fill="#9b1e21" fill-rule="evenodd"/>
<path d="M137 245.1 134.5 249.1 134.1 253.1 135.4 257.1 137.5 259.4 139.1 260.5 141.5 261.1 143.9 260.9 153.5 257.2 155.9 256.8 158.3 257.4 165.5 260.6 169.5 261.4 171.9 260.8 174 259.5 176.2 257.1 177.2 254.7 177.6 252.3 177.3 249.9 176.4 247.5 174.6 245.1M168.7 297.2 164.7 297.4 155.9 296.5 147.1 297.7 142.3 297.5 139.1 296.6 135.9 294.9 133.8 293.1 132.2 290.7 131.4 288.3 131.2 285.9 131.8 283.5 133 281.1 136.7 277.7 144.1 273.9 145.5 271.6 146.8 266.7 147.8 264.3 149.8 261.9 151.9 260.5 154.3 259.7 156.7 259.7 159.1 260.6 161 261.9 162.4 263.5 163.7 265.9 166.6 274.7 168.3 276.3 175.1 280.2 177.8 283.5 178.7 285.9 178.7 288.3 178 290.7 177.1 292.3 175.7 293.9 173.5 295.5 168.7 297.2M168.7 294.9 163.9 295 155.9 293.4 147.9 295.2 143.1 295.3 140.7 294.7 138.3 293.6 136.6 292.3 134.8 289.9 134.1 287.5 134.1 285.9 135.2 282.7 136.7 280.9 138.6 279.5 145.5 276.7 147.2 275.5 148 273.9 149.3 266.7 150.6 264.3 152.7 262.5 154.3 261.9 155.9 261.8 157.5 262.2 159.4 263.5 160.7 265.1 161.8 267.5 163 275.5 163.7 277.1 165.5 278.4 171.9 281.1 173.9 282.7 175.1 284.3 175.9 287.5 175 290.7 172.7 293.2 168.7 294.9M168.7 293.2 166.3 293.5 163.9 293.3 157.5 291 155.9 290.8 147.9 293.5 144.7 293.8 142.3 293.5 139.1 292.1 137 289.9 136.1 287.5 136.2 285.1 137.5 282.7 139.9 280.7 142.3 279.6 148.7 278.1 150 277.1 150.6 275.5 150.4 270.7 151.1 267.3 151.9 265.8 153.5 264.4 155.9 263.9 158.3 265.2 160.1 268.3 160.5 271.5 159.9 277.1 160.3 278.7 162.3 280 169.7 281.9 171.9 283.3 173.3 285.1 173.9 287.5 173.3 289.9 171.1 292.2 168.7 293.2M156.7 274.9 155.1 275.4 154.3 275 153.3 273.9 152.5 271.5 152.8 268.3 153.5 267.2 155.1 266.3 156.8 266.7 157.5 267.5 158.3 269.3 158.2 272.3 156.7 274.9M145.5 292.4 143.1 292.2 140.7 291.4 138.9 289.9 137.7 287.5 137.9 285.1 139.1 283.2 141.5 281.5 143.9 280.7 147.9 280.4 151.8 281.1 153.5 282.1 156.7 285.1 159.5 283.5 161.9 282.7 164.7 282.4 167.1 282.6 170.3 284 171.4 285.1 172.1 286.7 172.1 288.3 171.3 289.9 169.5 291.4 167.9 291.9 165.5 292 162.3 291.1 159.4 289.1 156.7 286.2 155.9 286.5 150.3 290.9 147.9 291.9 145.5 292.4M147.1 290.7 144.7 291 143.1 290.8 141.5 290.2 140.2 289.1 139.4 287.5 139.4 285.9 140.9 283.5 143.1 282.3 145.5 282 147.9 282.2 150.4 283.5 151.4 285.1 151.2 287.5 149.5 289.5 147.1 290.7M168.7 290 166.3 290.6 163.7 289.9 161.9 288.3 161.5 286.7 161.8 285.9 163.1 284.7 164.7 284.2 167.1 284.2 168.7 284.9 169.8 285.9 170.3 287.5 169.7 289.1 168.7 290" fill="none" stroke="#1a1a1a" stroke-width="0.7" stroke-opacity="0.85"/>
</g>
<rect x="129.3" y="266.8" width="2.8" height="12.6" rx="1.3" fill="#1f345b" stroke="#111" stroke-width="1.5"/>
<rect x="179.5" y="266.8" width="2.8" height="12.6" rx="1.3" fill="#1f335b" stroke="#111" stroke-width="1.5"/>
<path d="M151.6 249.9 L155.8 244.7 L160 249.9" fill="none" stroke="#231f20" stroke-width="1.8" stroke-linejoin="round"/>
<circle cx="155.8" cy="273" r="23.7" fill="none" stroke="#111" stroke-width="2.3"/>
<clipPath id="c26"><circle cx="230.9" cy="272.4" r="25.9"/></clipPath>
<circle cx="230.9" cy="272.4" r="29.2" fill="url(#glow)"/>
<g clip-path="url(#c26)">
<rect x="205" y="246.5" width="51.8" height="51.8" fill="#3842a3"/>
<path d="M258.2 299.8 202.9 299.7 203 244.4 258.3 244.5 258.2 299.8ZM224.4 255.7 226.2 254.1 226.2 252.9 225.4 252 223.8 251.5 222.2 251.6 220.6 252.2 219.5 253.3 219.5 254.9 220.6 255.9 222.2 256.2 224.4 255.7ZM241.4 255.7 242.3 254.9 242.5 254.1 242.3 253.3 241.4 252.3 239.8 251.7 238.2 251.6 236 252.5 235.6 253.3 235.8 254.1 237.4 255.4 239.8 256 241.4 255.7Z" fill="#3c4db2" fill-rule="evenodd"/>
<path d="M258.2 299.8 202.9 299.7 203 244.4 258.3 244.5 258.2 299.8ZM223.1 257.3 225.3 256.5 227.7 254.9 230 252.5 230.1 251.7 227.8 250.1 225.4 249.5 222.2 249.7 219 251 217.2 253.3 217.2 254.9 217.7 255.7 219.8 257.2 223.1 257.3ZM243.2 256.5 244.5 254.9 244.6 253.3 243.6 251.7 241.4 250.3 239 249.6 235.8 249.6 233.4 250.4 231.9 251.7 231.9 252.5 233.4 254.1 237 256.5 240.6 257.3 243.2 256.5Z" fill="#3f59bd" fill-rule="evenodd"/>
<path d="M258.2 299.7 203 299.7 203 244.5 227.2 244.5 223.8 245.5 219.8 247.4 216.6 249.7 215.1 251.7 214.6 254.1 215.6 256.5 218.2 258.4 220.6 258.7 223.8 258.1 229.4 255.4 231 255.1 232.6 255.3 237.4 257.6 240.6 258.5 243.8 258.2 246.2 256.5 247 254.9 247.1 253.3 246.7 251.7 245.4 250 240.6 246.7 234.6 244.5 258.2 244.5 258.2 299.7Z" fill="#4367c5" fill-rule="evenodd"/>
<path d="M258.2 299.7 203 299.7 203 244.5 208.2 244.5 206.7 246.9 206 249.3 205.8 251.7 206.7 254.9 208.7 258.1 211 260.2 213.4 261.5 215.8 261.9 219 261.2 228.6 256.8 231 256.2 233.4 256.7 245.4 261.5 247.8 261.5 249.4 261 253.1 258.1 254.7 255.7 255.7 253.3 256 250.9 255.7 248.5 253.6 244.5 258.2 244.5 258.2 299.7Z" fill="#4876cc" fill-rule="evenodd"/>
<path d="M247 299.7 213.5 299.7 207.8 297.6 203 294.9 203 278.4 215.8 272.1 217.4 270.2 221 262.9 224.6 259.7 227.8 258 230.2 257.2 232.6 257.3 235.8 258.5 239.3 260.5 241.1 262.1 242.6 264.5 244.7 270.1 246.3 272.5 248.6 274 258.2 278.4 258.2 294.9 252.6 297.9 247 299.7Z" fill="#4e8cd4" fill-rule="evenodd"/>
<path d="M241.4 299 224.6 299.3 219.8 298.9 215.8 298 211 296.2 207.5 294.1 204.9 291.7 203.1 288.5 203 285.2 204.6 282.1 208.3 278.9 216.3 274.9 218.2 273.4 219.3 271.7 221.1 266.1 222.7 262.9 225.4 260.2 229.4 258.2 231 257.9 233.4 258.3 236.6 259.7 238.7 261.3 240 262.9 241.1 265.3 243 272.4 243.9 274.1 245.8 275.7 254.3 280.5 256.7 282.9 257.9 285.3 258 287.7 257.4 289.3 256.5 290.9 254.2 293.3 248.6 296.9 244.6 298.4 241.4 299Z" fill="#60a6db" fill-rule="evenodd"/>
<path d="M239 298.1 223.8 298 216.6 296.9 212.6 295.3 209.4 293.3 207 290.9 205.8 288.5 205.8 285.3 207.5 282.1 211 279.2 219.1 274.9 220.6 272.5 222 266.9 223.9 262.9 226.2 260.5 229.4 258.9 231 258.6 233.4 259 235.8 260 237.5 261.3 238.8 262.9 240 265.3 241.5 272.5 242.3 274.9 243.9 276.5 249.4 279.6 251.8 281.3 253.3 282.9 254.5 285.3 254.7 287.7 253.9 290.1 252.2 292.5 250.5 294.1 245.4 296.9 242.2 297.8 239 298.1Z" fill="#72c1e1" fill-rule="evenodd"/>
<path d="M238.2 297.3 223.8 297.1 217.4 296.1 213.4 294.5 210.4 292.5 208.4 290.1 207.5 287.7 207.9 284.5 210.2 281.4 213.4 279.2 218.9 276.5 220.8 274.9 221.6 273.3 222.9 266.9 224.3 263.7 227 260.8 230.2 259.4 231.8 259.3 234.2 259.9 237.2 262.1 239.4 266.1 240.6 274.1 241.2 275.7 242.9 277.3 247.8 280 250.2 281.8 251.8 283.7 252.8 286.1 252.8 287.7 252.2 290.1 250.5 292.5 248.7 294.1 243.8 296.5 238.2 297.3Z" fill="#80cee3" fill-rule="evenodd"/>
<path d="M240.6 296.5 223.8 296.4 218.2 295.6 215 294.4 212 292.5 210.4 290.9 209.1 288.5 209 285.3 211.1 282.1 213.4 280.3 219.4 277.3 221.5 275.7 222.4 274.1 223.4 267.7 224.6 264.5 226.4 262.1 229.4 260.2 231 259.9 233.4 260.3 236.6 262.4 238 264.5 238.9 266.9 239.7 274.9 240.4 276.5 242.2 278 248.6 281.7 250.4 283.7 251.2 285.3 251.6 286.9 251.3 289.3 249.3 292.5 245.4 295.2 240.6 296.5Z" fill="#8ed9e1" fill-rule="evenodd"/>
<path d="M241.4 295.9 238.2 296.1 231.8 295.7 224.6 295.8 219.8 295.3 216.6 294.3 213.4 292.6 211.6 290.9 210.2 288.5 209.9 286.9 210.2 285.3 211.8 282.7 215 280.2 221 277.3 222.7 275.7 223.3 274.1 224.1 267.7 224.9 265.3 227 262.3 229.4 260.9 232.6 260.7 234.2 261.3 236.2 262.9 237.7 265.3 238.4 267.7 238.8 274.9 239.2 276.5 240.7 278.1 247.8 282.1 249.3 283.7 250.2 285.3 250.5 288.5 249 291.7 245.4 294.6 241.4 295.9Z" fill="#9de0c1" fill-rule="evenodd"/>
<path d="M243 295 238.2 295.6 231 295.2 223.8 295.3 219.8 294.7 216.6 293.7 214.2 292.3 212 290.1 211.2 288.5 210.9 286.9 211.2 285.3 212.7 282.9 215 281 221.1 278.1 223.2 276.5 224 274.9 224.4 269.3 225.2 266.1 227 263.2 229.4 261.5 232.6 261.3 234.2 262 235.8 263.3 237 265.3 237.8 267.7 237.9 275.7 238.5 277.3 240.6 278.9 246.2 281.7 248.4 283.7 249.4 285.3 249.7 288.5 248.8 290.9 246.5 293.3 243 295Z" fill="#aee79e" fill-rule="evenodd"/>
<path d="M241.4 294.9 238.2 295.2 220.6 294.4 217.4 293.4 215 292.1 212.9 290.1 212 288.5 211.8 286.9 212.1 285.3 213.6 282.9 216.6 280.8 222.5 278.1 224.3 276.5 224.9 274.9 224.9 270.1 225.5 266.9 227 264 229.4 262.1 231 261.7 232.6 261.9 235.4 263.7 236.8 266.1 237.4 268.5 237.1 275.7 237.4 277.3 239.1 278.9 243.8 280.9 246.2 282.4 248.2 284.5 248.9 286.1 248.9 289.3 247.5 291.7 244.6 293.9 241.4 294.9Z" fill="#c6e972" fill-rule="evenodd"/>
<path d="M242.2 294.3 238.2 294.8 231.8 294.2 224.6 294.3 220.6 293.9 217.4 292.8 215.4 291.7 213.7 290.1 212.8 288.5 212.5 286.9 212.8 285.3 214.5 282.9 217.4 280.9 223.8 278.1 225.4 276.5 225.7 274.9 225.5 270.1 226.1 266.9 227.3 264.5 229.4 262.7 231 262.3 232.6 262.5 234.2 263.3 235.9 265.3 236.9 269.3 236.2 276.5 236.8 278.1 238.2 279.2 244.9 282.1 246.9 283.7 248 285.3 248.5 286.9 248.5 288.5 247.5 290.9 245.4 292.9 242.2 294.3Z" fill="#d9e953" fill-rule="evenodd"/>
<path d="M241.4 294.1 238.2 294.4 231.8 293.8 224.6 293.9 221.4 293.6 219 293 216.3 291.7 214.5 290.1 213.6 288.5 213.3 286.9 213.6 285.3 215.4 282.9 218.2 281.1 223.8 278.9 226 277.3 226.5 275.7 226 270.9 226.4 267.7 227.8 264.7 230.2 263 231.8 262.9 233.4 263.5 235 264.9 236 266.9 236.4 270.1 235.2 276.5 235.5 278.1 237.7 279.7 244.6 282.4 246.9 284.5 247.7 286.1 247.9 288.5 246.9 290.9 244.6 292.9 241.4 294.1Z" fill="#e7e744" fill-rule="evenodd"/>
<path d="M242.2 293.6 238.2 294.1 231.8 293.3 224.6 293.5 221.4 293.2 219 292.5 216.6 291.3 215.3 290.1 214.2 288.5 213.9 286.9 214.3 285.3 216.2 282.9 219 281.3 225.3 278.9 227.3 277.3 227.5 275.7 226.7 271.7 226.7 268.5 228 265.3 230.2 263.7 231.8 263.5 233.4 264.1 234.6 265.3 235.4 266.9 235.8 270.9 234 277.3 234.8 278.9 236.1 279.7 243.8 282.4 246.2 284.4 247.2 286.1 247.4 288.5 246.3 290.9 244.6 292.5 242.2 293.6Z" fill="#eed03a" fill-rule="evenodd"/>
<path d="M241.4 293.4 238.2 293.7 231.8 292.9 224.6 293.1 221.4 292.8 217.4 291.2 216 290.1 214.9 288.5 214.6 286.9 215 285.3 217 282.9 220.6 281.1 227.2 278.9 228.5 278.1 229.1 277.3 227.4 272.5 227.1 269.3 228.1 266.1 230.2 264.3 231.8 264.1 233.4 264.9 234.5 266.1 235.3 268.5 235 272.2 232.3 277.3 232.4 278.1 234.2 279.7 241.4 281.8 243.8 282.9 245.8 284.5 246.7 286.1 246.9 288.5 245.8 290.9 243.8 292.5 241.4 293.4Z" fill="#f1ae35" fill-rule="evenodd"/>
<path d="M231.8 275.4 230.2 275.3 229.4 274.7 228.2 272.5 227.7 270.1 227.8 268.5 228.6 266.4 229.7 265.3 231 264.8 232.6 265.1 233.8 266.1 234.6 267.7 234.8 269.3 234.2 272.6 233.4 273.9 231.8 275.4ZM239.8 293.4 231.8 292.5 224.6 292.7 220.6 292.2 218.2 291.2 216.6 290 215.5 288.5 215.3 286.1 216.6 283.9 219 282.2 222.2 281 228.6 279.4 231 279.4 234.1 280.5 240.6 281.9 243.1 282.9 245.2 284.5 246.2 286.1 246.6 287.7 245.9 290.1 244.6 291.5 242.2 292.9 239.8 293.4Z" fill="#ef8e31" fill-rule="evenodd"/>
<path d="M232.6 273.5 231 274.1 230.2 273.8 229 272.5 228.4 270.9 228.6 267.7 229.4 266.4 231 265.5 232.9 266.1 234.1 268.5 234 270.9 232.6 273.5ZM242.2 292.5 238.2 293.1 231.8 292.1 224.6 292.3 221.4 292 218.6 290.9 216.7 289.3 215.9 287.7 215.9 286.1 216.8 284.5 219 282.7 221.4 281.7 225.4 280.7 230.2 280.4 239.8 282.1 243.8 283.8 245.3 285.3 246 286.9 246.1 288.5 245.4 290.1 243.8 291.7 242.2 292.5Z" fill="#eb6e2d" fill-rule="evenodd"/>
<path d="M231.8 272.7 230.2 272.5 229.4 271.4 229 270.1 229.4 267.7 231 266.4 232.6 266.9 233.4 268.5 233.3 270.9 231.8 272.7ZM240.6 292.6 237.4 292.7 231 291.7 224.6 292 221.4 291.6 219 290.6 217.4 289.3 216.5 287.7 216.5 286.1 217.5 284.5 219.6 282.9 225.4 281.2 229.4 281.1 240.6 282.7 244.1 284.5 245.3 286.1 245.7 287.7 245.4 289.3 244.2 290.9 243 291.8 240.6 292.6Z" fill="#e7522a" fill-rule="evenodd"/>
<path d="M231.8 271.1 231 271.3 230 270.1 230.1 268.5 231 267.6 231.8 267.7 232.6 269.2 231.8 271.1ZM242.2 291.8 238.2 292.5 231 291.3 225.4 291.6 222.2 291.3 219.8 290.5 218 289.3 217.1 287.7 217.2 286.1 218.2 284.5 219.8 283.3 224.6 281.8 228.6 281.6 239.8 282.8 243.6 284.5 245.2 286.9 245.2 288.5 244.6 289.9 242.2 291.8Z" fill="#e04629" fill-rule="evenodd"/>
<path d="M241.4 291.8 238.2 292.2 231 290.8 225.4 291.2 222.2 291 218.8 289.3 217.7 287.7 217.8 286.1 218.9 284.5 220 283.7 224.6 282.2 227.8 282.1 239.8 283.2 243 284.5 244.8 286.9 244.8 288.5 244 290.1 241.4 291.8Z" fill="#da3928" fill-rule="evenodd"/>
<path d="M239.8 291.8 237.4 291.8 231 290.4 225.4 290.8 222.2 290.5 219.8 289.5 218.8 288.5 218.3 286.9 218.4 286.1 219.6 284.5 220.9 283.7 224.6 282.7 240.5 283.7 243.4 285.3 244.5 287.7 244.1 289.3 243 290.6 239.8 291.8Z" fill="#d03027" fill-rule="evenodd"/>
<path d="M241.4 291 238.2 291.5 231 289.8 225.4 290.3 222.4 290.1 219.6 288.5 219 286.7 219.7 285.3 220.6 284.5 223.8 283.4 227 283.2 232.6 284 239 283.8 241.6 284.5 243 285.6 243.9 286.9 243.6 289.3 243 290.1 241.4 291Z" fill="#c22926" fill-rule="evenodd"/>
<path d="M239.8 290.9 237.4 290.8 231 288.7 226.2 289.4 223 289.4 221.1 288.5 220.3 286.9 220.5 286.1 221.4 285.2 222.7 284.5 224.6 284.1 227 284.2 231.8 285.2 236.6 284.4 239.6 284.5 242.2 285.8 243 286.8 243.2 287.7 243 288.8 242.2 289.8 239.8 290.9Z" fill="#9b1e21" fill-rule="evenodd"/>
<path d="M211.3 244.5 209.6 246.9 208.8 249.3 208.5 251.7 209.2 254.9 210.6 257.3 212.6 259.3 215 260.6 217.4 261 220.6 260.3 228.6 256.7 231 256.1 233.4 256.6 243 260.4 245.4 260.7 247.8 260.1 251.2 257.3 253.1 253.3 253.3 250.9 252.8 248.5 250.5 244.5M242.2 297.4 238.2 297.8 225.4 297.7 218.2 296.9 214.2 295.6 211 293.9 208.5 291.7 206.6 288.5 206.5 285.3 207.7 282.9 211.2 279.7 217.5 276.5 219.8 274.9 220.8 273.3 222.4 266.9 223.7 263.7 225.6 261.3 228.6 259.4 231 258.9 233.4 259.2 235.8 260.3 237.4 261.7 239.6 265.3 241.2 273.3 242.2 275.7 243.8 277 250.9 281.3 252.4 282.9 253.7 285.3 253.8 288.5 253.2 290.1 251.5 292.5 247.8 295.4 242.2 297.4M243 295.1 238.2 295.7 231 295.2 223.8 295.3 220.6 294.9 217.4 294.1 215 292.9 212.6 291 211.4 289.3 210.9 287.7 210.9 286.1 211.4 284.5 212.5 282.9 215 280.9 220.9 278.1 223.1 276.5 223.9 274.9 224.4 269.3 225.1 266.1 227 263.1 229.4 261.4 232.6 261.2 234.2 261.9 235.8 263.2 237.1 265.3 237.9 267.7 238.1 275.7 238.7 277.3 240.6 278.8 246.9 282.1 248.5 283.7 249.4 285.3 249.8 288.5 248.9 290.9 246.6 293.3 243 295.1M240.6 294.1 221.4 293.4 216.6 291.6 214.8 290.1 213.8 288.5 213.5 286.9 213.9 285.3 215.7 282.9 219 280.9 224.3 278.9 226.5 277.3 226.9 275.7 226.2 270.9 226.6 267.7 227.8 265 230.2 263.3 231.8 263.1 233.4 263.7 235 265.3 235.8 266.9 236.2 270.9 234.8 276.5 235.1 278.1 237.1 279.7 242.2 281.4 244.6 282.6 246.7 284.5 247.5 286.1 247.7 288.5 246.7 290.9 243.8 293.2 240.6 294.1M231.8 274.1 230.2 274 229.4 273.3 228.6 271.9 228.2 270.1 228.3 268.5 229 266.9 229.6 266.1 231 265.4 232.6 265.8 233.4 266.5 234.3 269.3 233.5 272.5 231.8 274.1M242.2 292.6 238.2 293.1 231.8 292.2 224.6 292.4 221.4 292 218.5 290.9 216.6 289.3 215.8 287.7 215.9 286.1 216.7 284.5 219 282.7 222.2 281.4 226.2 280.5 230.2 280.3 239.8 282.1 243.8 283.7 245.4 285.3 246.1 286.9 246.1 288.5 245.5 290.1 243.9 291.7 242.2 292.6M240.6 291.9 237.4 292 231 290.7 225.4 291.1 222.2 290.8 219 289.3 218 287.7 218 286.1 219 284.7 220.3 283.7 224.6 282.4 227.8 282.3 240.6 283.5 243.7 285.3 244.7 287.7 243.8 290.1 242.2 291.3 240.6 291.9" fill="none" stroke="#1a1a1a" stroke-width="0.7" stroke-opacity="0.85"/>
</g>
<rect x="204.4" y="266.2" width="2.8" height="12.6" rx="1.3" fill="#20345b" stroke="#111" stroke-width="1.5"/>
<rect x="254.6" y="266.2" width="2.8" height="12.6" rx="1.3" fill="#1f345b" stroke="#111" stroke-width="1.5"/>
<path d="M226.7 249.3 L230.9 244.1 L235.1 249.3" fill="none" stroke="#231f20" stroke-width="1.8" stroke-linejoin="round"/>
<circle cx="230.9" cy="272.4" r="23.7" fill="none" stroke="#111" stroke-width="2.3"/>
<clipPath id="c27"><circle cx="303.7" cy="272.1" r="25.9"/></clipPath>
<circle cx="303.7" cy="272.1" r="29.2" fill="url(#glow)"/>
<g clip-path="url(#c27)">
<rect x="277.8" y="246.2" width="51.8" height="51.8" fill="#373d9c"/>
<path d="M331 299.5 275.7 299.4 275.8 244.1 331.1 244.2 331 299.5ZM311.1 253 310.3 252.2 309.4 252.1 308.3 253 309.4 253.4 311.1 253ZM297.8 253 297.4 252.5 296.5 253 297.8 253Z" fill="#3943a4" fill-rule="evenodd"/>
<path d="M331 299.5 275.7 299.4 275.8 244.2 331 244.2 331 299.5ZM314 256.2 315.8 255.2 316.9 253.8 317.1 253 316.7 251.4 314.2 249.2 310.2 248 298.2 248 295.8 248.3 292.2 249.8 291 250.9 290.4 252.2 290.5 253.8 291 254.6 292.6 255.8 295 256.7 298.2 256.6 302.2 254.8 303.8 255.1 306.2 256.3 308.6 256.9 311 256.9 314 256.2Z" fill="#3c4db2" fill-rule="evenodd"/>
<path d="M331 299.4 275.8 299.4 275.8 244.2 294.5 244.2 290.2 246.8 287.3 249.8 286.7 251.4 286.6 253 287.8 255.5 291 257.7 295 258.8 297.4 258.6 302.2 256.2 303.8 256.5 307 258.6 309.4 259 314.2 258.4 317.4 257.2 319.7 255.4 320.8 253 320.5 250.6 319 248.4 316.6 246.3 312.9 244.2 331 244.2 331 299.4Z" fill="#3f59bd" fill-rule="evenodd"/>
<path d="M331 299.4 275.8 299.4 275.8 262.9 282.2 262.4 295.8 262.8 297.4 261.7 299.9 258.6 302.2 257.3 303.8 257.8 307.8 262.4 309.4 263 324.6 262.4 331 262.8 331 299.4Z" fill="#4367c5" fill-rule="evenodd"/>
<path d="M329.4 299.4 277.5 299.4 275.8 298.6 275.8 273.1 283.8 270.1 295 268 296.6 267.4 297.4 266.5 300 260.2 301.4 258.8 303 258.7 305 261 307 266.2 308.6 267.6 321.4 269.5 326.2 270.9 331 272.8 331 298.9 329.4 299.4Z" fill="#4876cc" fill-rule="evenodd"/>
<path d="M318.2 299.4 288.9 299.4 280.6 296.5 275.8 293.4 275.8 278.3 279.8 275.6 284.6 273.6 296.6 270.7 298.2 268.7 300.6 261.2 301.5 260.2 302.2 259.9 303 260.1 304.6 262.6 306.2 268.2 307.8 270.3 316.6 271.8 321.4 273.1 327 275.3 331 277.8 331 293.9 325.4 297.1 318.2 299.4Z" fill="#4e8cd4" fill-rule="evenodd"/>
<path d="M309.4 298.6 303.8 298.9 298.2 298.6 292.6 297.8 287.8 296.5 283.4 294.6 279.8 292.3 277.5 289.8 276.4 287.4 276.3 285 277.1 282.6 279 280.2 280.9 278.6 287 275.5 297.4 272.6 298.2 271.7 299 269.9 300.6 263.4 301.4 261.9 302.2 261.5 303 261.8 303.8 263 305.6 269.8 307 272.1 308.6 272.7 317.4 274.3 323.8 276.9 328.5 280.2 330.3 282.6 331 284.5 331 287.2 330.2 289.2 328.6 291.4 325.5 293.8 322.2 295.5 318.2 297 309.4 298.6Z" fill="#60a6db" fill-rule="evenodd"/>
<path d="M307 297 297.4 296.6 292.6 295.7 288.6 294.4 285.4 292.9 282.4 290.6 281.2 289 280.2 286.6 280.5 284.2 281.2 282.6 284.5 279.4 288.6 277.3 296.6 275 298.2 274.1 299.5 271.4 301 265 302.2 263.3 303 263.8 303.6 265 305.1 271.4 306.2 273.4 307.8 274.2 315.8 275.6 320.6 277.6 325.2 281 326.4 282.6 327.3 285 327.1 287.4 326.4 289 324.3 291.4 322.1 293 318.9 294.6 315 295.9 307 297Z" fill="#72c1e1" fill-rule="evenodd"/>
<path d="M307.8 295.4 299 295.1 291.8 293.5 288.9 292.2 286.5 290.6 284.9 289 283.9 286.6 283.9 285 284.5 283.4 286.6 281 290.9 278.6 297.4 276.6 298.9 275.4 300 273 301.4 266.7 302.2 265.6 303 266.3 304.4 272.2 305.6 274.6 307 275.5 313.4 276.3 318.2 278.1 322.1 281 323.3 282.6 324.1 285 323.9 287.4 323.1 289 319.8 292.1 314.2 294.5 307.8 295.4Z" fill="#80cee3" fill-rule="evenodd"/>
<path d="M310.2 293.9 303 293.9 295 292.7 290.1 290.6 288.3 289 287.4 287.4 287.1 285.8 287.5 284.2 289.4 281.8 292.6 279.9 297.4 278.3 299.2 277 300.6 274.6 302.2 269.3 303 270.7 304.1 274.6 305.4 276.1 307 276.7 312.6 277.3 316.5 278.6 319.8 281 321.6 284.2 321.8 285.8 321.5 287.4 320.5 289 319 290.6 315 292.8 310.2 293.9Z" fill="#8ed9e1" fill-rule="evenodd"/>
<path d="M312.6 292.3 306.2 292.8 295 291.3 292.6 290.3 290.9 289 289.8 287.4 289.7 285 290.6 283.4 292.6 281.8 299 279.1 302.2 275.4 305.4 277.5 313.4 278.5 316.6 279.9 318.7 281.8 319.6 283.4 320 285.8 319.1 288.2 317.7 289.8 315.2 291.4 312.6 292.3Z" fill="#9de0c1" fill-rule="evenodd"/>
<path d="M311.8 291.4 307 291.7 297.4 290.8 295 290.2 292 288.2 291.3 286.6 291.5 285 293.4 282.8 299 280.7 302.2 278.2 306.2 278.8 311 278.8 313.4 279.4 315.1 280.2 317.1 281.8 318.2 283.4 318.5 285.8 318 287.4 316.6 289.1 314.3 290.6 311.8 291.4Z" fill="#aee79e" fill-rule="evenodd"/>
<path d="M311 290.6 307.8 290.7 295.8 289.5 293.5 288.2 292.9 287.4 292.6 285.8 293.4 284.3 294.5 283.4 299.8 281.6 303 280 309.4 279.6 311.8 279.8 314.2 280.7 315.8 281.9 316.9 283.4 317.2 285.8 316.6 287.4 315 289 311 290.6Z" fill="#c6e972" fill-rule="evenodd"/>
<path d="M309.4 289.8 303 288.8 296.6 288.9 294.2 287.4 293.8 285.8 294.2 285 295.8 283.8 300.6 282.6 303.8 281.4 308.6 280.4 311.8 280.7 313.4 281.3 315.1 282.6 315.9 284.2 316 285.8 315.2 287.4 313.4 288.9 309.4 289.8Z" fill="#d9e953" fill-rule="evenodd"/>
<path d="M311.8 288.5 308.6 288.8 303 287.4 297.4 288.1 295.6 287.4 295.1 286.6 295.1 285.8 295.8 284.9 297.4 284.2 302.2 283.8 307.8 281.5 311 281.4 313.6 282.6 314.4 283.4 314.9 285 314.2 286.8 311.8 288.5Z" fill="#e7e744" fill-rule="evenodd"/>
<path d="M311 287.6 308.6 287.7 306.2 286.8 305.2 285.8 305.1 285 305.4 284.2 307 282.9 308.6 282.3 311.8 282.7 312.8 283.4 313.5 285 312.8 286.6 311 287.6ZM298.2 286.8 297.2 286.6 297.3 285.8 299.1 285.8 299 286.6 298.2 286.8Z" fill="#eed03a" fill-rule="evenodd"/>
<path d="M311 286 310.2 286.3 308.6 286.1 307.7 285 308.6 283.9 310.2 283.6 311.4 284.2 311.7 285 311 286Z" fill="#f1ae35" fill-rule="evenodd"/>
<path d="M289.5 244.2 286.2 247.7 284.7 251.4 284.8 253 285.4 254.6 287.5 257 291.8 259 295.8 259.7 297.4 259.4 301.4 256.7 303 256.6 307 259.3 309.4 259.9 313.4 259.5 317.4 258.4 319.9 257 322 254.6 322.7 252.2 322.3 249.8 320.6 246.9 317.9 244.2M275.8 276.6 279.8 274.3 283.8 272.7 296.6 269.7 298.2 267.5 300.3 261 301.4 259.7 302.2 259.4 303 259.6 304.2 261 306.2 267 307.8 269.4 321.4 272 327 274 331 276.2M285.1 299.4 279.8 297.4 275.8 295.1M331 295.5 327 297.7 322.3 299.4M307 297 297.4 296.6 292.6 295.7 288.6 294.4 285.4 292.8 282.4 290.6 281.2 289 280.3 286.6 280.5 284.2 281.2 282.6 284.5 279.4 288.6 277.3 296.6 275 298.2 274.1 299.5 271.4 301 265 302.2 263.3 303 263.8 303.6 265 305.1 271.4 306.2 273.4 307.8 274.2 315.8 275.6 320.6 277.6 325.2 281 326.4 282.6 327.2 285 327.1 287.4 326.4 289 324.3 291.4 322.1 293 318.9 294.6 315 295.9 307 297M312.6 293.1 308.6 293.6 304.6 293.6 298.2 292.9 294.2 292 291.2 290.6 289.3 289 288.3 287.4 288.2 285 289 283.4 291 281.5 299 277.9 300.8 275.4 302.2 271.7 304.1 275.4 305.4 276.6 307 277.1 311.8 277.4 315.6 278.6 319 280.9 320.7 283.4 321.1 285 321 286.6 319.8 289 316.9 291.4 312.6 293.1M311.8 290.7 307.8 291.1 296.6 290 294.2 289.1 293 288.2 292.5 287.4 292.2 285.8 293 284.2 294.2 283.2 299.8 281.2 302.2 279.7 309.4 279.3 311.8 279.6 314.2 280.4 316.1 281.8 317.3 283.4 317.6 285 317.4 286.6 316.4 288.2 314.4 289.8 311.8 290.7M311.8 288.5 308.6 288.8 303 287.3 297.4 288.1 295.7 287.4 295.1 286.6 295.2 285.8 295.8 285 297.4 284.3 302.2 283.9 307 281.7 311 281.4 313.6 282.6 314.3 283.4 314.8 285 314.2 286.8 311.8 288.5" fill="none" stroke="#1a1a1a" stroke-width="0.7" stroke-opacity="0.85"/>
</g>
<rect x="277.2" y="265.9" width="2.8" height="12.6" rx="1.3" fill="#1f315a" stroke="#111" stroke-width="1.5"/>
<rect x="327.4" y="265.9" width="2.8" height="12.6" rx="1.3" fill="#1f315a" stroke="#111" stroke-width="1.5"/>
<path d="M299.5 249 L303.7 243.8 L307.9 249" fill="none" stroke="#231f20" stroke-width="1.8" stroke-linejoin="round"/>
<circle cx="303.7" cy="272.1" r="23.7" fill="none" stroke="#111" stroke-width="2.3"/>
<clipPath id="c28"><circle cx="377.4" cy="273.6" r="25.9"/></clipPath>
<circle cx="377.4" cy="273.6" r="29.2" fill="url(#glow)"/>
<g clip-path="url(#c28)">
<rect x="351.5" y="247.7" width="51.8" height="51.8" fill="#34378d"/>
<path d="M404.7 300.9 349.5 300.9 349.5 245.7 404.7 245.7 404.7 300.9ZM388 256.9 390 255.3 390.2 253.7 388.7 251.9 384.7 250.5 370.3 250.5 366.3 251.8 364.6 253.7 364.8 255.3 365.4 256.1 367.1 257 369.5 257.6 371.9 257.6 377.5 256.8 384.7 257.7 388 256.9Z" fill="#3943a4" fill-rule="evenodd"/>
<path d="M404.7 300.9 349.5 300.9 349.5 245.7 355 245.7 353.4 249.7 353.7 253.7 355.6 256.9 359.4 259.3 363.1 260.4 367.1 260.9 371.1 260.9 377.5 259.6 385.5 261 392.7 260.2 395.9 259.1 398.2 257.7 400.4 255.3 401.5 252.1 401.2 248.9 399.8 245.7 404.7 245.7 404.7 300.9Z" fill="#3c4db2" fill-rule="evenodd"/>
<path d="M381.5 299.4 376.7 299.7 371.9 299.2 367.9 298.1 363.9 296.4 360.7 294.2 358.3 291.8 356.5 288.9 355.5 285.7 355.4 282.5 356.2 279.3 357.7 276.1 360.1 272.9 363.9 269.5 370.3 266.2 375.1 262.6 376.7 261.9 378.3 262 379.6 262.5 383.9 265.9 389.5 268.6 393.2 271.3 395.4 273.7 397.5 276.9 398.8 280.1 399.3 282.5 399.3 284.9 398.6 288.1 397.4 290.5 395.1 293.3 391.9 295.8 388.7 297.4 381.5 299.4Z" fill="#3f59bd" fill-rule="evenodd"/>
<path d="M382.3 295.4 379.1 295.9 375.1 295.9 371.1 295.2 367.9 294.2 364.7 292.5 362.3 290.5 360.4 288.1 359.5 285.7 359.5 281.7 361.5 277.7 364.7 274.7 371.7 270.5 375.1 266 376.7 264.9 378.1 264.9 379.1 265.4 383.1 270.5 391.1 275.9 393.8 279.3 394.9 282.5 394.5 286.5 393.3 288.9 391.9 290.5 387.9 293.5 382.3 295.4Z" fill="#4367c5" fill-rule="evenodd"/>
<path d="M378.3 294.6 371.9 294.1 366.3 291.9 363.9 290.1 362.2 288.1 361.1 285.7 360.8 284.1 361.4 280.9 363.9 277.3 367.1 275 373.3 272.1 375.9 269.1 377.5 268.2 378.7 268.9 381.4 272.1 387.1 275 390.3 277.4 392.3 280.1 393.2 283.3 393 285.7 392.4 287.3 389.5 290.7 384.7 293.3 378.3 294.6Z" fill="#4876cc" fill-rule="evenodd"/>
<path d="M378.3 293.8 372.7 293.4 369.5 292.5 367.1 291.3 364.9 289.7 363.4 288.1 362.5 286.5 361.9 284.1 362 282.5 363 280.1 365.5 277.2 369.5 274.9 377.5 271.7 386.3 275.7 388.7 277.3 391.1 280.1 392.1 283.3 391.8 285.7 391.1 287.3 388.2 290.5 383.9 292.7 378.3 293.8Z" fill="#4e8cd4" fill-rule="evenodd"/>
<path d="M379.9 293 375.9 293.1 371.9 292.5 367.9 291 365.1 288.9 363.5 286.5 362.8 284.1 363.5 280.9 365.2 278.5 369.5 275.7 375.9 273.3 377.5 273.1 384.7 275.7 388.8 278.5 390.1 280.1 391 282.5 391.1 284.9 390.1 287.3 388.7 289.1 386.3 290.8 383.1 292.2 379.9 293Z" fill="#60a6db" fill-rule="evenodd"/>
<path d="M380.7 292.2 376.7 292.6 372.7 292.1 369.5 291.1 366.3 289 364.3 286.5 363.7 284.1 364 281.7 365.5 279.3 367.2 277.7 369.5 276.4 376.7 274 379.1 274.2 383.1 275.7 387.8 278.5 389.1 280.1 390.2 282.5 390.2 284.9 389.7 286.5 388.6 288.1 386.3 290.1 383.9 291.3 380.7 292.2Z" fill="#72c1e1" fill-rule="evenodd"/>
<path d="M381.5 291.5 378.3 292 374.3 291.9 371.1 291.1 367.9 289.5 365.7 287.3 364.6 284.9 364.6 282.5 365.7 280.1 367.3 278.5 369.8 276.9 373.5 275.4 376.7 274.7 380.7 275.4 386.3 278.1 388.3 280.1 389.1 281.7 389.5 284.1 389.2 285.7 388.3 287.3 386.3 289.3 383.9 290.7 381.5 291.5Z" fill="#80cee3" fill-rule="evenodd"/>
<path d="M379.9 291.3 376.7 291.5 373.5 291.2 370.3 290.1 367.9 288.7 366.3 287 365.4 284.9 365.4 282.5 366.6 280.1 368.3 278.5 370.3 277.3 373.5 276 376.7 275.3 379.1 275.5 381.5 276.3 386.3 279 387.9 280.9 388.6 282.5 388.6 284.9 388 286.5 386.7 288.1 384.7 289.6 379.9 291.3Z" fill="#8ed9e1" fill-rule="evenodd"/>
<path d="M380.7 290.6 377.5 291 374.3 290.8 371.9 290.2 369.3 288.9 367.5 287.3 366.2 284.9 366.2 282.5 367.1 280.7 368.3 279.3 370.8 277.7 376.7 275.8 379.9 276.3 384.7 278.5 386.5 280.1 387.5 281.7 387.9 283.3 387.8 284.9 387.1 286.5 385.5 288.3 383.2 289.7 380.7 290.6Z" fill="#9de0c1" fill-rule="evenodd"/>
<path d="M381.5 289.7 378.3 290.4 375.9 290.4 372.7 289.8 370.3 288.7 368.5 287.3 367.1 284.9 367.1 282.7 367.9 280.9 370.7 278.5 375.9 276.5 379.1 276.7 383.4 278.5 386.1 280.9 386.9 282.5 387 284.1 386.6 285.7 385.5 287.3 383.4 288.9 381.5 289.7Z" fill="#aee79e" fill-rule="evenodd"/>
<path d="M378.3 289.7 375.7 289.7 372.7 289 370.8 288.1 369 286.5 368.2 284.9 368 283.3 368.5 281.7 369.8 280.1 374 277.7 377.5 277.1 381.5 278.3 384.7 280.6 386 283.3 385.8 284.9 385 286.5 382.3 288.6 378.3 289.7Z" fill="#c6e972" fill-rule="evenodd"/>
<path d="M377.5 288.9 374.3 288.5 371.9 287.6 370.3 286.2 369.4 284.1 370 281.7 371.4 280.1 374.1 278.5 376.7 277.8 379.1 278.1 381.7 279.3 383.6 280.9 384.7 283.3 384.1 285.7 382.6 287.3 380.7 288.3 377.5 288.9Z" fill="#d9e953" fill-rule="evenodd"/>
<path d="M379.1 287.4 375.1 287.3 372.3 285.7 371.8 284.9 371.5 283.3 372.7 280.9 375.1 279.3 377.5 278.8 379.3 279.3 381.6 280.9 382.6 282.5 382.5 284.9 381 286.5 379.1 287.4Z" fill="#e7e744" fill-rule="evenodd"/>
<path d="M372.3 300.9 367.9 299.9 363.9 298.4 360.7 296.6 357.5 293.9 355.4 291.3 353.9 288.1 353.2 284.9 353.4 281.7 354.2 278.5 355.7 275.3 358 272.1 360.7 269.5 364.7 266.9 370.3 264.7 375.4 261.7 377.5 261.3 379.4 261.7 383.9 264.5 390.3 267 394.3 269.6 396.8 272.1 399.1 275.3 400.6 278.5 401.4 281.7 401.6 284.9 400.9 288.1 399.4 291.3 397.5 293.7 394.8 296.1 391.1 298.3 387.1 299.9 382.5 300.9M379.1 294.6 375.9 294.6 371.9 294.1 366.3 291.9 363.9 290.2 362.1 288.1 361.3 286.5 360.8 284.1 361.3 280.9 363.9 277.2 367.1 274.9 373.1 272.1 375.9 268.9 377.5 268 379.1 269.1 381.5 272.1 387.1 275 390.3 277.3 392.4 280.1 393.3 283.3 393.1 285.7 392.4 287.3 389.5 290.8 384.7 293.4 379.1 294.6M379.1 293 375.1 293 371.1 292.2 367.9 290.8 365.3 288.9 363.6 286.5 363 283.3 363.6 280.9 365.5 278.4 369.5 275.8 375.9 273.5 377.5 273.3 384.7 275.8 388.7 278.6 389.9 280.1 390.9 282.5 390.9 284.9 390 287.3 387.9 289.6 385.5 291.2 382.3 292.4 379.1 293M381.5 291.3 378.3 291.8 374.3 291.7 371.1 290.9 367.9 289.2 366 287.3 364.9 284.9 364.9 282.5 366 280.1 367.6 278.5 370.2 276.9 376.7 274.9 380.7 275.6 386.3 278.4 388 280.1 388.9 281.7 389.2 284.1 388.9 285.7 388 287.3 386.3 289 383.9 290.5 381.5 291.3M379.1 290.6 375.9 290.6 373.5 290.3 371.1 289.5 368.7 288 367.1 285.9 366.6 284.1 367 281.7 368.1 280.1 371.6 277.7 376.7 276.2 380.7 276.9 383.9 278.5 385.5 279.7 387 281.7 387.4 283.3 387.3 284.9 386.6 286.5 383.9 289 379.1 290.6M379.1 289 374.7 288.9 371 287.3 369.5 285.7 369 284.1 369.2 282.5 370.1 280.9 373.6 278.5 376.7 277.6 379.9 278.2 383.2 280.1 384.9 282.5 385.1 284.1 384.7 285.3 383.1 287.3 379.1 289" fill="none" stroke="#1a1a1a" stroke-width="0.7" stroke-opacity="0.85"/>
</g>
<rect x="350.9" y="267.4" width="2.8" height="12.6" rx="1.3" fill="#1b224f" stroke="#111" stroke-width="1.5"/>
<rect x="401.1" y="267.4" width="2.8" height="12.6" rx="1.3" fill="#1b224f" stroke="#111" stroke-width="1.5"/>
<path d="M373.2 250.5 L377.4 245.3 L381.6 250.5" fill="none" stroke="#231f20" stroke-width="1.8" stroke-linejoin="round"/>
<circle cx="377.4" cy="273.6" r="23.7" fill="none" stroke="#111" stroke-width="2.3"/>
<clipPath id="c29"><circle cx="454.5" cy="273" r="25.9"/></clipPath>
<circle cx="454.5" cy="273" r="29.2" fill="url(#glow)"/>
<g clip-path="url(#c29)">
<rect x="428.6" y="247.1" width="51.8" height="51.8" fill="#343890"/>
<path d="M481.8 300.3 426.6 300.3 426.6 245.1 481.8 245.1 481.8 300.3ZM448.4 257.9 451.9 256.3 453.2 254.7 453.1 253.9 451.4 252.4 449 251.5 445.8 251.5 443.4 252.5 442 253.9 441.8 255.5 443 257.1 445 257.9 448.4 257.9ZM464.2 257.9 466 257.1 467.2 255.5 467 253.9 465 252.1 462.6 251.4 460.2 251.5 457.7 252.3 455.9 253.9 455.8 254.7 456.3 255.5 458.3 257.1 461 258 464.2 257.9Z" fill="#3943a4" fill-rule="evenodd"/>
<path d="M461 298 457 298.6 453 298.6 449.8 298.1 445.8 296.7 442.6 295 440.4 293.1 438.4 290.7 437.1 288.3 436.4 285.1 436.7 281.1 441.3 269.1 443.1 265.9 444.5 264.3 446.6 262.8 448.6 261.9 452.2 260.9 455.4 260.7 460.4 261.9 463.6 263.5 465.4 265.1 467.1 267.5 473.4 280.3 474 283.5 473.9 285.9 473.3 288.3 472 290.7 470.1 293.1 467.4 295.2 464.2 296.9 461 298Z" fill="#3c4db2" fill-rule="evenodd"/>
<path d="M460.2 293.2 457.8 293.7 454.6 293.9 452.2 293.6 449 292.7 444.8 289.9 443 287.5 442.4 285.9 442 283.5 442.4 281.1 446.2 269.9 447.4 267.9 449 266.1 452.2 264.5 454.6 264.2 457 264.5 459.4 265.6 461 267 463 269.9 468.6 281.9 468.7 285.1 467.3 288.3 464.2 291.4 460.2 293.2Z" fill="#3f59bd" fill-rule="evenodd"/>
<path d="M456.2 292.3 452.2 292 448.2 290.4 445 287.5 443.8 284.3 443.8 282.7 444.6 280.3 447.9 275.5 449.9 270.7 451.4 268.8 453.8 267.8 456.2 268 458.6 269.7 461.5 274.7 466 279.5 467.3 282.7 467 285.9 466.1 287.5 464.2 289.6 460.2 291.6 456.2 292.3Z" fill="#4367c5" fill-rule="evenodd"/>
<path d="M456.2 291.6 452.2 291.2 448.2 289.5 446.1 287.5 444.8 284.3 445.2 281.1 447.4 278 451.4 275 454.6 273.8 458.6 274.9 462.6 277.1 465 279.5 466.4 282.7 466 285.9 464.2 288.5 461 290.5 456.2 291.6Z" fill="#4876cc" fill-rule="evenodd"/>
<path d="M458.6 290.7 455.4 291 451.4 290.4 448.8 289.1 446.6 287 445.5 284.3 445.7 281.9 447 279.5 449 277.6 453 275.7 457 275.6 461 276.9 464.3 279.5 465.7 282.7 465.3 285.9 464.3 287.5 462.6 289 458.6 290.7Z" fill="#4e8cd4" fill-rule="evenodd"/>
<path d="M459.4 290 456.2 290.6 453 290.3 450.6 289.5 448.2 288 446.6 285.9 446.1 283.5 446.7 281.1 447.8 279.5 451.4 277 455.4 276.1 459.4 276.8 462.8 278.7 464.2 280.3 465 281.9 465.2 283.5 465 285.1 464.2 286.7 462.7 288.3 459.4 290Z" fill="#60a6db" fill-rule="evenodd"/>
<path d="M457.8 290 454.6 290.1 452.2 289.6 449.8 288.6 447.7 286.7 446.9 285.1 446.8 282.7 447.8 280.3 449.8 278.4 453 277 457 276.7 461 278 463.6 280.3 464.6 282.7 464.7 284.3 464.1 285.9 461.8 288.4 457.8 290Z" fill="#72c1e1" fill-rule="evenodd"/>
<path d="M459.4 289.1 457 289.7 453.8 289.6 451.4 288.9 449.2 287.5 447.9 285.9 447.3 284.3 447.6 281.9 448.5 280.3 451.4 278.1 454.6 277.2 458.6 277.5 461.8 279 463.6 281.1 464.1 282.7 464.1 284.3 463.6 285.9 462.6 287.2 459.4 289.1Z" fill="#80cee3" fill-rule="evenodd"/>
<path d="M457.8 289.1 455.4 289.3 453 289 450.6 287.9 449 286.6 448.1 285.1 447.9 282.7 448.6 281.1 450 279.5 453 278 457 277.6 460.2 278.5 462.5 280.3 463.6 282.7 463.6 284.3 463 285.9 461 287.9 457.8 289.1Z" fill="#8ed9e1" fill-rule="evenodd"/>
<path d="M458.6 288.5 456.2 288.8 453.8 288.6 451.4 287.8 449.9 286.7 448.8 285.1 448.5 283.5 448.8 281.9 449.9 280.3 452.4 278.7 456.2 278 459.4 278.6 461.8 280.1 463.1 282.7 462.9 285.1 461 287.3 458.6 288.5Z" fill="#9de0c1" fill-rule="evenodd"/>
<path d="M456.2 288.3 453.8 288.1 451.4 287.1 449.8 285.6 449.2 283.5 450.1 281.1 452 279.5 454 278.7 457 278.5 459.4 279.1 461 280 462.4 281.9 462.7 283.5 462.3 285.1 461 286.7 458.6 287.9 456.2 288.3Z" fill="#aee79e" fill-rule="evenodd"/>
<path d="M457.8 287.6 454 287.5 451.1 285.9 450.1 283.5 451.1 281.1 453.4 279.5 456.2 279 459.3 279.5 461 280.7 462.1 282.7 461.8 284.7 460.2 286.6 457.8 287.6Z" fill="#c6e972" fill-rule="evenodd"/>
<path d="M457.8 286.8 454.7 286.7 452.2 285.3 451.4 283.5 451.9 281.9 452.5 281.1 454.6 279.9 457 279.5 459.4 280.1 460.7 281.1 461.4 282.7 461.3 284.3 460 285.9 457.8 286.8Z" fill="#d9e953" fill-rule="evenodd"/>
<path d="M459.4 285.2 457 285.7 455.3 285.1 454.2 283.5 454.3 281.9 454.9 281.1 457 280.3 459.4 280.9 460.7 282.7 460.3 284.3 459.4 285.2Z" fill="#e7e744" fill-rule="evenodd"/>
<path d="M458.6 284 457.1 283.5 456.8 282.7 457.1 281.9 458.6 281.7 459.4 282.6 459.3 283.5 458.6 284Z" fill="#eed03a" fill-rule="evenodd"/>
<path d="M458.6 294 453 294.2 448.2 292.8 445.8 291.4 443.5 289.1 442.2 286.7 441.8 285.1 441.7 282.7 442.2 280.3 446.1 269.1 447.4 267.1 449 265.5 450.6 264.6 453 263.8 455.4 263.8 457.8 264.3 461.4 266.7 463.5 269.9 468.9 281.9 468.8 285.9 467.2 289.1 463.4 292.3 458.6 294M455.4 291.5 451.4 290.9 447.8 289.1 445.7 286.7 444.8 283.5 445.3 281.1 447.4 278.1 451.4 275.2 454.6 274.1 458.6 275 462.6 277.2 465.5 280.3 466.4 283.5 465.6 286.7 463.4 289.1 459.4 291 455.4 291.5M458.6 290.1 456.2 290.4 453 290.2 450.1 289.1 448 287.5 446.5 285.1 446.4 282.7 447.4 280.3 448.9 278.7 452.2 276.9 456.2 276.3 460.2 277.3 463.4 279.5 464.5 281.1 465 282.7 465 284.3 464.5 285.9 462.5 288.3 458.6 290.1M458.6 289.1 456.2 289.5 453.8 289.3 451.4 288.6 449.6 287.5 448.2 285.9 447.6 284.3 447.9 281.9 449 280.2 452.2 278 455.4 277.4 459.4 278 462 279.5 463.7 281.9 463.9 283.5 463.6 285.1 461.8 287.5 458.6 289.1M457 288.4 453 288 451.4 287.3 449.8 285.8 449.1 284.3 449.1 282.7 449.9 281.1 451.7 279.5 454.6 278.5 457.8 278.5 460.2 279.3 462.1 281.1 462.8 283.5 461.9 285.9 459.9 287.5 457 288.4M457.8 286.8 454.9 286.7 452.2 285.2 451.5 283.5 452 281.9 452.6 281.1 454.6 280 457 279.6 459.4 280.2 460.6 281.1 461.4 282.7 461.2 284.3 459.9 285.9 457.8 286.8" fill="none" stroke="#1a1a1a" stroke-width="0.7" stroke-opacity="0.85"/>
</g>
<rect x="428.1" y="266.8" width="2.8" height="12.6" rx="1.3" fill="#191e4a" stroke="#111" stroke-width="1.5"/>
<rect x="478.2" y="266.8" width="2.8" height="12.6" rx="1.3" fill="#191e4a" stroke="#111" stroke-width="1.5"/>
<path d="M450.3 249.9 L454.5 244.7 L458.7 249.9" fill="none" stroke="#231f20" stroke-width="1.8" stroke-linejoin="round"/>
<circle cx="454.5" cy="273" r="23.7" fill="none" stroke="#111" stroke-width="2.3"/>
<clipPath id="c30"><circle cx="532" cy="273.3" r="25.9"/></clipPath>
<circle cx="532" cy="273.3" r="29.2" fill="url(#glow)"/>
<g clip-path="url(#c30)">
<rect x="506.1" y="247.4" width="51.8" height="51.8" fill="#353b96"/>
<path d="M559.3 300.6 504.1 300.6 504.1 245.4 559.3 245.4 559.3 300.6ZM526.3 257.4 527.4 256.6 527.5 255.8 526.5 254.7 524.1 254.6 523.2 255 522.6 255.8 522.7 256.6 523.8 257.4 526.3 257.4ZM540.3 257.4 541.3 256.6 541.4 255.8 540.1 254.6 537.7 254.6 536.5 255.8 536.6 256.6 537.7 257.4 540.3 257.4Z" fill="#3943a4" fill-rule="evenodd"/>
<path d="M559.3 300.6 504.1 300.6 504.1 245.4 559.3 245.4 559.3 300.6ZM540.9 259.8 544.7 258.2 545.9 256.6 546 255 545.2 253.4 543.3 251.7 538.5 249.9 532.1 249.1 524.9 250 522.5 250.8 520.1 252.1 518.8 253.4 518 255 518.1 256.6 519.2 258.2 522.5 259.7 526.5 259.9 532.1 258.6 536.9 259.9 540.9 259.8Z" fill="#3c4db2" fill-rule="evenodd"/>
<path d="M537.7 300.6 526.2 300.6 520.9 299 516.9 296.8 513.7 294.3 511.4 291.8 509.4 288.6 507.9 284.6 507.4 281.4 507.6 277.4 508.5 274.2 510.1 271 511.9 268.6 515.7 264.6 518.5 262.4 521.7 261.7 528.1 262.3 536.9 262.4 542.5 261.7 544.9 262 546.8 263 549.4 265.4 552.8 269.4 554.8 272.6 556.4 277.4 556.6 281.4 555.9 285.4 554.2 289.4 551.2 293.4 547.3 296.7 542.5 299.2 537.7 300.6ZM533.8 272.6 534.5 271.2 534.5 270.1 533.7 268.9 532.9 268.7 532.1 269.3 531.7 270.2 531.8 271.8 532.9 272.9 533.8 272.6Z" fill="#3f59bd" fill-rule="evenodd"/>
<path d="M537.7 295.2 530.5 295.7 524.1 294.6 519.3 291.9 515.6 287.8 514.4 285.4 513.9 283 513.7 279.8 514.1 276.6 516.8 268.6 518.2 266.2 520.1 264.5 521.7 263.9 523.3 263.9 530 266.2 530.6 267 531.1 271.8 532.1 273.3 532.9 273.6 533.8 273.4 535 271.8 535.5 267 536 266.2 539 264.6 540.9 264 543.3 264.1 545.4 265.4 547.2 267.8 548.6 271 550.2 277.4 550.3 282.2 549.6 285.4 548 288.6 544.9 291.9 541.7 293.9 537.7 295.2Z" fill="#4367c5" fill-rule="evenodd"/>
<path d="M538.5 292.7 531.3 293.3 525.7 292.8 521.7 291.1 518.2 287.8 516.9 285.4 516.3 283 516.3 276.6 517.7 270.2 518.9 267.8 520.1 266.4 521.7 265.6 523.3 265.6 528.1 267.9 529.5 269.4 531.3 273.3 532.9 274.2 534.6 273.4 535.7 271.8 536.9 268.5 539.3 266.4 540.9 265.7 542.5 265.6 544.1 266.3 545.5 267.8 547 271 547.8 275 548.1 280.6 547.6 284.6 546 287.8 544.1 289.9 541.7 291.6 538.5 292.7Z" fill="#4876cc" fill-rule="evenodd"/>
<path d="M536.1 291.8 528.9 291.9 524.9 291.3 521.7 289.7 519.1 287 518 284.6 517.5 282.2 517.6 275.8 518.8 270.2 519.7 268.6 520.9 267.4 523.3 267 527.3 269 528.9 270.4 531.3 273.9 532.9 274.7 534.3 274.2 535.2 273.4 537.7 269.4 540.1 267.4 542.5 267 544 267.8 544.9 268.8 546.2 271.8 546.8 276.6 546.8 282.2 546 285.4 544.5 287.8 542.5 289.7 539.3 291.3 536.1 291.8Z" fill="#4e8cd4" fill-rule="evenodd"/>
<path d="M534.5 291 528.1 291 524.9 290.4 521.7 288.6 519.6 286.2 518.4 282.2 518.5 275.8 519.4 271 521.1 268.6 522.5 268.1 524.9 268.9 528.1 270.9 531.3 274.5 532.9 275.1 534.9 274.2 538.5 269.9 540.9 268.3 542.5 268.3 543.2 268.6 544.6 270.2 545.6 273.4 546 277.4 545.9 282.2 545 285.4 543.4 287.8 540.9 289.7 537.7 290.8 534.5 291Z" fill="#60a6db" fill-rule="evenodd"/>
<path d="M536.1 290.3 528.9 290.4 525.7 289.9 522.5 288.4 520.5 286.2 519.2 282.2 519.2 275.8 519.9 271.8 520.8 270.2 521.7 269.5 523.3 269.3 524.9 270 528.1 271.9 531.3 275 532.9 275.5 534.5 275 538.5 271 540.9 269.5 542.5 269.5 544.1 271 544.9 273.4 545.3 277.4 545.3 281.4 544.6 284.6 543.2 287 541.4 288.6 539.3 289.7 536.1 290.3Z" fill="#72c1e1" fill-rule="evenodd"/>
<path d="M537.7 289.5 533.7 289.8 527.3 289.7 524.1 288.7 521.7 286.9 520.1 283.8 519.6 279.8 520.1 273.8 520.8 271.8 521.7 270.7 523.3 270.4 524.9 271 528.1 272.7 531.3 275.5 532.9 275.9 535.1 275 540.1 270.9 541.7 270.4 543.3 271.4 544.2 273.4 544.7 276.6 544.7 280.6 544.2 283.8 543.1 286.2 541.7 287.7 540.1 288.7 537.7 289.5Z" fill="#80cee3" fill-rule="evenodd"/>
<path d="M538.5 288.8 534.5 289.3 527.3 289.2 524.9 288.6 522.5 287 520.9 284.6 520.2 281.4 520.4 275.8 520.9 273.6 521.7 272.1 523.3 271.4 524.9 271.9 528.1 273.4 531.3 275.9 532.9 276.3 534.5 275.8 540.1 271.8 541.7 271.6 542.5 272 543.4 273.4 544 275.8 544.2 279.8 543.9 283 543 285.4 541.7 287 538.5 288.8Z" fill="#8ed9e1" fill-rule="evenodd"/>
<path d="M536.9 288.7 527.3 288.8 524.9 288.1 522.5 286.3 521.1 283.8 520.6 279.8 521.2 275 522.5 272.8 524.1 272.5 526.5 273.2 531.3 276.4 532.9 276.8 534.5 276.2 539.3 273 540.9 272.6 542.5 273.4 543.3 275.4 543.7 278.2 543.7 281.4 543.2 283.8 542.5 285.4 540.9 287.1 539.3 288.1 536.9 288.7Z" fill="#9de0c1" fill-rule="evenodd"/>
<path d="M538.5 287.9 535.3 288.5 528.1 288.5 525.7 288 523.3 286.5 521.9 284.6 521.1 281.4 521.4 276.6 522.5 274 524.1 273.4 526.5 273.9 531.3 276.8 532.9 277.2 534.5 276.6 539.3 273.7 540.9 273.6 541.7 273.9 542.5 275.1 543.1 277.4 543 283 541.3 286.2 538.5 287.9Z" fill="#aee79e" fill-rule="evenodd"/>
<path d="M536.9 287.9 528.1 288.1 525.7 287.6 523.5 286.2 522 283.8 521.5 281.4 521.8 277.4 522.8 275 524.1 274.2 526.5 274.5 531.3 277.3 532.9 277.6 534.5 277 538.5 274.6 540.1 274.4 541.5 275 542.4 276.6 542.8 279 542.8 281.4 542.3 283.8 541.4 285.4 540.1 286.7 536.9 287.9Z" fill="#c6e972" fill-rule="evenodd"/>
<path d="M534.5 287.8 527.3 287.7 524.9 286.8 523.3 285.4 522.2 283 521.9 280.6 522.4 277.4 523.3 275.6 524.9 274.9 526.5 275.1 531.3 277.8 532.9 278 538.5 275.2 540.1 275.1 541.2 275.8 542 277.4 542.4 279.8 542.3 282.2 541.5 284.6 540.1 286.2 538.8 287 534.5 287.8Z" fill="#d9e953" fill-rule="evenodd"/>
<path d="M537.7 287 535.3 287.4 528.9 287.5 526.5 287.1 524.7 286.2 523.2 284.6 522.4 282.2 522.5 279 523.3 276.7 524.9 275.6 526.5 275.7 531.3 278.2 532.9 278.4 537.7 276.1 540.1 275.9 541 276.6 541.7 278.2 542 280.6 541.7 283 540.4 285.4 537.7 287Z" fill="#e7e744" fill-rule="evenodd"/>
<path d="M536.1 287 528.1 287.1 524.9 285.9 523.6 284.6 522.8 282.2 523 279 524.1 276.8 524.9 276.3 526.5 276.2 532.1 278.9 533.7 278.7 537.7 276.6 539.3 276.4 540.1 276.7 540.9 277.6 541.5 279.8 541.5 282.2 541 283.8 539.3 285.9 536.1 287Z" fill="#eed03a" fill-rule="evenodd"/>
<path d="M537.7 286.3 535.3 286.8 529.7 286.9 527.3 286.6 525.7 286 524.1 284.6 523.3 283 523.2 280.6 523.8 278.2 524.9 277.1 526.5 276.8 531.3 279.2 532.9 279.3 537.7 277.1 539.8 277.4 541.1 279.8 540.9 283 540.1 284.6 537.7 286.3Z" fill="#f1ae35" fill-rule="evenodd"/>
<path d="M536.1 286.3 528.9 286.5 525.7 285.6 524.6 284.6 523.7 283 523.6 280.6 524.1 278.8 524.9 277.8 526.5 277.4 531.3 279.7 532.9 279.8 537.7 277.7 539.3 277.8 540.1 278.6 540.6 279.8 540.5 283 538.7 285.4 536.1 286.3Z" fill="#ef8e31" fill-rule="evenodd"/>
<path d="M530.5 286.2 527.3 285.9 524.9 284.4 524.2 283 524 281.4 524.2 279.8 524.9 278.7 525.7 278.1 527.3 278.1 532.1 280.3 533.7 280.1 537.7 278.2 538.5 278.2 539.6 279 540.3 280.6 540.3 282.2 539.7 283.8 538.5 285.1 536.1 286 530.5 286.2Z" fill="#eb6e2d" fill-rule="evenodd"/>
<path d="M536.9 285.4 529.7 285.8 526.5 285.2 525.6 284.6 524.6 283 524.4 281.4 524.8 279.8 525.7 278.9 527.3 278.7 531.3 280.7 532.9 280.8 536.9 279.1 538.5 279 539.4 279.8 539.8 282.2 538.5 284.6 536.9 285.4Z" fill="#e7522a" fill-rule="evenodd"/>
<path d="M530.5 285.4 527.3 285.1 525.7 284 524.9 282.2 525.1 280.6 525.7 279.7 527.3 279.4 532.1 281.4 533.7 281.2 537.7 279.6 538.5 279.8 539.1 280.6 539.1 283 537.7 284.6 535.3 285.2 530.5 285.4Z" fill="#e04629" fill-rule="evenodd"/>
<path d="M536.1 284.6 529.7 285 527.3 284.6 525.7 283.1 525.5 281.4 526.5 280.2 527.3 280.1 531.3 281.9 532.9 282.1 536.4 280.6 537.7 280.4 538.6 281.4 538.5 283 537.7 283.9 536.1 284.6Z" fill="#da3928" fill-rule="evenodd"/>
<path d="M531.3 283.9 528.9 284.4 527.3 284 526.4 283 526.4 281.4 527.3 281 528.8 281.4 531.5 283 531.8 283.8 531.3 283.9ZM536.1 283.9 533.7 283.8 533.6 283 537 281.4 537.7 282 537.5 283 536.1 283.9Z" fill="#d03027" fill-rule="evenodd"/>
<path d="M536.1 295.1 528.9 295.2 523.3 293.9 518.7 291 515.5 287 514.2 282.2 514.7 275.8 517 268.6 518.5 266.2 520.1 264.8 521.7 264.2 523.3 264.1 529.7 266.5 530.5 267.8 531 271.8 532.1 273.4 532.9 273.7 533.9 273.4 535.1 271.8 536.1 266.7 539.3 264.7 541.7 264.1 543.3 264.3 545.1 265.4 547 267.8 548.6 271.8 549.9 278.2 549.9 282.2 549.3 285.4 547 289.4 544.1 292.1 540.9 293.9 536.1 295.1M538.5 290.3 534.5 290.7 526.5 290.5 523.3 289.3 520.6 287 519 283.8 518.7 278.2 519.2 272.6 520.9 269.3 522.5 268.6 524.1 269 528.1 271.3 531.3 274.7 532.9 275.3 535.2 274.2 537.7 271.2 540.1 269.2 542.5 268.8 544.1 270.1 544.9 271.8 545.5 275 545.7 280.6 545.2 283.8 544.2 286.2 543 287.8 540.9 289.3 538.5 290.3M537.7 288.7 533.7 289 527.3 288.9 524.9 288.2 522.5 286.5 521 283.8 520.5 280.6 521 275 522.3 272.6 524.1 272.3 526.5 273.1 531.3 276.3 532.9 276.6 534.5 276.1 537.7 273.7 540.1 272.5 541.7 272.4 542.5 273 543.3 274.7 543.8 277.4 543.8 281.4 543.3 283.8 542.6 285.4 541.2 287 537.7 288.7M533.7 287.8 527.3 287.6 524.9 286.8 523.3 285.4 522.2 283 522 280.6 522.4 277.4 523.3 275.7 524.9 275 526.5 275.1 531.3 277.8 532.9 278 538.5 275.3 540.1 275.2 541.1 275.8 542 277.4 542.4 279.8 542.3 282.2 541.5 284.6 540.1 286.2 538.5 287.1 533.7 287.8M536.9 286.4 528.9 286.7 525.7 285.9 524.3 284.6 523.5 283 523.3 280.6 524.1 278.1 524.9 277.3 526.5 277 531.3 279.4 532.9 279.5 537.7 277.3 539.4 277.4 540.3 278.2 540.9 279.7 540.8 283 539.3 285.3 536.9 286.4M535.3 285.4 528.9 285.6 526.5 284.9 524.9 283 524.9 280.6 525.7 279.5 526.5 279.1 528.1 279.5 532.1 281.2 533.7 281 536.9 279.5 538.5 279.5 539.3 280.6 539.3 283 537.7 284.7 535.3 285.4" fill="none" stroke="#1a1a1a" stroke-width="0.7" stroke-opacity="0.85"/>
</g>
<rect x="505.6" y="267.1" width="2.8" height="12.6" rx="1.3" fill="#1b2452" stroke="#111" stroke-width="1.5"/>
<rect x="555.6" y="267.1" width="2.8" height="12.6" rx="1.3" fill="#1b2452" stroke="#111" stroke-width="1.5"/>
<path d="M527.8 250.2 L532 245 L536.2 250.2" fill="none" stroke="#231f20" stroke-width="1.8" stroke-linejoin="round"/>
<circle cx="532" cy="273.3" r="23.7" fill="none" stroke="#111" stroke-width="2.3"/>
<clipPath id="c31"><circle cx="609.4" cy="271.8" r="25.9"/></clipPath>
<circle cx="609.4" cy="271.8" r="29.2" fill="url(#glow)"/>
<g clip-path="url(#c31)">
<rect x="583.5" y="245.9" width="51.8" height="51.8" fill="#4367c5"/>
<path d="M636.7 299.3 581.3 299.1 581.5 243.7 636.9 243.9 636.7 299.3ZM603.5 255.1 603.7 254.3 602.7 253.5 601.5 253.6 600.8 254.3 601.5 255.3 603.5 255.1ZM617.6 255.1 618 254.3 617 253.5 615.9 253.5 615 254.3 615.3 255.1 615.9 255.4 617.6 255.1Z" fill="#4876cc" fill-rule="evenodd"/>
<path d="M636.7 299.2 581.4 299.1 581.5 243.8 636.8 243.9 636.7 299.2ZM604.2 255.9 604.9 255.1 605 254.3 603.9 253.1 601.5 252.7 600 253.5 599.7 254.3 599.8 255.1 600.7 255.9 602.3 256.3 604.2 255.9ZM618.2 255.9 619 255.1 619.1 254.3 618.8 253.5 617.5 252.7 615.1 253 613.8 254.3 613.9 255.1 615.1 256.2 616.7 256.4 618.2 255.9Z" fill="#4e8cd4" fill-rule="evenodd"/>
<path d="M636.7 299.2 581.4 299.1 581.5 243.8 636.8 243.9 636.7 299.2ZM604.4 256.7 605.6 255.9 606 255.1 605.6 253.5 604.7 252.7 603.1 252.1 601.5 252 599.9 252.6 599 253.5 598.9 255.1 599.9 256.2 602.3 257.1 604.4 256.7ZM618.1 256.7 619.9 255.1 619.8 253.5 619 252.7 617.5 252.1 615.9 252 614.3 252.6 613.2 253.5 612.8 255.1 614.3 256.7 615.9 257.1 618.1 256.7Z" fill="#60a6db" fill-rule="evenodd"/>
<path d="M636.7 299.2 581.4 299.1 581.5 243.8 636.8 243.9 636.7 299.2ZM604.6 257.5 606.2 256.7 607.2 255.1 606.7 253.5 605.9 252.7 603.9 251.7 602.3 251.4 599.9 251.9 598.7 252.7 598 254.3 598.3 255.5 599.1 256.5 601.5 257.6 604.6 257.5ZM617.8 257.5 619.5 256.7 620.7 255.1 620.6 253.5 619.9 252.5 618.3 251.7 615.9 251.5 613.5 252.3 612.1 253.5 611.5 255.1 612.7 256.8 615.1 257.7 617.8 257.5ZM610.5 267.1 610.3 266.3 609.3 266.3 609.1 267.1 609.5 267.9 610.3 267.6 610.5 267.1Z" fill="#72c1e1" fill-rule="evenodd"/>
<path d="M636.7 299.2 581.4 299.1 581.5 243.8 636.8 243.9 636.7 299.2ZM617.5 258.3 620.6 256.7 621.2 255.9 621.6 254.3 620.7 252.3 618.3 251 616.7 250.8 614.3 251.2 609.5 254.2 604.7 251.3 601.5 250.9 599.1 251.6 597.3 253.5 597.2 255.1 598.2 256.7 599.9 257.8 601.5 258.3 605.5 258.2 609.5 256.2 613.5 258.3 615.1 258.6 617.5 258.3ZM610.6 268.7 611.2 267.9 611.3 266.3 610.3 264.8 609.5 264.7 608.5 265.5 608.3 267.1 608.7 268.1 609.5 268.9 610.6 268.7Z" fill="#80cee3" fill-rule="evenodd"/>
<path d="M636.7 299.2 581.4 299.1 581.5 243.8 636.8 243.9 636.7 299.2ZM617.7 259.1 620.9 257.5 622.5 255.1 622 252.7 620.7 251.4 619.1 250.6 615.1 250.3 609.5 252.4 604.7 250.6 601.5 250.2 598.3 251.2 596.4 253.5 596.3 255.1 597.1 256.7 598.3 257.8 600.7 258.9 603.9 259.5 611.1 259.9 617.7 259.1ZM610.8 269.5 611.8 267.9 612 265.5 611.1 263.4 610.3 262.8 609.5 262.8 607.9 264.8 607.7 267.1 608.5 268.7 609.5 269.7 610.8 269.5Z" fill="#8ed9e1" fill-rule="evenodd"/>
<path d="M636.7 299.1 581.5 299.1 581.5 243.9 636.7 243.9 636.7 299.1ZM611 270.3 612.4 267.9 613.1 263.9 613.9 262.3 615.1 261.4 620.7 258.8 622.9 256.7 623.6 254.3 622.6 251.9 619.9 250 616.7 249.5 614.3 249.7 609.5 251.1 604.7 249.7 602.3 249.5 599.9 249.7 597.5 250.7 596.2 251.9 595.3 253.5 595.3 255.1 595.9 256.7 598.3 258.9 604.7 261.2 606.3 262.3 606.7 263.1 607.2 267.1 607.9 268.7 609.5 270.5 610.3 270.6 611 270.3Z" fill="#9de0c1" fill-rule="evenodd"/>
<path d="M636.7 299.1 581.5 299.1 581.5 243.9 636.7 243.9 636.7 299.1ZM611.2 271.1 612.4 269.5 613.9 265.5 615.1 263.6 616.7 262.3 622.3 259.4 624.1 257.5 624.9 255.9 625.1 254.3 624.3 251.9 621.5 249.5 617.5 248.4 615.1 248.5 609.5 249.7 603.9 248.5 601.5 248.4 598.3 249.1 596 250.3 594.5 251.9 593.8 253.5 593.9 255.9 594.7 257.5 597.5 259.9 604.7 263.1 606 264.7 607 267.9 608.7 270.6 610.3 271.5 611.2 271.1Z" fill="#aee79e" fill-rule="evenodd"/>
<path d="M636.7 299.1 581.5 299.1 581.5 243.9 599.2 243.9 596.7 244.4 593.5 245.9 590.5 248.7 589.6 250.3 589 252.7 589 254.3 589.8 256.7 591.3 259.1 593.5 260.9 601.5 263 604.7 264.7 607.9 270.3 609.5 272.1 610.3 272.3 611.9 271.4 614.3 266.5 615.9 264.4 619.1 262.6 625.5 261 627.6 259.1 629.4 255.9 629.8 253.5 629.7 251.9 629.2 250.3 627.9 248.2 626.3 246.7 623.9 245.2 619.6 243.9 636.7 243.9 636.7 299.1Z" fill="#c6e972" fill-rule="evenodd"/>
<path d="M607.9 293.6 603.1 293.9 598.3 293.1 594.3 291.1 590.5 287.9 587.6 283.9 586.1 279.9 586 275.9 587.3 271.9 588.9 269.5 591.1 267.1 594.3 264.9 596.7 264 600.7 263.9 603.9 265.2 605.5 266.9 608.7 272.1 610.3 273.1 611.9 272.3 615.1 266.6 617.5 264.4 620.7 263.6 623.9 264.5 627.5 267.9 630.6 271.9 631.8 274.3 632.3 276.7 632.3 279.1 630.9 283.1 627.5 287.1 622.3 290.5 616.7 292.2 607.9 293.6Z" fill="#d9e953" fill-rule="evenodd"/>
<path d="M609.5 290.3 603.9 291 599.9 290.6 596.7 289.2 593.5 286.4 591.5 283.1 590.4 279.1 590.5 274.3 592 270.3 593.5 267.9 595.9 265.8 598.3 264.9 600.7 264.9 604.1 266.3 608.7 272.9 609.5 273.6 611.1 273.7 612.7 272.2 615.1 267.7 616.7 265.9 618.3 264.9 619.9 264.6 622.3 265.1 623.9 266.3 625.1 267.9 626.5 272.7 626.6 278.3 625.4 282.3 623.1 285.4 619.9 287.7 615.9 289.1 609.5 290.3Z" fill="#e7e744" fill-rule="evenodd"/>
<path d="M603.9 289.5 600.7 289.2 597.5 287.8 594.9 285.5 592.9 282.3 592.1 279.1 592.1 275.1 593.1 271.1 595 267.9 596.7 266.4 598.3 265.7 599.9 265.6 602.3 266 604.7 267.7 608.6 273.5 610.3 274.5 611.1 274.4 612.4 273.5 615.6 267.9 617.5 266.1 619.9 265.3 621.5 265.6 622.6 266.3 624.3 268.7 625.2 273.5 624.7 279.1 622.8 283.1 619.9 285.8 615.9 287.5 609.5 289 603.9 289.5Z" fill="#eed03a" fill-rule="evenodd"/>
<path d="M610.3 288 604.7 288.5 600.7 288 597.3 286.3 594.6 283.1 593.2 279.1 593.3 274.3 594.9 269.5 597.5 266.9 599.9 266.3 603.1 267.1 604.9 268.7 608.7 274.3 610.3 275.2 611.9 274.8 612.7 274 615.9 268.4 618.3 266.4 620.7 266.1 622.3 267 623.1 268 624.2 271.1 624.3 274.3 623.8 278.3 622.5 281.5 620.7 283.7 618.3 285.4 615.1 286.7 610.3 288Z" fill="#f1ae35" fill-rule="evenodd"/>
<path d="M611.1 287.1 606.3 287.7 601.5 287.4 598.3 286 595.9 283.5 594.3 279.9 594 275.1 595.3 270.3 597.5 267.7 599.9 266.9 603.1 267.8 605 269.5 608.1 274.3 610.3 275.8 611.9 275.5 612.7 274.8 615.9 269.3 617.5 267.5 619.9 266.7 621.3 267.1 622.3 268 623.4 270.3 623.6 273.5 623.1 277.5 621.9 280.7 620.7 282.4 618.3 284.4 615.1 285.9 611.1 287.1Z" fill="#ef8e31" fill-rule="evenodd"/>
<path d="M611.1 286.5 606.3 287.1 602.3 286.8 599.1 285.6 596.7 283.4 595 279.9 594.6 275.9 595.6 271.1 597.5 268.4 599.9 267.5 601.5 267.7 603.1 268.4 604.7 269.9 608.7 275.6 611.1 276.4 613.2 275.1 616.4 269.5 617.9 267.9 619.9 267.3 621.3 267.9 622.1 268.7 622.9 271.1 622.9 274.3 622.1 278.3 621 280.7 619.7 282.3 617.5 283.9 611.1 286.5Z" fill="#eb6e2d" fill-rule="evenodd"/>
<path d="M608.7 286.4 604.7 286.5 601.5 286 599.1 284.8 597.3 283.1 595.7 279.9 595.2 276.7 595.5 273.5 596.7 270.2 597.5 269.2 599.1 268.2 600.7 268.1 602.3 268.6 604.7 270.6 608.4 275.9 609.5 276.7 611.1 277.1 612.4 276.7 613.5 275.7 617.5 268.9 619.1 268 620.7 268.2 622.2 270.3 622.4 272.7 621.9 276.7 620.6 279.9 619.1 281.8 616 283.9 611.9 285.7 608.7 286.4Z" fill="#e7522a" fill-rule="evenodd"/>
<path d="M610.3 285.6 606.3 286 602.3 285.6 599.9 284.6 597.5 282.3 596.1 279.1 595.8 275.1 596.7 271.4 598.3 269.3 600.7 268.6 603.1 269.6 604.7 271.3 607.9 276 609.5 277.3 611.1 277.7 612.7 277.3 613.5 276.7 616.7 270.9 618.3 269 619.9 268.7 621.1 269.5 621.8 271.1 621.8 273.5 621 277.5 619.9 279.7 618.3 281.5 615.9 283.1 610.3 285.6Z" fill="#e04629" fill-rule="evenodd"/>
<path d="M607.1 285.5 603.9 285.4 601.5 284.7 599.1 283.2 597.7 281.5 596.7 279.1 596.3 275.9 596.8 272.7 598 270.3 599.9 269.2 602.3 269.7 604.6 271.9 607.9 276.7 609.5 277.8 611.9 278.3 613.5 277.8 614.3 276.9 616.8 271.9 618.3 269.8 619.9 269.5 620.7 270.1 621.2 271.9 620.9 275.1 619.9 278.3 618.8 279.9 612.7 284.1 610.3 285 607.1 285.5Z" fill="#da3928" fill-rule="evenodd"/>
<path d="M609.5 284.7 606.3 285.1 603.1 284.7 600.7 283.7 598.4 281.5 597.1 278.3 596.9 275.1 597.5 272.1 598.9 270.3 600.7 269.8 602.3 270.3 604.1 271.9 607.9 277.3 610.3 278.8 612.7 279.1 614.3 278.5 615 277.5 618.1 271.1 619.1 270.4 619.9 270.6 620.5 271.9 620.5 273.5 619.9 276.2 618.9 278.3 617.5 279.8 613.1 283.1 609.5 284.7Z" fill="#d03027" fill-rule="evenodd"/>
<path d="M609.5 284.1 606.3 284.5 603.1 284.1 600.9 283.1 599.1 281.5 597.9 279.1 597.4 275.9 598 272.7 599.1 271 600.7 270.5 602.4 271.1 603.9 272.5 607.9 278.1 612.8 280.7 613 281.5 612.5 282.3 611.7 283.1 609.5 284.1ZM617.5 277.4 617.1 276.7 617.5 274.5 618.3 272.9 619.1 272.5 619.1 274.8 618.3 276.7 617.5 277.4Z" fill="#c22926" fill-rule="evenodd"/>
<path d="M608.7 283.2 606.3 283.5 603.2 283.1 601.5 282.3 599.9 280.8 599 279.1 598.4 275.9 598.8 273.5 599.9 271.9 601.5 271.9 602.7 272.7 606.8 278.3 609.7 280.7 610.3 281.5 610.1 282.3 608.7 283.2Z" fill="#9b1e21" fill-rule="evenodd"/>
<path d="M605.4 256.7 606.3 255.9 606.6 254.3 606.2 253.5 604.7 252.3 601.5 251.7 599.9 252.2 598.6 253.5 598.5 255.1 599.9 256.7 603.1 257.4 605.4 256.7M618.9 256.7 619.9 255.9 620.5 254.3 619.6 252.7 618.3 252 615.9 251.7 614.3 252.2 612.7 253.4 612.2 254.3 612.5 255.9 614.3 257.2 616.7 257.4 618.9 256.7M611.4 269.5 612.4 267.1 612.7 262.2 614.3 260.8 619.1 259.2 621.7 257.5 623 255.1 623 253.5 622.3 252.2 619.9 250.4 616.7 249.8 614.3 250.1 609.5 251.7 604.7 250.1 602.3 249.8 599.9 250.1 597.5 251.2 595.8 253.5 595.8 255.1 596.5 256.7 599.1 258.8 605.7 260.7 607 261.5 607.6 263.1 607.3 266.3 607.9 268.3 609.5 270.1 610.3 270.3 611.4 269.5M581.5 274.9 583.6 270.3 586.8 267.1 591.6 264.7 597.5 263.2 600.7 263.5 603.9 264.8 605.5 266.4 608.7 271.8 610.3 272.8 611.9 271.9 614.5 267.1 615.9 265.2 618.3 263.7 621.5 263.1 623.9 263.6 631.9 267.4 634.4 269.5 636.7 273.1M636.7 282.4 634.9 285.5 631.9 288.7 628.7 291 624.7 293 620.7 294.4 615.9 295.5 603.9 296.2 599.9 295.8 596.7 294.9 590.3 291.6 586.7 288.7 584.4 286.3 582.8 283.9 581.5 280.6M606.3 288.8 602.3 288.7 599.1 287.8 595.9 285.5 594.2 283.1 593 279.9 592.7 275.9 593.5 271.9 595.1 268.7 596.7 267.1 598.3 266.3 599.9 266 602.3 266.5 604.7 268.2 608.7 274 609.5 274.7 611.1 274.9 612.7 273.7 615.5 268.7 617.5 266.6 619.9 265.8 622.3 266.7 624.1 269.5 624.6 273.5 624.1 278.3 622.4 282.3 619.9 284.9 616.7 286.5 611.1 288.1 606.3 288.8M609.5 286.4 605.5 286.7 601.5 286.2 599.1 285 597.1 283.1 595.5 279.9 595 276.7 595.3 273.5 596.4 270.3 597.5 269 599.1 268 600.7 267.9 602.3 268.4 604.7 270.3 608.6 275.9 611.1 276.9 612.7 276.2 613.5 275.4 617.5 268.7 619.1 267.8 620.7 268 622.1 269.5 622.6 272.7 621.9 277.5 620.7 280.3 619.1 282.1 616.5 283.9 612.7 285.6 609.5 286.4M609.5 284.9 606.3 285.2 602.6 284.7 599.9 283.4 598.3 281.7 597.1 279.1 596.7 275.9 597.1 272.7 598.6 270.3 599.9 269.7 602.3 270.2 604.2 271.9 607.9 277.1 609.5 278.2 611.9 278.9 613.5 278.6 614.3 278 617.5 271.5 619.1 270.1 620 270.3 620.7 271.5 620.7 273.5 620 276.7 619.1 278.5 617.5 280.2 613.5 283.1 609.5 284.9" fill="none" stroke="#1a1a1a" stroke-width="0.7" stroke-opacity="0.85"/>
</g>
<rect x="583" y="265.6" width="2.8" height="12.6" rx="1.3" fill="#5b682e" stroke="#111" stroke-width="1.5"/>
<rect x="633" y="265.6" width="2.8" height="12.6" rx="1.3" fill="#5b682e" stroke="#111" stroke-width="1.5"/>
<path d="M605.2 248.7 L609.4 243.5 L613.6 248.7" fill="none" stroke="#231f20" stroke-width="1.8" stroke-linejoin="round"/>
<circle cx="609.4" cy="271.8" r="23.7" fill="none" stroke="#111" stroke-width="2.3"/>
<circle cx="130.4" cy="203.4" r="1.8" fill="#8a878c" stroke="#f3efd6" stroke-width="1"/>
<defs><linearGradient id="cbar" x1="0" y1="1" x2="0" y2="0"><stop offset="0" stop-color="#30307a"/><stop offset="0" stop-color="#373e9e"/><stop offset="0.1" stop-color="#3e54ba"/><stop offset="0.2" stop-color="#4670ca"/><stop offset="0.2" stop-color="#4e8cd4"/><stop offset="0.3" stop-color="#73c3e2"/><stop offset="0.4" stop-color="#8cd8e4"/><stop offset="0.5" stop-color="#a8e6aa"/><stop offset="0.5" stop-color="#d2ea5a"/><stop offset="0.6" stop-color="#ece63e"/><stop offset="0.7" stop-color="#f2a834"/><stop offset="0.8" stop-color="#e8552a"/><stop offset="0.9" stop-color="#d83428"/><stop offset="0.9" stop-color="#c42a26"/><stop offset="1" stop-color="#87191e"/></linearGradient></defs>
<rect x="649.8" y="260.1" width="6.9" height="32.6" fill="url(#cbar)"/>
<text x="658.3" y="265.6" font-size="9" text-anchor="start" font-weight="normal">max</text>
<text x="658.6" y="292.5" font-size="8.6" text-anchor="start" font-weight="normal">0</text>
<text x="0" y="0" font-size="10.3" transform="translate(675.6,253) rotate(90)">Rel Power</text>
<rect x="33.4" y="339.8" width="124.3" height="197.3" fill="#7d7a7d"/>
<path d="M32.5,474.9 L39.4,479.6 L47.3,482.2 L55.2,479.6 L61.5,475.5 L67.8,465.4 L74.1,450.4 L80.4,428.6 L86.7,407.5 L93,382.4 L96.1,369.4 L98.6,378.7 L100.8,397 L104,408.9 L108.7,411.3 L112.5,425.2 L116.6,455.1 L121.3,483.7 L126,503.1 L132.3,511.1 L140.2,514.3 L149.6,518.3 L157.5,519 L157.5,522 L149.6,521.3 L140.2,517.3 L132.3,514.1 L126,506.3 L121.3,488.1 L116.6,466.3 L112.5,445.8 L108.7,434.5 L104,427.5 L100.8,417.4 L98.6,404.3 L96.1,401 L93,406.8 L86.7,425.7 L80.4,448.8 L74.1,458.4 L67.8,468.6 L61.5,478.5 L55.2,482.6 L47.3,485.2 L39.4,482.6 L32.5,477.9 Z" fill="#5b585b"/>
<path d="M32.5,450.7 L42,464.7 L52.5,471.2 L60.4,475.2 L68.3,472 L76.2,469 L82,465.7 L89.3,459.9 L96.5,450.7 L103.8,454.3 L110.4,470.9 L118.2,485.4 L124.8,498.7 L131.4,508 L141.9,512 L157.5,515.7 L157.5,518.9 L141.9,515.2 L131.4,511.2 L124.8,502.1 L118.2,489.2 L110.4,477.5 L103.8,465.1 L96.5,463.9 L89.3,470.1 L82,471.5 L76.2,473 L68.3,475.2 L60.4,478.4 L52.5,474.4 L42,467.9 L32.5,453.9 Z" fill="#a9a7a9"/>
<path d="M32.5,452.3 C34.1,454.6 38.7,462.9 42,466.3 C45.3,469.7 49.4,471.1 52.5,472.8 C55.6,474.6 57.8,476.7 60.4,476.8 C63,476.9 65.7,474.6 68.3,473.6 C70.9,472.6 73.9,471.8 76.2,471 C78.5,470.2 79.8,469.6 82,468.6 C84.2,467.6 86.9,466.9 89.3,465 C91.7,463.1 94.1,458.2 96.5,457.3 C98.9,456.4 101.5,456.9 103.8,459.7 C106.1,462.5 108,469.6 110.4,474.2 C112.8,478.8 115.8,482.9 118.2,487.3 C120.6,491.7 122.6,496.7 124.8,500.4 C127,504.1 128.6,507.4 131.4,509.6 C134.2,511.8 137.6,512.3 141.9,513.6 C146.2,514.9 154.9,516.7 157.5,517.3" fill="none" stroke="#fff" stroke-width="2.9" stroke-linejoin="round"/>
<path d="M32.5,476.4 C33.6,477.2 36.9,479.9 39.4,481.1 C41.9,482.3 44.7,483.7 47.3,483.7 C49.9,483.7 52.8,482.2 55.2,481.1 C57.6,480 59.4,479.4 61.5,477 C63.6,474.6 65.7,470.8 67.8,467 C69.9,463.2 72,459.1 74.1,454.4 C76.2,449.7 78.3,445 80.4,438.7 C82.5,432.4 84.6,424 86.7,416.6 C88.8,409.2 91.4,399.8 93,394.6 C94.6,389.4 95.2,385.7 96.1,385.2 C97,384.7 97.8,387.8 98.6,391.5 C99.4,395.2 99.9,402.8 100.8,407.2 C101.7,411.6 102.7,415.6 104,418.2 C105.3,420.8 107.3,420 108.7,422.9 C110.1,425.8 111.2,429.2 112.5,435.5 C113.8,441.8 115.1,452.3 116.6,460.7 C118.1,469.1 119.7,478.6 121.3,485.9 C122.9,493.2 124.2,500.2 126,504.7 C127.8,509.1 129.9,510.8 132.3,512.6 C134.7,514.5 137.3,514.6 140.2,515.8 C143.1,517 146.7,519 149.6,519.8 C152.5,520.6 156.2,520.4 157.5,520.5" fill="none" stroke="#0f0d0e" stroke-width="3" stroke-linejoin="round"/>
<rect x="106.5" y="355.5" width="17.5" height="2.6" fill="#0f0d0e"/>
<rect x="107.3" y="366.1" width="17.8" height="2.6" fill="#fff"/>
<text x="126.3" y="359.4" font-size="8.85">Closed</text>
<text x="126.3" y="370.2" font-size="8.85">Open</text>
<rect x="31" y="337.6" width="2.5" height="201.6" fill="#231f20"/>
<rect x="31" y="536.8" width="127.2" height="2.5" fill="#231f20"/>
<rect x="33.3" y="338.6" width="2.4" height="1.3" fill="#231f20"/>
<rect x="33.3" y="388.2" width="2.4" height="1.3" fill="#231f20"/>
<rect x="33.3" y="437.8" width="2.4" height="1.3" fill="#231f20"/>
<rect x="33.3" y="487.4" width="2.4" height="1.3" fill="#231f20"/>
<rect x="31.6" y="535.2" width="1.3" height="2" fill="#231f20"/>
<rect x="94.3" y="535.2" width="1.3" height="2" fill="#231f20"/>
<rect x="156.7" y="535.2" width="1.3" height="2" fill="#231f20"/>
<rect x="210" y="339.8" width="124" height="197.3" fill="#7d7a7d"/>
<path d="M237.2 407.8L297.6 401.8M230.2 410L296.5 394.4M243.2 415.9L307.6 376.6M247.3 422.5L306 380M244.6 431.6L310 366.8M246.2 433.6L306.6 403.4M244 436L310 396M238 437L298.6 408.4M235.2 439.2L293.5 407.8M241.2 441.6L307.6 407.4M244.8 441.6L307.6 411M241.5 445.8L292.5 394.4M239 446L304 377.7M236.5 449.3L295.1 378.9M242 449.7L307.6 414.5M257.2 450.7L309 411M243 453L296 412M236.1 455.2L302.6 430M246.8 456L299.2 417.5M237 458L302.6 421.5M242 462L319.7 417.5M229.6 464.5L304 394.4M245.4 465.5L292.1 420.5M231 466L305.9 450.3M234.6 468.4L305 428M247 470L315.7 427.6M240 470L297.6 455.6M243.4 470.4L300.6 463.1M232.6 470.4L290.1 458M231 474L300 435M244.4 474.3L294 470M227.7 477.3L300 398M240.5 477.3L303 445M238 479L315.4 476.3M230.6 481.6L303.2 382.9M247.4 482.2L303.5 450.7M234.6 482.8L304 466M246 485L312.4 474.3M250 486L309 470.4M233 487L293.3 481.6M238.5 487.2L298.6 488.1M228 489L305 438.6M248 489.1L296 425M236 491L311.4 480.3M240 493L303 488M252.3 493.1L298 490.1M235.5 493.1L299 476M249 494L308.5 455.2M230.6 495L296.6 483.2M245.4 497L310 460M241 497L301.6 480.3M231.6 498L308 487M253.3 498L307.5 492.7M237.5 499L299.2 469.4M243.4 500L305.5 506.5M233 500L294.7 461.1" stroke="#2a282a" stroke-width="0.55" stroke-opacity="0.85" fill="none"/>
<circle cx="310" cy="366.8" r="2.8" fill="#0d0b0c"/>
<circle cx="295.1" cy="378.9" r="2.8" fill="#0d0b0c"/>
<circle cx="304" cy="377.7" r="2.8" fill="#0d0b0c"/>
<circle cx="307.6" cy="376.6" r="2.8" fill="#0d0b0c"/>
<circle cx="303.2" cy="382.9" r="2.8" fill="#0d0b0c"/>
<circle cx="292.5" cy="394.4" r="2.8" fill="#0d0b0c"/>
<circle cx="296.5" cy="394.4" r="2.8" fill="#0d0b0c"/>
<circle cx="304" cy="394.4" r="2.8" fill="#0d0b0c"/>
<circle cx="297.6" cy="401.8" r="2.8" fill="#0d0b0c"/>
<circle cx="306.6" cy="403.4" r="2.8" fill="#0d0b0c"/>
<circle cx="293.5" cy="407.8" r="2.8" fill="#0d0b0c"/>
<circle cx="298.6" cy="408.4" r="2.8" fill="#0d0b0c"/>
<circle cx="307.6" cy="407.4" r="2.8" fill="#0d0b0c"/>
<circle cx="307.6" cy="411" r="2.8" fill="#0d0b0c"/>
<circle cx="307.6" cy="414.5" r="2.8" fill="#0d0b0c"/>
<circle cx="319.7" cy="417.5" r="2.8" fill="#0d0b0c"/>
<circle cx="292.1" cy="420.5" r="2.8" fill="#0d0b0c"/>
<circle cx="299.2" cy="417.5" r="2.8" fill="#0d0b0c"/>
<circle cx="302.6" cy="421.5" r="2.8" fill="#0d0b0c"/>
<circle cx="305" cy="428" r="2.8" fill="#0d0b0c"/>
<circle cx="302.6" cy="430" r="2.8" fill="#0d0b0c"/>
<circle cx="315.7" cy="427.6" r="2.8" fill="#0d0b0c"/>
<circle cx="305" cy="438.6" r="2.8" fill="#0d0b0c"/>
<circle cx="303.5" cy="450.7" r="2.8" fill="#0d0b0c"/>
<circle cx="305.9" cy="450.3" r="2.8" fill="#0d0b0c"/>
<circle cx="308.5" cy="455.2" r="2.8" fill="#0d0b0c"/>
<circle cx="290.1" cy="458" r="2.8" fill="#0d0b0c"/>
<circle cx="297.6" cy="455.6" r="2.8" fill="#0d0b0c"/>
<circle cx="294.7" cy="461.1" r="2.8" fill="#0d0b0c"/>
<circle cx="300.6" cy="463.1" r="2.8" fill="#0d0b0c"/>
<circle cx="310" cy="460" r="2.8" fill="#0d0b0c"/>
<circle cx="299.2" cy="469.4" r="2.8" fill="#0d0b0c"/>
<circle cx="309" cy="470.4" r="2.8" fill="#0d0b0c"/>
<circle cx="312.4" cy="474.3" r="2.8" fill="#0d0b0c"/>
<circle cx="315.4" cy="476.3" r="2.8" fill="#0d0b0c"/>
<circle cx="311.4" cy="480.3" r="2.8" fill="#0d0b0c"/>
<circle cx="293.3" cy="481.6" r="2.8" fill="#0d0b0c"/>
<circle cx="296.6" cy="483.2" r="2.8" fill="#0d0b0c"/>
<circle cx="301.6" cy="480.3" r="2.8" fill="#0d0b0c"/>
<circle cx="298.6" cy="488.1" r="2.8" fill="#0d0b0c"/>
<circle cx="298" cy="490.1" r="2.8" fill="#0d0b0c"/>
<circle cx="307.5" cy="492.7" r="2.8" fill="#0d0b0c"/>
<circle cx="305.5" cy="506.5" r="2.8" fill="#0d0b0c"/>
<circle cx="309" cy="411" r="2.8" fill="#0d0b0c"/>
<circle cx="300" cy="398" r="2.8" fill="#0d0b0c"/>
<circle cx="306" cy="380" r="2.8" fill="#0d0b0c"/>
<circle cx="296" cy="412" r="2.8" fill="#0d0b0c"/>
<circle cx="304" cy="466" r="2.8" fill="#0d0b0c"/>
<circle cx="299" cy="476" r="2.8" fill="#0d0b0c"/>
<circle cx="310" cy="396" r="2.8" fill="#0d0b0c"/>
<circle cx="303" cy="445" r="2.8" fill="#0d0b0c"/>
<circle cx="296" cy="425" r="2.8" fill="#0d0b0c"/>
<circle cx="308" cy="487" r="2.8" fill="#0d0b0c"/>
<circle cx="294" cy="470" r="2.8" fill="#0d0b0c"/>
<circle cx="303" cy="488" r="2.8" fill="#0d0b0c"/>
<circle cx="300" cy="435" r="2.8" fill="#0d0b0c"/>
<circle cx="230.2" cy="410" r="2.8" fill="#fff"/>
<circle cx="237.2" cy="407.8" r="2.8" fill="#fff"/>
<circle cx="243.2" cy="415.9" r="2.8" fill="#fff"/>
<circle cx="247.3" cy="422.5" r="2.8" fill="#fff"/>
<circle cx="244.6" cy="431.6" r="2.8" fill="#fff"/>
<circle cx="246.2" cy="433.6" r="2.8" fill="#fff"/>
<circle cx="235.2" cy="439.2" r="2.8" fill="#fff"/>
<circle cx="241.2" cy="441.6" r="2.8" fill="#fff"/>
<circle cx="244.8" cy="441.6" r="2.8" fill="#fff"/>
<circle cx="241.5" cy="445.8" r="2.8" fill="#fff"/>
<circle cx="236.5" cy="449.3" r="2.8" fill="#fff"/>
<circle cx="242" cy="449.7" r="2.8" fill="#fff"/>
<circle cx="257.2" cy="450.7" r="2.8" fill="#fff"/>
<circle cx="236.1" cy="455.2" r="2.8" fill="#fff"/>
<circle cx="246.8" cy="456" r="2.8" fill="#fff"/>
<circle cx="229.6" cy="464.5" r="2.8" fill="#fff"/>
<circle cx="234.6" cy="468.4" r="2.8" fill="#fff"/>
<circle cx="245.4" cy="465.5" r="2.8" fill="#fff"/>
<circle cx="243.4" cy="470.4" r="2.8" fill="#fff"/>
<circle cx="232.6" cy="470.4" r="2.8" fill="#fff"/>
<circle cx="244.4" cy="474.3" r="2.8" fill="#fff"/>
<circle cx="227.7" cy="477.3" r="2.8" fill="#fff"/>
<circle cx="240.5" cy="477.3" r="2.8" fill="#fff"/>
<circle cx="230.6" cy="481.6" r="2.8" fill="#fff"/>
<circle cx="234.6" cy="482.8" r="2.8" fill="#fff"/>
<circle cx="247.4" cy="482.2" r="2.8" fill="#fff"/>
<circle cx="238.5" cy="487.2" r="2.8" fill="#fff"/>
<circle cx="248" cy="489.1" r="2.8" fill="#fff"/>
<circle cx="252.3" cy="493.1" r="2.8" fill="#fff"/>
<circle cx="230.6" cy="495" r="2.8" fill="#fff"/>
<circle cx="235.5" cy="493.1" r="2.8" fill="#fff"/>
<circle cx="231.6" cy="498" r="2.8" fill="#fff"/>
<circle cx="237.5" cy="499" r="2.8" fill="#fff"/>
<circle cx="243.4" cy="500" r="2.8" fill="#fff"/>
<circle cx="253.3" cy="498" r="2.8" fill="#fff"/>
<circle cx="245.4" cy="497" r="2.8" fill="#fff"/>
<circle cx="240" cy="493" r="2.8" fill="#fff"/>
<circle cx="233" cy="487" r="2.8" fill="#fff"/>
<circle cx="249" cy="494" r="2.8" fill="#fff"/>
<circle cx="238" cy="479" r="2.8" fill="#fff"/>
<circle cx="242" cy="462" r="2.8" fill="#fff"/>
<circle cx="237" cy="458" r="2.8" fill="#fff"/>
<circle cx="244" cy="436" r="2.8" fill="#fff"/>
<circle cx="231" cy="474" r="2.8" fill="#fff"/>
<circle cx="239" cy="446" r="2.8" fill="#fff"/>
<circle cx="247" cy="470" r="2.8" fill="#fff"/>
<circle cx="228" cy="489" r="2.8" fill="#fff"/>
<circle cx="236" cy="491" r="2.8" fill="#fff"/>
<circle cx="250" cy="486" r="2.8" fill="#fff"/>
<circle cx="241" cy="497" r="2.8" fill="#fff"/>
<circle cx="233" cy="500" r="2.8" fill="#fff"/>
<circle cx="246" cy="485" r="2.8" fill="#fff"/>
<circle cx="240" cy="470" r="2.8" fill="#fff"/>
<circle cx="231" cy="466" r="2.8" fill="#fff"/>
<circle cx="243" cy="453" r="2.8" fill="#fff"/>
<circle cx="238" cy="437" r="2.8" fill="#fff"/>
<rect x="207.6" y="337.6" width="2.5" height="200.8" fill="#231f20"/>
<rect x="207.6" y="536" width="127.5" height="2.5" fill="#231f20"/>
<rect x="209.8" y="338.6" width="2.4" height="1.3" fill="#231f20"/>
<rect x="209.8" y="388.2" width="2.4" height="1.3" fill="#231f20"/>
<rect x="209.8" y="437.8" width="2.4" height="1.3" fill="#231f20"/>
<rect x="209.8" y="487.4" width="2.4" height="1.3" fill="#231f20"/>
<rect x="239.3" y="534.4" width="1.3" height="2" fill="#231f20"/>
<rect x="270.9" y="534.4" width="1.3" height="2" fill="#231f20"/>
<rect x="302.4" y="534.4" width="1.3" height="2" fill="#231f20"/>
<rect x="333.4" y="534.4" width="1.3" height="2" fill="#231f20"/>
<rect x="384.8" y="339.8" width="124.1" height="197.3" fill="#7d7a7d"/>
<path d="M382.5,476.5 L389.4,481.2 L397.3,482.8 L405.2,485.3 L411.5,484.4 L416.2,480.7 L420.9,468.6 L425.6,444.9 L430.4,422.2 L435.1,398.3 L439.8,374.9 L442.3,369.4 L444.5,376.9 L447.7,397.6 L452.4,409.4 L458.7,419 L463.4,433.9 L468.1,461.8 L474.4,490.7 L480.7,506.4 L490.2,514.3 L499.6,517.4 L507.5,519 L507.5,522 L499.6,520.4 L490.2,517.3 L480.7,509.4 L474.4,493.7 L468.1,465.8 L463.4,443.5 L458.7,439.4 L452.4,430.2 L447.7,416.8 L444.5,402.9 L442.3,401 L439.8,401.7 L435.1,416.1 L430.4,442.6 L425.6,463.9 L420.9,478 L416.2,484.7 L411.5,487.4 L405.2,488.3 L397.3,485.8 L389.4,484.2 L382.5,479.5 Z" fill="#5b585b"/>
<path d="M382.5,446.5 L389.4,459.1 L397.3,471.7 L405.2,479.5 L413,482.7 L420.9,485.5 L427.2,481.6 L435.1,471.3 L443,465.1 L450.8,460.3 L455.5,465 L461.8,477.4 L468.1,487.3 L474.4,500 L483.9,509.4 L493.3,512.6 L507.5,515.1 L507.5,518.3 L493.3,515.8 L483.9,512.6 L474.4,503.2 L468.1,490.7 L461.8,481.8 L455.5,472.2 L450.8,470.5 L443,478.3 L435.1,481.5 L427.2,487 L420.9,489.3 L413,485.9 L405.2,482.7 L397.3,474.9 L389.4,462.3 L382.5,449.7 Z" fill="#a9a7a9"/>
<path d="M382.5,448.1 C383.6,450.2 386.9,456.5 389.4,460.7 C391.9,464.9 394.7,469.9 397.3,473.3 C399.9,476.7 402.6,479.3 405.2,481.1 C407.8,482.9 410.4,483.2 413,484.3 C415.6,485.4 418.5,487.4 420.9,487.4 C423.3,487.4 424.8,486.1 427.2,484.3 C429.6,482.5 432.5,478.5 435.1,476.4 C437.7,474.3 440.4,473.5 443,471.7 C445.6,469.9 448.7,465.9 450.8,465.4 C452.9,464.9 453.7,466.2 455.5,468.6 C457.3,471 459.7,476.2 461.8,479.6 C463.9,483 466,485.3 468.1,489 C470.2,492.7 471.8,497.9 474.4,501.6 C477,505.3 480.8,508.9 483.9,511 C487,513.1 489.4,513.2 493.3,514.2 C497.2,515.2 505.1,516.3 507.5,516.7" fill="none" stroke="#fff" stroke-width="2.9" stroke-linejoin="round"/>
<path d="M382.5,478 C383.6,478.8 386.9,481.6 389.4,482.7 C391.9,483.8 394.7,483.6 397.3,484.3 C399.9,485 402.8,486.5 405.2,486.8 C407.6,487.1 409.7,486.6 411.5,485.9 C413.3,485.2 414.6,484.8 416.2,482.7 C417.8,480.6 419.3,478 420.9,473.3 C422.5,468.6 424,461.2 425.6,454.4 C427.2,447.6 428.8,440.3 430.4,432.4 C432,424.5 433.5,414.5 435.1,407.2 C436.7,399.9 438.6,392 439.8,388.3 C441,384.6 441.5,384.9 442.3,385.2 C443.1,385.5 443.6,386.2 444.5,389.9 C445.4,393.6 446.4,402.2 447.7,407.2 C449,412.2 450.6,416.1 452.4,419.8 C454.2,423.5 456.9,426.1 458.7,429.2 C460.5,432.3 461.8,432.9 463.4,438.7 C465,444.5 466.3,454.9 468.1,463.8 C469.9,472.7 472.3,484.9 474.4,492.2 C476.5,499.5 478.1,504 480.7,507.9 C483.3,511.8 487,514 490.2,515.8 C493.4,517.6 496.7,518.1 499.6,518.9 C502.5,519.7 506.2,520.2 507.5,520.5" fill="none" stroke="#0f0d0e" stroke-width="3" stroke-linejoin="round"/>
<rect x="454" y="352.3" width="17.5" height="2.6" fill="#0f0d0e"/>
<rect x="454.8" y="362.9" width="17.8" height="2.6" fill="#fff"/>
<text x="473.8" y="356.2" font-size="8.85">Closed</text>
<text x="473.8" y="367" font-size="8.85">Open</text>
<rect x="382.2" y="337.6" width="2.5" height="201.6" fill="#231f20"/>
<rect x="382.2" y="536.8" width="127.3" height="2.5" fill="#231f20"/>
<rect x="384.5" y="338.6" width="2.4" height="1.3" fill="#231f20"/>
<rect x="384.5" y="388.2" width="2.4" height="1.3" fill="#231f20"/>
<rect x="384.5" y="437.8" width="2.4" height="1.3" fill="#231f20"/>
<rect x="384.5" y="487.4" width="2.4" height="1.3" fill="#231f20"/>
<rect x="382.9" y="535.2" width="1.3" height="2" fill="#231f20"/>
<rect x="445.4" y="535.2" width="1.3" height="2" fill="#231f20"/>
<rect x="508" y="535.2" width="1.3" height="2" fill="#231f20"/>
<rect x="551.3" y="339.8" width="123" height="197.3" fill="#7d7a7d"/>
<path d="M578.4 396.7L646.3 394.2M583.1 415.7L647.1 351.7M581.2 420L646 400M573.6 425.7L643 397M585 428.4L638.7 401M586 431.8L640.6 387.2M578 437.1L635.3 398M584 438L652 391.6M588 443L648.6 389.1M579.7 443.8L642.9 412.4M576.8 445.4L641 392M568.8 445.8L646.7 416.6M566.3 448.3L642 383.4M586.5 449.6L636.3 411.9M578.8 450.2L645.7 378.7M580.7 453.1L634 421M588.8 454.6L642 409M582 458L629.2 392.3M579 461L650.5 420.8M582.6 464.2L640 405.2M575 468L637 416M586 470L639.1 420.4M583.6 470.8L647 435.8M568.8 471.9L641 431M578 474L647 427M576.8 475.2L644 422M573 476.2L644 438M584.5 476.2L636.5 438.7M580.7 477.1L644.4 427M574 479L646.7 435.6M578.8 480L640.3 441.5M585 481L645.1 443.5M581 482L648 446M579 484L649 452.1M574 485.8L631.5 383.4M583.6 486.7L636 445M587.4 487.3L624 450.2M571 488L637.2 427.6M580 490L645.7 407.1M569.2 491.5L641.8 469.4M576.8 491.9L640 463M573 493.5L643 456M561.1 494.4L639 394M582.6 494.4L645 470M587.4 495L647 462.3M581.7 497.7L643 480M577 498L638.4 476.2M572 500L639 487M586 500L634.5 475.8M574.9 500.2L632.5 432.7M584 502L645.7 485.4M575.9 504L649 491.2M580.7 506L645.1 478.1M574 506L639.3 482.9M583 507L637 470M586.5 509.2L643.2 493.1M571 509.8L650.9 454M576 511L633.6 435.8M579 512L638.4 456.9M582.6 516.2L641 448M577.8 518.5L637.4 490.6" stroke="#2a282a" stroke-width="0.55" stroke-opacity="0.85" fill="none"/>
<circle cx="647.1" cy="351.7" r="2.8" fill="#0d0b0c"/>
<circle cx="631.5" cy="383.4" r="2.8" fill="#0d0b0c"/>
<circle cx="645.7" cy="378.7" r="2.8" fill="#0d0b0c"/>
<circle cx="642" cy="383.4" r="2.8" fill="#0d0b0c"/>
<circle cx="640.6" cy="387.2" r="2.8" fill="#0d0b0c"/>
<circle cx="648.6" cy="389.1" r="2.8" fill="#0d0b0c"/>
<circle cx="652" cy="391.6" r="2.8" fill="#0d0b0c"/>
<circle cx="629.2" cy="392.3" r="2.8" fill="#0d0b0c"/>
<circle cx="641" cy="392" r="2.8" fill="#0d0b0c"/>
<circle cx="646.3" cy="394.2" r="2.8" fill="#0d0b0c"/>
<circle cx="635.3" cy="398" r="2.8" fill="#0d0b0c"/>
<circle cx="638.7" cy="401" r="2.8" fill="#0d0b0c"/>
<circle cx="640" cy="405.2" r="2.8" fill="#0d0b0c"/>
<circle cx="645.7" cy="407.1" r="2.8" fill="#0d0b0c"/>
<circle cx="636.3" cy="411.9" r="2.8" fill="#0d0b0c"/>
<circle cx="642.9" cy="412.4" r="2.8" fill="#0d0b0c"/>
<circle cx="646.7" cy="416.6" r="2.8" fill="#0d0b0c"/>
<circle cx="639.1" cy="420.4" r="2.8" fill="#0d0b0c"/>
<circle cx="650.5" cy="420.8" r="2.8" fill="#0d0b0c"/>
<circle cx="644.4" cy="427" r="2.8" fill="#0d0b0c"/>
<circle cx="637.2" cy="427.6" r="2.8" fill="#0d0b0c"/>
<circle cx="632.5" cy="432.7" r="2.8" fill="#0d0b0c"/>
<circle cx="646.7" cy="435.6" r="2.8" fill="#0d0b0c"/>
<circle cx="633.6" cy="435.8" r="2.8" fill="#0d0b0c"/>
<circle cx="647" cy="435.8" r="2.8" fill="#0d0b0c"/>
<circle cx="636.5" cy="438.7" r="2.8" fill="#0d0b0c"/>
<circle cx="640.3" cy="441.5" r="2.8" fill="#0d0b0c"/>
<circle cx="645.1" cy="443.5" r="2.8" fill="#0d0b0c"/>
<circle cx="624" cy="450.2" r="2.8" fill="#0d0b0c"/>
<circle cx="649" cy="452.1" r="2.8" fill="#0d0b0c"/>
<circle cx="650.9" cy="454" r="2.8" fill="#0d0b0c"/>
<circle cx="638.4" cy="456.9" r="2.8" fill="#0d0b0c"/>
<circle cx="647" cy="462.3" r="2.8" fill="#0d0b0c"/>
<circle cx="641.8" cy="469.4" r="2.8" fill="#0d0b0c"/>
<circle cx="634.5" cy="475.8" r="2.8" fill="#0d0b0c"/>
<circle cx="638.4" cy="476.2" r="2.8" fill="#0d0b0c"/>
<circle cx="645.1" cy="478.1" r="2.8" fill="#0d0b0c"/>
<circle cx="639.3" cy="482.9" r="2.8" fill="#0d0b0c"/>
<circle cx="645.7" cy="485.4" r="2.8" fill="#0d0b0c"/>
<circle cx="637.4" cy="490.6" r="2.8" fill="#0d0b0c"/>
<circle cx="643.2" cy="493.1" r="2.8" fill="#0d0b0c"/>
<circle cx="649" cy="491.2" r="2.8" fill="#0d0b0c"/>
<circle cx="643" cy="397" r="2.8" fill="#0d0b0c"/>
<circle cx="637" cy="416" r="2.8" fill="#0d0b0c"/>
<circle cx="644" cy="422" r="2.8" fill="#0d0b0c"/>
<circle cx="641" cy="431" r="2.8" fill="#0d0b0c"/>
<circle cx="648" cy="446" r="2.8" fill="#0d0b0c"/>
<circle cx="636" cy="445" r="2.8" fill="#0d0b0c"/>
<circle cx="643" cy="456" r="2.8" fill="#0d0b0c"/>
<circle cx="640" cy="463" r="2.8" fill="#0d0b0c"/>
<circle cx="645" cy="470" r="2.8" fill="#0d0b0c"/>
<circle cx="639" cy="487" r="2.8" fill="#0d0b0c"/>
<circle cx="646" cy="400" r="2.8" fill="#0d0b0c"/>
<circle cx="642" cy="409" r="2.8" fill="#0d0b0c"/>
<circle cx="634" cy="421" r="2.8" fill="#0d0b0c"/>
<circle cx="644" cy="438" r="2.8" fill="#0d0b0c"/>
<circle cx="641" cy="448" r="2.8" fill="#0d0b0c"/>
<circle cx="637" cy="470" r="2.8" fill="#0d0b0c"/>
<circle cx="643" cy="480" r="2.8" fill="#0d0b0c"/>
<circle cx="647" cy="427" r="2.8" fill="#0d0b0c"/>
<circle cx="639" cy="394" r="2.8" fill="#0d0b0c"/>
<circle cx="578.4" cy="396.7" r="2.8" fill="#fff"/>
<circle cx="583.1" cy="415.7" r="2.8" fill="#fff"/>
<circle cx="581.2" cy="420" r="2.8" fill="#fff"/>
<circle cx="573.6" cy="425.7" r="2.8" fill="#fff"/>
<circle cx="585" cy="428.4" r="2.8" fill="#fff"/>
<circle cx="586" cy="431.8" r="2.8" fill="#fff"/>
<circle cx="578" cy="437.1" r="2.8" fill="#fff"/>
<circle cx="568.8" cy="445.8" r="2.8" fill="#fff"/>
<circle cx="566.3" cy="448.3" r="2.8" fill="#fff"/>
<circle cx="576.8" cy="445.4" r="2.8" fill="#fff"/>
<circle cx="579.7" cy="443.8" r="2.8" fill="#fff"/>
<circle cx="578.8" cy="450.2" r="2.8" fill="#fff"/>
<circle cx="586.5" cy="449.6" r="2.8" fill="#fff"/>
<circle cx="580.7" cy="453.1" r="2.8" fill="#fff"/>
<circle cx="588.8" cy="454.6" r="2.8" fill="#fff"/>
<circle cx="582.6" cy="464.2" r="2.8" fill="#fff"/>
<circle cx="568.8" cy="471.9" r="2.8" fill="#fff"/>
<circle cx="583.6" cy="470.8" r="2.8" fill="#fff"/>
<circle cx="573" cy="476.2" r="2.8" fill="#fff"/>
<circle cx="576.8" cy="475.2" r="2.8" fill="#fff"/>
<circle cx="580.7" cy="477.1" r="2.8" fill="#fff"/>
<circle cx="584.5" cy="476.2" r="2.8" fill="#fff"/>
<circle cx="578.8" cy="480" r="2.8" fill="#fff"/>
<circle cx="574" cy="485.8" r="2.8" fill="#fff"/>
<circle cx="583.6" cy="486.7" r="2.8" fill="#fff"/>
<circle cx="587.4" cy="487.3" r="2.8" fill="#fff"/>
<circle cx="569.2" cy="491.5" r="2.8" fill="#fff"/>
<circle cx="573" cy="493.5" r="2.8" fill="#fff"/>
<circle cx="576.8" cy="491.9" r="2.8" fill="#fff"/>
<circle cx="561.1" cy="494.4" r="2.8" fill="#fff"/>
<circle cx="582.6" cy="494.4" r="2.8" fill="#fff"/>
<circle cx="587.4" cy="495" r="2.8" fill="#fff"/>
<circle cx="574.9" cy="500.2" r="2.8" fill="#fff"/>
<circle cx="581.7" cy="497.7" r="2.8" fill="#fff"/>
<circle cx="575.9" cy="504" r="2.8" fill="#fff"/>
<circle cx="580.7" cy="506" r="2.8" fill="#fff"/>
<circle cx="571" cy="509.8" r="2.8" fill="#fff"/>
<circle cx="586.5" cy="509.2" r="2.8" fill="#fff"/>
<circle cx="582.6" cy="516.2" r="2.8" fill="#fff"/>
<circle cx="577.8" cy="518.5" r="2.8" fill="#fff"/>
<circle cx="579" cy="484" r="2.8" fill="#fff"/>
<circle cx="585" cy="481" r="2.8" fill="#fff"/>
<circle cx="577" cy="498" r="2.8" fill="#fff"/>
<circle cx="584" cy="502" r="2.8" fill="#fff"/>
<circle cx="572" cy="500" r="2.8" fill="#fff"/>
<circle cx="580" cy="490" r="2.8" fill="#fff"/>
<circle cx="586" cy="470" r="2.8" fill="#fff"/>
<circle cx="575" cy="468" r="2.8" fill="#fff"/>
<circle cx="582" cy="458" r="2.8" fill="#fff"/>
<circle cx="579" cy="512" r="2.8" fill="#fff"/>
<circle cx="574" cy="506" r="2.8" fill="#fff"/>
<circle cx="588" cy="443" r="2.8" fill="#fff"/>
<circle cx="584" cy="438" r="2.8" fill="#fff"/>
<circle cx="571" cy="488" r="2.8" fill="#fff"/>
<circle cx="578" cy="474" r="2.8" fill="#fff"/>
<circle cx="583" cy="507" r="2.8" fill="#fff"/>
<circle cx="576" cy="511" r="2.8" fill="#fff"/>
<circle cx="581" cy="482" r="2.8" fill="#fff"/>
<circle cx="574" cy="479" r="2.8" fill="#fff"/>
<circle cx="586" cy="500" r="2.8" fill="#fff"/>
<circle cx="579" cy="461" r="2.8" fill="#fff"/>
<rect x="548.5" y="337.6" width="2.5" height="200.8" fill="#231f20"/>
<rect x="548.5" y="536" width="126.6" height="2.5" fill="#231f20"/>
<rect x="550.7" y="338.6" width="2.4" height="1.3" fill="#231f20"/>
<rect x="550.7" y="388.2" width="2.4" height="1.3" fill="#231f20"/>
<rect x="550.7" y="437.8" width="2.4" height="1.3" fill="#231f20"/>
<rect x="550.7" y="487.4" width="2.4" height="1.3" fill="#231f20"/>
<rect x="579.6" y="534.4" width="1.3" height="2" fill="#231f20"/>
<rect x="610.9" y="534.4" width="1.3" height="2" fill="#231f20"/>
<rect x="642" y="534.4" width="1.3" height="2" fill="#231f20"/>
<rect x="673.4" y="534.4" width="1.3" height="2" fill="#231f20"/>
<text x="28.3" y="343.7" font-size="10.4" text-anchor="end">0.02</text>
<text x="204.3" y="343.7" font-size="10.4" text-anchor="end">0.02</text>
<text x="379.3" y="343.7" font-size="10.4" text-anchor="end">0.02</text>
<text x="545.5" y="343.7" font-size="10.4" text-anchor="end">0.02</text>
<text x="18.3" y="541.8" font-size="10.4" text-anchor="end">0</text>
<text x="198" y="541.8" font-size="10.4" text-anchor="end">0</text>
<text x="374.1" y="541.8" font-size="10.4" text-anchor="end">0</text>
<text x="538.3" y="541.8" font-size="10.4" text-anchor="end">0</text>
<text x="32.3" y="552.7" font-size="10.8" text-anchor="middle">5</text>
<text x="95.3" y="552.7" font-size="10.8" text-anchor="middle">10</text>
<text x="157.6" y="552.7" font-size="10.8" text-anchor="middle">15</text>
<text x="94.9" y="567.9" font-size="11.9" text-anchor="middle">Freq/Hz</text>
<text x="383.5" y="552.7" font-size="10.8" text-anchor="middle">5</text>
<text x="446" y="552.7" font-size="10.8" text-anchor="middle">10</text>
<text x="508.7" y="552.7" font-size="10.8" text-anchor="middle">15</text>
<text x="446.1" y="567.9" font-size="11.9" text-anchor="middle">Freq/Hz</text>
<text x="239.8" y="562.6" font-size="11.2" text-anchor="middle">Open</text>
<text x="302.5" y="562.6" font-size="11.2" text-anchor="middle">Closed</text>
<text x="583" y="558.3" font-size="11.2" text-anchor="middle">Open</text>
<text x="645.5" y="558.3" font-size="11.2" text-anchor="middle">Closed</text>
<text x="263.9" y="371.3" font-size="17.5" text-anchor="middle">***</text>
<text x="608.6" y="370.7" font-size="17.5" text-anchor="middle">***</text>
<text x="0" y="0" font-size="11.85" text-anchor="middle" transform="translate(13.2,435.8) rotate(-90)">Rel Power (ScZ, n=56)</text>
<text x="0" y="0" font-size="11.85" text-anchor="middle" transform="translate(194.9,437.5) rotate(-90)">Rel Alpha Power (8-12Hz)</text>
<text x="0" y="0" font-size="11.85" text-anchor="middle" transform="translate(369.9,435.5) rotate(-90)">Rel Power (HC, n=61)</text>
<text x="0" y="0" font-size="11.85" text-anchor="middle" transform="translate(535.8,437.8) rotate(-90)">Rel Alpha Power (8-12Hz)</text>
</svg>
</body></html>
